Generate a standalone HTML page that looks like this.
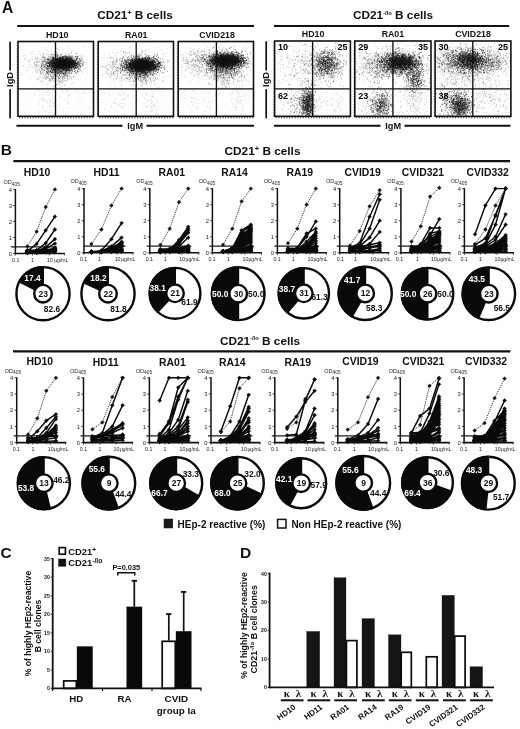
<!DOCTYPE html>
<html lang="en"><head><meta charset="utf-8"><title>Figure</title>
<style>
html,body{margin:0;padding:0;background:#fff}
svg{display:block;font-family:'Liberation Sans', sans-serif}
</style></head><body>
<svg width="520" height="729" viewBox="0 0 520 729">
<rect width="520" height="729" fill="#fff"/>
<text x="7.6" y="12.7" font-size="15.6" text-anchor="middle" font-weight="bold" fill="#111">A</text>
<text x="135" y="19.3" font-size="11.8" text-anchor="middle" font-weight="bold" fill="#111">CD21<tspan dy="-4" font-size="7">+</tspan><tspan dy="4"> B cells</tspan></text>
<line x1="17.2" y1="26" x2="254" y2="26" stroke="#111" stroke-width="1.9"/>
<text x="57.2" y="37.5" font-size="8.8" text-anchor="middle" font-weight="bold" fill="#111">HD10</text>
<text x="136.2" y="37.5" font-size="8.8" text-anchor="middle" font-weight="bold" fill="#111">RA01</text>
<text x="217" y="37.5" font-size="8.8" text-anchor="middle" font-weight="bold" fill="#111">CVID218</text>
<line x1="10.1" y1="41.8" x2="10.1" y2="70.6" stroke="#111" stroke-width="1.7"/>
<line x1="10.1" y1="89.2" x2="10.1" y2="118.3" stroke="#111" stroke-width="1.7"/>
<text x="12.9" y="79.4" font-size="9.3" text-anchor="middle" font-weight="bold" fill="#111" transform="rotate(-90 12.9 79.4)">IgD</text>
<line x1="16.4" y1="125.7" x2="122.5" y2="125.7" stroke="#111" stroke-width="1.9"/>
<line x1="146.5" y1="125.7" x2="254" y2="125.7" stroke="#111" stroke-width="1.9"/>
<text x="135.2" y="128.6" font-size="9.2" text-anchor="middle" font-weight="bold" fill="#111">IgM</text>
<text x="393" y="19.3" font-size="11.8" text-anchor="middle" font-weight="bold" fill="#111">CD21<tspan dy="-4.2" font-size="5.8">-/lo</tspan><tspan dy="4.2"> B cells</tspan></text>
<line x1="274" y1="26" x2="509.2" y2="26" stroke="#111" stroke-width="1.9"/>
<text x="313.1" y="37" font-size="8.8" text-anchor="middle" font-weight="bold" fill="#111">HD10</text>
<text x="392.9" y="37" font-size="8.8" text-anchor="middle" font-weight="bold" fill="#111">RA01</text>
<text x="473" y="37" font-size="8.8" text-anchor="middle" font-weight="bold" fill="#111">CVID218</text>
<line x1="266.2" y1="41.3" x2="266.2" y2="70.6" stroke="#111" stroke-width="1.7"/>
<line x1="266.2" y1="89.2" x2="266.2" y2="118.3" stroke="#111" stroke-width="1.7"/>
<text x="269" y="79.4" font-size="9.3" text-anchor="middle" font-weight="bold" fill="#111" transform="rotate(-90 269 79.4)">IgD</text>
<line x1="274" y1="125.7" x2="380.5" y2="125.7" stroke="#111" stroke-width="1.9"/>
<line x1="404.5" y1="125.7" x2="510.5" y2="125.7" stroke="#111" stroke-width="1.9"/>
<text x="393.2" y="128.6" font-size="9.2" text-anchor="middle" font-weight="bold" fill="#111">IgM</text>
<path transform="scale(.1)" d="m565 527h8m134 3h8m47 5h8m-340 4h8m174 4h8m-67 2h8m-3 0h8m9 1h8m-66 2h8m13 0h8m55 0h8m79 3h8m-127 1h8m-6 4h8m75 3h8m-14 2h8m161 0h8m-342 1h8m133 0h8m16 0h8m3 0h8m48 0h8m-7 0h8m-21 1h8m-141 1h8m99 0h8m3 0h8m-128 1h8m54 0h8m126 0h8m-117 1h8m12 0h8m66 0h8m-138 1h8m146 0h8m-264 1h8m74 0h8m30 1h8m45 0h8m69 0h8m-244 1h8m84 0h8m-2 0h8m132 0h8m-230 1h8m58 0h8m19 0h8m-7 0h8m10 0h8m1 0h8m28 0h8m-10 1h8m-203 1h8m11 0h8m124 0h8m-116 1h8m46 0h8m70 0h8m-66 1h8m37 0h8m-242 1h8m78 0h8m127 0h8m1 0h8m-40 1h8m-110 1h8m19 0h8m10 0h8m2 0h8m20 0h8m-6 0h8m46 0h8m-162 1h8m76 0h8m55 0h8m10 0h8m13 0h8m12 0h8m-194 1h8m26 0h8m2 0h8m3 0h8m-5 0h8m6 0h8m-3 0h8m91 0h8m-5 0h8m23 0h8m-146 1h8m45 0h8m26 0h8m69 0h8m-232 1h8m9 0h8m24 0h8m1 0h8m56 0h8m18 0h8m-177 1h8m2 0h8m-7 0h8m33 0h8m8 0h8m4 0h8m18 0h8m41 0h8m-3 0h8m-7 0h8m-6 0h8m-110 1h8m-1 0h8m24 0h8m-2 0h8m6 0h8m8 0h8m10 0h8m3 0h8m-4 0h8m-6 0h8m3 0h8m-2 0h8m85 0h8m-245 1h8m21 0h8m15 0h8m5 0h8m19 0h8m11 0h8m-5 0h8m18 0h8m-224 1h8m41 0h8m35 0h8m0 0h8m-2 0h8m13 0h8m-6 0h8m55 0h8m15 0h8m47 0h8m-306 1h8m70 0h8m14 0h8m80 0h8m-6 0h8m9 0h8m1 0h8m14 0h8m42 0h8m29 0h8m-318 1h8m40 0h8m24 0h8m0 0h8m24 0h8m11 0h8m-5 0h8m12 0h8m11 0h8m20 0h8m11 0h8m-4 0h8m44 0h8m-240 1h8m7 0h8m0 0h8m21 0h8m-1 0h8m-2 0h8m41 0h8m47 0h8m-136 1h8m16 0h8m3 0h8m10 0h8m47 0h8m10 0h8m-228 1h8m53 0h8m27 0h8m178 0h8m-294 1h8m31 0h8m0 0h8m54 0h8m31 0h8m32 0h8m-8 0h8m10 0h8m10 0h8m-236 1h8m22 0h8m-2 0h8m48 0h8m29 0h8m39 0h8m-2 0h8m-8 0h8m-7 0h8m-7 0h8m3 0h8m6 0h8m10 0h8m14 0h8m64 0h8m16 0h8m-286 1h8m7 0h8m16 0h8m29 0h8m37 0h8m8 0h8m4 0h8m3 0h8m58 0h8m-203 1h8m-6 0h8m-6 0h8m31 0h8m13 0h8m52 0h8m-1 0h8m-8 0h8m-236 1h8m43 0h8m-6 0h8m51 0h8m16 0h8m3 0h8m7 0h8m-7 0h8m-5 0h8m22 0h8m-2 0h8m0 0h8m-134 1h8m15 0h8m7 0h8m-6 0h8m5 0h8m-1 0h8m18 0h8m-206 1h8m73 0h8m-2 0h8m-4 0h8m16 0h8m3 0h8m-4 0h8m6 0h8m-6 0h8m1 0h8m14 0h8m18 0h8m1 0h8m1 0h8m35 0h8m8 0h8m25 0h8m-234 1h8m4 0h8m10 0h8m-6 0h8m31 0h8m25 0h8m-3 0h8m-7 0h8m-4 0h8m3 0h8m1 0h8m-4 0h8m-185 1h8m-3 0h8m6 0h8m8 0h8m21 0h8m-7 0h8m40 0h8m-8 0h8m8 0h8m-7 0h8m-8 0h8m-5 0h8m27 0h8m40 0h8m-5 0h8m-177 1h8m11 0h8m26 0h8m12 0h8m40 0h8m-7 0h8m35 0h8m3 0h8m0 0h8m2 0h8m-1 0h8m10 0h8m-244 1h8m1 0h8m6 0h8m38 0h8m26 0h8m-6 0h8m5 0h8m0 0h8m-4 0h8m18 0h8m0 0h8m43 0h8m-194 1h8m4 0h8m-4 0h8m6 0h8m7 0h8m26 0h8m-8 0h8m8 0h8m1 0h8m12 0h8m10 0h8m-4 0h8m95 0h8m-262 1h8m11 0h8m14 0h8m10 0h8m-6 0h8m-2 0h8m7 0h8m-2 0h8m11 0h8m12 0h8m-8 0h8m-6 0h8m-2 0h8m10 0h8m14 0h8m64 0h8m-312 1h8m17 0h8m-5 0h8m2 0h8m29 0h8m1 0h8m0 0h8m7 0h8m18 0h8m-7 0h8m-5 0h8m-6 0h8m12 0h8m6 0h8m-8 0h8m-4 0h8m-7 0h8m7 0h8m-2 0h8m-3 0h8m4 0h8m40 0h8m-282 1h8m27 0h8m33 0h8m-7 0h8m-7 0h8m-5 0h8m-6 0h8m1 0h8m27 0h8m-7 0h8m-2 0h8m0 0h8m1 0h8m4 0h8m-5 0h8m-4 0h8m-6 0h8m-3 0h8m-3 0h8m1 0h8m39 0h8m-2 0h8m-214 1h8m-7 0h8m14 0h8m8 0h8m8 0h8m3 0h8m10 0h8m-1 0h8m-3 0h8m2 0h8m49 0h8m1 0h8m-4 0h8m2 0h8m9 0h8m-1 0h8m4 0h8m-163 1h8m-7 0h8m3 0h8m-2 0h8m-5 0h8m2 0h8m4 0h8m-3 0h8m1 0h8m6 0h8m-5 0h8m-7 0h8m1 0h8m-1 0h8m-2 0h8m25 0h8m-7 0h8m-3 0h8m3 0h8m5 0h8m36 0h8m-288 1h8m0 0h8m-7 0h8m17 0h8m7 0h8m0 0h8m3 0h8m21 0h8m-7 0h8m-5 0h8m1 0h8m8 0h8m-6 0h8m-5 0h8m-6 0h8m36 0h8m-8 0h8m12 0h8m7 0h8m-7 0h8m-237 1h8m13 0h8m33 0h8m38 0h8m-5 0h8m-6 0h8m16 0h8m0 0h8m-6 0h8m-5 0h8m10 0h8m-4 0h8m13 0h8m3 0h8m-6 0h8m-291 1h8m50 0h8m96 0h8m2 0h8m-6 0h8m2 0h8m4 0h8m9 0h8m3 0h8m3 0h8m-7 0h8m-7 0h8m-8 0h8m18 0h8m38 0h8m8 0h8m-8 0h8m25 0h8m-222 1h8m2 0h8m3 0h8m-5 0h8m-8 0h8m2 0h8m-4 0h8m-7 0h8m-6 0h8m-2 0h8m-8 0h8m4 0h8m-5 0h8m-8 0h8m-7 0h8m-7 0h8m2 0h8m-6 0h8m6 0h8m2 0h8m-2 0h8m2 0h8m-3 0h8m-1 0h8m-6 0h8m-7 0h8m-191 1h8m-4 0h8m28 0h8m-4 0h8m15 0h8m4 0h8m7 0h8m-4 0h8m-6 0h8m1 0h8m-8 0h8m-6 0h8m-6 0h8m-2 0h8m-7 0h8m13 0h8m-5 0h8m-4 0h8m-3 0h8m-5 0h8m5 0h8m-2 0h8m6 0h8m-7 0h8m-4 0h8m-213 1h8m9 0h8m17 0h8m20 0h8m-7 0h8m-1 0h8m-5 0h8m2 0h8m-3 0h8m-8 0h8m7 0h8m-7 0h8m-1 0h8m-6 0h8m-5 0h8m-7 0h8m7 0h8m-6 0h8m-2 0h8m0 0h8m-6 0h8m40 0h8m-129 1h8m-5 0h8m-2 0h8m-8 0h8m-6 0h8m-7 0h8m-3 0h8m-7 0h8m-6 0h8m-3 0h8m-6 0h8m2 0h8m-5 0h8m1 0h8m-6 0h8m0 0h8m0 0h8m-6 0h8m-8 0h8m-3 0h8m-5 0h8m-8 0h8m0 0h8m5 0h8m-1 0h8m-5 0h8m9 0h8m-6 0h8m2 0h8m-304 1h8m101 0h8m-6 0h8m2 0h8m-7 0h8m7 0h8m7 0h8m10 0h8m20 0h8m-6 0h8m-6 0h8m-7 0h8m-7 0h8m-7 0h8m14 0h8m2 0h8m-5 0h8m35 0h8m3 0h8m54 0h8m10 0h8m14 0h8m-393 1h8m53 0h8m6 0h8m12 0h8m13 0h8m8 0h8m0 0h8m-7 0h8m0 0h8m-7 0h8m2 0h8m-6 0h8m-4 0h8m-5 0h8m-7 0h8m-7 0h8m-3 0h8m-5 0h8m-7 0h8m-4 0h8m-4 0h8m-5 0h8m-3 0h8m3 0h8m-5 0h8m-1 0h8m2 0h8m-7 0h8m-1 0h8m-6 0h8m12 0h8m-7 0h8m0 0h8m-7 0h8m-6 0h8m13 0h8m15 0h8m16 0h8m-253 1h8m-7 0h8m7 0h8m1 0h8m5 0h8m8 0h8m-7 0h8m22 0h8m-6 0h8m-7 0h8m10 0h8m-7 0h8m-7 0h8m-7 0h8m-4 0h8m-1 0h8m-4 0h8m-2 0h8m-3 0h8m-5 0h8m-7 0h8m13 0h8m-6 0h8m6 0h8m-3 0h8m3 0h8m-2 0h8m-1 0h8m-6 0h8m23 0h8m-304 1h8m48 0h8m31 0h8m0 0h8m5 0h8m-6 0h8m-6 0h8m1 0h8m-6 0h8m-2 0h8m-7 0h8m-7 0h8m2 0h8m-8 0h8m11 0h8m-1 0h8m-4 0h8m-7 0h8m-8 0h8m3 0h8m23 0h8m1 0h8m-8 0h8m5 0h8m26 0h8m-292 1h8m1 0h8m32 0h8m12 0h8m-1 0h8m0 0h8m-4 0h8m15 0h8m6 0h8m-7 0h8m16 0h8m-4 0h8m8 0h8m5 0h8m-8 0h8m-3 0h8m7 0h8m-2 0h8m47 0h8m12 0h8m33 0h8m-303 1h8m64 0h8m1 0h8m-7 0h8m-6 0h8m-4 0h8m-7 0h8m-2 0h8m-3 0h8m4 0h8m-6 0h8m-2 0h8m-7 0h8m-3 0h8m-3 0h8m0 0h8m-6 0h8m-8 0h8m3 0h8m-6 0h8m-6 0h8m-7 0h8m-8 0h8m0 0h8m0 0h8m-2 0h8m-6 0h8m-3 0h8m-5 0h8m-3 0h8m7 0h8m-7 0h8m-6 0h8m1 0h8m1 0h8m-4 0h8m12 0h8m-333 1h8m49 0h8m7 0h8m35 0h8m-5 0h8m16 0h8m-8 0h8m-8 0h8m-7 0h8m-1 0h8m3 0h8m-6 0h8m-2 0h8m0 0h8m9 0h8m-3 0h8m0 0h8m-5 0h8m-7 0h8m-6 0h8m3 0h8m-6 0h8m-7 0h8m-1 0h8m0 0h8m8 0h8m-2 0h8m8 0h8m20 0h8m-248 1h8m1 0h8m30 0h8m30 0h8m-8 0h8m-6 0h8m-2 0h8m-7 0h8m13 0h8m-5 0h8m0 0h8m-3 0h8m8 0h8m-3 0h8m-4 0h8m0 0h8m7 0h8m-3 0h8m0 0h8m-4 0h8m-3 0h8m16 0h8m-5 0h8m0 0h8m15 0h8m8 0h8m-287 1h8m26 0h8m-1 0h8m-5 0h8m5 0h8m6 0h8m4 0h8m-8 0h8m-3 0h8m-3 0h8m-8 0h8m-5 0h8m-7 0h8m-7 0h8m-7 0h8m-6 0h8m-6 0h8m-5 0h8m-6 0h8m-6 0h8m-4 0h8m5 0h8m-6 0h8m-1 0h8m-3 0h8m-7 0h8m-1 0h8m-1 0h8m-7 0h8m-1 0h8m-4 0h8m-6 0h8m-1 0h8m-2 0h8m7 0h8m-7 0h8m-6 0h8m-2 0h8m-1 0h8m-7 0h8m-5 0h8m3 0h8m-7 0h8m13 0h8m85 0h8m-346 1h8m-1 0h8m0 0h8m17 0h8m12 0h8m1 0h8m3 0h8m5 0h8m-5 0h8m-8 0h8m19 0h8m-7 0h8m-6 0h8m-6 0h8m-5 0h8m-3 0h8m-7 0h8m-6 0h8m-6 0h8m-1 0h8m0 0h8m8 0h8m-4 0h8m-6 0h8m-5 0h8m16 0h8m-4 0h8m0 0h8m0 0h8m51 0h8m-266 1h8m1 0h8m39 0h8m4 0h8m15 0h8m2 0h8m-6 0h8m-6 0h8m-5 0h8m-2 0h8m-7 0h8m-7 0h8m-5 0h8m-3 0h8m2 0h8m-8 0h8m0 0h8m-1 0h8m2 0h8m-4 0h8m0 0h8m-4 0h8m1 0h8m-6 0h8m7 0h8m-7 0h8m-7 0h8m-1 0h8m-5 0h8m8 0h8m-7 0h8m-232 1h8m7 0h8m1 0h8m14 0h8m-4 0h8m-8 0h8m13 0h8m-4 0h8m-5 0h8m0 0h8m-6 0h8m-8 0h8m-1 0h8m-7 0h8m13 0h8m-5 0h8m9 0h8m-8 0h8m40 0h8m-4 0h8m40 0h8m-218 1h8m-2 0h8m-5 0h8m4 0h8m7 0h8m9 0h8m-3 0h8m-7 0h8m6 0h8m-2 0h8m6 0h8m-3 0h8m-8 0h8m-6 0h8m-6 0h8m-4 0h8m-6 0h8m-3 0h8m-5 0h8m-2 0h8m12 0h8m13 0h8m0 0h8m12 0h8m35 0h8m-292 1h8m8 0h8m21 0h8m8 0h8m-4 0h8m12 0h8m-4 0h8m3 0h8m-3 0h8m-1 0h8m-5 0h8m4 0h8m-6 0h8m3 0h8m-6 0h8m-7 0h8m-7 0h8m7 0h8m-5 0h8m-7 0h8m-8 0h8m-6 0h8m-1 0h8m-7 0h8m-7 0h8m0 0h8m-6 0h8m9 0h8m1 0h8m25 0h8m-288 1h8m65 0h8m-1 0h8m3 0h8m-7 0h8m-6 0h8m-3 0h8m-6 0h8m-2 0h8m8 0h8m3 0h8m-8 0h8m1 0h8m-4 0h8m6 0h8m7 0h8m-8 0h8m-5 0h8m-5 0h8m-3 0h8m-3 0h8m-3 0h8m-6 0h8m4 0h8m-5 0h8m-6 0h8m0 0h8m2 0h8m-3 0h8m-7 0h8m37 0h8m-214 1h8m8 0h8m-6 0h8m-2 0h8m-8 0h8m-6 0h8m-1 0h8m-3 0h8m-2 0h8m1 0h8m5 0h8m1 0h8m-3 0h8m-6 0h8m-2 0h8m-3 0h8m-4 0h8m-3 0h8m10 0h8m42 0h8m10 0h8m-4 0h8m21 0h8m-289 1h8m2 0h8m1 0h8m-4 0h8m0 0h8m5 0h8m10 0h8m2 0h8m9 0h8m-7 0h8m-3 0h8m1 0h8m-8 0h8m-8 0h8m-7 0h8m-6 0h8m-6 0h8m2 0h8m1 0h8m-7 0h8m-1 0h8m-7 0h8m-8 0h8m-4 0h8m10 0h8m-7 0h8m-3 0h8m-6 0h8m-7 0h8m-6 0h8m-3 0h8m-5 0h8m-2 0h8m2 0h8m4 0h8m17 0h8m14 0h8m-3 0h8m-7 0h8m-4 0h8m19 0h8m-246 1h8m-4 0h8m6 0h8m-5 0h8m1 0h8m4 0h8m-2 0h8m-3 0h8m-4 0h8m-7 0h8m1 0h8m1 0h8m-5 0h8m-2 0h8m-7 0h8m-2 0h8m-4 0h8m-1 0h8m2 0h8m12 0h8m-2 0h8m-2 0h8m2 0h8m-6 0h8m-7 0h8m14 0h8m-4 0h8m8 0h8m-8 0h8m1 0h8m-291 1h8m4 0h8m15 0h8m28 0h8m15 0h8m-4 0h8m-8 0h8m1 0h8m-5 0h8m8 0h8m15 0h8m-6 0h8m-3 0h8m-7 0h8m-4 0h8m0 0h8m-7 0h8m-5 0h8m3 0h8m-3 0h8m-7 0h8m13 0h8m1 0h8m-4 0h8m-4 0h8m0 0h8m-1 0h8m-8 0h8m-5 0h8m-1 0h8m4 0h8m-3 0h8m-3 0h8m-1 0h8m-2 0h8m-1 0h8m4 0h8m-296 1h8m26 0h8m-6 0h8m-3 0h8m24 0h8m-2 0h8m28 0h8m-7 0h8m-1 0h8m2 0h8m13 0h8m-2 0h8m-7 0h8m-3 0h8m-5 0h8m-3 0h8m-3 0h8m-2 0h8m-7 0h8m13 0h8m-5 0h8m-5 0h8m-6 0h8m-7 0h8m47 0h8m-7 0h8m-3 0h8m0 0h8m29 0h8m-333 1h8m6 0h8m24 0h8m11 0h8m-1 0h8m16 0h8m1 0h8m-8 0h8m8 0h8m-4 0h8m-3 0h8m1 0h8m-1 0h8m-5 0h8m-7 0h8m1 0h8m-6 0h8m-7 0h8m-8 0h8m15 0h8m-4 0h8m-4 0h8m-6 0h8m-1 0h8m0 0h8m-4 0h8m1 0h8m2 0h8m-8 0h8m-3 0h8m-2 0h8m-7 0h8m38 0h8m41 0h8m-361 1h8m19 0h8m52 0h8m14 0h8m-5 0h8m-3 0h8m-8 0h8m2 0h8m-7 0h8m-6 0h8m-6 0h8m-4 0h8m-7 0h8m-6 0h8m6 0h8m-5 0h8m-8 0h8m-3 0h8m5 0h8m-6 0h8m-6 0h8m-5 0h8m-6 0h8m-6 0h8m-4 0h8m2 0h8m-6 0h8m-3 0h8m3 0h8m-7 0h8m10 0h8m7 0h8m16 0h8m-336 1h8m83 0h8m-4 0h8m-5 0h8m6 0h8m8 0h8m3 0h8m2 0h8m29 0h8m1 0h8m-1 0h8m2 0h8m-5 0h8m-7 0h8m-3 0h8m0 0h8m-7 0h8m1 0h8m-3 0h8m-7 0h8m-7 0h8m-7 0h8m-3 0h8m-6 0h8m-1 0h8m-7 0h8m1 0h8m-8 0h8m-6 0h8m1 0h8m-6 0h8m14 0h8m-2 0h8m9 0h8m36 0h8m-372 1h8m94 0h8m-6 0h8m10 0h8m-7 0h8m-3 0h8m-2 0h8m0 0h8m12 0h8m-6 0h8m-7 0h8m1 0h8m-7 0h8m-8 0h8m-7 0h8m3 0h8m-5 0h8m-6 0h8m-1 0h8m1 0h8m-5 0h8m-5 0h8m-3 0h8m-5 0h8m-7 0h8m-1 0h8m-1 0h8m3 0h8m-5 0h8m-8 0h8m-3 0h8m12 0h8m10 0h8m-6 0h8m56 0h8m-268 1h8m6 0h8m-5 0h8m7 0h8m-6 0h8m0 0h8m-5 0h8m5 0h8m-8 0h8m-4 0h8m5 0h8m-7 0h8m8 0h8m-2 0h8m-7 0h8m-6 0h8m3 0h8m-7 0h8m-7 0h8m-8 0h8m-7 0h8m2 0h8m0 0h8m-7 0h8m-7 0h8m3 0h8m8 0h8m-8 0h8m-7 0h8m14 0h8m-6 0h8m-6 0h8m-3 0h8m2 0h8m-228 1h8m7 0h8m-1 0h8m22 0h8m2 0h8m-6 0h8m-2 0h8m21 0h8m-7 0h8m16 0h8m-8 0h8m-7 0h8m-5 0h8m-7 0h8m-3 0h8m-3 0h8m-6 0h8m6 0h8m-6 0h8m-5 0h8m-6 0h8m-1 0h8m-3 0h8m-8 0h8m-7 0h8m13 0h8m-5 0h8m-4 0h8m12 0h8m2 0h8m12 0h8m-279 1h8m9 0h8m5 0h8m22 0h8m2 0h8m-5 0h8m-3 0h8m-3 0h8m-1 0h8m-7 0h8m8 0h8m-4 0h8m12 0h8m-4 0h8m-4 0h8m-8 0h8m3 0h8m-5 0h8m1 0h8m4 0h8m-5 0h8m-8 0h8m4 0h8m1 0h8m-6 0h8m-2 0h8m-1 0h8m-2 0h8m-4 0h8m4 0h8m54 0h8m-229 1h8m-1 0h8m13 0h8m1 0h8m-5 0h8m-3 0h8m-7 0h8m-5 0h8m-2 0h8m-6 0h8m3 0h8m-6 0h8m1 0h8m2 0h8m-4 0h8m-5 0h8m-6 0h8m-8 0h8m4 0h8m5 0h8m-4 0h8m-7 0h8m-8 0h8m-4 0h8m1 0h8m4 0h8m5 0h8m34 0h8m42 0h8m-393 1h8m8 0h8m40 0h8m58 0h8m16 0h8m-3 0h8m-3 0h8m5 0h8m7 0h8m-5 0h8m-4 0h8m0 0h8m-6 0h8m-5 0h8m-5 0h8m-1 0h8m-4 0h8m-8 0h8m-4 0h8m-8 0h8m-8 0h8m0 0h8m0 0h8m11 0h8m-7 0h8m-1 0h8m20 0h8m-7 0h8m-254 1h8m93 0h8m-2 0h8m1 0h8m-8 0h8m-3 0h8m-7 0h8m-8 0h8m-8 0h8m-7 0h8m-7 0h8m8 0h8m-3 0h8m-2 0h8m1 0h8m5 0h8m-6 0h8m-3 0h8m-5 0h8m15 0h8m1 0h8m-3 0h8m7 0h8m-1 0h8m-190 1h8m-7 0h8m2 0h8m-5 0h8m-6 0h8m-4 0h8m9 0h8m0 0h8m-5 0h8m-6 0h8m-4 0h8m-6 0h8m1 0h8m-4 0h8m-2 0h8m-3 0h8m2 0h8m-7 0h8m0 0h8m-6 0h8m-5 0h8m0 0h8m7 0h8m8 0h8m13 0h8m-3 0h8m-7 0h8m-7 0h8m7 0h8m0 0h8m-8 0h8m-7 0h8m16 0h8m5 0h8m-226 1h8m12 0h8m5 0h8m-5 0h8m-4 0h8m12 0h8m-5 0h8m-8 0h8m-3 0h8m-7 0h8m-7 0h8m-5 0h8m12 0h8m-8 0h8m-4 0h8m-6 0h8m-7 0h8m-8 0h8m-2 0h8m-7 0h8m-5 0h8m2 0h8m-2 0h8m9 0h8m6 0h8m4 0h8m-250 1h8m46 0h8m-2 0h8m2 0h8m-5 0h8m-1 0h8m0 0h8m-7 0h8m1 0h8m-7 0h8m-7 0h8m9 0h8m-4 0h8m-7 0h8m8 0h8m-5 0h8m0 0h8m-6 0h8m-4 0h8m-1 0h8m4 0h8m4 0h8m-8 0h8m-7 0h8m-6 0h8m-8 0h8m-6 0h8m-3 0h8m17 0h8m-7 0h8m-1 0h8m-298 1h8m48 0h8m43 0h8m-6 0h8m-2 0h8m-2 0h8m-8 0h8m-1 0h8m-1 0h8m-7 0h8m8 0h8m-3 0h8m3 0h8m-4 0h8m-7 0h8m-3 0h8m-6 0h8m-3 0h8m2 0h8m-3 0h8m-5 0h8m2 0h8m-5 0h8m-1 0h8m-3 0h8m-6 0h8m3 0h8m-2 0h8m-1 0h8m-3 0h8m33 0h8m-6 0h8m15 0h8m-3 0h8m-276 1h8m20 0h8m5 0h8m-1 0h8m2 0h8m1 0h8m-7 0h8m-8 0h8m6 0h8m-5 0h8m-4 0h8m-4 0h8m-2 0h8m-7 0h8m-8 0h8m-6 0h8m2 0h8m-2 0h8m-4 0h8m-3 0h8m-6 0h8m-4 0h8m-8 0h8m-4 0h8m-8 0h8m-1 0h8m1 0h8m-8 0h8m-2 0h8m0 0h8m-8 0h8m-6 0h8m-7 0h8m21 0h8m-2 0h8m9 0h8m-1 0h8m11 0h8m68 0h8m-471 1h8m134 0h8m8 0h8m-2 0h8m-8 0h8m36 0h8m-4 0h8m-3 0h8m-5 0h8m5 0h8m11 0h8m0 0h8m-7 0h8m-6 0h8m-5 0h8m-5 0h8m-5 0h8m6 0h8m-6 0h8m-4 0h8m-4 0h8m-2 0h8m-7 0h8m-5 0h8m-7 0h8m-1 0h8m-5 0h8m-4 0h8m8 0h8m-1 0h8m18 0h8m23 0h8m-307 1h8m53 0h8m8 0h8m7 0h8m-2 0h8m5 0h8m-1 0h8m-4 0h8m0 0h8m-5 0h8m-7 0h8m2 0h8m4 0h8m1 0h8m-6 0h8m-8 0h8m-5 0h8m-5 0h8m-3 0h8m-6 0h8m-8 0h8m-4 0h8m16 0h8m-8 0h8m-4 0h8m4 0h8m0 0h8m-8 0h8m9 0h8m-3 0h8m-7 0h8m-7 0h8m35 0h8m20 0h8m-5 0h8m-381 1h8m92 0h8m33 0h8m-5 0h8m5 0h8m-4 0h8m-2 0h8m-5 0h8m5 0h8m2 0h8m-6 0h8m-3 0h8m1 0h8m-5 0h8m-1 0h8m-7 0h8m-6 0h8m-3 0h8m-3 0h8m-8 0h8m-8 0h8m-3 0h8m-5 0h8m-3 0h8m12 0h8m-3 0h8m-3 0h8m1 0h8m11 0h8m25 0h8m66 0h8m-314 1h8m32 0h8m6 0h8m8 0h8m-5 0h8m-6 0h8m12 0h8m-5 0h8m9 0h8m4 0h8m-2 0h8m-7 0h8m-5 0h8m8 0h8m-3 0h8m-3 0h8m-4 0h8m-3 0h8m-3 0h8m-8 0h8m3 0h8m4 0h8m20 0h8m-7 0h8m-225 1h8m-7 0h8m-5 0h8m0 0h8m-3 0h8m14 0h8m5 0h8m-4 0h8m14 0h8m4 0h8m4 0h8m1 0h8m-5 0h8m9 0h8m2 0h8m-3 0h8m0 0h8m11 0h8m-5 0h8m14 0h8m-2 0h8m-280 1h8m51 0h8m38 0h8m-3 0h8m-8 0h8m6 0h8m-3 0h8m0 0h8m5 0h8m-6 0h8m-4 0h8m-4 0h8m-7 0h8m3 0h8m-6 0h8m6 0h8m-5 0h8m-7 0h8m6 0h8m4 0h8m14 0h8m36 0h8m-275 1h8m29 0h8m16 0h8m1 0h8m23 0h8m1 0h8m1 0h8m1 0h8m-2 0h8m1 0h8m1 0h8m-7 0h8m5 0h8m12 0h8m-3 0h8m-6 0h8m1 0h8m5 0h8m-1 0h8m20 0h8m15 0h8m42 0h8m-299 1h8m18 0h8m19 0h8m-7 0h8m-5 0h8m0 0h8m-8 0h8m-6 0h8m-8 0h8m-5 0h8m-1 0h8m3 0h8m-1 0h8m-8 0h8m15 0h8m1 0h8m7 0h8m5 0h8m0 0h8m-1 0h8m-1 0h8m33 0h8m-1 0h8m19 0h8m-285 1h8m15 0h8m36 0h8m26 0h8m0 0h8m-7 0h8m-2 0h8m-8 0h8m-2 0h8m-4 0h8m-4 0h8m-4 0h8m-5 0h8m-8 0h8m3 0h8m-6 0h8m-2 0h8m-5 0h8m-7 0h8m-2 0h8m-1 0h8m-1 0h8m-5 0h8m6 0h8m21 0h8m19 0h8m41 0h8m-284 1h8m25 0h8m28 0h8m1 0h8m-3 0h8m8 0h8m-6 0h8m-7 0h8m0 0h8m-4 0h8m-5 0h8m-4 0h8m-4 0h8m-6 0h8m-3 0h8m-3 0h8m0 0h8m-6 0h8m1 0h8m6 0h8m-7 0h8m-5 0h8m59 0h8m3 0h8m-284 1h8m6 0h8m1 0h8m15 0h8m0 0h8m-1 0h8m-6 0h8m7 0h8m-5 0h8m-2 0h8m16 0h8m3 0h8m-3 0h8m5 0h8m26 0h8m2 0h8m-4 0h8m2 0h8m10 0h8m-8 0h8m27 0h8m-339 1h8m56 0h8m15 0h8m44 0h8m2 0h8m23 0h8m29 0h8m2 0h8m-3 0h8m-8 0h8m7 0h8m13 0h8m10 0h8m-4 0h8m-4 0h8m17 0h8m-8 0h8m-209 1h8m-2 0h8m11 0h8m21 0h8m30 0h8m-4 0h8m-8 0h8m-6 0h8m3 0h8m-3 0h8m-3 0h8m9 0h8m-6 0h8m-7 0h8m44 0h8m-6 0h8m-1 0h8m38 0h8m18 0h8m-290 1h8m37 0h8m8 0h8m3 0h8m-5 0h8m-2 0h8m-3 0h8m34 0h8m-6 0h8m4 0h8m2 0h8m51 0h8m36 0h8m-178 1h8m1 0h8m28 0h8m0 0h8m-5 0h8m-5 0h8m-3 0h8m-4 0h8m-208 1h8m59 0h8m3 0h8m-2 0h8m12 0h8m-3 0h8m13 0h8m1 0h8m12 0h8m-7 0h8m13 0h8m-5 0h8m2 0h8m12 0h8m0 0h8m8 0h8m0 0h8m19 0h8m-387 1h8m113 0h8m-5 0h8m-1 0h8m4 0h8m52 0h8m14 0h8m-8 0h8m3 0h8m20 0h8m1 0h8m-6 0h8m-1 0h8m-7 0h8m5 0h8m1 0h8m-2 0h8m-4 0h8m-4 0h8m-3 0h8m-6 0h8m-5 0h8m-6 0h8m14 0h8m3 0h8m15 0h8m-294 1h8m57 0h8m7 0h8m12 0h8m-6 0h8m20 0h8m0 0h8m-1 0h8m13 0h8m-3 0h8m4 0h8m-2 0h8m-6 0h8m-4 0h8m-5 0h8m0 0h8m-151 1h8m17 0h8m-7 0h8m-3 0h8m22 0h8m25 0h8m-6 0h8m0 0h8m3 0h8m-1 0h8m-6 0h8m15 0h8m12 0h8m80 0h8m-279 1h8m-3 0h8m-1 0h8m9 0h8m9 0h8m4 0h8m-1 0h8m-4 0h8m3 0h8m1 0h8m6 0h8m2 0h8m-8 0h8m30 0h8m4 0h8m2 0h8m9 0h8m8 0h8m20 0h8m-258 1h8m13 0h8m38 0h8m-8 0h8m14 0h8m-7 0h8m16 0h8m7 0h8m7 0h8m9 0h8m0 0h8m-8 0h8m18 0h8m9 0h8m9 0h8m4 0h8m17 0h8m-174 1h8m7 0h8m2 0h8m34 0h8m0 0h8m8 0h8m9 0h8m29 0h8m21 0h8m-211 1h8m34 0h8m-3 0h8m7 0h8m42 0h8m0 0h8m-8 0h8m53 0h8m5 0h8m29 0h8m-266 1h8m13 0h8m-2 0h8m-5 0h8m-3 0h8m-6 0h8m-6 0h8m11 0h8m-2 0h8m14 0h8m1 0h8m-7 0h8m2 0h8m12 0h8m-6 0h8m5 0h8m-8 0h8m12 0h8m2 0h8m25 0h8m-235 1h8m-4 0h8m-1 0h8m1 0h8m8 0h8m38 0h8m6 0h8m15 0h8m-7 0h8m-4 0h8m1 0h8m11 0h8m17 0h8m4 0h8m-1 0h8m5 0h8m-179 1h8m41 0h8m8 0h8m-4 0h8m-1 0h8m-5 0h8m-6 0h8m3 0h8m-2 0h8m27 0h8m6 0h8m-141 1h8m-1 0h8m18 0h8m5 0h8m-3 0h8m13 0h8m-2 0h8m26 0h8m-4 0h8m0 0h8m6 0h8m-152 1h8m2 0h8m12 0h8m26 0h8m-3 0h8m0 0h8m-3 0h8m27 0h8m0 0h8m0 0h8m5 0h8m31 0h8m6 0h8m-248 1h8m-4 0h8m23 0h8m21 0h8m24 0h8m-8 0h8m19 0h8m3 0h8m66 0h8m-320 1h8m35 0h8m45 0h8m143 0h8m5 0h8m30 0h8m8 0h8m11 0h8m5 0h8m-291 1h8m42 0h8m95 0h8m-6 0h8m54 0h8m-226 1h8m60 0h8m4 0h8m13 0h8m-7 0h8m-2 0h8m16 0h8m-1 0h8m57 0h8m-205 1h8m79 0h8m-1 0h8m5 0h8m-1 0h8m2 0h8m-1 0h8m0 0h8m26 0h8m121 0h8m-252 1h8m25 0h8m-6 0h8m-7 0h8m1 0h8m-3 0h8m177 0h8m-381 1h8m136 0h8m-1 0h8m64 0h8m28 0h8m37 0h8m44 0h8m-304 1h8m104 0h8m32 0h8m15 0h8m22 0h8m-213 1h8m34 0h8m49 0h8m40 0h8m-5 0h8m4 0h8m21 0h8m-4 0h8m3 0h8m8 0h8m8 0h8m0 0h8m-142 1h8m43 0h8m11 0h8m12 0h8m60 0h8m-242 1h8m103 0h8m6 0h8m-1 0h8m25 0h8m15 0h8m-230 1h8m61 0h8m0 0h8m4 0h8m-1 0h8m43 0h8m-3 0h8m0 0h8m6 0h8m-2 1h8m3 0h8m41 0h8m24 0h8m-4 0h8m-151 1h8m19 0h8m-128 1h8m13 0h8m42 0h8m73 0h8m12 0h8m-227 1h8m67 0h8m126 0h8m14 0h8m82 0h8m-242 1h8m-6 0h8m32 0h8m25 0h8m42 0h8m-29 1h8m2 0h8m-122 1h8m11 0h8m-3 0h8m63 0h8m37 0h8m-143 1h8m13 0h8m53 0h8m12 0h8m-149 1h8m98 0h8m29 0h8m3 0h8m39 0h8m-288 1h8m186 0h8m2 0h8m32 0h8m-15 1h8m-128 1h8m93 0h8m33 0h8m0 0h8m2 0h8m80 0h8m-257 1h8m67 0h8m49 0h8m-152 1h8m-4 0h8m13 0h8m70 0h8m11 0h8m-3 0h8m-125 1h8m128 0h8m-174 1h8m139 0h8m94 0h8m-107 1h8m-84 1h8m4 0h8m138 0h8m-281 1h8m14 0h8m158 0h8m28 0h8m-170 1h8m94 0h8m66 0h8m-114 1h8m-122 1h8m174 0h8m-192 1h8m4 0h8m59 0h8m16 0h8m130 0h8m-250 1h8m-43 1h8m182 0h8m119 0h8m-177 1h8m6 0h8m31 3h8m-198 1h8m19 0h8m49 0h8m125 0h8m73 0h8m-181 1h8m-7 0h8m13 0h8m126 3h8m-115 1h8m-143 1h8m-50 2h8m173 0h8m16 1h8m-104 1h8m128 1h8m-74 1h8m52 0h8m-88 3h8m-3 2h8m54 3h8m-50 6h8m-22 16h8" stroke="#1a1a1a" stroke-width="8" stroke-opacity="0.85" fill="none"/>
<path transform="scale(.1)" d="m567 485h7m15 8h7m-128 9h7m240 5h7m-211 1h7m-127 12h7m-96 1h7m256 10h7m81 2h7m-201 2h7m-151 5h7m182 0h7m24 0h7m137 0h7m-7 1h7m-133 1h7m-213 3h7m137 0h7m57 1h7m-52 2h7m29 1h7m-31 1h7m18 0h7m59 0h7m-111 1h7m-111 1h7m17 0h7m30 0h7m108 1h7m-39 2h7m15 1h7m87 0h7m-423 1h7m307 0h7m198 0h7m11 0h7m-194 1h7m-372 2h7m310 0h7m35 0h7m45 0h7m-216 1h7m258 0h7m-292 1h7m299 0h7m-85 1h7m100 0h7m-331 1h7m96 0h7m117 0h7m-218 1h7m124 0h7m39 0h7m-128 1h7m51 0h7m41 0h7m19 0h7m-52 1h7m156 1h7m-324 1h7m59 0h7m97 0h7m42 0h7m73 0h7m62 1h7m-219 1h7m79 0h7m-364 1h7m309 0h7m-124 1h7m141 0h7m-219 1h7m19 0h7m6 0h7m36 0h7m-121 1h7m281 0h7m-364 1h7m186 1h7m61 0h7m35 0h7m-404 1h7m160 0h7m172 0h7m-199 1h7m15 0h7m289 0h7m2 0h7m-192 1h7m90 0h7m-212 1h7m-5 0h7m174 0h7m32 0h7m-42 1h7m14 0h7m-292 1h7m244 0h7m-87 1h7m13 0h7m30 0h7m75 0h7m-159 1h7m236 0h7m-216 1h7m57 0h7m-259 1h7m61 0h7m28 0h7m40 0h7m32 0h7m97 0h7m-278 1h7m193 0h7m30 0h7m-286 1h7m187 0h7m12 0h7m23 0h7m0 0h7m-246 1h7m44 0h7m251 0h7m-37 1h7m83 0h7m-496 1h7m205 0h7m57 0h7m5 0h7m102 0h7m-179 1h7m53 0h7m3 0h7m8 0h7m34 0h7m179 0h7m-161 1h7m33 0h7m-211 1h7m107 0h7m81 0h7m-194 1h7m79 0h7m-251 1h7m108 0h7m7 0h7m114 0h7m9 0h7m-7 0h7m163 0h7m-465 1h7m140 0h7m115 0h7m1 0h7m4 0h7m28 0h7m2 0h7m170 0h7m-258 1h7m41 0h7m-243 1h7m111 0h7m108 0h7m-204 1h7m8 0h7m5 0h7m171 0h7m123 0h7m-230 1h7m67 0h7m63 0h7m-3 0h7m-179 1h7m133 0h7m-164 1h7m123 0h7m-156 1h7m101 0h7m77 0h7m-134 1h7m140 0h7m-96 1h7m42 0h7m224 0h7m-406 1h7m42 0h7m35 0h7m1 0h7m1 0h7m51 0h7m25 0h7m-90 1h7m-140 1h7m64 0h7m78 0h7m91 0h7m-406 1h7m142 0h7m56 0h7m52 0h7m145 0h7m-284 1h7m5 0h7m101 0h7m61 0h7m72 0h7m32 0h7m-415 1h7m12 0h7m10 0h7m10 0h7m116 0h7m124 0h7m11 0h7m142 0h7m-542 1h7m326 0h7m-205 1h7m92 0h7m87 0h7m76 0h7m-303 1h7m33 0h7m108 0h7m44 0h7m-151 1h7m-7 0h7m125 0h7m23 0h7m16 0h7m-149 1h7m35 0h7m16 0h7m-6 0h7m9 0h7m-52 1h7m18 0h7m11 0h7m45 0h7m-268 1h7m-1 0h7m144 0h7m-2 0h7m-7 0h7m106 0h7m33 0h7m30 0h7m76 0h7m-448 1h7m90 0h7m1 0h7m62 0h7m-4 0h7m-206 1h7m176 0h7m83 0h7m9 0h7m0 0h7m22 0h7m-122 1h7m47 0h7m8 0h7m17 0h7m64 0h7m-292 1h7m69 0h7m19 0h7m69 0h7m61 0h7m1 0h7m62 0h7m-390 1h7m27 0h7m70 0h7m-4 0h7m25 0h7m1 0h7m36 0h7m79 0h7m-209 1h7m-7 0h7m97 0h7m-2 0h7m5 0h7m23 0h7m6 0h7m10 0h7m-4 0h7m11 0h7m39 0h7m4 0h7m58 0h7m62 0h7m-348 1h7m162 0h7m47 0h7m-192 1h7m44 0h7m1 0h7m0 0h7m19 0h7m9 0h7m-294 1h7m58 0h7m20 0h7m24 0h7m27 0h7m20 0h7m150 0h7m149 0h7m-272 1h7m5 0h7m14 0h7m17 0h7m32 0h7m52 0h7m-224 1h7m28 0h7m64 0h7m6 0h7m-4 0h7m138 0h7m-466 1h7m105 0h7m6 0h7m47 0h7m-5 0h7m-4 0h7m0 0h7m18 0h7m-20 1h7m3 0h7m26 0h7m4 0h7m92 0h7m-223 1h7m1 0h7m5 0h7m19 0h7m16 0h7m26 0h7m-4 0h7m67 0h7m-179 1h7m31 0h7m3 0h7m32 0h7m2 0h7m36 0h7m14 0h7m31 0h7m13 0h7m-155 1h7m-4 0h7m125 0h7m-5 0h7m-238 1h7m1 0h7m-6 0h7m37 0h7m6 0h7m37 0h7m187 0h7m-283 1h7m-7 0h7m65 0h7m29 0h7m80 0h7m-408 1h7m184 0h7m50 0h7m-4 0h7m0 0h7m6 0h7m5 0h7m44 0h7m4 0h7m149 0h7m-456 1h7m69 0h7m117 0h7m110 0h7m-6 0h7m1 0h7m18 0h7m94 0h7m-261 1h7m-1 0h7m90 0h7m164 0h7m-416 1h7m29 0h7m12 0h7m75 0h7m106 0h7m121 0h7m-293 1h7m94 0h7m65 0h7m63 0h7m-229 1h7m4 0h7m10 0h7m6 0h7m-2 0h7m9 0h7m24 0h7m20 0h7m20 0h7m28 0h7m21 0h7m-230 1h7m0 0h7m13 0h7m47 0h7m8 0h7m-2 0h7m68 0h7m7 0h7m-1 0h7m14 0h7m-424 1h7m297 0h7m52 0h7m0 0h7m-315 1h7m182 0h7m41 0h7m42 0h7m13 0h7m14 0h7m0 0h7m62 0h7m12 0h7m-423 1h7m125 0h7m30 0h7m13 0h7m17 0h7m130 0h7m-368 1h7m150 0h7m62 0h7m15 0h7m1 0h7m14 0h7m-3 0h7m154 0h7m-317 1h7m87 0h7m19 0h7m1 0h7m41 0h7m-331 1h7m44 0h7m73 0h7m114 0h7m124 0h7m-209 1h7m20 0h7m2 0h7m27 0h7m2 0h7m29 0h7m55 0h7m7 0h7m-489 1h7m234 0h7m25 0h7m49 0h7m-3 0h7m2 0h7m8 0h7m30 0h7m61 0h7m-248 1h7m69 0h7m48 0h7m-5 0h7m2 0h7m7 0h7m74 0h7m8 0h7m-2 0h7m52 0h7m-393 1h7m106 0h7m9 0h7m69 0h7m62 0h7m46 0h7m-5 0h7m10 0h7m98 0h7m-361 1h7m5 0h7m19 0h7m58 0h7m-4 0h7m14 0h7m-6 0h7m56 0h7m-5 0h7m28 0h7m-290 1h7m38 0h7m-6 0h7m65 0h7m11 0h7m15 0h7m8 0h7m8 0h7m-5 0h7m41 0h7m-7 0h7m25 0h7m22 0h7m-288 1h7m19 0h7m31 0h7m19 0h7m27 0h7m41 0h7m21 0h7m20 0h7m-4 0h7m-342 1h7m68 0h7m33 0h7m62 0h7m6 0h7m27 0h7m41 0h7m14 0h7m24 0h7m3 0h7m49 0h7m38 0h7m-372 1h7m-3 0h7m6 0h7m33 0h7m42 0h7m-4 0h7m10 0h7m74 0h7m11 0h7m88 0h7m-266 1h7m1 0h7m8 0h7m-4 0h7m71 0h7m90 0h7m14 0h7m-266 1h7m71 0h7m0 0h7m-7 0h7m18 0h7m67 0h7m-5 0h7m-221 1h7m58 0h7m-5 0h7m2 0h7m58 0h7m58 0h7m-3 0h7m39 0h7m-235 1h7m124 0h7m14 0h7m6 0h7m44 0h7m-364 1h7m52 0h7m79 0h7m26 0h7m49 0h7m10 0h7m21 0h7m22 0h7m15 0h7m4 0h7m83 0h7m-2 0h7m-296 1h7m26 0h7m17 0h7m69 0h7m4 0h7m203 0h7m3 0h7m-418 1h7m-1 0h7m80 0h7m22 0h7m1 0h7m37 0h7m26 0h7m2 0h7m-2 0h7m20 0h7m4 0h7m68 0h7m-298 1h7m106 0h7m8 0h7m10 0h7m39 0h7m26 0h7m6 0h7m0 0h7m-1 0h7m1 0h7m67 0h7m-307 1h7m73 0h7m24 0h7m25 0h7m-1 0h7m-1 0h7m23 0h7m116 0h7m-357 1h7m13 0h7m-6 0h7m22 0h7m73 0h7m-4 0h7m18 0h7m0 0h7m-2 0h7m-4 0h7m37 0h7m99 0h7m-255 1h7m74 0h7m-4 0h7m3 0h7m56 0h7m-162 1h7m29 0h7m-1 0h7m1 0h7m-6 0h7m3 0h7m38 0h7m54 0h7m88 0h7m-347 1h7m102 0h7m101 0h7m16 0h7m-142 1h7m-5 0h7m17 0h7m25 0h7m5 0h7m7 0h7m5 0h7m-235 1h7m34 0h7m-2 0h7m-1 0h7m11 0h7m93 0h7m53 0h7m21 0h7m33 0h7m-364 1h7m177 0h7m3 0h7m7 0h7m8 0h7m2 0h7m9 0h7m2 0h7m22 0h7m49 0h7m-169 1h7m37 0h7m8 0h7m-5 0h7m41 0h7m14 0h7m49 0h7m19 0h7m60 0h7m-543 1h7m47 0h7m91 0h7m74 0h7m22 0h7m62 0h7m63 0h7m-5 0h7m1 0h7m46 0h7m-234 1h7m32 0h7m8 0h7m18 0h7m104 0h7m-4 0h7m33 0h7m-252 1h7m50 0h7m7 0h7m22 0h7m10 0h7m19 0h7m59 0h7m-334 1h7m7 0h7m74 0h7m54 0h7m13 0h7m25 0h7m65 0h7m7 0h7m-261 1h7m225 0h7m-2 0h7m25 0h7m-221 1h7m54 0h7m0 0h7m48 0h7m3 0h7m13 0h7m9 0h7m6 0h7m78 0h7m29 0h7m-311 1h7m29 0h7m12 0h7m44 0h7m14 0h7m5 0h7m36 0h7m-3 0h7m66 0h7m111 0h7m-268 1h7m14 0h7m26 0h7m-156 1h7m53 0h7m2 0h7m54 0h7m29 0h7m-6 0h7m1 0h7m16 0h7m-245 1h7m-5 0h7m77 0h7m73 0h7m32 0h7m-7 0h7m-222 1h7m67 0h7m9 0h7m-2 0h7m46 0h7m37 0h7m-2 0h7m10 0h7m-7 0h7m-113 1h7m4 0h7m13 0h7m19 0h7m5 0h7m23 0h7m-6 0h7m-147 1h7m26 0h7m1 0h7m57 0h7m-5 0h7m125 0h7m-326 1h7m69 0h7m64 0h7m-1 0h7m108 0h7m24 0h7m4 0h7m-233 1h7m5 0h7m7 0h7m13 0h7m61 0h7m-6 0h7m153 0h7m-367 1h7m82 0h7m83 0h7m19 0h7m-247 1h7m129 0h7m0 0h7m13 0h7m1 0h7m80 0h7m10 0h7m-1 0h7m11 0h7m-278 1h7m51 0h7m30 0h7m-6 0h7m-1 0h7m10 0h7m37 0h7m41 0h7m52 0h7m-170 1h7m-5 0h7m21 0h7m-4 0h7m17 0h7m0 0h7m25 0h7m32 0h7m-3 0h7m10 0h7m-222 1h7m13 0h7m41 0h7m-5 0h7m8 0h7m28 0h7m1 0h7m62 0h7m-148 1h7m24 0h7m-6 0h7m-4 0h7m6 0h7m-135 1h7m30 0h7m-7 0h7m115 0h7m-3 0h7m-6 0h7m21 0h7m-7 0h7m-5 0h7m4 0h7m30 0h7m30 0h7m-321 1h7m12 0h7m5 0h7m158 0h7m-1 0h7m16 0h7m-287 1h7m-2 0h7m12 0h7m13 0h7m89 0h7m44 0h7m-2 0h7m20 0h7m7 0h7m110 0h7m8 0h7m-143 1h7m20 0h7m74 0h7m94 0h7m-319 1h7m35 0h7m-6 0h7m-1 0h7m3 0h7m-1 0h7m2 0h7m144 0h7m-301 1h7m111 0h7m0 0h7m46 0h7m-4 0h7m-3 0h7m22 0h7m0 0h7m65 0h7m-243 1h7m51 0h7m76 0h7m29 0h7m-385 1h7m143 0h7m105 0h7m17 0h7m-4 0h7m17 0h7m52 0h7m40 0h7m-257 1h7m65 0h7m31 0h7m6 0h7m15 0h7m-195 1h7m67 0h7m51 0h7m57 0h7m35 0h7m-5 0h7m11 0h7m-6 0h7m3 0h7m34 0h7m-359 1h7m13 0h7m120 0h7m66 0h7m-5 0h7m3 0h7m30 0h7m-88 1h7m47 0h7m-2 0h7m6 0h7m28 0h7m5 0h7m52 0h7m-95 1h7m106 0h7m-315 1h7m22 0h7m13 0h7m116 0h7m33 0h7m32 0h7m-170 1h7m-5 0h7m44 0h7m-5 0h7m-7 0h7m106 0h7m-183 1h7m67 0h7m12 0h7m110 0h7m54 0h7m-394 1h7m155 0h7m11 0h7m75 0h7m-184 1h7m27 0h7m-4 0h7m27 0h7m19 0h7m25 0h7m-2 0h7m67 0h7m39 0h7m64 0h7m-410 1h7m61 0h7m73 0h7m-1 0h7m28 0h7m11 0h7m34 0h7m-115 1h7m7 0h7m61 0h7m61 0h7m-291 1h7m110 0h7m15 0h7m9 0h7m6 0h7m70 0h7m102 0h7m-447 1h7m173 0h7m27 0h7m23 0h7m-212 1h7m109 0h7m21 0h7m25 0h7m101 0h7m-2 0h7m-201 1h7m59 0h7m14 0h7m3 0h7m7 0h7m21 0h7m63 0h7m87 0h7m-254 1h7m63 0h7m22 0h7m3 0h7m-208 1h7m58 0h7m5 0h7m12 0h7m-6 0h7m0 0h7m1 0h7m18 0h7m-169 1h7m-4 0h7m51 0h7m25 0h7m21 0h7m-1 0h7m-2 0h7m75 0h7m-2 0h7m6 0h7m57 0h7m-230 1h7m30 0h7m14 0h7m2 0h7m11 0h7m9 0h7m-6 0h7m13 0h7m-3 0h7m-220 1h7m88 0h7m86 0h7m-6 0h7m2 0h7m-1 0h7m-125 1h7m111 0h7m65 0h7m-233 1h7m73 0h7m-2 0h7m6 0h7m31 0h7m54 0h7m1 0h7m16 0h7m18 0h7m-1 0h7m-140 1h7m19 0h7m85 0h7m-1 0h7m-148 1h7m32 0h7m-6 0h7m15 0h7m-4 0h7m-5 0h7m-4 0h7m0 0h7m4 0h7m-281 1h7m109 0h7m122 0h7m256 0h7m-471 1h7m9 0h7m46 0h7m59 0h7m25 0h7m-5 0h7m29 0h7m38 0h7m156 0h7m-368 1h7m-6 0h7m89 0h7m7 0h7m-5 0h7m-3 0h7m27 0h7m-204 1h7m49 0h7m74 0h7m9 0h7m36 0h7m25 0h7m-7 0h7m20 0h7m56 0h7m25 0h7m-281 1h7m61 0h7m25 0h7m-3 0h7m37 0h7m117 0h7m-180 1h7m37 0h7m2 0h7m32 0h7m-183 1h7m7 0h7m9 0h7m8 0h7m-1 0h7m33 0h7m-117 1h7m110 0h7m46 0h7m-230 1h7m52 0h7m133 0h7m7 0h7m-4 0h7m-437 1h7m406 0h7m18 0h7m-138 1h7m99 0h7m-226 1h7m61 0h7m0 0h7m-3 0h7m61 0h7m103 0h7m-108 1h7m81 0h7m-183 1h7m109 0h7m-2 0h7m9 0h7m29 0h7m-4 0h7m-106 1h7m59 0h7m9 0h7m-113 1h7m5 0h7m18 0h7m16 0h7m-53 1h7m39 0h7m42 0h7m42 0h7m-239 1h7m63 0h7m41 0h7m84 0h7m-217 1h7m46 0h7m156 0h7m-270 1h7m19 0h7m103 0h7m26 0h7m65 0h7m-159 1h7m2 0h7m100 0h7m52 0h7m-232 1h7m90 0h7m16 0h7m18 0h7m44 0h7m-110 1h7m24 0h7m92 0h7m-140 1h7m51 0h7m42 0h7m-94 1h7m-9 1h7m117 0h7m-204 1h7m21 0h7m50 0h7m55 0h7m21 0h7m-3 0h7m-138 2h7m83 0h7m47 0h7m10 0h7m-237 1h7m41 1h7m68 0h7m114 0h7m-146 1h7m17 0h7m-2 0h7m61 0h7m5 0h7m48 0h7m-163 1h7m15 0h7m-218 1h7m91 0h7m94 0h7m11 0h7m23 0h7m18 0h7m69 0h7m-236 1h7m9 0h7m119 0h7m46 0h7m-263 1h7m67 0h7m113 0h7m-180 1h7m5 0h7m23 0h7m21 0h7m64 0h7m-136 1h7m86 0h7m31 0h7m4 0h7m49 0h7m-60 1h7m42 0h7m56 0h7m-437 1h7m160 0h7m74 0h7m-30 1h7m-70 1h7m64 0h7m74 1h7m5 0h7m55 0h7m-298 1h7m29 0h7m73 0h7m59 0h7m-67 1h7m49 0h7m37 0h7m12 0h7m-96 1h7m-8 1h7m68 0h7m39 0h7m59 0h7m-282 1h7m45 0h7m30 1h7m156 0h7m-292 1h7m20 0h7m12 0h7m107 0h7m31 0h7m40 0h7m-157 1h7m1 0h7m23 0h7m-58 1h7m29 0h7m39 0h7m-4 0h7m31 0h7m2 0h7m57 0h7m-329 1h7m106 0h7m16 0h7m-75 1h7m21 0h7m53 0h7m43 0h7m50 0h7m-128 1h7m-5 0h7m57 0h7m-217 1h7m45 0h7m62 0h7m65 1h7m-132 1h7m125 0h7m26 0h7m32 0h7m17 0h7m-83 1h7m101 0h7m-349 1h7m176 0h7m-70 1h7m-6 0h7m79 0h7m-122 1h7m33 0h7m-144 1h7m147 1h7m102 0h7m59 1h7m-177 1h7m145 0h7m-183 1h7m51 0h7m59 1h7m-86 1h7m54 0h7m7 2h7m-116 3h7m52 0h7m-86 1h7m1 0h7m110 0h7m33 1h7m-160 1h7m74 0h7m70 0h7m-3 1h7m-43 1h7m-105 1h7m-6 0h7m105 0h7m-74 1h7m-181 1h7m193 0h7m-13 1h7m-1 0h7m-188 3h7m-3 0h7m153 2h7m-1 0h7m-111 2h7m93 1h7m35 0h7m-25 2h7m-112 2h7m219 1h7m-141 1h7m8 0h7m4 1h7m-56 4h7m-108 6h7m81 5h7m-5 0h7m-5 0h7m77 3h7m-66 1h7m24 3h7m14 3h7m-129 8h7m9 1h7m52 11h7m-43 3h7" stroke="#1a1a1a" stroke-width="7" stroke-opacity="0.45" fill="none"/>
<path transform="scale(.1)" d="m725 445h7m-72 16h7m159 5h7m11 1h7m-400 4h7m217 0h7m-114 22h7m-251 21h7m210 7h7m367 40h7m-547 21h7m-92 28h7m616 12h7m-150 10h7m-550 28h7m81 8h7m364 2h7m-99 8h7m155 9h7m-72 1h7m-247 17h7m51 23h7m-42 5h7m302 5h7m-134 6h7m-208 25h7m122 18h7m-301 7h7m187 11h7m-102 3h7m243 1h7m179 5h7m-282 9h7m164 2h7m-20 22h7m-188 26h7m126 20h7m231 5h7m-137 1h7m-561 2h7m260 1h7m132 2h7m-234 1h7m-24 4h7m-80 1h7m361 0h7m-57 1h7m44 3h7m84 0h7m-115 1h7m-227 2h7m399 6h7m-378 1h7m5 0h7m-22 2h7m28 1h7m-59 1h7m384 0h7m-26 8h7m-133 1h7m-214 2h7m-158 1h7m74 3h7m258 1h7m104 2h7m-235 1h7m-100 3h7m-86 1h7m78 1h7m195 1h7m-252 2h7m-92 2h7m162 1h7m-195 2h7m211 0h7m33 0h7m84 0h7m-167 3h7m75 5h7m-185 4h7m247 3h7m18 0h7m-214 5h7m-69 1h7m-144 2h7m218 1h7m-117 1h7m119 3h7m277 2h7m-410 1h7m18 2h7m184 0h7m-164 1h7m-61 3h7m69 0h7m-73 4h7m216 1h7m4 4h7m-259 2h7m81 1h7m279 1h7m-341 1h7m88 2h7m-61 1h7m-114 1h7m56 0h7m79 2h7m254 1h7m-341 3h7m41 0h7m151 3h7m-208 6h7m10 1h7m34 1h7m147 0h7m219 1h7m-529 6h7m128 1h7m141 0h7m-312 1h7m170 1h7m26 2h7m-364 3h7m199 10h7m59 0h7m-8 1h7m-2 0h7m28 2h7m-163 4h7m135 3h7m-92 1h7m166 0h7m-76 1h7m336 5h7m-602 2h7m472 1h7m-301 3h7m207 2h7m7 0h7m-287 1h7m67 1h7m337 1h7m-605 2h7m644 3h7m-378 10h7m108 5h7m-192 3h7m87 3h7m-159 1h7m-171 2h7m225 1h7m-36 4h7m342 5h7m-546 2h7m242 0h7m-102 2h7m109 0h7m12 3h7m25 0h7m241 1h7m-132 5h7m-26 4h7m-42 4h7m-101 1h7" stroke="#1a1a1a" stroke-width="7" stroke-opacity="0.28" fill="none"/>
<path transform="scale(.1)" d="m1419 511h8m-195 8h8m12 9h8m29 3h8m69 5h8m20 7h8m47 1h8m-129 7h8m236 1h8m-213 1h8m-67 1h8m160 2h8m-121 2h8m174 0h8m-172 1h8m103 0h8m-127 4h8m5 0h8m166 0h8m-216 1h8m-27 1h8m30 0h8m105 0h8m37 2h8m-80 3h8m72 0h8m-267 1h8m108 0h8m130 2h8m-306 1h8m338 0h8m-122 1h8m-2 0h8m-40 1h8m-100 1h8m21 0h8m31 0h8m59 0h8m-1 0h8m20 1h8m-213 1h8m214 0h8m-214 1h8m8 0h8m-34 1h8m60 0h8m77 0h8m6 0h8m-1 0h8m49 0h8m-181 1h8m-2 1h8m33 0h8m46 0h8m-107 1h8m8 0h8m38 0h8m-8 0h8m6 0h8m-73 1h8m-5 0h8m49 0h8m-237 1h8m136 0h8m12 0h8m0 0h8m10 0h8m11 0h8m54 0h8m29 0h8m-153 1h8m31 0h8m61 0h8m3 0h8m-7 0h8m32 0h8m-229 1h8m86 0h8m-1 0h8m36 0h8m-119 1h8m2 0h8m58 0h8m4 0h8m7 0h8m15 0h8m21 0h8m24 0h8m-390 1h8m189 0h8m22 0h8m71 0h8m17 0h8m66 0h8m-285 1h8m28 0h8m25 0h8m52 0h8m13 0h8m-175 1h8m107 0h8m32 0h8m15 0h8m-4 0h8m-2 0h8m34 0h8m112 0h8m-266 1h8m2 0h8m10 0h8m43 0h8m107 0h8m0 0h8m-295 1h8m25 0h8m15 0h8m11 0h8m5 0h8m2 0h8m13 0h8m-6 0h8m59 0h8m8 0h8m-251 1h8m53 0h8m8 0h8m93 0h8m-105 1h8m32 0h8m8 0h8m-4 0h8m-6 0h8m31 0h8m33 0h8m13 0h8m-1 0h8m-158 1h8m5 0h8m22 0h8m6 0h8m3 0h8m1 0h8m4 0h8m19 0h8m93 0h8m0 0h8m-256 1h8m37 0h8m12 0h8m22 0h8m-6 0h8m30 0h8m-1 0h8m10 0h8m34 0h8m-250 1h8m38 0h8m23 0h8m4 0h8m39 0h8m-7 0h8m41 0h8m62 0h8m4 0h8m-221 1h8m1 0h8m5 0h8m-4 0h8m23 0h8m16 0h8m1 0h8m33 0h8m53 0h8m-152 1h8m8 0h8m-8 0h8m-6 0h8m2 0h8m-5 0h8m46 0h8m30 0h8m-271 1h8m24 0h8m64 0h8m10 0h8m1 0h8m-3 0h8m17 0h8m18 0h8m7 0h8m2 0h8m-119 1h8m-2 0h8m19 0h8m-4 0h8m1 0h8m50 0h8m-8 0h8m7 0h8m9 0h8m-5 0h8m17 0h8m9 0h8m-264 1h8m13 0h8m-8 0h8m15 0h8m27 0h8m35 0h8m-4 0h8m10 0h8m4 0h8m5 0h8m-1 0h8m11 0h8m8 0h8m40 0h8m-316 1h8m29 0h8m41 0h8m-3 0h8m24 0h8m10 0h8m12 0h8m11 0h8m-7 0h8m-1 0h8m-5 0h8m4 0h8m4 0h8m-8 0h8m-1 0h8m13 0h8m-6 0h8m66 0h8m-226 1h8m60 0h8m-2 0h8m35 0h8m-8 0h8m-3 0h8m26 0h8m-123 1h8m25 0h8m-1 0h8m1 0h8m-7 0h8m-1 0h8m-4 0h8m9 0h8m6 0h8m-1 0h8m44 0h8m-203 1h8m45 0h8m15 0h8m5 0h8m-3 0h8m1 0h8m30 0h8m15 0h8m-3 0h8m31 0h8m42 0h8m-6 0h8m-288 1h8m45 0h8m52 0h8m-1 0h8m36 0h8m0 0h8m31 0h8m3 0h8m12 0h8m-389 1h8m101 0h8m41 0h8m-8 0h8m7 0h8m-7 0h8m-5 0h8m-1 0h8m12 0h8m3 0h8m1 0h8m-7 0h8m-5 0h8m-3 0h8m2 0h8m3 0h8m-2 0h8m2 0h8m20 0h8m58 0h8m-2 0h8m-256 1h8m12 0h8m78 0h8m-8 0h8m-8 0h8m10 0h8m0 0h8m10 0h8m-7 0h8m0 0h8m-5 0h8m26 0h8m26 0h8m-209 1h8m5 0h8m75 0h8m2 0h8m-3 0h8m-3 0h8m-1 0h8m10 0h8m9 0h8m-3 0h8m-6 0h8m-2 0h8m-5 0h8m-3 0h8m1 0h8m23 0h8m0 0h8m142 0h8m-433 1h8m45 0h8m28 0h8m3 0h8m2 0h8m14 0h8m-3 0h8m-6 0h8m-6 0h8m1 0h8m-7 0h8m3 0h8m-6 0h8m-7 0h8m-7 0h8m7 0h8m-1 0h8m11 0h8m9 0h8m5 0h8m-2 0h8m-163 1h8m-4 0h8m-3 0h8m-6 0h8m0 0h8m13 0h8m-6 0h8m-6 0h8m18 0h8m-8 0h8m-6 0h8m2 0h8m-6 0h8m-7 0h8m-1 0h8m-4 0h8m16 0h8m-1 0h8m30 0h8m45 0h8m-240 1h8m20 0h8m-6 0h8m6 0h8m7 0h8m-7 0h8m3 0h8m-8 0h8m2 0h8m-1 0h8m4 0h8m6 0h8m3 0h8m-4 0h8m-1 0h8m24 0h8m9 0h8m-6 0h8m-4 0h8m7 0h8m55 0h8m-360 1h8m101 0h8m-2 0h8m-4 0h8m7 0h8m-5 0h8m2 0h8m-3 0h8m-7 0h8m9 0h8m-7 0h8m2 0h8m-5 0h8m24 0h8m1 0h8m-7 0h8m-268 1h8m49 0h8m29 0h8m69 0h8m-8 0h8m3 0h8m0 0h8m1 0h8m4 0h8m9 0h8m3 0h8m-5 0h8m21 0h8m-5 0h8m1 0h8m0 0h8m8 0h8m52 0h8m-383 1h8m111 0h8m4 0h8m5 0h8m32 0h8m-5 0h8m-3 0h8m-6 0h8m-3 0h8m-4 0h8m-2 0h8m-2 0h8m1 0h8m-6 0h8m-2 0h8m-6 0h8m-5 0h8m5 0h8m-1 0h8m48 0h8m14 0h8m-390 1h8m151 0h8m-2 0h8m-2 0h8m21 0h8m-3 0h8m-4 0h8m-2 0h8m-7 0h8m-6 0h8m4 0h8m-1 0h8m-6 0h8m9 0h8m-1 0h8m-1 0h8m3 0h8m34 0h8m-7 0h8m2 0h8m-4 0h8m27 0h8m86 0h8m-315 1h8m26 0h8m10 0h8m-5 0h8m-5 0h8m2 0h8m-7 0h8m-6 0h8m-8 0h8m2 0h8m10 0h8m-8 0h8m-1 0h8m-3 0h8m-4 0h8m22 0h8m-3 0h8m5 0h8m8 0h8m2 0h8m6 0h8m11 0h8m-2 0h8m-435 1h8m170 0h8m13 0h8m32 0h8m-5 0h8m2 0h8m2 0h8m-5 0h8m-4 0h8m-4 0h8m3 0h8m-2 0h8m-3 0h8m-1 0h8m-5 0h8m1 0h8m-8 0h8m-2 0h8m-5 0h8m-5 0h8m-8 0h8m-4 0h8m-3 0h8m-8 0h8m-1 0h8m13 0h8m9 0h8m-5 0h8m-7 0h8m30 0h8m-294 1h8m28 0h8m17 0h8m8 0h8m-6 0h8m1 0h8m0 0h8m-2 0h8m-7 0h8m-7 0h8m10 0h8m-7 0h8m-3 0h8m-4 0h8m2 0h8m3 0h8m-5 0h8m5 0h8m-4 0h8m-3 0h8m1 0h8m-2 0h8m20 0h8m-7 0h8m-4 0h8m4 0h8m-7 0h8m-5 0h8m18 0h8m22 0h8m-303 1h8m12 0h8m13 0h8m33 0h8m-2 0h8m20 0h8m-1 0h8m3 0h8m-8 0h8m-3 0h8m-3 0h8m-2 0h8m8 0h8m8 0h8m-7 0h8m17 0h8m-4 0h8m-2 0h8m-7 0h8m-4 0h8m-2 0h8m3 0h8m-5 0h8m73 0h8m-327 1h8m100 0h8m0 0h8m-2 0h8m-7 0h8m8 0h8m-7 0h8m-2 0h8m-3 0h8m8 0h8m-5 0h8m-6 0h8m14 0h8m56 0h8m8 0h8m-288 1h8m35 0h8m-7 0h8m16 0h8m-3 0h8m15 0h8m16 0h8m6 0h8m1 0h8m3 0h8m7 0h8m1 0h8m8 0h8m-2 0h8m-5 0h8m7 0h8m1 0h8m7 0h8m4 0h8m11 0h8m-296 1h8m1 0h8m-1 0h8m22 0h8m40 0h8m13 0h8m7 0h8m7 0h8m-2 0h8m-1 0h8m-7 0h8m-7 0h8m9 0h8m2 0h8m17 0h8m-5 0h8m-6 0h8m-7 0h8m15 0h8m18 0h8m58 0h8m10 0h8m-255 1h8m-6 0h8m-3 0h8m7 0h8m-7 0h8m2 0h8m-5 0h8m24 0h8m-7 0h8m0 0h8m16 0h8m-8 0h8m9 0h8m21 0h8m-7 0h8m19 0h8m-7 0h8m-1 0h8m50 0h8m-366 1h8m87 0h8m-8 0h8m4 0h8m-4 0h8m-5 0h8m-3 0h8m0 0h8m-2 0h8m-5 0h8m2 0h8m-7 0h8m-5 0h8m-1 0h8m-6 0h8m-5 0h8m6 0h8m1 0h8m0 0h8m-3 0h8m-1 0h8m-8 0h8m2 0h8m6 0h8m6 0h8m1 0h8m-5 0h8m1 0h8m-6 0h8m20 0h8m42 0h8m-7 0h8m2 0h8m-5 0h8m15 0h8m-335 1h8m11 0h8m2 0h8m-2 0h8m-5 0h8m-1 0h8m-2 0h8m-1 0h8m16 0h8m6 0h8m-6 0h8m-7 0h8m-5 0h8m-1 0h8m-8 0h8m-7 0h8m1 0h8m-6 0h8m-6 0h8m-8 0h8m-6 0h8m9 0h8m7 0h8m0 0h8m1 0h8m-6 0h8m-5 0h8m24 0h8m0 0h8m-6 0h8m-4 0h8m32 0h8m27 0h8m-317 1h8m18 0h8m0 0h8m1 0h8m0 0h8m2 0h8m4 0h8m5 0h8m-5 0h8m-3 0h8m-5 0h8m0 0h8m2 0h8m9 0h8m0 0h8m-4 0h8m-7 0h8m-6 0h8m1 0h8m-5 0h8m28 0h8m-7 0h8m21 0h8m-4 0h8m3 0h8m4 0h8m32 0h8m5 0h8m-4 0h8m6 0h8m-300 1h8m7 0h8m-2 0h8m-4 0h8m-7 0h8m9 0h8m2 0h8m-1 0h8m-5 0h8m-3 0h8m-3 0h8m-2 0h8m0 0h8m-5 0h8m-7 0h8m9 0h8m-2 0h8m-3 0h8m-6 0h8m8 0h8m-6 0h8m-4 0h8m1 0h8m-7 0h8m0 0h8m-7 0h8m-4 0h8m8 0h8m-6 0h8m-5 0h8m-4 0h8m2 0h8m-4 0h8m-3 0h8m0 0h8m-6 0h8m33 0h8m-296 1h8m3 0h8m37 0h8m3 0h8m21 0h8m-6 0h8m0 0h8m-7 0h8m-1 0h8m-7 0h8m-5 0h8m7 0h8m-1 0h8m1 0h8m9 0h8m-8 0h8m1 0h8m-2 0h8m-6 0h8m-5 0h8m-6 0h8m2 0h8m22 0h8m-214 1h8m4 0h8m-8 0h8m14 0h8m5 0h8m-4 0h8m-2 0h8m-6 0h8m3 0h8m1 0h8m8 0h8m-6 0h8m-6 0h8m-7 0h8m-8 0h8m-5 0h8m-8 0h8m-5 0h8m-7 0h8m-4 0h8m-1 0h8m-5 0h8m6 0h8m13 0h8m-6 0h8m-8 0h8m-5 0h8m-7 0h8m-4 0h8m-7 0h8m0 0h8m-3 0h8m2 0h8m-4 0h8m-5 0h8m-5 0h8m13 0h8m0 0h8m50 0h8m3 0h8m-310 1h8m32 0h8m-4 0h8m1 0h8m-4 0h8m-5 0h8m-8 0h8m17 0h8m5 0h8m-6 0h8m-6 0h8m-7 0h8m-8 0h8m-5 0h8m-7 0h8m-7 0h8m-3 0h8m-1 0h8m4 0h8m10 0h8m4 0h8m-8 0h8m-5 0h8m-6 0h8m-8 0h8m-7 0h8m6 0h8m18 0h8m-237 1h8m50 0h8m-2 0h8m-6 0h8m-2 0h8m-2 0h8m-8 0h8m29 0h8m-2 0h8m-8 0h8m-7 0h8m15 0h8m-8 0h8m-5 0h8m-3 0h8m-7 0h8m-2 0h8m-8 0h8m-7 0h8m-6 0h8m-5 0h8m-6 0h8m12 0h8m-2 0h8m-6 0h8m10 0h8m-272 1h8m48 0h8m-1 0h8m2 0h8m23 0h8m34 0h8m-6 0h8m15 0h8m-4 0h8m-8 0h8m-5 0h8m-2 0h8m-5 0h8m-8 0h8m1 0h8m-2 0h8m10 0h8m-3 0h8m1 0h8m-7 0h8m-4 0h8m1 0h8m41 0h8m13 0h8m10 0h8m9 0h8m-301 1h8m1 0h8m23 0h8m-7 0h8m-3 0h8m-4 0h8m21 0h8m-8 0h8m9 0h8m-2 0h8m-3 0h8m1 0h8m-7 0h8m8 0h8m0 0h8m6 0h8m11 0h8m-1 0h8m11 0h8m-5 0h8m7 0h8m4 0h8m0 0h8m55 0h8m-343 1h8m32 0h8m29 0h8m-8 0h8m17 0h8m-3 0h8m-2 0h8m-7 0h8m-5 0h8m-6 0h8m1 0h8m-4 0h8m-3 0h8m-5 0h8m-7 0h8m-5 0h8m-3 0h8m-5 0h8m-5 0h8m1 0h8m11 0h8m-8 0h8m1 0h8m2 0h8m-4 0h8m-7 0h8m9 0h8m-1 0h8m-6 0h8m-7 0h8m-6 0h8m10 0h8m57 0h8m-258 1h8m0 0h8m1 0h8m0 0h8m-4 0h8m5 0h8m-5 0h8m-5 0h8m-7 0h8m-7 0h8m10 0h8m-4 0h8m-5 0h8m1 0h8m-4 0h8m0 0h8m-7 0h8m-4 0h8m-5 0h8m-5 0h8m-6 0h8m-4 0h8m-5 0h8m0 0h8m-7 0h8m-7 0h8m13 0h8m-7 0h8m-3 0h8m-3 0h8m9 0h8m-7 0h8m-5 0h8m-6 0h8m45 0h8m-275 1h8m-5 0h8m-3 0h8m82 0h8m-3 0h8m-2 0h8m-7 0h8m-1 0h8m5 0h8m17 0h8m-5 0h8m-2 0h8m2 0h8m-8 0h8m-5 0h8m-7 0h8m0 0h8m-7 0h8m-5 0h8m16 0h8m-7 0h8m-5 0h8m0 0h8m-5 0h8m40 0h8m6 0h8m-343 1h8m76 0h8m-8 0h8m-6 0h8m-5 0h8m-5 0h8m2 0h8m-5 0h8m-7 0h8m-2 0h8m-5 0h8m-6 0h8m-8 0h8m2 0h8m-7 0h8m-7 0h8m-8 0h8m-2 0h8m-3 0h8m-8 0h8m1 0h8m-5 0h8m-7 0h8m-7 0h8m-2 0h8m1 0h8m-4 0h8m-8 0h8m-2 0h8m-7 0h8m1 0h8m-7 0h8m-6 0h8m-7 0h8m-7 0h8m0 0h8m-4 0h8m-6 0h8m32 0h8m-7 0h8m1 0h8m3 0h8m6 0h8m-7 0h8m3 0h8m-8 0h8m-294 1h8m-6 0h8m15 0h8m-6 0h8m4 0h8m-1 0h8m10 0h8m14 0h8m-8 0h8m-4 0h8m-2 0h8m-6 0h8m-6 0h8m-8 0h8m-8 0h8m-5 0h8m-4 0h8m-5 0h8m-1 0h8m-7 0h8m0 0h8m-3 0h8m-6 0h8m-1 0h8m-7 0h8m0 0h8m-3 0h8m19 0h8m-7 0h8m-5 0h8m-6 0h8m-6 0h8m-3 0h8m-6 0h8m-5 0h8m-8 0h8m-8 0h8m7 0h8m-5 0h8m-8 0h8m41 0h8m-4 0h8m-4 0h8m-242 1h8m-1 0h8m0 0h8m-6 0h8m-5 0h8m3 0h8m-5 0h8m11 0h8m0 0h8m2 0h8m-7 0h8m9 0h8m1 0h8m-6 0h8m-8 0h8m-3 0h8m-4 0h8m18 0h8m-4 0h8m-8 0h8m-5 0h8m-5 0h8m-6 0h8m-7 0h8m6 0h8m-7 0h8m-6 0h8m-7 0h8m8 0h8m17 0h8m-6 0h8m11 0h8m-271 1h8m23 0h8m1 0h8m16 0h8m0 0h8m12 0h8m-4 0h8m2 0h8m-1 0h8m-7 0h8m-3 0h8m-8 0h8m-3 0h8m-5 0h8m-5 0h8m-4 0h8m5 0h8m-5 0h8m-1 0h8m1 0h8m-8 0h8m-5 0h8m-5 0h8m-7 0h8m-6 0h8m-6 0h8m3 0h8m-3 0h8m3 0h8m-4 0h8m2 0h8m-4 0h8m-8 0h8m10 0h8m-4 0h8m20 0h8m25 0h8m0 0h8m-1 0h8m-292 1h8m-2 0h8m10 0h8m-1 0h8m2 0h8m-4 0h8m15 0h8m-8 0h8m-6 0h8m1 0h8m17 0h8m2 0h8m-3 0h8m-6 0h8m-7 0h8m-7 0h8m-6 0h8m-7 0h8m0 0h8m-4 0h8m-7 0h8m-3 0h8m5 0h8m2 0h8m1 0h8m-4 0h8m-4 0h8m4 0h8m1 0h8m-7 0h8m-7 0h8m-5 0h8m-7 0h8m8 0h8m8 0h8m-335 1h8m21 0h8m22 0h8m60 0h8m9 0h8m-2 0h8m-3 0h8m0 0h8m-7 0h8m16 0h8m-1 0h8m-5 0h8m-6 0h8m-2 0h8m7 0h8m-4 0h8m2 0h8m8 0h8m-7 0h8m-7 0h8m-5 0h8m-7 0h8m7 0h8m2 0h8m21 0h8m36 0h8m20 0h8m-339 1h8m-4 0h8m6 0h8m7 0h8m9 0h8m-8 0h8m14 0h8m2 0h8m-4 0h8m-3 0h8m-7 0h8m4 0h8m-6 0h8m-8 0h8m0 0h8m-5 0h8m3 0h8m-3 0h8m-3 0h8m4 0h8m-6 0h8m15 0h8m3 0h8m-5 0h8m-4 0h8m-5 0h8m-6 0h8m6 0h8m-6 0h8m5 0h8m-7 0h8m51 0h8m-324 1h8m14 0h8m0 0h8m31 0h8m-7 0h8m15 0h8m-3 0h8m2 0h8m15 0h8m-1 0h8m-4 0h8m-5 0h8m-6 0h8m-7 0h8m-1 0h8m-7 0h8m7 0h8m-5 0h8m-7 0h8m2 0h8m-7 0h8m-1 0h8m-7 0h8m-6 0h8m2 0h8m1 0h8m-6 0h8m-6 0h8m-6 0h8m15 0h8m-4 0h8m-6 0h8m-7 0h8m14 0h8m-4 0h8m-2 0h8m-7 0h8m40 0h8m-287 1h8m-7 0h8m8 0h8m-5 0h8m0 0h8m26 0h8m4 0h8m-5 0h8m-2 0h8m-4 0h8m8 0h8m-4 0h8m-5 0h8m-5 0h8m-2 0h8m1 0h8m24 0h8m-4 0h8m9 0h8m-1 0h8m-8 0h8m-4 0h8m-6 0h8m-3 0h8m7 0h8m16 0h8m-7 0h8m-6 0h8m7 0h8m1 0h8m-359 1h8m49 0h8m32 0h8m10 0h8m11 0h8m-6 0h8m-5 0h8m14 0h8m-6 0h8m-1 0h8m-4 0h8m-3 0h8m0 0h8m1 0h8m-6 0h8m-2 0h8m-8 0h8m-3 0h8m-7 0h8m-7 0h8m2 0h8m-4 0h8m-2 0h8m-8 0h8m-2 0h8m2 0h8m-8 0h8m-2 0h8m-8 0h8m-7 0h8m-3 0h8m6 0h8m-4 0h8m-7 0h8m-7 0h8m-5 0h8m-7 0h8m-4 0h8m22 0h8m45 0h8m-274 1h8m7 0h8m6 0h8m-5 0h8m8 0h8m-1 0h8m11 0h8m-7 0h8m-1 0h8m-1 0h8m4 0h8m-7 0h8m-2 0h8m-5 0h8m-5 0h8m-2 0h8m2 0h8m-6 0h8m-6 0h8m-6 0h8m20 0h8m-7 0h8m-5 0h8m3 0h8m-1 0h8m20 0h8m10 0h8m-6 0h8m-266 1h8m2 0h8m5 0h8m5 0h8m8 0h8m-4 0h8m-3 0h8m0 0h8m-6 0h8m-5 0h8m7 0h8m-5 0h8m-7 0h8m4 0h8m-4 0h8m10 0h8m-3 0h8m-6 0h8m-7 0h8m-5 0h8m-1 0h8m-7 0h8m-4 0h8m-7 0h8m2 0h8m-5 0h8m0 0h8m-8 0h8m-7 0h8m-6 0h8m-7 0h8m-7 0h8m-5 0h8m0 0h8m17 0h8m-2 0h8m-6 0h8m-7 0h8m44 0h8m46 0h8m-376 1h8m61 0h8m-1 0h8m3 0h8m-3 0h8m-5 0h8m-1 0h8m-7 0h8m12 0h8m-1 0h8m-5 0h8m-3 0h8m-5 0h8m-4 0h8m2 0h8m-3 0h8m-8 0h8m-7 0h8m2 0h8m-4 0h8m-6 0h8m-7 0h8m-4 0h8m-6 0h8m-5 0h8m-5 0h8m0 0h8m-8 0h8m1 0h8m1 0h8m-6 0h8m-4 0h8m-4 0h8m-6 0h8m-2 0h8m10 0h8m11 0h8m17 0h8m2 0h8m46 0h8m9 0h8m-384 1h8m8 0h8m22 0h8m5 0h8m9 0h8m-8 0h8m6 0h8m6 0h8m-2 0h8m7 0h8m-7 0h8m5 0h8m-8 0h8m-7 0h8m-6 0h8m1 0h8m-8 0h8m2 0h8m-3 0h8m-8 0h8m0 0h8m-5 0h8m-8 0h8m7 0h8m-5 0h8m-7 0h8m-4 0h8m-6 0h8m-8 0h8m-7 0h8m-6 0h8m-7 0h8m-6 0h8m-5 0h8m2 0h8m-5 0h8m-7 0h8m10 0h8m4 0h8m-2 0h8m13 0h8m43 0h8m13 0h8m-302 1h8m-7 0h8m1 0h8m10 0h8m-2 0h8m-6 0h8m-6 0h8m-8 0h8m8 0h8m-3 0h8m-8 0h8m-7 0h8m-3 0h8m-2 0h8m1 0h8m0 0h8m-7 0h8m-1 0h8m-1 0h8m-3 0h8m-7 0h8m0 0h8m-8 0h8m-7 0h8m8 0h8m43 0h8m-7 0h8m-7 0h8m-4 0h8m-1 0h8m-3 0h8m-3 0h8m15 0h8m-253 1h8m-5 0h8m11 0h8m33 0h8m-5 0h8m-2 0h8m-2 0h8m-3 0h8m-6 0h8m-3 0h8m-7 0h8m9 0h8m-7 0h8m-6 0h8m-7 0h8m-5 0h8m26 0h8m8 0h8m-7 0h8m1 0h8m7 0h8m-4 0h8m16 0h8m2 0h8m-2 0h8m11 0h8m22 0h8m12 0h8m-278 1h8m3 0h8m9 0h8m6 0h8m-5 0h8m6 0h8m-7 0h8m-3 0h8m-7 0h8m-4 0h8m-7 0h8m7 0h8m-6 0h8m0 0h8m-6 0h8m-7 0h8m-6 0h8m-1 0h8m-8 0h8m-7 0h8m-7 0h8m18 0h8m-6 0h8m-5 0h8m2 0h8m-7 0h8m21 0h8m0 0h8m12 0h8m21 0h8m-297 1h8m66 0h8m-1 0h8m5 0h8m-7 0h8m6 0h8m-4 0h8m4 0h8m-7 0h8m-7 0h8m-1 0h8m-6 0h8m-1 0h8m-5 0h8m-4 0h8m-6 0h8m-6 0h8m4 0h8m2 0h8m4 0h8m-7 0h8m-8 0h8m-6 0h8m-3 0h8m-6 0h8m2 0h8m5 0h8m-7 0h8m0 0h8m-4 0h8m13 0h8m3 0h8m2 0h8m-333 1h8m125 0h8m-8 0h8m-7 0h8m4 0h8m-3 0h8m1 0h8m-5 0h8m-4 0h8m5 0h8m-7 0h8m0 0h8m-4 0h8m-4 0h8m-4 0h8m-7 0h8m-1 0h8m17 0h8m-1 0h8m-6 0h8m-1 0h8m-5 0h8m18 0h8m37 0h8m-3 0h8m-351 1h8m72 0h8m4 0h8m-6 0h8m21 0h8m-5 0h8m-1 0h8m1 0h8m10 0h8m-7 0h8m4 0h8m-6 0h8m11 0h8m-7 0h8m0 0h8m2 0h8m-3 0h8m-1 0h8m-8 0h8m6 0h8m20 0h8m-6 0h8m-1 0h8m-5 0h8m-3 0h8m-3 0h8m34 0h8m91 0h8m-364 1h8m8 0h8m-5 0h8m2 0h8m18 0h8m12 0h8m-1 0h8m5 0h8m-7 0h8m-5 0h8m-1 0h8m-8 0h8m3 0h8m-1 0h8m-7 0h8m11 0h8m-7 0h8m-6 0h8m-1 0h8m1 0h8m-6 0h8m24 0h8m-1 0h8m-6 0h8m-3 0h8m-6 0h8m-1 0h8m-6 0h8m-1 0h8m-6 0h8m0 0h8m6 0h8m-8 0h8m-6 0h8m25 0h8m-359 1h8m89 0h8m9 0h8m-3 0h8m5 0h8m-6 0h8m-2 0h8m-7 0h8m-4 0h8m3 0h8m-3 0h8m-1 0h8m-4 0h8m4 0h8m-8 0h8m0 0h8m4 0h8m-2 0h8m15 0h8m-1 0h8m-4 0h8m-4 0h8m-6 0h8m-6 0h8m-3 0h8m-1 0h8m23 0h8m24 0h8m7 0h8m-336 1h8m56 0h8m22 0h8m12 0h8m-6 0h8m0 0h8m1 0h8m-4 0h8m0 0h8m-3 0h8m1 0h8m-1 0h8m-6 0h8m-3 0h8m-5 0h8m2 0h8m-7 0h8m-3 0h8m-4 0h8m-1 0h8m17 0h8m-7 0h8m-4 0h8m-8 0h8m-7 0h8m15 0h8m-5 0h8m-8 0h8m-4 0h8m10 0h8m3 0h8m-4 0h8m32 0h8m-303 1h8m25 0h8m10 0h8m-6 0h8m5 0h8m-6 0h8m-7 0h8m0 0h8m-7 0h8m3 0h8m13 0h8m-6 0h8m-5 0h8m-7 0h8m1 0h8m-2 0h8m-5 0h8m-8 0h8m-1 0h8m-6 0h8m-5 0h8m15 0h8m-7 0h8m-7 0h8m-7 0h8m50 0h8m4 0h8m29 0h8m24 0h8m-331 1h8m34 0h8m28 0h8m5 0h8m-4 0h8m26 0h8m-3 0h8m-6 0h8m5 0h8m-3 0h8m-7 0h8m1 0h8m8 0h8m21 0h8m16 0h8m0 0h8m5 0h8m-6 0h8m5 0h8m11 0h8m-317 1h8m32 0h8m0 0h8m-7 0h8m22 0h8m6 0h8m34 0h8m-7 0h8m-2 0h8m-3 0h8m16 0h8m-5 0h8m-7 0h8m-2 0h8m-7 0h8m-4 0h8m-8 0h8m-7 0h8m2 0h8m-4 0h8m-4 0h8m-8 0h8m-8 0h8m0 0h8m-7 0h8m8 0h8m-5 0h8m22 0h8m-6 0h8m24 0h8m-1 0h8m14 0h8m-5 0h8m-312 1h8m24 0h8m26 0h8m1 0h8m1 0h8m2 0h8m1 0h8m1 0h8m-8 0h8m-5 0h8m-8 0h8m-5 0h8m-7 0h8m-5 0h8m-4 0h8m14 0h8m0 0h8m-7 0h8m-2 0h8m-3 0h8m-8 0h8m-3 0h8m-4 0h8m5 0h8m-2 0h8m-3 0h8m-6 0h8m0 0h8m-2 0h8m-5 0h8m20 0h8m9 0h8m43 0h8m-3 0h8m-340 1h8m11 0h8m51 0h8m-7 0h8m17 0h8m-7 0h8m-5 0h8m-7 0h8m17 0h8m2 0h8m-3 0h8m-3 0h8m-4 0h8m3 0h8m-4 0h8m-6 0h8m-3 0h8m12 0h8m-1 0h8m-8 0h8m-7 0h8m-4 0h8m-7 0h8m-7 0h8m-7 0h8m11 0h8m-4 0h8m-4 0h8m10 0h8m-2 0h8m16 0h8m1 0h8m10 0h8m-6 0h8m-290 1h8m-1 0h8m16 0h8m-3 0h8m13 0h8m-7 0h8m13 0h8m10 0h8m2 0h8m3 0h8m-7 0h8m-8 0h8m-1 0h8m-1 0h8m8 0h8m9 0h8m-5 0h8m0 0h8m0 0h8m0 0h8m101 0h8m-292 1h8m-2 0h8m1 0h8m-8 0h8m7 0h8m3 0h8m-2 0h8m-3 0h8m-5 0h8m-7 0h8m-1 0h8m-6 0h8m-5 0h8m-1 0h8m9 0h8m-5 0h8m-5 0h8m-3 0h8m-6 0h8m3 0h8m-6 0h8m-5 0h8m-4 0h8m-4 0h8m-6 0h8m5 0h8m1 0h8m-8 0h8m-8 0h8m-7 0h8m16 0h8m45 0h8m-2 0h8m-298 1h8m16 0h8m-6 0h8m-5 0h8m-1 0h8m-6 0h8m-7 0h8m11 0h8m-1 0h8m-5 0h8m-2 0h8m13 0h8m-4 0h8m2 0h8m-3 0h8m-2 0h8m8 0h8m-3 0h8m-8 0h8m17 0h8m-5 0h8m-4 0h8m-7 0h8m-7 0h8m-6 0h8m-7 0h8m27 0h8m0 0h8m-253 1h8m59 0h8m21 0h8m-6 0h8m1 0h8m1 0h8m-7 0h8m-7 0h8m-1 0h8m-5 0h8m-6 0h8m-3 0h8m23 0h8m-8 0h8m3 0h8m-8 0h8m2 0h8m-3 0h8m-6 0h8m-8 0h8m-4 0h8m5 0h8m-4 0h8m16 0h8m-5 0h8m1 0h8m10 0h8m-7 0h8m11 0h8m49 0h8m-292 1h8m4 0h8m22 0h8m47 0h8m-5 0h8m-5 0h8m-3 0h8m1 0h8m-7 0h8m23 0h8m-6 0h8m-4 0h8m-7 0h8m0 0h8m8 0h8m-5 0h8m1 0h8m-8 0h8m-2 0h8m-6 0h8m33 0h8m1 0h8m-5 0h8m-339 1h8m129 0h8m-5 0h8m-7 0h8m-7 0h8m-5 0h8m-5 0h8m-2 0h8m19 0h8m-8 0h8m4 0h8m2 0h8m-5 0h8m-7 0h8m-6 0h8m16 0h8m-5 0h8m0 0h8m-4 0h8m-8 0h8m-5 0h8m4 0h8m10 0h8m19 0h8m-3 0h8m66 0h8m20 0h8m-469 1h8m45 0h8m12 0h8m-6 0h8m8 0h8m-5 0h8m36 0h8m34 0h8m30 0h8m-7 0h8m-1 0h8m-6 0h8m-3 0h8m-6 0h8m1 0h8m2 0h8m13 0h8m3 0h8m19 0h8m-2 0h8m15 0h8m20 0h8m-7 0h8m-327 1h8m37 0h8m27 0h8m4 0h8m4 0h8m15 0h8m-1 0h8m0 0h8m-8 0h8m1 0h8m-6 0h8m-2 0h8m2 0h8m26 0h8m-6 0h8m-8 0h8m0 0h8m-6 0h8m-3 0h8m-6 0h8m11 0h8m0 0h8m-5 0h8m20 0h8m20 0h8m17 0h8m-5 0h8m23 0h8m-313 1h8m11 0h8m3 0h8m-2 0h8m-6 0h8m1 0h8m-4 0h8m-4 0h8m-6 0h8m4 0h8m-3 0h8m-7 0h8m9 0h8m-6 0h8m-7 0h8m7 0h8m15 0h8m-7 0h8m-6 0h8m14 0h8m28 0h8m-2 0h8m-7 0h8m-3 0h8m-7 0h8m-7 0h8m-2 0h8m-6 0h8m35 0h8m7 0h8m-292 1h8m34 0h8m-1 0h8m3 0h8m-8 0h8m14 0h8m-5 0h8m-7 0h8m-1 0h8m-7 0h8m9 0h8m0 0h8m-1 0h8m-6 0h8m3 0h8m-2 0h8m-6 0h8m12 0h8m-2 0h8m-4 0h8m-7 0h8m10 0h8m-2 0h8m-3 0h8m5 0h8m13 0h8m4 0h8m23 0h8m26 0h8m-300 1h8m12 0h8m12 0h8m19 0h8m-6 0h8m6 0h8m-1 0h8m-6 0h8m-6 0h8m-4 0h8m-5 0h8m-2 0h8m-4 0h8m-5 0h8m9 0h8m2 0h8m-5 0h8m-7 0h8m-1 0h8m-6 0h8m-5 0h8m-5 0h8m13 0h8m-5 0h8m3 0h8m-6 0h8m-2 0h8m36 0h8m0 0h8m-292 1h8m-5 0h8m32 0h8m26 0h8m-1 0h8m26 0h8m-4 0h8m-4 0h8m-5 0h8m-3 0h8m-7 0h8m7 0h8m1 0h8m6 0h8m-4 0h8m-7 0h8m-5 0h8m-4 0h8m12 0h8m-5 0h8m3 0h8m56 0h8m-258 1h8m15 0h8m8 0h8m-2 0h8m3 0h8m-1 0h8m-1 0h8m0 0h8m-4 0h8m0 0h8m-1 0h8m-8 0h8m18 0h8m-7 0h8m-7 0h8m1 0h8m1 0h8m-5 0h8m-6 0h8m37 0h8m1 0h8m12 0h8m10 0h8m-259 1h8m1 0h8m17 0h8m2 0h8m-1 0h8m5 0h8m-3 0h8m-2 0h8m-7 0h8m-6 0h8m-2 0h8m13 0h8m14 0h8m-6 0h8m3 0h8m2 0h8m-5 0h8m-6 0h8m1 0h8m4 0h8m0 0h8m-2 0h8m-8 0h8m22 0h8m13 0h8m-233 1h8m3 0h8m-8 0h8m18 0h8m-7 0h8m4 0h8m-6 0h8m11 0h8m-6 0h8m-1 0h8m-8 0h8m-6 0h8m1 0h8m-8 0h8m12 0h8m2 0h8m1 0h8m-7 0h8m-5 0h8m15 0h8m-1 0h8m-6 0h8m17 0h8m-6 0h8m13 0h8m5 0h8m-3 0h8m15 0h8m-314 1h8m-2 0h8m11 0h8m20 0h8m-7 0h8m7 0h8m7 0h8m-7 0h8m3 0h8m-1 0h8m-5 0h8m-7 0h8m-1 0h8m2 0h8m12 0h8m-5 0h8m-1 0h8m-7 0h8m-7 0h8m-2 0h8m-7 0h8m-2 0h8m-6 0h8m6 0h8m-6 0h8m-5 0h8m-6 0h8m1 0h8m16 0h8m-8 0h8m1 0h8m-6 0h8m3 0h8m3 0h8m51 0h8m23 0h8m19 0h8m-441 1h8m146 0h8m18 0h8m-4 0h8m-2 0h8m-3 0h8m-6 0h8m-7 0h8m2 0h8m-5 0h8m22 0h8m-2 0h8m-1 0h8m15 0h8m27 0h8m-3 0h8m-6 0h8m11 0h8m2 0h8m-258 1h8m-4 0h8m-1 0h8m3 0h8m4 0h8m0 0h8m-5 0h8m1 0h8m-8 0h8m1 0h8m-6 0h8m-5 0h8m-7 0h8m-8 0h8m5 0h8m-2 0h8m6 0h8m-6 0h8m-5 0h8m-2 0h8m-4 0h8m7 0h8m-6 0h8m3 0h8m-8 0h8m1 0h8m-1 0h8m12 0h8m-4 0h8m28 0h8m-7 0h8m-1 0h8m-295 1h8m80 0h8m8 0h8m8 0h8m-4 0h8m-7 0h8m9 0h8m3 0h8m-5 0h8m3 0h8m-5 0h8m19 0h8m-7 0h8m-3 0h8m-3 0h8m-8 0h8m8 0h8m-6 0h8m-8 0h8m36 0h8m18 0h8m-288 1h8m43 0h8m77 0h8m-8 0h8m0 0h8m-3 0h8m-7 0h8m5 0h8m-5 0h8m-2 0h8m22 0h8m44 0h8m-1 0h8m-248 1h8m5 0h8m18 0h8m46 0h8m-4 0h8m15 0h8m-5 0h8m11 0h8m3 0h8m12 0h8m5 0h8m-7 0h8m27 0h8m-260 1h8m21 0h8m-6 0h8m50 0h8m-4 0h8m5 0h8m-5 0h8m9 0h8m-5 0h8m1 0h8m2 0h8m21 0h8m-6 0h8m-5 0h8m-3 0h8m1 0h8m-6 0h8m-7 0h8m24 0h8m5 0h8m20 0h8m-3 0h8m51 0h8m-287 1h8m54 0h8m-5 0h8m-2 0h8m-7 0h8m7 0h8m1 0h8m-7 0h8m-4 0h8m-8 0h8m3 0h8m10 0h8m-7 0h8m-4 0h8m7 0h8m2 0h8m-8 0h8m-3 0h8m55 0h8m-2 0h8m-4 0h8m-255 1h8m16 0h8m15 0h8m-7 0h8m8 0h8m18 0h8m13 0h8m-3 0h8m8 0h8m-6 0h8m4 0h8m4 0h8m3 0h8m1 0h8m2 0h8m-2 0h8m-3 0h8m13 0h8m0 0h8m5 0h8m9 0h8m-254 1h8m2 0h8m41 0h8m27 0h8m-2 0h8m-6 0h8m30 0h8m21 0h8m4 0h8m-4 0h8m5 0h8m-170 1h8m14 0h8m-4 0h8m8 0h8m-1 0h8m17 0h8m-8 0h8m-1 0h8m21 0h8m8 0h8m24 0h8m-257 1h8m51 0h8m21 0h8m-1 0h8m1 0h8m11 0h8m1 0h8m24 0h8m52 0h8m69 0h8m7 0h8m0 0h8m52 0h8m-426 1h8m79 0h8m56 0h8m-2 0h8m-1 0h8m-8 0h8m8 0h8m14 0h8m8 0h8m4 0h8m-6 0h8m4 0h8m29 0h8m-157 1h8m24 0h8m16 0h8m-8 0h8m14 0h8m18 0h8m2 0h8m0 0h8m-5 0h8m22 0h8m3 0h8m0 0h8m-179 1h8m-4 0h8m11 0h8m19 0h8m1 0h8m7 0h8m5 0h8m44 0h8m-4 0h8m10 0h8m38 0h8m-223 1h8m6 0h8m10 0h8m13 0h8m0 0h8m7 0h8m-8 0h8m-4 0h8m-1 0h8m25 0h8m-4 0h8m10 0h8m-2 0h8m-5 0h8m-306 1h8m17 0h8m53 0h8m-3 0h8m25 0h8m51 0h8m54 0h8m4 0h8m1 0h8m8 0h8m40 0h8m13 0h8m-337 1h8m98 0h8m12 0h8m20 0h8m6 0h8m15 0h8m2 0h8m7 0h8m-5 0h8m-2 0h8m-7 0h8m2 0h8m43 0h8m-4 0h8m13 0h8m35 0h8m-7 0h8m-300 1h8m9 0h8m7 0h8m44 0h8m2 0h8m-2 0h8m43 0h8m-190 1h8m14 0h8m58 0h8m45 0h8m2 0h8m-4 0h8m5 0h8m3 0h8m48 0h8m-334 1h8m135 0h8m55 0h8m11 0h8m0 0h8m8 0h8m-7 0h8m16 0h8m63 0h8m17 0h8m-236 1h8m6 0h8m8 0h8m47 0h8m63 0h8m-4 0h8m23 0h8m-264 1h8m113 0h8m21 0h8m-2 0h8m9 0h8m-2 0h8m17 0h8m59 0h8m-146 1h8m-2 0h8m91 0h8m24 0h8m6 0h8m8 0h8m-252 1h8m20 0h8m76 0h8m5 0h8m-6 0h8m-5 0h8m-8 0h8m1 0h8m32 0h8m25 0h8m46 0h8m-290 1h8m14 0h8m26 0h8m31 0h8m14 0h8m19 0h8m33 0h8m10 0h8m-175 1h8m45 0h8m7 0h8m4 0h8m18 0h8m17 0h8m29 0h8m-5 0h8m-5 0h8m46 0h8m-214 1h8m6 0h8m32 0h8m1 0h8m26 0h8m114 0h8m-203 1h8m4 0h8m43 0h8m5 0h8m-139 1h8m7 0h8m0 0h8m16 0h8m12 0h8m11 0h8m0 0h8m-5 0h8m-51 1h8m10 0h8m20 0h8m-5 0h8m-5 0h8m57 0h8m182 0h8m-370 1h8m71 0h8m13 0h8m19 0h8m-79 1h8m12 0h8m-3 0h8m49 0h8m-134 1h8m47 0h8m80 0h8m81 0h8m-69 1h8m1 0h8m-214 1h8m29 0h8m16 0h8m-6 0h8m24 0h8m8 0h8m-1 0h8m-2 0h8m99 0h8m-262 1h8m34 0h8m56 1h8m66 0h8m-6 0h8m42 0h8m21 0h8m-87 1h8m-1 0h8m-182 1h8m-92 1h8m237 0h8m11 0h8m-115 1h8m41 0h8m-7 0h8m2 0h8m57 0h8m79 0h8m-310 1h8m103 0h8m41 0h8m-1 0h8m6 0h8m111 0h8m50 0h8m-137 1h8m-37 1h8m-44 1h8m0 0h8m-25 1h8m32 0h8m-145 1h8m-4 1h8m52 0h8m71 0h8m-170 1h8m83 0h8m98 0h8m-184 1h8m87 0h8m-119 2h8m3 0h8m8 0h8m7 0h8m34 1h8m41 0h8m1 2h8m79 0h8m-92 1h8m-116 2h8m51 0h8m-125 1h8m56 0h8m79 0h8m-92 2h8m-9 1h8m130 0h8m-216 1h8m73 0h8m146 0h8m-143 1h8m127 0h8m-71 1h8m-21 1h8m-59 2h8m36 0h8m-200 1h8m166 0h8m0 2h8m29 11h8m-89 1h8m-1 2h8m-86 1h8m31 5h8m-94 11h8m221 2h8m-55 13h8m-50 13h8m38 5h8" stroke="#1a1a1a" stroke-width="8" stroke-opacity="0.85" fill="none"/>
<path transform="scale(.1)" d="m1296 472h7m312 29h7m-172 4h7m-42 1h7m-219 10h7m-91 5h7m51 5h7m231 1h7m4 1h7m195 1h7m-224 2h7m-186 2h7m-84 1h7m406 2h7m-304 1h7m357 2h7m-260 1h7m-294 1h7m525 2h7m-98 1h7m2 0h7m15 0h7m-266 5h7m91 0h7m43 1h7m-73 2h7m-244 2h7m247 0h7m-165 2h7m147 0h7m58 2h7m-134 2h7m-212 2h7m141 1h7m133 0h7m51 1h7m-260 1h7m98 0h7m-35 1h7m83 0h7m51 0h7m-7 1h7m-241 1h7m153 1h7m78 0h7m53 0h7m45 0h7m-174 1h7m38 1h7m-6 0h7m-193 1h7m23 0h7m-206 1h7m0 0h7m183 0h7m189 0h7m75 0h7m-466 1h7m187 0h7m103 1h7m25 0h7m52 0h7m-502 2h7m79 0h7m52 0h7m266 0h7m-171 1h7m-51 1h7m154 1h7m85 0h7m-288 1h7m62 0h7m115 0h7m24 1h7m1 0h7m-94 1h7m0 0h7m86 0h7m-365 1h7m173 0h7m20 0h7m127 0h7m23 0h7m130 0h7m-465 1h7m290 0h7m32 0h7m-260 1h7m-14 2h7m120 1h7m21 0h7m227 0h7m-417 1h7m-3 0h7m291 0h7m-28 1h7m-160 1h7m161 0h7m25 0h7m7 0h7m-223 1h7m24 1h7m-98 1h7m78 0h7m-102 1h7m35 0h7m82 0h7m20 0h7m-4 0h7m-243 1h7m280 0h7m25 0h7m-59 1h7m9 0h7m188 0h7m-447 1h7m204 0h7m127 0h7m-170 1h7m80 0h7m-314 1h7m84 0h7m230 0h7m-150 1h7m80 0h7m-29 1h7m-288 1h7m64 0h7m40 0h7m161 0h7m18 0h7m113 0h7m94 0h7m-429 1h7m74 0h7m72 1h7m62 0h7m-293 1h7m46 0h7m69 0h7m42 0h7m41 0h7m-7 0h7m28 0h7m103 0h7m-232 1h7m4 0h7m199 0h7m7 0h7m4 0h7m-431 1h7m30 0h7m128 0h7m35 0h7m5 0h7m26 0h7m1 0h7m-259 1h7m74 0h7m47 0h7m36 1h7m12 0h7m29 0h7m35 0h7m72 0h7m60 0h7m-458 1h7m53 0h7m30 0h7m178 0h7m-211 1h7m39 0h7m125 0h7m-281 1h7m120 0h7m46 0h7m10 0h7m64 0h7m53 0h7m-208 1h7m53 0h7m44 0h7m99 0h7m-107 1h7m63 0h7m129 0h7m-234 1h7m51 0h7m135 0h7m-320 1h7m2 0h7m138 0h7m117 0h7m-414 1h7m143 0h7m294 0h7m-212 1h7m-2 0h7m37 0h7m3 0h7m259 0h7m-347 1h7m120 0h7m-51 1h7m8 0h7m3 0h7m-322 1h7m244 0h7m63 0h7m20 0h7m-353 1h7m206 0h7m46 0h7m4 0h7m-2 0h7m52 0h7m76 0h7m62 0h7m-297 1h7m68 0h7m-7 0h7m91 1h7m15 0h7m-264 1h7m77 0h7m0 0h7m78 0h7m214 0h7m-357 1h7m26 0h7m50 0h7m4 0h7m42 0h7m-3 0h7m-409 1h7m220 0h7m111 0h7m53 0h7m-250 1h7m7 0h7m21 0h7m24 0h7m147 0h7m17 0h7m-5 0h7m-280 1h7m11 0h7m203 0h7m3 0h7m-308 1h7m99 0h7m29 0h7m75 0h7m18 0h7m-1 0h7m2 0h7m12 0h7m-5 0h7m26 0h7m-5 0h7m30 0h7m-393 1h7m85 0h7m177 0h7m21 0h7m64 0h7m-289 1h7m2 0h7m14 0h7m15 0h7m-6 0h7m161 0h7m-4 0h7m65 0h7m-325 1h7m7 0h7m218 0h7m-206 1h7m58 0h7m-3 0h7m6 0h7m17 0h7m62 0h7m25 0h7m-92 1h7m12 0h7m-3 0h7m81 0h7m166 0h7m-281 1h7m14 0h7m25 0h7m8 0h7m-310 1h7m173 0h7m40 0h7m2 0h7m6 0h7m59 0h7m46 0h7m65 0h7m4 0h7m-470 1h7m23 0h7m99 0h7m-2 0h7m20 0h7m111 0h7m-271 1h7m175 0h7m6 0h7m162 0h7m-427 1h7m224 0h7m-228 1h7m328 0h7m45 0h7m-329 1h7m40 0h7m-4 0h7m121 0h7m13 0h7m-7 0h7m25 0h7m105 0h7m-1 0h7m-377 1h7m31 0h7m184 0h7m-4 0h7m16 0h7m5 0h7m4 0h7m98 0h7m76 0h7m-482 1h7m204 0h7m-7 0h7m91 1h7m27 0h7m42 0h7m-235 1h7m37 0h7m3 0h7m31 0h7m10 0h7m96 0h7m-301 1h7m108 0h7m172 0h7m18 0h7m2 0h7m18 0h7m34 0h7m-521 1h7m98 0h7m50 0h7m45 0h7m83 0h7m-7 0h7m55 0h7m2 0h7m-137 1h7m86 0h7m41 0h7m55 0h7m-476 1h7m294 0h7m1 0h7m55 0h7m32 0h7m69 0h7m7 0h7m-347 1h7m115 0h7m27 0h7m5 0h7m34 0h7m5 0h7m-244 1h7m50 0h7m11 0h7m15 0h7m110 0h7m39 0h7m41 0h7m-5 0h7m18 0h7m-429 1h7m311 0h7m12 0h7m40 0h7m67 0h7m-524 1h7m43 0h7m145 0h7m100 0h7m-7 0h7m5 0h7m20 0h7m1 0h7m39 0h7m-203 1h7m130 0h7m8 0h7m15 0h7m21 0h7m111 0h7m-400 1h7m148 0h7m-7 0h7m32 0h7m66 0h7m-7 0h7m-267 1h7m53 0h7m107 0h7m49 0h7m-7 0h7m-236 1h7m11 0h7m31 0h7m16 0h7m69 0h7m17 0h7m6 0h7m27 0h7m115 0h7m-310 1h7m51 0h7m48 0h7m8 0h7m98 0h7m13 0h7m4 0h7m-255 1h7m27 0h7m86 0h7m29 0h7m109 0h7m-533 1h7m242 0h7m10 0h7m112 0h7m91 0h7m2 0h7m-4 0h7m-418 1h7m126 0h7m15 0h7m41 0h7m31 0h7m43 0h7m15 0h7m54 0h7m-480 1h7m9 0h7m116 0h7m87 0h7m22 0h7m63 0h7m-4 0h7m1 0h7m53 0h7m4 0h7m-4 0h7m112 0h7m37 0h7m44 0h7m-507 1h7m-4 0h7m-3 0h7m136 0h7m44 0h7m2 0h7m85 0h7m33 0h7m18 0h7m56 0h7m-472 1h7m55 0h7m31 0h7m125 0h7m66 0h7m36 0h7m-218 1h7m109 0h7m89 0h7m1 0h7m17 0h7m-220 1h7m125 0h7m31 0h7m-247 1h7m122 0h7m-1 0h7m133 0h7m49 0h7m-385 1h7m57 0h7m73 0h7m34 0h7m77 0h7m8 0h7m31 0h7m-428 1h7m228 0h7m67 0h7m-2 0h7m81 0h7m-201 1h7m183 0h7m-4 0h7m42 0h7m111 0h7m-570 1h7m39 0h7m21 0h7m136 0h7m14 0h7m67 0h7m17 0h7m-3 0h7m7 0h7m2 0h7m51 0h7m-127 1h7m-194 1h7m40 0h7m118 0h7m-2 0h7m-3 0h7m-2 0h7m45 0h7m3 0h7m11 0h7m-406 1h7m200 0h7m73 0h7m56 0h7m168 0h7m-351 1h7m170 0h7m9 0h7m8 0h7m-6 0h7m0 0h7m11 0h7m9 0h7m55 0h7m-420 1h7m51 0h7m85 0h7m62 0h7m193 0h7m154 0h7m-507 1h7m29 0h7m96 0h7m6 0h7m18 0h7m54 0h7m4 0h7m17 0h7m66 0h7m-430 1h7m29 0h7m81 0h7m3 0h7m13 0h7m-6 0h7m27 0h7m10 0h7m-4 0h7m18 0h7m18 0h7m7 0h7m42 0h7m67 0h7m-216 1h7m49 0h7m17 0h7m-4 0h7m-7 0h7m88 0h7m-433 1h7m46 0h7m63 0h7m76 0h7m17 0h7m27 0h7m17 0h7m57 0h7m110 0h7m-373 1h7m134 0h7m0 0h7m37 0h7m35 0h7m24 0h7m6 0h7m-184 1h7m47 0h7m65 0h7m129 0h7m-312 1h7m102 0h7m43 0h7m-1 0h7m-1 0h7m1 0h7m73 0h7m35 0h7m6 0h7m-346 1h7m16 0h7m14 0h7m118 0h7m39 0h7m59 0h7m50 0h7m-361 1h7m132 0h7m12 0h7m21 0h7m71 0h7m22 0h7m-299 1h7m58 0h7m107 0h7m29 0h7m6 0h7m16 0h7m18 0h7m0 0h7m-321 1h7m47 0h7m10 1h7m22 0h7m24 0h7m12 0h7m29 0h7m23 0h7m-5 0h7m8 0h7m-2 0h7m-1 0h7m19 0h7m-2 0h7m28 0h7m98 0h7m-495 1h7m84 0h7m98 0h7m110 0h7m2 0h7m49 0h7m10 0h7m4 0h7m-2 0h7m150 0h7m-576 1h7m212 0h7m57 0h7m8 0h7m49 0h7m74 0h7m-248 1h7m18 0h7m14 0h7m-6 0h7m2 0h7m28 0h7m63 0h7m-4 0h7m29 0h7m13 0h7m17 0h7m48 0h7m-509 1h7m5 0h7m40 0h7m138 0h7m12 0h7m24 0h7m101 0h7m38 0h7m41 0h7m-231 1h7m92 0h7m86 0h7m-281 1h7m73 0h7m44 0h7m197 0h7m-482 1h7m182 0h7m70 0h7m-4 0h7m27 0h7m7 0h7m74 0h7m-195 1h7m38 0h7m1 0h7m-3 0h7m84 0h7m19 0h7m40 0h7m72 0h7m-230 1h7m13 0h7m18 0h7m-1 0h7m0 0h7m47 0h7m1 0h7m-130 1h7m-5 0h7m1 0h7m7 0h7m-7 0h7m31 0h7m35 0h7m4 0h7m-2 0h7m-6 0h7m-4 0h7m35 0h7m-245 1h7m82 0h7m5 0h7m8 0h7m14 0h7m41 0h7m14 0h7m4 0h7m-279 1h7m22 0h7m15 0h7m34 0h7m17 0h7m7 0h7m145 0h7m-364 1h7m-5 0h7m40 0h7m25 0h7m9 0h7m-7 0h7m61 0h7m16 0h7m22 0h7m-162 1h7m60 0h7m18 0h7m4 0h7m2 0h7m28 0h7m52 0h7m26 0h7m12 0h7m37 0h7m32 0h7m-231 1h7m11 0h7m-2 0h7m-7 0h7m47 0h7m-5 0h7m26 0h7m49 0h7m-101 1h7m46 0h7m17 0h7m-370 1h7m139 0h7m54 0h7m9 0h7m68 0h7m7 0h7m-277 1h7m50 0h7m65 0h7m14 0h7m87 0h7m-2 0h7m16 0h7m136 0h7m14 0h7m-413 1h7m88 0h7m30 0h7m84 0h7m5 0h7m-391 1h7m243 0h7m45 0h7m0 0h7m111 0h7m0 0h7m-349 1h7m9 0h7m188 0h7m25 0h7m-3 0h7m39 0h7m46 0h7m20 0h7m-344 1h7m60 0h7m48 0h7m13 0h7m70 0h7m75 0h7m50 0h7m60 0h7m-317 1h7m47 0h7m-1 0h7m-7 0h7m14 0h7m15 0h7m20 0h7m0 0h7m11 0h7m6 0h7m49 0h7m15 0h7m-394 1h7m19 0h7m58 0h7m62 0h7m14 0h7m84 0h7m20 0h7m-244 1h7m-7 0h7m85 0h7m10 0h7m-6 0h7m45 0h7m98 0h7m-5 0h7m2 0h7m6 0h7m-402 1h7m142 0h7m64 0h7m31 0h7m33 0h7m-5 0h7m64 0h7m-354 1h7m89 0h7m60 0h7m-5 0h7m27 0h7m74 0h7m4 0h7m35 0h7m-358 1h7m247 0h7m43 0h7m10 0h7m22 0h7m-6 0h7m16 0h7m36 0h7m-477 1h7m302 0h7m7 0h7m4 0h7m37 0h7m1 0h7m-5 0h7m10 0h7m-138 1h7m-1 0h7m36 0h7m6 0h7m22 0h7m49 0h7m6 0h7m68 0h7m-323 1h7m174 0h7m-5 0h7m50 0h7m-5 0h7m-307 1h7m69 0h7m21 0h7m89 0h7m0 0h7m3 0h7m-293 1h7m185 0h7m86 0h7m-2 0h7m191 0h7m-395 1h7m210 0h7m-298 1h7m137 0h7m-3 0h7m8 0h7m-5 0h7m31 0h7m7 0h7m20 0h7m84 0h7m-1 0h7m-242 1h7m16 0h7m47 0h7m25 0h7m27 0h7m8 0h7m17 0h7m75 0h7m-193 1h7m33 0h7m39 0h7m50 0h7m-321 1h7m121 0h7m9 0h7m45 0h7m19 0h7m29 0h7m-6 0h7m-1 0h7m49 0h7m114 0h7m-486 1h7m63 0h7m94 0h7m76 0h7m47 0h7m3 0h7m18 0h7m105 0h7m-532 1h7m269 0h7m26 0h7m44 0h7m18 0h7m1 0h7m-5 0h7m11 0h7m30 0h7m15 0h7m7 0h7m-423 1h7m-6 0h7m177 0h7m54 0h7m29 0h7m-6 0h7m32 0h7m9 0h7m79 0h7m-210 1h7m3 0h7m12 0h7m-7 0h7m34 0h7m4 0h7m-364 1h7m33 0h7m-6 0h7m83 0h7m156 0h7m-5 0h7m22 0h7m-2 0h7m-5 0h7m11 0h7m3 0h7m10 0h7m-3 0h7m-322 1h7m217 0h7m41 0h7m-5 0h7m-4 0h7m32 0h7m-357 1h7m-30 1h7m80 0h7m118 0h7m29 0h7m38 0h7m106 0h7m-190 1h7m27 0h7m18 0h7m-6 0h7m18 0h7m38 0h7m4 0h7m75 0h7m-1 0h7m-293 1h7m13 0h7m10 0h7m104 0h7m25 0h7m70 0h7m5 0h7m-508 1h7m237 0h7m20 0h7m29 0h7m18 0h7m101 0h7m-1 0h7m2 0h7m20 0h7m58 0h7m-489 1h7m45 0h7m271 0h7m33 0h7m-204 1h7m183 0h7m2 0h7m-1 0h7m-6 0h7m23 0h7m14 0h7m40 0h7m-347 1h7m180 0h7m13 0h7m-261 1h7m157 0h7m22 0h7m13 0h7m-5 0h7m65 0h7m-4 0h7m34 0h7m-282 1h7m149 0h7m11 0h7m-4 0h7m-176 1h7m48 0h7m46 0h7m20 0h7m29 0h7m59 0h7m23 0h7m12 0h7m-394 1h7m288 0h7m0 0h7m-6 0h7m85 0h7m-230 1h7m7 0h7m39 0h7m18 0h7m68 0h7m57 0h7m-221 1h7m71 0h7m44 0h7m-354 1h7m282 0h7m62 0h7m14 0h7m-359 1h7m220 0h7m-6 0h7m27 0h7m-3 0h7m-2 0h7m-3 0h7m-301 1h7m190 0h7m45 0h7m-3 0h7m-4 0h7m32 0h7m28 0h7m28 0h7m4 0h7m27 0h7m68 0h7m-485 1h7m212 0h7m7 0h7m101 0h7m21 0h7m-266 1h7m50 0h7m84 0h7m-149 1h7m88 0h7m1 0h7m78 0h7m47 0h7m-156 1h7m78 0h7m64 0h7m-2 0h7m-203 1h7m-6 0h7m129 0h7m17 0h7m-1 0h7m38 0h7m-488 1h7m147 0h7m84 0h7m-1 0h7m11 0h7m9 0h7m23 0h7m47 0h7m21 0h7m-275 1h7m243 0h7m26 0h7m-5 0h7m83 0h7m-325 1h7m165 0h7m13 0h7m3 0h7m42 0h7m-80 1h7m3 0h7m9 0h7m-124 1h7m13 0h7m58 0h7m71 0h7m232 0h7m-355 1h7m30 0h7m10 0h7m64 0h7m-4 0h7m28 0h7m15 1h7m-231 1h7m54 0h7m23 0h7m35 0h7m-351 1h7m69 0h7m170 0h7m37 0h7m20 0h7m12 0h7m-96 1h7m-181 2h7m292 0h7m-3 0h7m52 0h7m-206 1h7m37 0h7m41 0h7m19 0h7m9 0h7m-385 1h7m106 0h7m118 0h7m97 0h7m31 0h7m-245 1h7m137 0h7m51 0h7m-85 1h7m31 0h7m162 0h7m-203 1h7m28 0h7m4 0h7m21 0h7m-3 0h7m-156 1h7m35 0h7m113 0h7m26 0h7m-246 1h7m23 0h7m110 0h7m14 0h7m13 0h7m182 0h7m-291 1h7m56 0h7m-3 1h7m8 0h7m115 0h7m-394 1h7m37 1h7m54 0h7m58 0h7m83 0h7m-5 0h7m-137 1h7m97 0h7m40 0h7m-357 1h7m154 0h7m116 0h7m6 0h7m34 0h7m-3 0h7m97 0h7m-304 1h7m109 0h7m72 0h7m-4 0h7m51 0h7m39 0h7m-261 1h7m135 0h7m48 0h7m30 0h7m-352 1h7m124 0h7m18 0h7m25 0h7m-229 1h7m362 0h7m23 0h7m-209 1h7m8 0h7m7 0h7m-4 0h7m-257 1h7m217 0h7m13 0h7m48 0h7m-275 1h7m114 1h7m112 1h7m44 0h7m112 0h7m-252 1h7m32 0h7m62 0h7m-27 1h7m113 0h7m25 0h7m-209 1h7m-78 1h7m52 0h7m-124 1h7m237 0h7m-108 1h7m-5 0h7m38 0h7m4 0h7m15 0h7m36 0h7m-217 1h7m28 0h7m22 1h7m55 0h7m-262 1h7m51 0h7m169 0h7m-155 1h7m145 0h7m0 0h7m-52 1h7m10 0h7m66 0h7m41 0h7m42 0h7m-134 1h7m36 0h7m61 0h7m-215 1h7m20 0h7m114 0h7m-31 2h7m-5 0h7m-114 1h7m44 0h7m107 0h7m-301 2h7m310 0h7m-246 1h7m4 0h7m16 0h7m53 0h7m19 0h7m201 0h7m-496 2h7m198 1h7m-138 1h7m105 0h7m26 0h7m264 0h7m-354 1h7m13 0h7m156 1h7m-130 1h7m190 0h7m-74 1h7m20 1h7m-311 1h7m236 1h7m27 1h7m-74 1h7m12 0h7m86 0h7m-97 1h7m17 9h7m10 0h7m-23 5h7m-21 1h7m-112 2h7m126 0h7m-136 1h7m74 7h7m-210 1h7m250 0h7m-160 3h7m180 2h7m-166 1h7m72 0h7m-17 2h7m-68 4h7m72 27h7m74 8h7m110 2h7m-173 44h7" stroke="#1a1a1a" stroke-width="7" stroke-opacity="0.45" fill="none"/>
<path transform="scale(.1)" d="m1391 445h7m-80 4h7m260 23h7m107 1h7m-35 13h7m-373 4h7m354 38h7m-632 19h7m367 7h7m92 21h7m-481 2h7m20 10h7m528 1h7m-120 1h7m1 1h7m-67 7h7m-221 7h7m146 0h7m-282 16h7m130 8h7m229 16h7m-147 16h7m-34 17h7m-123 5h7m192 2h7m-207 5h7m405 17h7m-275 9h7m117 35h7m-12 3h7m-238 24h7m32 5h7m-59 4h7m61 6h7m260 8h7m76 5h7m-120 21h7m53 9h7m-190 2h7m140 2h7m8 2h7m-450 4h7m192 3h7m225 1h7m9 2h7m17 14h7m-449 5h7m445 3h7m-63 6h7m30 0h7m-371 2h7m256 4h7m4 4h7m35 17h7m71 1h7m-51 1h7m-27 5h7m-335 1h7m362 4h7m-84 5h7m24 4h7m-356 1h7m52 0h7m-200 3h7m163 0h7m-93 10h7m386 0h7m-72 1h7m-237 3h7m-231 2h7m78 3h7m88 0h7m1 0h7m-20 2h7m-101 3h7m183 0h7m42 1h7m-131 2h7m307 0h7m-250 3h7m-4 0h7m223 0h7m3 3h7m-2 2h7m1 1h7m-179 5h7m-45 5h7m-70 4h7m183 5h7m98 0h7m-113 1h7m-301 1h7m54 1h7m19 0h7m3 1h7m-26 1h7m272 1h7m112 1h7m-408 2h7m136 1h7m-309 2h7m154 0h7m242 5h7m11 0h7m59 3h7m-101 1h7m104 3h7m-445 7h7m116 0h7m250 0h7m-405 1h7m-113 4h7m484 3h7m-377 2h7m432 1h7m-33 1h7m-356 2h7m-106 1h7m40 2h7m67 0h7m278 0h7m-372 1h7m76 0h7m-40 2h7m219 0h7m-130 1h7m137 0h7m79 2h7m-363 1h7m74 0h7m-79 4h7m446 0h7m-320 1h7m198 5h7m-44 2h7m46 0h7m-6 0h7m-355 2h7m227 2h7m-321 1h7m65 0h7m494 0h7m-217 3h7m-369 1h7m421 0h7m-391 1h7m358 0h7m-302 1h7m-12 2h7m230 1h7m30 1h7m5 0h7m-55 1h7m-10 1h7m114 0h7m-478 2h7m97 2h7m-3 0h7m101 5h7m201 4h7m11 0h7m-151 2h7m98 4h7m-381 9h7m-98 4h7m-1 0h7m462 2h7m31 0h7m-69 2h7m-324 5h7m317 0h7m6 0h7m-444 3h7m361 3h7m-28 1h7m66 3h7m-103 1h7m-83 8h7m-130 6h7m350 2h7m-328 3h7m302 1h7m-314 6h7" stroke="#1a1a1a" stroke-width="7" stroke-opacity="0.28" fill="none"/>
<path transform="scale(.1)" d="m2306 473h8m-184 5h8m154 7h8m-41 13h8m80 1h8m-138 1h8m-58 3h8m-80 1h8m71 7h8m34 0h8m17 1h8m168 0h8m-451 1h8m286 0h8m-237 1h8m280 1h8m85 0h8m-410 1h8m140 0h8m0 1h8m131 1h8m4 0h8m26 1h8m-162 2h8m69 0h8m73 0h8m-178 1h8m-45 1h8m-9 1h8m150 1h8m88 0h8m-242 1h8m166 0h8m-165 1h8m74 0h8m80 0h8m-283 1h8m151 0h8m-5 0h8m32 1h8m9 0h8m29 0h8m31 0h8m-160 1h8m78 1h8m-154 1h8m-6 0h8m18 0h8m117 0h8m170 0h8m-273 1h8m-47 1h8m59 0h8m-103 1h8m26 0h8m98 0h8m64 0h8m2 0h8m-128 1h8m26 1h8m0 0h8m-188 1h8m87 0h8m26 0h8m8 0h8m-73 1h8m9 0h8m8 0h8m-125 1h8m-1 0h8m12 0h8m8 0h8m18 0h8m161 0h8m-151 1h8m96 0h8m-117 1h8m2 0h8m11 0h8m29 0h8m2 0h8m21 0h8m46 0h8m85 0h8m-297 1h8m24 0h8m46 0h8m-5 0h8m39 0h8m-200 1h8m48 0h8m84 0h8m-6 0h8m14 0h8m-4 0h8m21 0h8m-283 1h8m106 0h8m24 0h8m-3 0h8m44 0h8m15 0h8m31 0h8m16 0h8m9 0h8m3 0h8m22 0h8m-385 1h8m112 0h8m-7 0h8m49 0h8m90 0h8m-267 1h8m288 0h8m-184 1h8m-3 0h8m-1 0h8m13 0h8m42 0h8m71 0h8m-6 0h8m-8 0h8m-5 0h8m38 0h8m-176 1h8m56 0h8m3 0h8m28 0h8m-1 0h8m-156 1h8m66 0h8m-7 0h8m70 0h8m-102 1h8m12 0h8m15 0h8m-6 0h8m33 0h8m8 0h8m42 0h8m28 0h8m-317 1h8m49 0h8m0 0h8m31 0h8m-7 0h8m-22 1h8m23 0h8m-4 0h8m-7 0h8m28 0h8m-7 0h8m-4 0h8m12 0h8m-3 0h8m-6 0h8m-88 1h8m17 0h8m0 0h8m74 0h8m23 0h8m24 0h8m6 0h8m-337 1h8m46 0h8m6 0h8m24 0h8m-4 0h8m-4 0h8m-3 0h8m7 0h8m-4 0h8m19 0h8m1 0h8m-6 0h8m6 0h8m2 0h8m-8 0h8m6 0h8m-2 0h8m17 0h8m32 0h8m47 0h8m-304 1h8m17 0h8m-5 0h8m19 0h8m17 0h8m0 0h8m23 0h8m3 0h8m7 0h8m0 0h8m-7 0h8m-6 0h8m81 0h8m24 0h8m-401 1h8m203 0h8m18 0h8m-4 0h8m2 0h8m10 0h8m-5 0h8m-3 0h8m3 0h8m17 0h8m93 0h8m-305 1h8m17 0h8m14 0h8m2 0h8m2 0h8m-6 0h8m13 0h8m-7 0h8m58 0h8m17 0h8m34 0h8m-275 1h8m79 0h8m21 0h8m-6 0h8m11 0h8m12 0h8m-3 0h8m18 0h8m-5 0h8m6 0h8m13 0h8m-7 0h8m11 0h8m12 0h8m1 0h8m9 0h8m-258 1h8m63 0h8m-2 0h8m2 0h8m4 0h8m12 0h8m9 0h8m11 0h8m28 0h8m51 0h8m8 0h8m8 0h8m-275 1h8m8 0h8m39 0h8m-3 0h8m8 0h8m8 0h8m26 0h8m-3 0h8m3 0h8m0 0h8m7 0h8m-5 0h8m1 0h8m12 0h8m11 0h8m25 0h8m-268 1h8m4 0h8m54 0h8m33 0h8m-3 0h8m36 0h8m1 0h8m-5 0h8m7 0h8m5 0h8m-7 0h8m6 0h8m9 0h8m-304 1h8m55 0h8m3 0h8m28 0h8m-3 0h8m-5 0h8m-5 0h8m7 0h8m2 0h8m9 0h8m-7 0h8m10 0h8m-7 0h8m-4 0h8m6 0h8m-8 0h8m-2 0h8m2 0h8m-7 0h8m-218 1h8m12 0h8m76 0h8m9 0h8m-7 0h8m-6 0h8m2 0h8m6 0h8m-4 0h8m2 0h8m-2 0h8m16 0h8m-150 1h8m9 0h8m69 0h8m-1 0h8m-8 0h8m-4 0h8m4 0h8m8 0h8m57 0h8m16 0h8m12 0h8m-245 1h8m0 0h8m4 0h8m61 0h8m-7 0h8m8 0h8m-7 0h8m20 0h8m20 0h8m22 0h8m10 0h8m26 0h8m3 0h8m-322 1h8m49 0h8m4 0h8m-7 0h8m2 0h8m52 0h8m3 0h8m0 0h8m11 0h8m-2 0h8m-7 0h8m21 0h8m8 0h8m-2 0h8m-7 0h8m5 0h8m-3 0h8m-6 0h8m-2 0h8m45 0h8m-383 1h8m66 0h8m10 0h8m7 0h8m16 0h8m47 0h8m-1 0h8m2 0h8m-3 0h8m3 0h8m2 0h8m-5 0h8m10 0h8m-2 0h8m6 0h8m0 0h8m1 0h8m22 0h8m-227 1h8m29 0h8m9 0h8m-8 0h8m4 0h8m-6 0h8m28 0h8m-6 0h8m2 0h8m21 0h8m-6 0h8m1 0h8m-7 0h8m16 0h8m4 0h8m-8 0h8m4 0h8m-6 0h8m-191 1h8m-2 0h8m37 0h8m-7 0h8m1 0h8m3 0h8m0 0h8m4 0h8m-2 0h8m0 0h8m5 0h8m-4 0h8m-5 0h8m7 0h8m-7 0h8m-8 0h8m2 0h8m8 0h8m-5 0h8m4 0h8m-8 0h8m30 0h8m-247 1h8m15 0h8m21 0h8m14 0h8m2 0h8m-3 0h8m0 0h8m1 0h8m-8 0h8m0 0h8m28 0h8m-6 0h8m-8 0h8m40 0h8m11 0h8m-8 0h8m5 0h8m51 0h8m-293 1h8m12 0h8m-5 0h8m-5 0h8m5 0h8m-3 0h8m21 0h8m-8 0h8m8 0h8m-8 0h8m14 0h8m-6 0h8m17 0h8m1 0h8m0 0h8m-6 0h8m0 0h8m-212 1h8m2 0h8m2 0h8m10 0h8m-7 0h8m7 0h8m16 0h8m-2 0h8m-8 0h8m19 0h8m-8 0h8m2 0h8m4 0h8m-1 0h8m8 0h8m10 0h8m31 0h8m2 0h8m13 0h8m9 0h8m12 0h8m24 0h8m-362 1h8m78 0h8m50 0h8m17 0h8m4 0h8m-6 0h8m-5 0h8m1 0h8m-7 0h8m-7 0h8m1 0h8m29 0h8m48 0h8m-305 1h8m7 0h8m90 0h8m-8 0h8m-7 0h8m-3 0h8m-8 0h8m-7 0h8m9 0h8m-6 0h8m0 0h8m4 0h8m4 0h8m-5 0h8m4 0h8m10 0h8m-4 0h8m-7 0h8m10 0h8m17 0h8m-5 0h8m-4 0h8m-1 0h8m0 0h8m8 0h8m-6 0h8m-4 0h8m-5 0h8m-3 0h8m1 0h8m79 0h8m-316 1h8m-8 0h8m-5 0h8m17 0h8m-4 0h8m5 0h8m23 0h8m8 0h8m2 0h8m-2 0h8m-7 0h8m-2 0h8m-5 0h8m-3 0h8m4 0h8m-6 0h8m-3 0h8m19 0h8m-6 0h8m12 0h8m24 0h8m38 0h8m-343 1h8m25 0h8m-5 0h8m14 0h8m17 0h8m2 0h8m3 0h8m1 0h8m13 0h8m14 0h8m0 0h8m-6 0h8m4 0h8m12 0h8m5 0h8m32 0h8m16 0h8m17 0h8m35 0h8m-3 0h8m-299 1h8m-5 0h8m14 0h8m6 0h8m40 0h8m0 0h8m-8 0h8m-4 0h8m-5 0h8m-3 0h8m-7 0h8m7 0h8m-7 0h8m-5 0h8m-5 0h8m-5 0h8m20 0h8m4 0h8m-4 0h8m21 0h8m-3 0h8m-2 0h8m-4 0h8m0 0h8m28 0h8m-4 0h8m20 0h8m-434 1h8m143 0h8m32 0h8m-6 0h8m-8 0h8m14 0h8m0 0h8m1 0h8m-8 0h8m0 0h8m-4 0h8m-6 0h8m-4 0h8m-5 0h8m-6 0h8m-2 0h8m4 0h8m11 0h8m3 0h8m1 0h8m101 0h8m-248 1h8m4 0h8m-6 0h8m-3 0h8m-1 0h8m-2 0h8m-7 0h8m10 0h8m1 0h8m-7 0h8m16 0h8m-2 0h8m-8 0h8m-6 0h8m-7 0h8m-8 0h8m-7 0h8m0 0h8m-4 0h8m3 0h8m-4 0h8m4 0h8m-6 0h8m-7 0h8m4 0h8m-6 0h8m2 0h8m-2 0h8m-7 0h8m-6 0h8m-3 0h8m-243 1h8m21 0h8m13 0h8m-4 0h8m1 0h8m13 0h8m3 0h8m-6 0h8m-6 0h8m-5 0h8m-7 0h8m-4 0h8m4 0h8m7 0h8m-1 0h8m-5 0h8m1 0h8m-3 0h8m-6 0h8m-5 0h8m-4 0h8m7 0h8m2 0h8m25 0h8m-7 0h8m4 0h8m-238 1h8m5 0h8m19 0h8m-2 0h8m-5 0h8m13 0h8m-5 0h8m-5 0h8m-3 0h8m15 0h8m-7 0h8m2 0h8m8 0h8m-5 0h8m-4 0h8m-2 0h8m-2 0h8m-7 0h8m1 0h8m2 0h8m6 0h8m4 0h8m-3 0h8m2 0h8m43 0h8m32 0h8m-304 1h8m17 0h8m-6 0h8m-5 0h8m23 0h8m9 0h8m-2 0h8m10 0h8m5 0h8m0 0h8m0 0h8m1 0h8m-3 0h8m-7 0h8m0 0h8m2 0h8m-4 0h8m-7 0h8m-2 0h8m-6 0h8m-4 0h8m-7 0h8m20 0h8m1 0h8m0 0h8m15 0h8m-386 1h8m115 0h8m0 0h8m5 0h8m4 0h8m-6 0h8m-3 0h8m2 0h8m2 0h8m-3 0h8m6 0h8m17 0h8m12 0h8m-7 0h8m-5 0h8m1 0h8m16 0h8m33 0h8m12 0h8m-1 0h8m13 0h8m-3 0h8m-8 0h8m2 0h8m-315 1h8m41 0h8m10 0h8m-8 0h8m-7 0h8m-4 0h8m-5 0h8m-8 0h8m9 0h8m-5 0h8m-2 0h8m-7 0h8m-5 0h8m16 0h8m22 0h8m-7 0h8m4 0h8m0 0h8m-3 0h8m21 0h8m-3 0h8m11 0h8m19 0h8m19 0h8m10 0h8m-6 0h8m25 0h8m-332 1h8m45 0h8m0 0h8m2 0h8m8 0h8m-6 0h8m-7 0h8m-7 0h8m13 0h8m-7 0h8m3 0h8m12 0h8m-5 0h8m1 0h8m-4 0h8m-2 0h8m2 0h8m12 0h8m-3 0h8m-7 0h8m-7 0h8m2 0h8m-5 0h8m-6 0h8m-6 0h8m-7 0h8m-2 0h8m121 0h8m-453 1h8m71 0h8m46 0h8m2 0h8m12 0h8m-1 0h8m2 0h8m3 0h8m4 0h8m3 0h8m-6 0h8m-5 0h8m-3 0h8m-2 0h8m-7 0h8m-7 0h8m-7 0h8m-6 0h8m12 0h8m-3 0h8m0 0h8m-1 0h8m-5 0h8m-5 0h8m-6 0h8m-7 0h8m-5 0h8m11 0h8m-5 0h8m-7 0h8m9 0h8m51 0h8m-313 1h8m5 0h8m-1 0h8m21 0h8m0 0h8m-1 0h8m15 0h8m-5 0h8m6 0h8m-8 0h8m-7 0h8m12 0h8m5 0h8m2 0h8m0 0h8m-1 0h8m0 0h8m-4 0h8m-1 0h8m-4 0h8m-2 0h8m2 0h8m9 0h8m0 0h8m0 0h8m-5 0h8m2 0h8m38 0h8m-380 1h8m41 0h8m26 0h8m10 0h8m-5 0h8m19 0h8m6 0h8m0 0h8m10 0h8m-8 0h8m-7 0h8m-4 0h8m-8 0h8m15 0h8m-7 0h8m3 0h8m-2 0h8m5 0h8m-7 0h8m2 0h8m-2 0h8m4 0h8m6 0h8m11 0h8m-3 0h8m-3 0h8m-6 0h8m3 0h8m1 0h8m16 0h8m-8 0h8m24 0h8m-326 1h8m36 0h8m17 0h8m-7 0h8m-5 0h8m1 0h8m-7 0h8m-5 0h8m8 0h8m-7 0h8m10 0h8m2 0h8m8 0h8m-7 0h8m1 0h8m-5 0h8m-2 0h8m-7 0h8m-6 0h8m-6 0h8m1 0h8m-4 0h8m-2 0h8m-7 0h8m-4 0h8m-7 0h8m-6 0h8m7 0h8m0 0h8m-8 0h8m-6 0h8m5 0h8m8 0h8m3 0h8m-3 0h8m-4 0h8m-4 0h8m-6 0h8m37 0h8m-316 1h8m11 0h8m-4 0h8m14 0h8m-1 0h8m12 0h8m19 0h8m-4 0h8m-2 0h8m-5 0h8m-5 0h8m-7 0h8m-8 0h8m-8 0h8m10 0h8m-7 0h8m-4 0h8m-8 0h8m0 0h8m-6 0h8m-4 0h8m-6 0h8m1 0h8m-3 0h8m-4 0h8m-8 0h8m-7 0h8m-8 0h8m-7 0h8m-6 0h8m-7 0h8m-6 0h8m14 0h8m-4 0h8m-5 0h8m7 0h8m29 0h8m-7 0h8m36 0h8m-381 1h8m73 0h8m4 0h8m12 0h8m-3 0h8m20 0h8m-7 0h8m-6 0h8m-6 0h8m-5 0h8m-6 0h8m-6 0h8m-8 0h8m-1 0h8m2 0h8m-6 0h8m-7 0h8m-1 0h8m-6 0h8m-7 0h8m-5 0h8m-8 0h8m-5 0h8m-1 0h8m-2 0h8m0 0h8m-6 0h8m-5 0h8m-7 0h8m-8 0h8m-6 0h8m-2 0h8m-7 0h8m-5 0h8m-3 0h8m-8 0h8m-2 0h8m-8 0h8m-6 0h8m0 0h8m-8 0h8m21 0h8m-8 0h8m-4 0h8m-6 0h8m18 0h8m-7 0h8m12 0h8m-355 1h8m116 0h8m34 0h8m1 0h8m-7 0h8m-8 0h8m14 0h8m-3 0h8m-8 0h8m-2 0h8m-3 0h8m-5 0h8m-3 0h8m-3 0h8m-3 0h8m4 0h8m-7 0h8m1 0h8m-8 0h8m-3 0h8m0 0h8m0 0h8m2 0h8m0 0h8m23 0h8m34 0h8m-364 1h8m79 0h8m-2 0h8m20 0h8m-7 0h8m4 0h8m7 0h8m-1 0h8m-5 0h8m-6 0h8m-6 0h8m9 0h8m-8 0h8m-2 0h8m-4 0h8m-7 0h8m-6 0h8m-6 0h8m-4 0h8m-1 0h8m-3 0h8m-7 0h8m0 0h8m19 0h8m-5 0h8m5 0h8m-2 0h8m7 0h8m18 0h8m-230 1h8m12 0h8m11 0h8m14 0h8m1 0h8m-4 0h8m10 0h8m2 0h8m0 0h8m-5 0h8m-6 0h8m-7 0h8m-2 0h8m-6 0h8m5 0h8m10 0h8m7 0h8m4 0h8m-7 0h8m-7 0h8m-3 0h8m-6 0h8m4 0h8m-7 0h8m11 0h8m4 0h8m-7 0h8m-261 1h8m25 0h8m-2 0h8m-7 0h8m25 0h8m-6 0h8m-6 0h8m-8 0h8m2 0h8m2 0h8m11 0h8m-7 0h8m1 0h8m-3 0h8m-7 0h8m-4 0h8m-7 0h8m-7 0h8m-8 0h8m-7 0h8m-5 0h8m-7 0h8m-2 0h8m12 0h8m-5 0h8m1 0h8m-7 0h8m-6 0h8m-3 0h8m0 0h8m-1 0h8m1 0h8m-4 0h8m-1 0h8m-8 0h8m25 0h8m1 0h8m5 0h8m21 0h8m-1 0h8m-348 1h8m17 0h8m-8 0h8m29 0h8m18 0h8m-6 0h8m1 0h8m6 0h8m-7 0h8m-7 0h8m-5 0h8m13 0h8m-2 0h8m-1 0h8m-6 0h8m-7 0h8m-6 0h8m-3 0h8m9 0h8m-8 0h8m0 0h8m-6 0h8m-6 0h8m-7 0h8m8 0h8m-5 0h8m-6 0h8m14 0h8m5 0h8m11 0h8m-5 0h8m11 0h8m30 0h8m-333 1h8m-8 0h8m-7 0h8m22 0h8m22 0h8m5 0h8m-7 0h8m8 0h8m-5 0h8m-3 0h8m-4 0h8m-6 0h8m-5 0h8m4 0h8m-7 0h8m-7 0h8m-7 0h8m-6 0h8m-1 0h8m-8 0h8m-6 0h8m-2 0h8m0 0h8m-7 0h8m-5 0h8m-7 0h8m-1 0h8m-8 0h8m-8 0h8m-7 0h8m1 0h8m-6 0h8m0 0h8m-3 0h8m-8 0h8m-5 0h8m-1 0h8m-2 0h8m-5 0h8m-6 0h8m-3 0h8m3 0h8m-4 0h8m-7 0h8m-1 0h8m-2 0h8m15 0h8m2 0h8m-207 1h8m0 0h8m22 0h8m-6 0h8m9 0h8m-8 0h8m-3 0h8m-7 0h8m-2 0h8m7 0h8m2 0h8m1 0h8m-5 0h8m-2 0h8m0 0h8m-5 0h8m-8 0h8m2 0h8m-1 0h8m-5 0h8m-8 0h8m-1 0h8m6 0h8m-4 0h8m12 0h8m-3 0h8m35 0h8m-342 1h8m19 0h8m2 0h8m1 0h8m6 0h8m8 0h8m10 0h8m-8 0h8m16 0h8m-7 0h8m-1 0h8m-3 0h8m0 0h8m-4 0h8m-6 0h8m-8 0h8m0 0h8m-8 0h8m-1 0h8m-4 0h8m-7 0h8m1 0h8m-3 0h8m-3 0h8m1 0h8m-4 0h8m12 0h8m0 0h8m0 0h8m-7 0h8m-7 0h8m-6 0h8m-6 0h8m-7 0h8m-3 0h8m-4 0h8m-2 0h8m-3 0h8m-6 0h8m-6 0h8m-7 0h8m-1 0h8m-2 0h8m13 0h8m0 0h8m18 0h8m-417 1h8m134 0h8m-4 0h8m32 0h8m-8 0h8m-6 0h8m-1 0h8m-6 0h8m2 0h8m-8 0h8m-7 0h8m-7 0h8m-6 0h8m3 0h8m-3 0h8m-3 0h8m-7 0h8m-2 0h8m-5 0h8m-6 0h8m-2 0h8m-2 0h8m-8 0h8m-7 0h8m-7 0h8m-3 0h8m-6 0h8m-7 0h8m-5 0h8m-5 0h8m-2 0h8m-4 0h8m1 0h8m2 0h8m-7 0h8m-7 0h8m-7 0h8m-7 0h8m-8 0h8m-6 0h8m-6 0h8m-4 0h8m-6 0h8m-1 0h8m-7 0h8m-2 0h8m5 0h8m1 0h8m3 0h8m11 0h8m-4 0h8m31 0h8m35 0h8m-404 1h8m28 0h8m17 0h8m-6 0h8m-5 0h8m-5 0h8m1 0h8m5 0h8m-2 0h8m-4 0h8m-5 0h8m-3 0h8m-7 0h8m4 0h8m17 0h8m5 0h8m2 0h8m3 0h8m3 0h8m-5 0h8m-1 0h8m3 0h8m-7 0h8m-5 0h8m-8 0h8m-8 0h8m-3 0h8m-8 0h8m-8 0h8m-6 0h8m1 0h8m-5 0h8m-2 0h8m3 0h8m18 0h8m29 0h8m16 0h8m46 0h8m-360 1h8m8 0h8m0 0h8m15 0h8m-4 0h8m20 0h8m-2 0h8m-4 0h8m-2 0h8m-3 0h8m-6 0h8m0 0h8m-8 0h8m-1 0h8m-8 0h8m-8 0h8m-5 0h8m-6 0h8m-4 0h8m16 0h8m-7 0h8m4 0h8m3 0h8m-7 0h8m9 0h8m-5 0h8m0 0h8m-8 0h8m-5 0h8m-7 0h8m-7 0h8m-3 0h8m-2 0h8m0 0h8m-8 0h8m7 0h8m-8 0h8m-4 0h8m-1 0h8m17 0h8m23 0h8m-280 1h8m8 0h8m-5 0h8m-7 0h8m0 0h8m5 0h8m18 0h8m-2 0h8m-4 0h8m-2 0h8m-6 0h8m16 0h8m-3 0h8m-8 0h8m-4 0h8m3 0h8m-8 0h8m-5 0h8m-3 0h8m10 0h8m2 0h8m36 0h8m15 0h8m46 0h8m15 0h8m-5 0h8m-343 1h8m-7 0h8m24 0h8m14 0h8m5 0h8m0 0h8m0 0h8m12 0h8m-2 0h8m13 0h8m-5 0h8m2 0h8m-3 0h8m-7 0h8m-1 0h8m-7 0h8m-8 0h8m-4 0h8m5 0h8m-1 0h8m-7 0h8m7 0h8m5 0h8m-5 0h8m-6 0h8m-5 0h8m-5 0h8m-3 0h8m8 0h8m71 0h8m24 0h8m-398 1h8m53 0h8m-6 0h8m5 0h8m34 0h8m-7 0h8m-3 0h8m-5 0h8m-8 0h8m-2 0h8m-7 0h8m-7 0h8m0 0h8m-7 0h8m-2 0h8m-8 0h8m-7 0h8m-8 0h8m-7 0h8m-8 0h8m-2 0h8m9 0h8m0 0h8m-6 0h8m-7 0h8m-7 0h8m-3 0h8m2 0h8m0 0h8m-5 0h8m-1 0h8m-7 0h8m-3 0h8m9 0h8m-8 0h8m2 0h8m-2 0h8m-7 0h8m-3 0h8m2 0h8m4 0h8m-3 0h8m-5 0h8m-283 1h8m-2 0h8m7 0h8m19 0h8m-7 0h8m-5 0h8m5 0h8m-6 0h8m6 0h8m-2 0h8m-2 0h8m-2 0h8m0 0h8m-6 0h8m-4 0h8m-6 0h8m-6 0h8m0 0h8m-7 0h8m-7 0h8m3 0h8m-3 0h8m-6 0h8m-6 0h8m-7 0h8m-2 0h8m-6 0h8m-6 0h8m1 0h8m-7 0h8m2 0h8m3 0h8m-3 0h8m1 0h8m-8 0h8m15 0h8m-2 0h8m-6 0h8m2 0h8m-7 0h8m2 0h8m-7 0h8m-5 0h8m2 0h8m4 0h8m1 0h8m18 0h8m1 0h8m-303 1h8m-2 0h8m-4 0h8m21 0h8m-8 0h8m-2 0h8m17 0h8m6 0h8m-5 0h8m-2 0h8m-1 0h8m-7 0h8m-8 0h8m-5 0h8m-3 0h8m-7 0h8m0 0h8m1 0h8m5 0h8m-5 0h8m-7 0h8m-7 0h8m-2 0h8m-3 0h8m-6 0h8m11 0h8m-6 0h8m-2 0h8m0 0h8m-8 0h8m-7 0h8m-4 0h8m7 0h8m-1 0h8m6 0h8m7 0h8m0 0h8m-8 0h8m-6 0h8m28 0h8m-7 0h8m-299 1h8m4 0h8m-5 0h8m7 0h8m1 0h8m10 0h8m-6 0h8m-4 0h8m-1 0h8m1 0h8m-7 0h8m-5 0h8m-4 0h8m-6 0h8m-7 0h8m-1 0h8m0 0h8m-6 0h8m-7 0h8m-7 0h8m14 0h8m-2 0h8m-4 0h8m-7 0h8m-5 0h8m1 0h8m-4 0h8m8 0h8m4 0h8m-6 0h8m-3 0h8m-2 0h8m0 0h8m2 0h8m10 0h8m1 0h8m-8 0h8m-418 1h8m49 0h8m45 0h8m-2 0h8m10 0h8m-7 0h8m26 0h8m14 0h8m-5 0h8m-8 0h8m-7 0h8m0 0h8m-3 0h8m-5 0h8m-3 0h8m-5 0h8m-8 0h8m9 0h8m-7 0h8m-2 0h8m2 0h8m1 0h8m10 0h8m-1 0h8m3 0h8m-8 0h8m21 0h8m0 0h8m19 0h8m0 0h8m12 0h8m1 0h8m-4 0h8m9 0h8m-355 1h8m84 0h8m26 0h8m13 0h8m1 0h8m-5 0h8m3 0h8m-6 0h8m2 0h8m-4 0h8m-4 0h8m8 0h8m-3 0h8m-7 0h8m-7 0h8m-2 0h8m-7 0h8m-5 0h8m7 0h8m-1 0h8m12 0h8m3 0h8m-5 0h8m-6 0h8m-7 0h8m10 0h8m-4 0h8m-4 0h8m6 0h8m-6 0h8m-6 0h8m-6 0h8m4 0h8m2 0h8m-7 0h8m9 0h8m33 0h8m-366 1h8m1 0h8m4 0h8m28 0h8m1 0h8m-4 0h8m21 0h8m-6 0h8m-2 0h8m-7 0h8m7 0h8m-8 0h8m-3 0h8m-7 0h8m3 0h8m-8 0h8m-6 0h8m-7 0h8m-6 0h8m-1 0h8m0 0h8m5 0h8m-4 0h8m6 0h8m-3 0h8m14 0h8m-5 0h8m-3 0h8m-3 0h8m0 0h8m11 0h8m10 0h8m18 0h8m18 0h8m-378 1h8m41 0h8m13 0h8m48 0h8m-1 0h8m4 0h8m-8 0h8m2 0h8m-7 0h8m-6 0h8m-4 0h8m3 0h8m-7 0h8m-7 0h8m-8 0h8m3 0h8m-2 0h8m-5 0h8m-2 0h8m-6 0h8m-7 0h8m-5 0h8m-4 0h8m1 0h8m-2 0h8m2 0h8m5 0h8m-6 0h8m1 0h8m2 0h8m-2 0h8m13 0h8m3 0h8m2 0h8m-2 0h8m-5 0h8m-240 1h8m8 0h8m-6 0h8m3 0h8m-3 0h8m5 0h8m1 0h8m-6 0h8m13 0h8m1 0h8m-6 0h8m-7 0h8m3 0h8m0 0h8m5 0h8m-2 0h8m-2 0h8m-5 0h8m-4 0h8m-2 0h8m-5 0h8m-5 0h8m2 0h8m-4 0h8m-7 0h8m-3 0h8m-7 0h8m13 0h8m17 0h8m-6 0h8m-3 0h8m0 0h8m13 0h8m-390 1h8m82 0h8m33 0h8m-4 0h8m-1 0h8m5 0h8m-1 0h8m4 0h8m-2 0h8m2 0h8m-4 0h8m-6 0h8m-8 0h8m-5 0h8m5 0h8m-6 0h8m-6 0h8m-2 0h8m-7 0h8m-6 0h8m-6 0h8m-7 0h8m4 0h8m-7 0h8m7 0h8m-2 0h8m-5 0h8m-3 0h8m-3 0h8m2 0h8m14 0h8m13 0h8m20 0h8m2 0h8m14 0h8m6 0h8m-289 1h8m-5 0h8m37 0h8m-2 0h8m21 0h8m-5 0h8m-3 0h8m-7 0h8m-6 0h8m-6 0h8m0 0h8m-2 0h8m-3 0h8m-6 0h8m-6 0h8m-2 0h8m-7 0h8m-7 0h8m-5 0h8m-4 0h8m-2 0h8m6 0h8m-6 0h8m-7 0h8m0 0h8m-7 0h8m-8 0h8m-4 0h8m-8 0h8m-5 0h8m-6 0h8m-5 0h8m1 0h8m12 0h8m-5 0h8m-302 1h8m0 0h8m42 0h8m18 0h8m-4 0h8m20 0h8m-6 0h8m18 0h8m-7 0h8m-3 0h8m14 0h8m-5 0h8m-5 0h8m3 0h8m-6 0h8m2 0h8m0 0h8m0 0h8m7 0h8m15 0h8m-2 0h8m-6 0h8m1 0h8m-3 0h8m-1 0h8m-7 0h8m5 0h8m5 0h8m3 0h8m7 0h8m36 0h8m42 0h8m-398 1h8m-1 0h8m27 0h8m-3 0h8m-6 0h8m17 0h8m18 0h8m-6 0h8m-7 0h8m-6 0h8m-3 0h8m-4 0h8m-2 0h8m-5 0h8m-6 0h8m0 0h8m-3 0h8m-4 0h8m8 0h8m-5 0h8m15 0h8m-5 0h8m-8 0h8m-3 0h8m-6 0h8m3 0h8m-5 0h8m-6 0h8m3 0h8m-3 0h8m-6 0h8m-5 0h8m-2 0h8m4 0h8m-2 0h8m-4 0h8m-6 0h8m2 0h8m0 0h8m16 0h8m21 0h8m-318 1h8m6 0h8m7 0h8m-1 0h8m-4 0h8m24 0h8m11 0h8m4 0h8m0 0h8m-5 0h8m-5 0h8m-8 0h8m-6 0h8m-5 0h8m-1 0h8m-4 0h8m-1 0h8m5 0h8m13 0h8m-5 0h8m5 0h8m-6 0h8m-7 0h8m7 0h8m-1 0h8m-6 0h8m-6 0h8m-3 0h8m2 0h8m-6 0h8m-3 0h8m-229 1h8m15 0h8m-5 0h8m13 0h8m3 0h8m2 0h8m-6 0h8m4 0h8m-1 0h8m1 0h8m-7 0h8m-4 0h8m-4 0h8m-5 0h8m-1 0h8m-4 0h8m-7 0h8m-6 0h8m-3 0h8m-7 0h8m-5 0h8m-6 0h8m-2 0h8m-7 0h8m7 0h8m-7 0h8m-4 0h8m16 0h8m-2 0h8m-6 0h8m-7 0h8m-6 0h8m-1 0h8m-5 0h8m6 0h8m-2 0h8m-6 0h8m4 0h8m-5 0h8m-7 0h8m7 0h8m23 0h8m-390 1h8m49 0h8m27 0h8m13 0h8m7 0h8m-1 0h8m-6 0h8m-5 0h8m16 0h8m11 0h8m-5 0h8m0 0h8m-7 0h8m-3 0h8m16 0h8m-6 0h8m-7 0h8m0 0h8m5 0h8m10 0h8m-1 0h8m-1 0h8m2 0h8m12 0h8m-8 0h8m9 0h8m43 0h8m-334 1h8m-7 0h8m5 0h8m12 0h8m12 0h8m-4 0h8m7 0h8m10 0h8m-7 0h8m-7 0h8m-2 0h8m-8 0h8m-7 0h8m13 0h8m-5 0h8m-5 0h8m-3 0h8m9 0h8m-3 0h8m4 0h8m-3 0h8m-8 0h8m37 0h8m5 0h8m1 0h8m1 0h8m-4 0h8m62 0h8m-3 0h8m-3 0h8m-306 1h8m-1 0h8m12 0h8m-4 0h8m8 0h8m-8 0h8m23 0h8m-5 0h8m-2 0h8m27 0h8m-8 0h8m-5 0h8m-6 0h8m1 0h8m5 0h8m0 0h8m-7 0h8m-6 0h8m-6 0h8m-3 0h8m0 0h8m22 0h8m-5 0h8m34 0h8m9 0h8m-7 0h8m-280 1h8m30 0h8m-4 0h8m-2 0h8m4 0h8m-7 0h8m-7 0h8m11 0h8m1 0h8m-5 0h8m-3 0h8m-8 0h8m-2 0h8m3 0h8m1 0h8m14 0h8m7 0h8m-4 0h8m17 0h8m-1 0h8m-8 0h8m0 0h8m-5 0h8m-1 0h8m-7 0h8m-5 0h8m-1 0h8m-5 0h8m80 0h8m-293 1h8m0 0h8m12 0h8m-4 0h8m-8 0h8m-7 0h8m-5 0h8m26 0h8m-5 0h8m0 0h8m5 0h8m-7 0h8m-1 0h8m1 0h8m1 0h8m-2 0h8m-8 0h8m-3 0h8m14 0h8m-6 0h8m-7 0h8m47 0h8m-233 1h8m15 0h8m3 0h8m-7 0h8m5 0h8m17 0h8m-4 0h8m-6 0h8m-6 0h8m21 0h8m-3 0h8m-7 0h8m9 0h8m19 0h8m7 0h8m45 0h8m-4 0h8m-2 0h8m53 0h8m-289 1h8m-3 0h8m-3 0h8m13 0h8m-6 0h8m-4 0h8m-7 0h8m-1 0h8m12 0h8m-5 0h8m0 0h8m-4 0h8m-8 0h8m-1 0h8m-1 0h8m-2 0h8m-7 0h8m-7 0h8m-8 0h8m-2 0h8m-6 0h8m17 0h8m-6 0h8m-4 0h8m12 0h8m-6 0h8m-6 0h8m34 0h8m16 0h8m-352 1h8m19 0h8m-5 0h8m36 0h8m16 0h8m20 0h8m16 0h8m-7 0h8m0 0h8m-5 0h8m0 0h8m-6 0h8m4 0h8m-7 0h8m8 0h8m-5 0h8m9 0h8m-6 0h8m3 0h8m18 0h8m9 0h8m12 0h8m-4 0h8m36 0h8m12 0h8m-329 1h8m21 0h8m-6 0h8m12 0h8m4 0h8m-1 0h8m7 0h8m22 0h8m3 0h8m-8 0h8m-3 0h8m-6 0h8m-7 0h8m13 0h8m0 0h8m-5 0h8m0 0h8m-5 0h8m-3 0h8m11 0h8m-2 0h8m-3 0h8m-5 0h8m-8 0h8m-7 0h8m-6 0h8m-6 0h8m-2 0h8m-6 0h8m-1 0h8m-1 0h8m7 0h8m-3 0h8m-7 0h8m-257 1h8m8 0h8m-5 0h8m8 0h8m-3 0h8m-2 0h8m-5 0h8m23 0h8m2 0h8m6 0h8m4 0h8m-4 0h8m-5 0h8m-8 0h8m-6 0h8m-7 0h8m3 0h8m9 0h8m-8 0h8m-7 0h8m-2 0h8m48 0h8m-4 0h8m-3 0h8m14 0h8m-242 1h8m-6 0h8m49 0h8m23 0h8m-7 0h8m4 0h8m-7 0h8m0 0h8m11 0h8m6 0h8m-6 0h8m4 0h8m1 0h8m8 0h8m-4 0h8m5 0h8m-4 0h8m5 0h8m46 0h8m-1 0h8m28 0h8m-390 1h8m85 0h8m5 0h8m4 0h8m19 0h8m-4 0h8m16 0h8m-5 0h8m-4 0h8m-8 0h8m15 0h8m-5 0h8m17 0h8m3 0h8m-8 0h8m-4 0h8m-5 0h8m-6 0h8m-8 0h8m-1 0h8m12 0h8m4 0h8m2 0h8m16 0h8m48 0h8m-381 1h8m10 0h8m10 0h8m35 0h8m-1 0h8m31 0h8m-7 0h8m14 0h8m4 0h8m8 0h8m5 0h8m-6 0h8m-4 0h8m-2 0h8m4 0h8m4 0h8m-5 0h8m-1 0h8m-2 0h8m4 0h8m42 0h8m-257 1h8m24 0h8m13 0h8m-4 0h8m-5 0h8m17 0h8m-7 0h8m-5 0h8m22 0h8m1 0h8m16 0h8m-8 0h8m-5 0h8m0 0h8m-5 0h8m-8 0h8m5 0h8m34 0h8m121 0h8m-445 1h8m21 0h8m13 0h8m27 0h8m7 0h8m-4 0h8m-7 0h8m-3 0h8m59 0h8m0 0h8m2 0h8m-2 0h8m7 0h8m7 0h8m-6 0h8m-8 0h8m5 0h8m6 0h8m1 0h8m-2 0h8m1 0h8m-250 1h8m9 0h8m25 0h8m11 0h8m-7 0h8m-7 0h8m26 0h8m1 0h8m-2 0h8m5 0h8m2 0h8m-4 0h8m-2 0h8m10 0h8m7 0h8m-2 0h8m7 0h8m10 0h8m13 0h8m-4 0h8m-5 0h8m6 0h8m0 0h8m0 0h8m27 0h8m-4 0h8m18 0h8m-309 1h8m-3 0h8m50 0h8m2 0h8m1 0h8m11 0h8m1 0h8m-8 0h8m-1 0h8m-8 0h8m-8 0h8m-5 0h8m-7 0h8m-5 0h8m14 0h8m-2 0h8m-6 0h8m-4 0h8m-5 0h8m1 0h8m0 0h8m5 0h8m-3 0h8m3 0h8m22 0h8m-4 0h8m56 0h8m-7 0h8m24 0h8m-349 1h8m26 0h8m-6 0h8m20 0h8m-5 0h8m13 0h8m-3 0h8m-2 0h8m-6 0h8m-2 0h8m-8 0h8m5 0h8m0 0h8m-3 0h8m-5 0h8m2 0h8m-8 0h8m-6 0h8m1 0h8m-4 0h8m-8 0h8m23 0h8m-4 0h8m-4 0h8m-5 0h8m1 0h8m7 0h8m44 0h8m22 0h8m34 0h8m-384 1h8m-6 0h8m15 0h8m20 0h8m21 0h8m-6 0h8m-6 0h8m3 0h8m16 0h8m-5 0h8m-4 0h8m-2 0h8m21 0h8m-5 0h8m1 0h8m0 0h8m-4 0h8m-3 0h8m2 0h8m-3 0h8m-5 0h8m-7 0h8m41 0h8m-284 1h8m61 0h8m25 0h8m-7 0h8m6 0h8m9 0h8m-1 0h8m11 0h8m-7 0h8m-2 0h8m-7 0h8m18 0h8m15 0h8m41 0h8m-294 1h8m89 0h8m39 0h8m-5 0h8m2 0h8m-6 0h8m-3 0h8m-2 0h8m-2 0h8m8 0h8m15 0h8m-1 0h8m-1 0h8m-7 0h8m-129 1h8m19 0h8m-7 0h8m-4 0h8m-8 0h8m-7 0h8m1 0h8m-8 0h8m13 0h8m11 0h8m13 0h8m-3 0h8m-6 0h8m22 0h8m19 0h8m-217 1h8m74 0h8m37 0h8m-8 0h8m10 0h8m-5 0h8m-3 0h8m10 0h8m5 0h8m11 0h8m-167 1h8m12 0h8m0 0h8m-3 0h8m-1 0h8m16 0h8m3 0h8m-7 0h8m12 0h8m30 0h8m-1 0h8m7 0h8m10 0h8m-6 0h8m22 0h8m-7 0h8m-6 0h8m-309 1h8m70 0h8m9 0h8m25 0h8m-6 0h8m-6 0h8m-6 0h8m-7 0h8m1 0h8m-7 0h8m-4 0h8m4 0h8m-3 0h8m-4 0h8m24 0h8m46 0h8m-5 0h8m1 0h8m36 0h8m-295 1h8m22 0h8m28 0h8m10 0h8m-5 0h8m6 0h8m17 0h8m26 0h8m12 0h8m36 0h8m-4 0h8m2 0h8m47 0h8m-270 1h8m28 0h8m-6 0h8m37 0h8m-4 0h8m-4 0h8m-3 0h8m-5 0h8m-5 0h8m12 0h8m5 0h8m5 0h8m-4 0h8m2 0h8m8 0h8m84 0h8m-293 1h8m-5 0h8m-1 0h8m41 0h8m9 0h8m-2 0h8m-1 0h8m-7 0h8m-7 0h8m14 0h8m0 0h8m1 0h8m-8 0h8m-5 0h8m2 0h8m0 0h8m-4 0h8m-5 0h8m-5 0h8m-5 0h8m-3 0h8m25 0h8m-240 1h8m-4 0h8m78 0h8m20 0h8m-7 0h8m10 0h8m24 0h8m7 0h8m-3 0h8m26 0h8m5 0h8m-5 0h8m18 0h8m16 0h8m-5 0h8m59 0h8m-317 1h8m42 0h8m-8 0h8m9 0h8m10 0h8m-7 0h8m-1 0h8m20 0h8m-6 0h8m-6 0h8m-2 0h8m5 0h8m32 0h8m9 0h8m5 0h8m57 0h8m-299 1h8m34 0h8m-2 0h8m37 0h8m8 0h8m-6 0h8m-1 0h8m-7 0h8m11 0h8m2 0h8m2 0h8m11 0h8m51 0h8m5 0h8m13 0h8m-349 1h8m35 0h8m43 0h8m21 0h8m4 0h8m52 0h8m0 0h8m13 0h8m27 0h8m-2 0h8m22 0h8m14 0h8m22 0h8m-244 1h8m14 0h8m23 0h8m-7 0h8m-8 0h8m28 0h8m4 0h8m-5 0h8m-1 0h8m17 0h8m2 0h8m6 0h8m33 0h8m-223 1h8m28 0h8m18 0h8m17 0h8m44 0h8m7 0h8m13 0h8m-5 0h8m90 0h8m-374 1h8m77 0h8m9 0h8m12 0h8m14 0h8m-4 0h8m11 0h8m11 0h8m-2 0h8m8 0h8m31 0h8m29 0h8m-1 0h8m-207 1h8m0 0h8m36 0h8m68 0h8m-1 0h8m-2 0h8m-197 1h8m44 0h8m30 0h8m20 0h8m3 0h8m-2 0h8m3 0h8m21 0h8m19 0h8m16 0h8m24 0h8m-295 1h8m92 0h8m-2 0h8m6 0h8m10 0h8m11 0h8m2 0h8m-3 0h8m35 0h8m16 0h8m46 0h8m11 0h8m32 0h8m-327 1h8m46 0h8m36 0h8m23 0h8m-6 0h8m55 0h8m2 0h8m76 0h8m-6 0h8m-312 1h8m2 0h8m81 0h8m-5 0h8m-2 0h8m48 0h8m-6 0h8m10 0h8m-149 1h8m21 0h8m26 0h8m-5 0h8m202 0h8m-258 1h8m14 0h8m6 0h8m12 0h8m-2 0h8m20 0h8m29 0h8m-110 1h8m31 0h8m94 0h8m1 0h8m-253 1h8m44 0h8m-6 0h8m-5 0h8m8 0h8m40 0h8m1 0h8m3 0h8m30 0h8m32 0h8m-4 0h8m-6 0h8m-139 1h8m51 0h8m3 0h8m-3 0h8m12 0h8m-8 0h8m118 0h8m-333 1h8m1 0h8m77 0h8m74 0h8m29 0h8m-2 0h8m1 0h8m62 0h8m-295 1h8m87 0h8m23 0h8m6 0h8m63 0h8m88 0h8m-1 0h8m-349 1h8m62 0h8m27 0h8m7 0h8m-1 0h8m19 0h8m41 0h8m61 0h8m-157 1h8m-7 0h8m29 0h8m19 0h8m42 0h8m-5 0h8m-160 1h8m109 0h8m-7 0h8m81 0h8m1 0h8m88 0h8m-369 1h8m45 0h8m42 0h8m17 0h8m-3 0h8m14 0h8m2 0h8m-53 1h8m6 0h8m8 0h8m-1 0h8m16 0h8m-109 1h8m11 0h8m-4 0h8m10 0h8m10 0h8m61 0h8m51 0h8m-189 1h8m64 0h8m15 0h8m-81 1h8m-4 0h8m-8 0h8m225 0h8m-343 1h8m51 0h8m18 0h8m58 0h8m25 0h8m3 0h8m33 0h8m21 0h8m-278 1h8m139 0h8m43 0h8m-213 1h8m64 0h8m65 0h8m45 0h8m-143 1h8m43 0h8m-7 0h8m154 0h8m-173 1h8m72 0h8m-4 0h8m3 0h8m9 0h8m-98 1h8m1 0h8m-68 1h8m89 0h8m0 0h8m-198 1h8m146 0h8m-5 0h8m76 0h8m-82 1h8m-35 2h8m7 0h8m-184 1h8m19 0h8m93 0h8m77 0h8m15 0h8m0 0h8m5 0h8m-132 1h8m78 1h8m21 0h8m61 0h8m-260 1h8m10 0h8m134 0h8m-337 1h8m81 0h8m69 0h8m66 1h8m24 0h8m117 0h8m-192 1h8m103 0h8m-30 1h8m-3 0h8m34 0h8m-162 2h8m-127 1h8m98 1h8m42 1h8m46 0h8m4 0h8m-191 1h8m229 1h8m-91 1h8m-179 1h8m80 0h8m-2 0h8m13 0h8m133 0h8m-90 1h8m-260 1h8m312 0h8m-222 2h8m8 0h8m80 0h8m27 0h8m-141 3h8m145 0h8m26 1h8m-69 3h8m-239 2h8m344 0h8m-159 2h8m171 0h8m-155 1h8m-4 1h8m14 0h8m-222 1h8m135 1h8m2 0h8m124 1h8m-25 7h8m-74 2h8m32 0h8m-60 1h8m50 9h8m-86 2h8m175 7h8m-108 2h8m-9 3h8m124 15h8" stroke="#1a1a1a" stroke-width="8" stroke-opacity="0.85" fill="none"/>
<path transform="scale(.1)" d="m2339 462h7m-272 6h7m55 1h7m161 6h7m-126 1h7m2 5h7m-79 1h7m99 0h7m20 3h7m2 5h7m60 4h7m-251 2h7m-156 1h7m-25 1h7m428 1h7m-88 11h7m174 0h7m-450 2h7m121 0h7m306 0h7m-483 1h7m186 1h7m-264 1h7m47 1h7m-77 2h7m26 1h7m125 0h7m187 0h7m-361 1h7m126 1h7m314 1h7m-229 1h7m73 1h7m151 0h7m-1 0h7m-182 1h7m35 0h7m-321 1h7m306 1h7m-314 1h7m-83 1h7m114 0h7m292 0h7m-333 2h7m134 0h7m-11 2h7m-151 1h7m46 0h7m29 1h7m151 0h7m37 0h7m71 0h7m13 0h7m-108 1h7m66 0h7m10 0h7m-70 1h7m104 0h7m-433 1h7m12 0h7m243 0h7m-30 2h7m30 0h7m-354 1h7m254 0h7m-142 1h7m53 0h7m23 0h7m303 0h7m-524 1h7m265 0h7m53 0h7m78 0h7m94 0h7m-309 1h7m234 0h7m71 0h7m-496 1h7m176 0h7m10 0h7m19 0h7m83 0h7m-430 1h7m84 0h7m11 0h7m139 0h7m82 0h7m115 0h7m-193 1h7m21 0h7m-244 1h7m316 0h7m108 0h7m-380 1h7m237 0h7m52 0h7m-380 1h7m6 0h7m191 1h7m12 0h7m-126 1h7m296 0h7m-48 1h7m-368 1h7m48 0h7m50 0h7m-20 1h7m48 0h7m149 0h7m-145 1h7m180 0h7m32 1h7m-515 1h7m227 0h7m-2 0h7m-1 0h7m7 0h7m108 0h7m234 0h7m-235 1h7m91 0h7m-327 1h7m-4 0h7m7 0h7m0 0h7m0 0h7m54 0h7m16 0h7m21 0h7m-6 0h7m50 0h7m45 0h7m-275 2h7m167 0h7m245 0h7m9 0h7m-321 1h7m6 0h7m15 0h7m93 0h7m-262 1h7m118 0h7m212 0h7m-356 2h7m35 0h7m155 0h7m31 0h7m-71 1h7m34 0h7m-3 0h7m-157 1h7m298 1h7m130 0h7m-3 0h7m-450 1h7m67 0h7m99 0h7m-3 0h7m55 0h7m36 0h7m-162 1h7m-200 1h7m93 0h7m75 0h7m150 0h7m117 0h7m-418 1h7m-192 1h7m18 0h7m145 0h7m321 0h7m-356 1h7m1 0h7m90 0h7m60 0h7m-345 1h7m126 0h7m67 0h7m314 0h7m-364 1h7m127 0h7m247 0h7m-394 1h7m110 0h7m15 0h7m130 0h7m98 0h7m-369 1h7m152 0h7m295 0h7m-294 1h7m62 0h7m17 0h7m145 0h7m-425 1h7m444 0h7m-382 1h7m21 0h7m110 0h7m14 0h7m-163 1h7m84 0h7m49 0h7m-5 0h7m-287 1h7m35 0h7m138 0h7m55 0h7m82 0h7m-391 1h7m31 0h7m305 0h7m6 0h7m4 0h7m66 0h7m2 0h7m-557 1h7m143 0h7m314 0h7m12 0h7m-142 1h7m3 0h7m142 0h7m70 0h7m-389 1h7m124 0h7m184 0h7m60 0h7m-214 1h7m-2 0h7m-7 0h7m-6 0h7m71 0h7m41 0h7m-431 1h7m228 0h7m51 0h7m41 0h7m61 0h7m26 0h7m-550 1h7m37 0h7m35 0h7m30 0h7m46 0h7m63 0h7m31 0h7m10 0h7m91 0h7m-1 0h7m21 0h7m-287 1h7m21 0h7m50 0h7m44 0h7m31 0h7m69 0h7m55 0h7m-301 1h7m196 0h7m117 0h7m41 0h7m-531 1h7m7 0h7m93 0h7m84 0h7m135 0h7m116 0h7m-6 0h7m-292 1h7m27 0h7m30 0h7m144 0h7m198 0h7m-504 1h7m36 0h7m14 0h7m194 0h7m2 0h7m-310 1h7m70 0h7m132 0h7m219 0h7m-287 1h7m56 0h7m120 0h7m-191 1h7m112 0h7m17 0h7m-332 1h7m62 0h7m38 0h7m31 0h7m-5 0h7m56 0h7m-111 1h7m-3 0h7m105 0h7m-5 0h7m17 0h7m23 0h7m2 0h7m1 0h7m-1 0h7m-6 0h7m74 0h7m-498 1h7m32 0h7m45 0h7m114 0h7m5 0h7m50 0h7m45 0h7m52 1h7m220 0h7m-522 1h7m16 0h7m155 0h7m52 0h7m10 0h7m122 0h7m12 0h7m120 0h7m-356 1h7m60 0h7m25 0h7m21 0h7m70 0h7m-6 0h7m-446 1h7m59 0h7m21 0h7m-5 0h7m233 0h7m46 0h7m66 0h7m-537 1h7m143 0h7m48 0h7m70 0h7m25 0h7m120 0h7m12 0h7m-352 1h7m20 0h7m44 0h7m117 0h7m54 0h7m-1 0h7m21 0h7m27 0h7m-417 1h7m58 0h7m187 0h7m60 0h7m42 0h7m61 0h7m-300 1h7m106 0h7m35 0h7m197 0h7m3 0h7m25 0h7m-306 1h7m-7 0h7m35 0h7m48 0h7m90 0h7m45 0h7m0 0h7m-527 1h7m78 0h7m64 0h7m70 0h7m10 0h7m128 0h7m65 0h7m-279 1h7m93 0h7m33 0h7m48 0h7m29 0h7m111 0h7m-431 1h7m34 0h7m117 0h7m-1 0h7m27 0h7m40 0h7m71 0h7m61 0h7m66 0h7m-564 1h7m42 0h7m39 0h7m54 0h7m-7 0h7m57 0h7m38 0h7m43 0h7m12 0h7m1 0h7m113 0h7m14 0h7m-465 1h7m12 0h7m218 0h7m24 0h7m89 0h7m5 0h7m-3 0h7m4 0h7m14 0h7m10 0h7m157 0h7m-624 1h7m173 0h7m105 0h7m9 0h7m67 0h7m4 0h7m8 0h7m13 0h7m94 0h7m-498 1h7m38 0h7m86 0h7m10 0h7m52 0h7m85 0h7m10 0h7m8 0h7m-6 0h7m27 0h7m-198 1h7m6 0h7m88 0h7m43 0h7m-2 0h7m10 0h7m4 0h7m84 0h7m22 0h7m-6 0h7m-374 1h7m83 0h7m53 0h7m-3 0h7m15 0h7m-343 1h7m-4 0h7m250 0h7m21 0h7m164 0h7m-274 1h7m43 0h7m46 0h7m38 0h7m28 0h7m18 0h7m-265 1h7m176 0h7m107 0h7m21 0h7m-445 1h7m92 0h7m61 0h7m2 0h7m29 0h7m46 0h7m69 0h7m34 0h7m-315 1h7m87 0h7m6 0h7m48 0h7m40 0h7m76 0h7m-2 0h7m19 0h7m-433 1h7m213 0h7m121 0h7m127 0h7m-254 1h7m12 0h7m74 0h7m55 0h7m41 0h7m-205 1h7m30 0h7m30 0h7m72 0h7m-292 1h7m84 0h7m100 0h7m7 0h7m44 0h7m-1 0h7m0 0h7m-5 0h7m19 0h7m2 0h7m-4 0h7m98 0h7m-330 1h7m133 0h7m-7 0h7m30 0h7m58 0h7m-2 0h7m35 0h7m80 0h7m1 0h7m-485 1h7m-5 0h7m65 0h7m164 0h7m-6 0h7m-359 1h7m45 0h7m102 0h7m120 0h7m8 0h7m6 0h7m22 0h7m33 0h7m46 0h7m69 0h7m-294 1h7m5 0h7m98 0h7m15 0h7m2 0h7m54 0h7m85 0h7m-554 1h7m257 0h7m-5 0h7m-4 0h7m2 0h7m67 0h7m12 0h7m17 0h7m-5 0h7m33 0h7m108 0h7m-587 1h7m6 0h7m-1 0h7m9 0h7m221 0h7m46 0h7m63 0h7m90 0h7m62 0h7m50 0h7m47 0h7m-334 1h7m9 0h7m139 0h7m0 0h7m27 0h7m-1 0h7m-379 1h7m252 0h7m51 0h7m-379 1h7m115 0h7m37 0h7m94 0h7m0 0h7m32 0h7m78 0h7m-270 1h7m78 0h7m80 0h7m0 0h7m8 0h7m81 0h7m-255 1h7m6 0h7m0 0h7m61 0h7m8 0h7m120 0h7m81 0h7m-520 1h7m284 0h7m18 0h7m9 0h7m-4 0h7m-100 1h7m27 0h7m34 0h7m5 0h7m17 0h7m9 0h7m68 0h7m-504 1h7m66 0h7m26 0h7m94 0h7m34 0h7m106 0h7m2 0h7m23 0h7m45 0h7m43 0h7m83 0h7m-542 1h7m21 0h7m153 0h7m65 0h7m60 0h7m114 0h7m-155 1h7m0 0h7m10 0h7m-7 0h7m23 0h7m44 0h7m72 0h7m-364 1h7m14 0h7m63 0h7m24 0h7m58 0h7m40 0h7m17 0h7m44 0h7m-470 1h7m93 0h7m5 0h7m-4 0h7m235 0h7m70 0h7m33 0h7m-461 1h7m89 0h7m30 0h7m54 0h7m51 0h7m171 0h7m-420 1h7m118 0h7m6 0h7m39 0h7m63 0h7m38 0h7m28 0h7m19 0h7m66 0h7m9 0h7m68 0h7m-589 1h7m145 0h7m95 0h7m61 0h7m109 0h7m76 0h7m-271 1h7m17 0h7m-7 0h7m40 0h7m6 0h7m1 0h7m0 0h7m12 0h7m58 0h7m-390 1h7m207 0h7m1 0h7m44 0h7m13 0h7m10 0h7m97 0h7m-445 1h7m197 0h7m-5 0h7m93 0h7m10 0h7m94 0h7m-435 1h7m60 0h7m238 0h7m24 0h7m50 0h7m11 0h7m-4 0h7m6 0h7m-396 1h7m179 0h7m39 0h7m6 0h7m1 0h7m24 0h7m37 0h7m14 0h7m46 0h7m-433 1h7m23 0h7m141 0h7m10 0h7m73 0h7m-7 0h7m11 0h7m11 0h7m39 0h7m3 0h7m-5 0h7m126 0h7m-532 1h7m225 0h7m69 0h7m29 0h7m30 0h7m-219 1h7m150 0h7m-2 0h7m39 0h7m66 0h7m-359 1h7m55 0h7m1 0h7m14 0h7m100 0h7m85 0h7m14 0h7m-170 1h7m64 0h7m50 0h7m9 0h7m8 0h7m-300 1h7m96 0h7m-2 0h7m1 0h7m40 0h7m44 0h7m95 0h7m-3 0h7m16 0h7m-562 1h7m104 0h7m39 0h7m116 0h7m103 0h7m40 0h7m1 0h7m138 0h7m-310 1h7m4 0h7m56 0h7m-3 0h7m18 0h7m17 0h7m1 0h7m5 0h7m-304 1h7m14 0h7m84 0h7m155 0h7m-1 0h7m17 0h7m-4 0h7m76 0h7m29 0h7m-525 1h7m114 0h7m2 0h7m261 0h7m10 0h7m6 0h7m97 0h7m-197 1h7m127 0h7m135 0h7m-538 1h7m100 0h7m69 0h7m12 0h7m44 0h7m65 0h7m-6 0h7m32 0h7m46 0h7m-268 1h7m55 0h7m0 0h7m43 0h7m34 0h7m40 0h7m46 0h7m-4 0h7m6 0h7m-271 1h7m31 0h7m-5 0h7m49 0h7m50 0h7m14 0h7m80 0h7m53 0h7m15 0h7m-238 1h7m22 0h7m11 0h7m64 0h7m76 0h7m-183 1h7m36 0h7m6 0h7m-214 1h7m3 0h7m39 0h7m8 0h7m11 0h7m38 0h7m35 0h7m-378 1h7m122 0h7m118 0h7m53 0h7m86 0h7m7 0h7m11 0h7m-537 1h7m148 0h7m174 0h7m-3 0h7m104 0h7m-335 1h7m2 0h7m67 0h7m131 0h7m22 0h7m-3 0h7m30 0h7m-355 1h7m48 0h7m45 0h7m6 0h7m5 0h7m86 0h7m20 0h7m-6 0h7m26 0h7m74 0h7m-3 0h7m45 0h7m56 0h7m-6 0h7m-486 1h7m94 0h7m114 0h7m47 0h7m49 0h7m59 0h7m-215 1h7m171 0h7m31 0h7m9 0h7m-161 1h7m46 0h7m-4 0h7m42 0h7m86 0h7m20 0h7m-213 1h7m31 0h7m11 0h7m-5 0h7m75 0h7m-3 0h7m-258 1h7m83 0h7m110 0h7m4 0h7m35 0h7m58 0h7m-277 1h7m47 0h7m23 0h7m-6 0h7m33 0h7m98 0h7m-265 1h7m41 0h7m12 0h7m104 0h7m25 0h7m-224 1h7m4 0h7m14 0h7m57 0h7m-1 0h7m47 0h7m26 0h7m57 0h7m47 0h7m-155 1h7m43 0h7m12 0h7m-114 1h7m39 0h7m42 0h7m38 0h7m-473 1h7m34 0h7m124 0h7m103 0h7m9 0h7m2 0h7m10 0h7m48 0h7m20 0h7m10 0h7m15 0h7m-306 1h7m26 0h7m11 0h7m107 0h7m39 0h7m-5 0h7m11 0h7m-3 0h7m12 0h7m-231 1h7m23 0h7m9 0h7m10 0h7m15 0h7m-6 0h7m44 0h7m1 0h7m4 0h7m6 0h7m64 0h7m0 0h7m-207 1h7m34 0h7m8 0h7m127 0h7m-198 1h7m63 0h7m-4 0h7m-5 0h7m1 0h7m-1 0h7m-1 0h7m13 0h7m43 0h7m80 0h7m12 0h7m-283 1h7m8 0h7m13 0h7m-3 0h7m8 0h7m0 0h7m43 0h7m36 0h7m34 0h7m-7 0h7m8 0h7m5 0h7m12 0h7m19 0h7m28 0h7m-239 1h7m22 0h7m25 0h7m20 0h7m-224 1h7m68 0h7m37 0h7m46 0h7m28 0h7m14 0h7m8 0h7m-2 0h7m26 0h7m-395 1h7m219 0h7m0 0h7m50 0h7m5 0h7m-4 0h7m76 0h7m16 0h7m-297 1h7m142 0h7m17 0h7m5 0h7m13 0h7m11 0h7m17 0h7m-167 1h7m51 0h7m154 0h7m-460 1h7m47 0h7m134 0h7m-4 0h7m3 0h7m27 0h7m17 0h7m20 0h7m8 0h7m117 0h7m-499 1h7m98 1h7m149 0h7m185 0h7m-2 0h7m47 0h7m0 0h7m-311 1h7m8 0h7m35 0h7m15 0h7m32 0h7m-1 0h7m-2 0h7m60 0h7m8 0h7m19 0h7m-459 1h7m69 0h7m231 0h7m52 0h7m5 0h7m144 0h7m32 0h7m-612 1h7m162 0h7m93 0h7m45 0h7m41 0h7m5 0h7m28 0h7m16 0h7m22 0h7m9 0h7m74 0h7m-235 1h7m56 0h7m97 0h7m-282 1h7m69 0h7m7 0h7m2 0h7m5 0h7m4 0h7m47 0h7m-3 0h7m-5 0h7m14 0h7m76 0h7m162 0h7m-300 1h7m45 0h7m9 0h7m55 0h7m-7 0h7m-207 1h7m-5 0h7m78 0h7m-134 1h7m83 0h7m11 0h7m39 0h7m130 0h7m-456 1h7m207 0h7m38 0h7m34 0h7m17 0h7m-285 1h7m262 0h7m22 0h7m22 0h7m-156 1h7m6 0h7m39 0h7m36 0h7m9 0h7m25 0h7m18 0h7m-5 0h7m-375 1h7m61 0h7m13 0h7m85 0h7m55 0h7m10 0h7m20 0h7m113 0h7m-420 1h7m163 0h7m101 0h7m4 0h7m26 0h7m10 0h7m3 0h7m16 0h7m20 0h7m-7 0h7m-265 1h7m13 0h7m83 0h7m135 0h7m11 0h7m-289 1h7m66 0h7m20 0h7m-2 0h7m100 0h7m31 0h7m12 0h7m-231 1h7m42 0h7m18 0h7m6 0h7m37 0h7m150 0h7m-462 1h7m206 0h7m15 0h7m55 0h7m15 0h7m-383 1h7m32 0h7m230 0h7m16 0h7m74 0h7m-185 1h7m17 0h7m38 0h7m106 0h7m85 0h7m-2 0h7m-408 1h7m96 0h7m18 0h7m8 0h7m16 0h7m13 0h7m3 0h7m63 0h7m52 0h7m-6 0h7m-206 1h7m93 0h7m-6 0h7m-167 1h7m95 0h7m63 0h7m53 0h7m40 0h7m82 0h7m-163 1h7m4 0h7m-226 1h7m20 0h7m36 0h7m15 0h7m9 0h7m27 0h7m12 0h7m28 0h7m73 0h7m-247 1h7m71 0h7m34 0h7m-94 1h7m45 0h7m56 0h7m20 0h7m77 0h7m37 0h7m-380 1h7m11 0h7m16 0h7m92 0h7m0 0h7m91 0h7m63 0h7m2 0h7m-164 1h7m151 0h7m-554 1h7m96 0h7m60 0h7m133 0h7m66 0h7m-1 0h7m75 0h7m23 0h7m17 0h7m25 0h7m5 0h7m-1 0h7m-328 1h7m20 0h7m88 0h7m46 0h7m12 0h7m6 0h7m14 0h7m45 0h7m-192 1h7m7 0h7m27 0h7m9 0h7m13 0h7m44 0h7m-399 1h7m280 0h7m73 0h7m73 0h7m-142 1h7m63 0h7m-78 1h7m83 0h7m-64 1h7m1 0h7m14 0h7m51 0h7m65 0h7m-450 1h7m299 0h7m8 0h7m-143 1h7m33 0h7m67 0h7m30 0h7m7 0h7m-329 1h7m72 0h7m135 0h7m116 0h7m-281 1h7m88 0h7m164 0h7m-1 0h7m31 0h7m-235 1h7m219 0h7m-5 0h7m-242 1h7m11 0h7m11 0h7m61 0h7m95 0h7m-210 1h7m78 0h7m70 0h7m-173 1h7m126 0h7m27 0h7m24 0h7m-128 1h7m46 0h7m19 0h7m11 0h7m36 0h7m-5 0h7m-3 0h7m6 0h7m-398 1h7m65 0h7m101 0h7m81 0h7m0 0h7m26 1h7m165 0h7m-525 1h7m257 0h7m97 0h7m95 0h7m-217 1h7m1 0h7m12 0h7m6 0h7m98 0h7m-93 1h7m206 0h7m-209 1h7m50 0h7m-295 1h7m59 0h7m38 0h7m19 0h7m184 0h7m-195 1h7m-2 0h7m40 0h7m-180 1h7m62 0h7m38 0h7m17 0h7m11 0h7m12 0h7m-19 1h7m116 0h7m-217 1h7m22 0h7m19 0h7m3 0h7m-6 0h7m79 0h7m34 0h7m14 0h7m66 0h7m-463 1h7m256 0h7m42 0h7m2 0h7m-357 1h7m182 0h7m41 0h7m3 0h7m3 0h7m207 0h7m-379 1h7m-6 0h7m109 0h7m87 0h7m97 0h7m-256 1h7m212 0h7m-142 1h7m-1 0h7m63 0h7m36 0h7m15 0h7m2 0h7m-202 1h7m-6 0h7m100 0h7m40 0h7m136 0h7m-311 1h7m12 0h7m1 0h7m249 0h7m16 0h7m-467 1h7m80 0h7m62 0h7m26 0h7m54 0h7m-38 1h7m17 0h7m-57 1h7m11 1h7m-48 1h7m-2 0h7m122 0h7m13 0h7m-4 0h7m99 0h7m-578 1h7m254 0h7m57 0h7m100 0h7m104 0h7m2 1h7m-65 1h7m59 0h7m-237 1h7m46 0h7m149 0h7m-304 1h7m71 0h7m30 0h7m54 0h7m21 0h7m15 0h7m-210 1h7m93 0h7m-2 0h7m62 0h7m-45 1h7m-139 1h7m26 0h7m54 0h7m-52 1h7m56 0h7m5 0h7m77 0h7m-6 0h7m-6 0h7m-24 1h7m-136 1h7m-6 0h7m48 0h7m79 0h7m-164 1h7m63 0h7m12 0h7m21 0h7m-175 1h7m58 0h7m55 0h7m-1 0h7m21 0h7m13 0h7m29 0h7m-108 1h7m39 0h7m15 0h7m-219 1h7m40 0h7m42 0h7m17 0h7m21 0h7m93 0h7m-199 1h7m125 0h7m94 0h7m-289 1h7m109 0h7m7 0h7m96 1h7m-190 2h7m143 0h7m-136 1h7m153 1h7m116 1h7m-321 1h7m0 0h7m106 0h7m-105 2h7m17 0h7m56 0h7m97 1h7m-183 1h7m90 0h7m69 0h7m-260 2h7m115 1h7m8 0h7m5 0h7m-3 2h7m126 0h7m30 0h7m-153 2h7m-4 0h7m-3 2h7m13 0h7m-131 1h7m59 0h7m20 0h7m16 0h7m118 1h7m42 0h7m-261 1h7m-32 1h7m199 0h7m-134 1h7m104 0h7m-255 1h7m101 2h7m95 0h7m-119 2h7m69 0h7m-29 1h7m149 0h7m50 0h7m-278 1h7m109 0h7m51 0h7m-30 3h7m-148 1h7m-156 1h7m79 0h7m72 1h7m-12 3h7m-339 1h7m301 3h7m44 0h7m-43 1h7m47 0h7m-79 1h7m64 0h7m-4 0h7m10 0h7m-69 3h7m23 0h7m54 0h7m-242 2h7m159 1h7m-181 1h7m-8 1h7m235 0h7m-109 4h7m3 0h7m44 1h7m-88 1h7m-101 2h7m127 1h7m-31 4h7m23 6h7m22 2h7m-31 2h7m-22 10h7m6 1h7m31 0h7m-114 1h7m24 0h7m40 0h7m79 14h7m-38 41h7m54 6h7m-198 3h7" stroke="#1a1a1a" stroke-width="7" stroke-opacity="0.45" fill="none"/>
<path transform="scale(.1)" d="m2463 432h7m-578 2h7m135 9h7m165 10h7m129 8h7m97 0h7m-507 3h7m489 6h7m22 11h7m-495 5h7m370 29h7m-4 3h7m-154 2h7m46 13h7m-297 63h7m-5 6h7m182 11h7m164 15h7m-83 54h7m-410 6h7m340 28h7m-213 7h7m353 4h7m16 6h7m-257 5h7m-341 13h7m587 28h7m-262 7h7m268 1h7m-505 4h7m212 6h7m-251 7h7m93 4h7m406 2h7m-242 10h7m-98 16h7m265 5h7m66 8h7m62 0h7m-113 1h7m-56 2h7m163 1h7m-92 2h7m-16 16h7m-59 1h7m23 1h7m-442 9h7m-38 6h7m282 0h7m111 2h7m44 0h7m13 0h7m-59 3h7m-38 9h7m38 0h7m-36 1h7m-495 3h7m67 1h7m154 0h7m386 0h7m-556 1h7m430 1h7m4 9h7m-7 1h7m28 1h7m-488 1h7m72 5h7m347 2h7m66 1h7m-404 2h7m106 0h7m160 2h7m-366 1h7m116 1h7m-50 2h7m-245 2h7m-2 6h7m496 3h7m127 1h7m-75 1h7m9 0h7m69 0h7m-637 3h7m594 1h7m-30 3h7m-277 1h7m337 0h7m-567 3h7m197 2h7m236 2h7m15 0h7m-358 1h7m-48 2h7m409 0h7m65 0h7m-130 3h7m-467 5h7m6 0h7m-18 1h7m514 1h7m-623 1h7m501 4h7m-486 3h7m92 0h7m2 1h7m73 0h7m-205 1h7m-46 1h7m128 0h7m366 1h7m176 1h7m-185 4h7m92 1h7m-28 4h7m4 0h7m47 0h7m-99 2h7m-6 0h7m-393 3h7m427 4h7m-396 2h7m302 1h7m-400 2h7m-36 1h7m-2 0h7m185 0h7m-74 2h7m353 0h7m-300 1h7m268 0h7m-30 1h7m-285 4h7m294 1h7m-77 1h7m-259 3h7m-85 4h7m381 1h7m12 4h7m9 0h7m-475 1h7m185 0h7m186 0h7m13 3h7m16 4h7m44 4h7m-97 2h7m-460 1h7m43 0h7m176 6h7m322 4h7m-375 1h7m180 4h7m87 0h7m-287 1h7m270 0h7m-391 1h7m354 2h7m-512 1h7m133 1h7m137 1h7m307 0h7m-318 2h7m250 0h7m-21 2h7m-451 3h7m268 0h7m240 1h7m-456 5h7m331 1h7m-234 4h7m-258 1h7m514 3h7m61 0h7m-386 2h7m294 1h7m59 1h7m-511 2h7m529 0h7m-161 8h7m-251 3h7m314 10h7m-461 2h7m-96 1h7m-28 3h7m277 2h7m315 8h7m-391 2h7m284 2h7m83 0h7m-70 2h7m-242 3h7m-86 4h7" stroke="#1a1a1a" stroke-width="7" stroke-opacity="0.28" fill="none"/>
<path transform="scale(.1)" d="m3352 430h8m-314 10h8m79 5h8m-105 5h8m15 6h8m287 9h8m-258 2h8m39 4h8m104 3h8m-144 8h8m111 0h8m95 1h8m-3 5h8m-41 7h8m-137 1h8m45 1h8m-124 1h8m115 2h8m12 1h8m15 0h8m-88 3h8m69 0h8m-156 1h8m154 0h8m8 3h8m-89 2h8m-1 1h8m-269 1h8m325 0h8m27 1h8m-312 1h8m155 0h8m12 0h8m99 0h8m-82 2h8m-49 1h8m-9 1h8m8 0h8m12 0h8m38 3h8m-225 1h8m132 0h8m42 0h8m-80 1h8m99 0h8m-162 1h8m68 0h8m84 0h8m51 0h8m-149 1h8m37 0h8m-19 1h8m1 0h8m-25 1h8m75 1h8m-50 1h8m-4 0h8m-179 1h8m75 0h8m-64 1h8m21 0h8m0 0h8m24 0h8m19 0h8m-54 1h8m50 0h8m38 0h8m-222 1h8m197 0h8m-94 1h8m2 0h8m-20 1h8m53 1h8m-118 1h8m32 0h8m44 0h8m41 0h8m-71 1h8m-106 1h8m143 0h8m50 0h8m-168 1h8m-200 1h8m260 1h8m17 0h8m22 0h8m-5 0h8m-154 1h8m108 1h8m-115 1h8m96 0h8m5 0h8m9 0h8m52 0h8m-224 1h8m-83 2h8m87 0h8m67 1h8m34 0h8m-237 1h8m36 0h8m24 1h8m120 0h8m-6 0h8m21 0h8m-231 1h8m81 0h8m76 0h8m102 0h8m-228 1h8m62 0h8m24 0h8m24 0h8m-116 1h8m68 0h8m141 0h8m-76 2h8m-123 2h8m-6 0h8m3 0h8m19 0h8m-95 1h8m83 0h8m-71 1h8m-88 1h8m18 0h8m-20 1h8m106 0h8m-6 1h8m0 0h8m0 0h8m-331 1h8m48 0h8m191 0h8m33 0h8m121 1h8m-198 1h8m-27 2h8m65 0h8m1 0h8m-5 0h8m37 0h8m5 0h8m2 0h8m12 0h8m-380 1h8m188 0h8m17 0h8m44 0h8m0 0h8m-247 1h8m112 0h8m-77 1h8m185 0h8m42 0h8m-184 1h8m59 0h8m17 0h8m-7 0h8m-8 0h8m-3 1h8m26 0h8m12 0h8m19 0h8m-87 1h8m2 0h8m27 0h8m34 0h8m9 0h8m-477 1h8m280 0h8m54 0h8m35 0h8m8 0h8m50 0h8m-170 1h8m5 0h8m5 0h8m4 0h8m12 0h8m22 0h8m1 0h8m1 0h8m23 0h8m-276 1h8m125 0h8m85 0h8m68 0h8m-191 1h8m62 0h8m-3 0h8m12 0h8m43 0h8m-5 0h8m34 0h8m-257 1h8m149 0h8m28 0h8m-144 1h8m42 0h8m-7 0h8m32 0h8m26 0h8m-70 1h8m45 0h8m-75 1h8m112 1h8m-6 0h8m-130 1h8m-1 0h8m29 0h8m-151 1h8m154 0h8m10 0h8m50 0h8m-155 1h8m94 0h8m4 0h8m20 0h8m-71 1h8m-4 0h8m74 0h8m-194 1h8m12 0h8m17 0h8m-124 1h8m81 0h8m88 0h8m9 0h8m-211 1h8m58 0h8m34 0h8m63 0h8m38 0h8m1 0h8m-243 1h8m69 0h8m-7 0h8m32 0h8m31 0h8m23 0h8m-363 1h8m293 0h8m26 0h8m10 0h8m3 0h8m-125 1h8m23 0h8m65 0h8m11 0h8m-160 1h8m55 0h8m39 0h8m10 0h8m29 0h8m-94 1h8m19 0h8m-1 0h8m-2 0h8m16 0h8m-168 1h8m53 0h8m-4 0h8m24 0h8m32 0h8m86 0h8m-198 1h8m80 0h8m26 0h8m-158 1h8m0 0h8m50 0h8m-3 0h8m36 0h8m34 0h8m42 0h8m-7 0h8m-215 1h8m46 0h8m46 0h8m20 0h8m-213 1h8m174 0h8m6 0h8m55 0h8m-337 1h8m128 0h8m1 0h8m53 0h8m44 0h8m29 0h8m49 0h8m-7 0h8m-247 1h8m22 0h8m59 0h8m-2 0h8m49 0h8m36 0h8m-115 1h8m-2 0h8m8 0h8m32 0h8m9 0h8m-309 1h8m169 0h8m19 0h8m35 0h8m37 0h8m9 0h8m108 0h8m-253 1h8m1 0h8m48 0h8m-7 0h8m1 0h8m8 0h8m25 0h8m-4 0h8m65 0h8m-224 1h8m49 0h8m73 0h8m-3 0h8m-237 1h8m136 0h8m43 0h8m146 0h8m-468 1h8m112 0h8m47 0h8m29 0h8m36 0h8m-4 0h8m68 0h8m-207 1h8m52 0h8m103 0h8m-235 1h8m172 0h8m-1 0h8m18 0h8m33 0h8m-147 1h8m16 0h8m26 0h8m-2 0h8m4 0h8m0 0h8m-1 0h8m-69 1h8m13 0h8m21 0h8m10 0h8m33 0h8m-5 0h8m0 0h8m-131 1h8m24 0h8m-1 0h8m156 0h8m-373 1h8m146 0h8m6 0h8m18 0h8m6 0h8m0 0h8m196 0h8m-287 1h8m-6 0h8m54 0h8m-158 1h8m67 0h8m32 0h8m7 0h8m8 0h8m-223 1h8m34 0h8m177 0h8m30 0h8m-128 1h8m35 0h8m109 0h8m-2 0h8m-199 1h8m71 0h8m78 0h8m42 0h8m30 0h8m-211 1h8m43 0h8m27 0h8m2 0h8m-110 1h8m-6 0h8m-5 0h8m63 0h8m41 0h8m8 0h8m-157 1h8m41 0h8m13 0h8m16 0h8m-160 1h8m134 0h8m49 0h8m45 0h8m-162 1h8m-2 0h8m53 0h8m25 0h8m11 0h8m46 0h8m-169 1h8m22 0h8m17 0h8m18 0h8m-136 1h8m10 0h8m12 0h8m19 0h8m-57 1h8m16 0h8m22 0h8m6 0h8m-7 0h8m25 0h8m32 0h8m28 0h8m-176 1h8m2 0h8m4 0h8m34 0h8m4 0h8m0 0h8m-105 1h8m7 0h8m-2 0h8m3 0h8m30 0h8m28 0h8m-131 1h8m-2 0h8m4 0h8m0 0h8m35 0h8m-7 0h8m18 0h8m88 0h8m75 0h8m-430 1h8m106 0h8m89 0h8m-2 0h8m10 0h8m19 0h8m-7 0h8m25 0h8m-152 1h8m89 0h8m10 0h8m22 0h8m24 0h8m-284 1h8m273 0h8m-317 1h8m93 0h8m35 0h8m-3 0h8m-6 0h8m21 0h8m12 0h8m45 0h8m8 0h8m-6 0h8m19 0h8m10 0h8m-445 1h8m172 0h8m81 0h8m2 0h8m24 0h8m13 0h8m77 0h8m-183 1h8m50 0h8m2 0h8m11 0h8m55 0h8m25 0h8m-2 0h8m-154 1h8m8 0h8m37 0h8m14 0h8m-267 1h8m54 0h8m69 0h8m9 0h8m12 0h8m7 0h8m-7 0h8m3 0h8m-6 0h8m14 0h8m-7 0h8m113 0h8m-236 1h8m69 0h8m27 0h8m5 0h8m51 0h8m71 0h8m-221 1h8m33 0h8m41 0h8m26 0h8m-174 1h8m17 0h8m48 0h8m31 0h8m19 0h8m-161 1h8m48 0h8m-7 0h8m201 0h8m-277 1h8m6 0h8m36 0h8m-6 0h8m-6 0h8m22 0h8m-221 1h8m24 0h8m97 0h8m81 0h8m16 0h8m1 0h8m-203 1h8m34 0h8m138 0h8m1 0h8m-6 0h8m-6 0h8m-6 0h8m6 0h8m20 0h8m-4 0h8m-174 1h8m19 0h8m7 0h8m44 0h8m95 0h8m-361 1h8m114 0h8m83 0h8m-8 0h8m33 0h8m20 0h8m15 0h8m20 0h8m2 0h8m-208 1h8m5 0h8m-1 0h8m16 0h8m5 0h8m-70 1h8m29 0h8m1 0h8m23 0h8m44 0h8m54 0h8m-270 1h8m3 0h8m177 0h8m1 0h8m4 0h8m6 0h8m22 0h8m88 0h8m-301 1h8m116 0h8m62 0h8m-140 1h8m98 0h8m-303 1h8m219 0h8m41 0h8m-153 1h8m12 0h8m6 0h8m96 0h8m3 0h8m8 0h8m-213 1h8m2 0h8m102 0h8m4 0h8m9 0h8m35 0h8m2 0h8m-107 1h8m14 0h8m11 0h8m51 0h8m14 0h8m-218 1h8m60 0h8m27 0h8m-158 1h8m118 0h8m-6 0h8m-4 0h8m16 0h8m6 0h8m65 0h8m-8 0h8m-281 1h8m107 0h8m44 0h8m-7 0h8m18 0h8m-6 0h8m-93 1h8m104 0h8m3 0h8m-4 0h8m23 0h8m-270 1h8m82 0h8m-2 0h8m15 0h8m73 0h8m-5 0h8m-4 0h8m19 0h8m-6 0h8m28 0h8m-204 1h8m25 0h8m22 0h8m27 0h8m10 0h8m85 0h8m-435 1h8m221 0h8m44 0h8m26 0h8m32 0h8m2 0h8m68 0h8m-98 1h8m-3 0h8m35 0h8m85 0h8m-278 1h8m119 0h8m4 0h8m-117 1h8m29 0h8m0 0h8m5 0h8m14 0h8m-43 1h8m18 0h8m37 0h8m49 0h8m-194 1h8m24 0h8m103 0h8m31 0h8m-272 1h8m30 0h8m115 0h8m8 0h8m56 0h8m-7 0h8m82 0h8m-222 1h8m62 0h8m56 0h8m60 0h8m-221 1h8m42 0h8m51 0h8m23 0h8m-148 1h8m69 0h8m-286 1h8m151 0h8m41 0h8m36 0h8m38 0h8m-106 1h8m33 0h8m22 0h8m2 0h8m59 0h8m51 0h8m-280 1h8m2 0h8m86 0h8m16 0h8m27 0h8m-130 1h8m49 0h8m31 0h8m50 0h8m-42 1h8m2 0h8m-172 1h8m25 0h8m13 0h8m-1 0h8m64 0h8m63 0h8m-150 1h8m49 0h8m134 0h8m-163 1h8m-4 0h8m12 0h8m9 0h8m-3 0h8m5 0h8m63 0h8m9 0h8m-129 1h8m39 0h8m34 0h8m-237 1h8m102 0h8m2 0h8m6 0h8m8 0h8m33 0h8m9 0h8m-158 1h8m8 0h8m115 0h8m-136 1h8m-5 0h8m10 0h8m67 0h8m-102 1h8m45 0h8m-1 0h8m8 0h8m-69 1h8m-3 0h8m13 0h8m2 0h8m30 0h8m61 0h8m4 0h8m10 0h8m-255 1h8m50 0h8m146 0h8m-164 1h8m112 0h8m-74 1h8m20 0h8m56 0h8m-182 1h8m9 0h8m27 0h8m-19 1h8m11 0h8m36 0h8m53 0h8m-151 1h8m52 0h8m82 0h8m28 0h8m19 0h8m-304 1h8m70 0h8m-2 0h8m168 0h8m-346 1h8m19 0h8m148 1h8m-7 0h8m15 0h8m42 0h8m-118 1h8m-5 0h8m42 0h8m13 0h8m13 0h8m31 0h8m-296 1h8m213 0h8m17 0h8m-2 0h8m29 0h8m-182 1h8m72 0h8m2 0h8m-92 1h8m-3 0h8m52 0h8m15 0h8m-5 0h8m38 0h8m-7 0h8m-3 0h8m12 0h8m-310 1h8m404 0h8m-179 1h8m-7 0h8m24 0h8m33 0h8m8 0h8m-28 1h8m-137 1h8m17 0h8m77 0h8m-118 1h8m-6 1h8m10 0h8m1 0h8m113 0h8m-137 1h8m44 0h8m35 0h8m-4 0h8m-138 1h8m53 0h8m-204 1h8m240 0h8m4 0h8m-144 1h8m22 0h8m3 0h8m24 0h8m20 0h8m32 0h8m60 0h8m-300 1h8m91 0h8m17 0h8m103 0h8m-4 0h8m-216 1h8m145 0h8m-6 0h8m-234 1h8m159 0h8m41 0h8m-200 1h8m115 0h8m49 0h8m4 0h8m97 0h8m23 0h8m-281 1h8m129 0h8m5 0h8m-30 1h8m-33 3h8m9 0h8m26 0h8m-8 0h8m-99 1h8m8 0h8m-51 2h8m23 0h8m13 0h8m21 0h8m21 0h8m31 0h8m-4 1h8m18 0h8m-179 1h8m38 0h8m51 0h8m126 0h8m-157 1h8m92 0h8m-233 1h8m20 0h8m50 0h8m123 0h8m29 0h8m-351 1h8m99 1h8m56 0h8m40 1h8m-3 0h8m9 0h8m32 0h8m-1 0h8m-272 1h8m279 0h8m-261 1h8m130 0h8m-166 1h8m79 0h8m55 0h8m69 0h8m-130 1h8m3 0h8m54 0h8m43 0h8m-242 1h8m9 0h8m-77 1h8m236 0h8m103 0h8m-430 1h8m177 0h8m55 0h8m19 0h8m0 0h8m13 0h8m17 0h8m-5 1h8m0 0h8m-169 1h8m99 0h8m18 0h8m39 0h8m-126 1h8m-2 0h8m61 0h8m133 0h8m-267 1h8m-2 0h8m4 0h8m87 0h8m27 0h8m68 0h8m-125 1h8m10 0h8m47 0h8m-200 1h8m135 2h8m126 0h8m-219 1h8m4 1h8m-71 1h8m142 0h8m-425 1h8m245 0h8m25 0h8m46 1h8m21 0h8m-364 1h8m414 1h8m-154 1h8m43 0h8m-5 1h8m-303 3h8m286 0h8m56 0h8m-107 1h8m3 0h8m2 1h8m114 1h8m50 0h8m-253 1h8m120 0h8m22 1h8m-5 0h8m-165 1h8m21 1h8m17 0h8m19 0h8m125 0h8m-210 2h8m-16 2h8m-233 1h8m377 1h8m-7 0h8m-29 2h8m15 3h8m-49 1h8m10 1h8m-108 1h8m22 0h8m71 3h8m-326 4h8m141 1h8m78 1h8m-161 2h8m-31 2h8m346 0h8m-372 1h8m145 1h8m-20 2h8m94 9h8m-187 1h8m46 0h8m-147 4h8m25 0h8m11 0h8m-2 0h8m159 0h8m75 0h8m-261 5h8m-18 4h8m203 0h8m46 0h8m-87 2h8m-257 2h8m322 0h8m-204 1h8m60 2h8m-176 1h8m34 5h8m-65 2h8m76 0h8m184 4h8m-202 7h8m-51 2h8m-183 2h8m216 0h8m33 2h8m111 1h8m-280 1h8m135 0h8m-135 1h8m97 0h8m-17 1h8m20 2h8m-69 10h8m202 3h8m-209 2h8m-37 3h8m25 1h8m-51 3h8m44 3h8m-53 2h8m8 0h8m16 4h8m-86 1h8m65 0h8m-209 1h8m231 0h8m-105 1h8m31 2h8m20 0h8m-3 0h8m-203 4h8m147 1h8m-2 0h8m31 0h8m-265 1h8m51 1h8m207 1h8m-149 1h8m35 1h8m8 2h8m67 0h8m-106 1h8m28 1h8m-58 2h8m10 0h8m19 2h8m17 2h8m-6 0h8m15 0h8m-32 1h8m-4 0h8m-134 1h8m119 0h8m-49 1h8m14 0h8m-25 1h8m50 0h8m-245 1h8m214 1h8m-69 1h8m4 0h8m58 0h8m34 0h8m-8 1h8m-64 3h8m12 1h8m-45 1h8m-40 1h8m-10 2h8m26 0h8m12 1h8m42 0h8m-81 1h8m-63 1h8m33 0h8m29 0h8m14 1h8m-76 2h8m40 0h8m-85 1h8m69 0h8m-35 1h8m-19 1h8m-28 1h8m-1 0h8m52 0h8m-131 1h8m22 0h8m37 0h8m5 0h8m15 0h8m-156 1h8m160 0h8m-38 1h8m-32 1h8m8 0h8m30 0h8m-95 1h8m78 0h8m8 0h8m-92 1h8m39 0h8m-30 2h8m-21 1h8m33 0h8m-89 2h8m57 0h8m-2 0h8m-21 1h8m5 0h8m15 0h8m-42 1h8m-13 1h8m47 0h8m-53 1h8m22 2h8m-81 1h8m62 0h8m-189 1h8m77 0h8m3 0h8m84 0h8m-162 1h8m55 0h8m-2 0h8m38 0h8m3 0h8m-1 0h8m-2 0h8m-6 0h8m-43 1h8m62 0h8m-349 1h8m207 0h8m32 0h8m17 0h8m-6 0h8m5 0h8m-23 1h8m20 0h8m-41 1h8m8 0h8m0 0h8m-57 1h8m71 0h8m-77 1h8m39 0h8m-30 1h8m15 0h8m-58 1h8m42 0h8m-84 1h8m26 0h8m14 1h8m-3 0h8m16 0h8m-76 1h8m56 0h8m-49 1h8m-4 0h8m2 0h8m-58 1h8m2 1h8m-6 0h8m1 0h8m-8 0h8m9 0h8m4 0h8m11 0h8m-84 1h8m-7 0h8m2 0h8m11 0h8m-3 0h8m15 0h8m-6 0h8m0 0h8m11 0h8m2 0h8m-116 1h8m45 0h8m-2 0h8m-6 0h8m-2 0h8m-89 1h8m-5 0h8m10 0h8m10 0h8m43 0h8m-3 0h8m-118 1h8m46 0h8m14 0h8m5 0h8m32 0h8m-179 1h8m53 0h8m27 1h8m12 0h8m-1 0h8m-8 0h8m-51 1h8m29 0h8m10 0h8m-164 1h8m143 0h8m42 0h8m-5 0h8m-186 1h8m108 0h8m19 0h8m-70 1h8m67 0h8m-2 0h8m-138 1h8m-29 1h8m92 0h8m24 0h8m-5 0h8m-196 1h8m80 0h8m71 0h8m14 0h8m25 0h8m-168 1h8m47 0h8m-3 0h8m15 0h8m30 0h8m15 0h8m-133 1h8m95 0h8m-5 0h8m14 0h8m5 0h8m-164 1h8m10 0h8m58 0h8m35 0h8m0 0h8m-217 1h8m120 0h8m62 0h8m-39 1h8m18 0h8m-73 1h8m0 0h8m0 0h8m22 0h8m3 0h8m-186 1h8m160 0h8m23 0h8m-3 0h8m-40 1h8m-5 0h8m45 0h8m-135 1h8m-7 0h8m32 0h8m3 0h8m2 0h8m-20 1h8m60 0h8m-227 1h8m67 0h8m61 0h8m-5 0h8m32 0h8m8 0h8m-96 1h8m28 0h8m-8 0h8m-1 0h8m-7 0h8m-20 1h8m-4 0h8m-4 0h8m0 0h8m-2 0h8m5 0h8m2 0h8m-116 1h8m15 0h8m5 0h8m-6 0h8m34 0h8m3 0h8m-7 0h8m7 0h8m16 0h8m-122 1h8m60 0h8m10 0h8m-79 1h8m31 0h8m-4 1h8m20 0h8m-177 1h8m100 0h8m42 0h8m69 0h8m-227 1h8m87 0h8m-3 0h8m47 0h8m7 0h8m-31 1h8m38 0h8m-119 1h8m2 0h8m16 0h8m28 0h8m-3 0h8m-89 1h8m-4 0h8m0 0h8m-3 0h8m6 0h8m0 0h8m-104 1h8m88 0h8m45 0h8m18 0h8m-110 1h8m0 0h8m-7 0h8m-5 0h8m-114 1h8m64 0h8m-2 0h8m28 0h8m15 0h8m7 0h8m-6 0h8m7 0h8m-8 0h8m-121 1h8m35 0h8m24 0h8m15 0h8m-70 1h8m28 0h8m-4 0h8m2 0h8m36 0h8m-232 1h8m144 0h8m6 0h8m5 0h8m-7 0h8m-7 0h8m22 0h8m-98 1h8m32 0h8m2 0h8m2 0h8m-101 1h8m1 0h8m36 0h8m-7 0h8m2 0h8m-1 0h8m11 0h8m-1 0h8m20 0h8m-66 1h8m2 0h8m44 0h8m-92 1h8m14 0h8m30 0h8m-67 1h8m35 0h8m-7 0h8m67 0h8m-93 2h8m5 0h8m2 0h8m-4 0h8m-71 1h8m42 0h8m8 0h8m-131 1h8m49 0h8m-2 0h8m29 0h8m-4 0h8m-74 1h8m50 0h8m7 0h8m19 0h8m6 0h8m-98 1h8m10 0h8m52 0h8m-210 1h8m111 0h8m24 0h8m-5 0h8m-8 0h8m14 1h8m4 0h8m-125 1h8m28 0h8m1 0h8m18 0h8m-73 1h8m18 0h8m-6 0h8m38 0h8m0 0h8m41 0h8m-96 1h8m16 0h8m1 0h8m26 0h8m-115 1h8m50 0h8m11 0h8m-8 0h8m36 0h8m-251 1h8m-1 0h8m175 0h8m16 0h8m-64 1h8m-3 0h8m1 0h8m13 0h8m16 0h8m-51 1h8m14 0h8m-3 0h8m-1 0h8m18 0h8m5 0h8m-85 1h8m-5 0h8m-2 0h8m12 0h8m3 0h8m3 0h8m-92 1h8m2 0h8m13 0h8m15 0h8m-1 0h8m-6 1h8m-73 1h8m21 0h8m0 0h8m-1 0h8m16 0h8m16 0h8m-8 0h8m10 0h8m-133 1h8m14 0h8m23 0h8m-107 1h8m108 1h8m14 0h8m38 0h8m-104 1h8m14 0h8m39 0h8m10 0h8m-169 1h8m74 0h8m-1 0h8m36 0h8m12 0h8m-5 0h8m0 0h8m-144 1h8m-1 0h8m46 0h8m13 0h8m3 0h8m-7 0h8m-4 0h8m23 0h8m-5 0h8m-140 1h8m35 0h8m12 0h8m10 0h8m8 0h8m-17 1h8m-5 0h8m-22 1h8m-7 0h8m-27 1h8m8 0h8m-6 0h8m6 0h8m1 0h8m-4 0h8m7 0h8m-55 1h8m-2 0h8m40 0h8m-128 1h8m49 0h8m6 0h8m-14 1h8m33 0h8m17 0h8m6 0h8m-50 1h8m27 0h8m1 0h8m-241 1h8m52 0h8m48 0h8m-3 0h8m40 0h8m26 0h8m14 0h8m-114 1h8m28 0h8m0 0h8m-3 0h8m0 0h8m-167 1h8m95 0h8m42 0h8m-7 0h8m22 0h8m-5 0h8m-115 1h8m37 0h8m9 0h8m-139 1h8m28 0h8m36 0h8m-3 0h8m-4 0h8m27 0h8m3 0h8m0 0h8m-51 1h8m19 0h8m4 0h8m2 0h8m-7 0h8m-5 0h8m5 0h8m-29 1h8m-5 0h8m21 0h8m-196 2h8m67 0h8m9 0h8m49 0h8m9 0h8m-92 1h8m54 0h8m1 0h8m-7 0h8m-4 0h8m-89 1h8m33 0h8m3 0h8m-2 0h8m3 0h8m-1 0h8m4 0h8m2 0h8m13 0h8m-1 0h8m-87 1h8m8 0h8m20 0h8m-1 0h8m-82 1h8m25 0h8m-33 1h8m21 0h8m1 0h8m125 0h8m-166 1h8m-1 0h8m18 0h8m1 0h8m12 0h8m-7 0h8m-218 1h8m125 0h8m10 0h8m3 0h8m10 0h8m-5 0h8m4 0h8m-4 0h8m-89 1h8m4 0h8m54 0h8m-91 1h8m32 0h8m12 0h8m-2 0h8m-43 1h8m2 0h8m40 0h8m44 0h8m-129 1h8m33 0h8m26 1h8m-4 0h8m15 0h8m-198 1h8m97 0h8m28 0h8m-62 1h8m-3 0h8m36 0h8m-6 0h8m4 0h8m-89 1h8m-1 0h8m43 0h8m-3 0h8m-1 0h8m14 0h8m2 0h8m-72 1h8m17 0h8m26 0h8m-93 1h8m-1 0h8m-2 0h8m8 0h8m25 0h8m1 0h8m36 0h8m-100 1h8m-4 0h8m25 0h8m39 0h8m-98 1h8m2 0h8m41 0h8m-4 0h8m-86 1h8m26 0h8m-6 0h8m-5 0h8m0 0h8m-5 0h8m9 0h8m-127 1h8m79 0h8m-105 1h8m59 0h8m-1 0h8m17 0h8m8 0h8m-58 1h8m23 0h8m21 0h8m3 0h8m-101 1h8m20 0h8m28 0h8m70 0h8m-99 1h8m-3 0h8m36 0h8m-1 0h8m-7 0h8m3 0h8m-114 1h8m11 0h8m32 0h8m-10 1h8m-59 1h8m12 0h8m-91 1h8m77 0h8m19 0h8m18 0h8m18 0h8m-55 1h8m8 0h8m-157 1h8m96 0h8m11 0h8m2 0h8m17 0h8m7 0h8m-115 1h8m22 0h8m7 0h8m4 0h8m47 0h8m-6 0h8m-314 1h8m201 0h8m84 0h8m-92 1h8m0 0h8m6 0h8m-1 0h8m-6 0h8m-191 1h8m144 0h8m14 0h8m-1 0h8m36 0h8m-200 1h8m92 0h8m-5 0h8m31 0h8m-7 0h8m4 0h8m18 0h8m-2 0h8m9 0h8m-141 1h8m33 0h8m41 0h8m12 0h8m-110 1h8m55 0h8m9 0h8m-53 1h8m12 0h8m-1 0h8m2 0h8m9 0h8m-51 1h8m-2 0h8m-7 0h8m21 0h8m14 0h8m6 0h8m-79 1h8m6 0h8m4 0h8m-7 0h8m6 0h8m-144 1h8m87 0h8m86 0h8m-100 1h8m22 0h8m-6 0h8m27 0h8m-8 0h8m-46 1h8m17 0h8m-2 0h8m-74 1h8m54 0h8m-5 0h8m2 0h8m-54 1h8m34 0h8m-93 1h8m39 0h8m-3 0h8m-47 1h8m7 1h8m0 0h8m0 0h8m17 0h8m-4 0h8m-80 1h8m36 0h8m11 0h8m25 0h8m-128 1h8m86 0h8m-7 0h8m-75 1h8m26 0h8m9 0h8m8 0h8m-203 1h8m161 0h8m11 0h8m-7 0h8m-13 1h8m0 0h8m-144 1h8m182 0h8m-76 1h8m24 0h8m-41 1h8m0 0h8m21 0h8m9 0h8m-200 1h8m108 0h8m-3 0h8m-4 0h8m10 1h8m30 0h8m-98 1h8m4 0h8m6 0h8m17 0h8m9 0h8m-196 1h8m100 0h8m43 0h8m-19 1h8m48 0h8m-91 1h8m24 0h8m2 0h8m12 0h8m19 0h8m-134 1h8m68 0h8m23 0h8m-6 0h8m-62 2h8m39 1h8m-3 0h8m-179 1h8m-3 0h8m45 0h8m53 0h8m0 0h8m-56 1h8m-32 1h8m34 0h8m0 0h8m-83 1h8m127 0h8m-2 0h8m18 1h8m-91 1h8m-37 1h8m8 0h8m32 0h8m8 0h8m-199 1h8m107 0h8m1 0h8m35 1h8m37 0h8m-54 1h8m-39 1h8m3 0h8m-27 1h8m44 0h8m1 0h8m-6 0h8m-5 0h8m11 0h8m-37 1h8m-108 1h8m38 0h8m42 0h8m2 0h8m-23 1h8m-26 1h8m17 0h8m4 1h8m-3 0h8m27 0h8m-67 3h8m-72 1h8m40 0h8m70 0h8m-76 1h8m-18 1h8m1 0h8m1 1h8m42 0h8m-66 1h8m8 0h8m-98 1h8m20 0h8m38 0h8m22 0h8m-16 1h8m-10 1h8m-4 0h8" stroke="#1a1a1a" stroke-width="8" stroke-opacity="0.64" fill="none"/>
<path transform="scale(.1)" d="m2884 421h7m110 6h7m67 10h7m283 0h7m-200 4h7m-412 7h7m642 5h7m-534 3h7m120 0h7m-125 4h7m-8 1h7m583 0h7m-320 1h7m-334 11h7m415 2h7m98 1h7m-445 4h7m444 17h7m-546 4h7m76 6h7m98 0h7m-103 2h7m-129 4h7m-30 2h7m680 7h7m-512 1h7m396 2h7m-425 10h7m-204 4h7m325 0h7m-235 2h7m163 5h7m-66 1h7m64 0h7m-181 6h7m102 4h7m36 1h7m-176 3h7m184 1h7m-87 1h7m-43 1h7m518 0h7m-656 2h7m147 0h7m-168 2h7m216 5h7m-34 3h7m141 1h7m-280 2h7m469 2h7m-279 4h7m-263 3h7m-31 6h7m90 0h7m5 0h7m96 2h7m-145 2h7m20 1h7m49 0h7m83 1h7m3 0h7m-74 1h7m246 1h7m-325 2h7m-5 0h7m17 0h7m-148 2h7m315 3h7m-253 3h7m110 1h7m122 3h7m-168 3h7m480 3h7m-700 1h7m115 0h7m108 2h7m-123 3h7m-106 1h7m161 0h7m461 0h7m-416 1h7m268 0h7m-271 5h7m-87 1h7m-48 1h7m-134 3h7m99 2h7m-84 3h7m151 2h7m-143 1h7m-4 5h7m93 4h7m4 0h7m-21 2h7m10 0h7m80 2h7m394 0h7m-571 1h7m212 8h7m-237 2h7m81 1h7m51 0h7m-113 2h7m29 4h7m287 0h7m-351 1h7m-87 1h7m239 1h7m-148 2h7m-145 1h7m276 0h7m-230 2h7m117 0h7m398 2h7m111 5h7m-417 2h7m-155 2h7m426 0h7m-405 3h7m198 4h7m-136 7h7m264 3h7m-389 1h7m-124 2h7m50 0h7m87 3h7m28 0h7m-88 2h7m83 0h7m-30 2h7m-9 6h7m155 0h7m-292 4h7m93 5h7m-106 13h7m-12 2h7m105 2h7m48 0h7m-83 2h7m-91 1h7m73 0h7m528 4h7m-498 6h7m51 1h7m293 8h7m-148 2h7m-289 6h7m-93 2h7m137 1h7m-7 1h7m365 4h7m-506 4h7m141 3h7m-211 1h7m81 2h7m260 0h7m-175 4h7m381 1h7m-321 8h7m346 2h7m-630 9h7m11 1h7m589 16h7m-511 1h7m288 10h7m241 5h7m-25 1h7m-295 1h7m170 4h7m-285 10h7m172 0h7m1 1h7m131 3h7m-238 3h7m-189 7h7m-50 2h7m80 7h7m161 10h7m-175 7h7m100 6h7m151 1h7m15 0h7m94 5h7m-171 4h7m152 2h7m-514 4h7m475 2h7m-578 4h7m357 2h7m246 6h7m-503 1h7m231 5h7m79 1h7m192 1h7m-478 2h7m247 7h7m7 0h7m45 0h7m-175 12h7m222 4h7m94 1h7m-235 1h7m201 1h7m-67 1h7m-150 2h7m37 1h7m128 0h7m-78 1h7m-134 4h7m252 0h7m-587 4h7m19 0h7m354 5h7m156 1h7m-140 3h7m78 0h7m-93 1h7m-51 2h7m-176 3h7m114 1h7m61 6h7m133 0h7m-189 1h7m-301 1h7m284 0h7m167 4h7m0 9h7m-561 4h7m437 3h7m27 2h7m52 0h7m-57 3h7m-499 1h7m430 0h7m40 0h7m-187 1h7m316 1h7m-297 7h7m203 1h7m11 0h7m-25 6h7m-43 15h7m62 0h7m-389 4h7m191 5h7m100 7h7m-169 3h7m176 0h7m39 0h7m-343 1h7m196 1h7m84 1h7m-20 3h7m-501 4h7m138 1h7m97 14h7m-276 4h7m330 13h7" stroke="#1a1a1a" stroke-width="7" stroke-opacity="0.35" fill="none"/>
<path transform="scale(.1)" d="m3969 442h8m-118 19h8m37 5h8m68 10h8m0 4h8m-39 2h8m16 0h8m-16 5h8m34 1h8m1 2h8m-135 2h8m52 1h8m-95 2h8m70 0h8m33 3h8m-78 6h8m60 6h8m42 0h8m-110 2h8m35 0h8m89 1h8m-66 3h8m-62 2h8m176 0h8m-213 1h8m15 1h8m-23 1h8m-6 0h8m172 0h8m-240 1h8m46 0h8m242 0h8m-283 2h8m-93 1h8m101 0h8m248 0h8m-99 1h8m-364 1h8m84 0h8m133 0h8m1 0h8m-137 1h8m-221 1h8m138 1h8m126 0h8m-4 0h8m238 0h8m-301 2h8m122 0h8m13 0h8m-309 1h8m225 0h8m144 0h8m-271 1h8m117 0h8m-141 1h8m61 0h8m14 0h8m17 0h8m-292 1h8m217 0h8m27 0h8m3 0h8m42 0h8m56 0h8m-188 1h8m6 1h8m42 0h8m23 0h8m34 0h8m-176 1h8m42 0h8m47 0h8m42 0h8m56 0h8m-322 1h8m139 0h8m10 0h8m-70 1h8m162 0h8m32 0h8m-190 1h8m60 0h8m43 0h8m30 0h8m57 0h8m49 0h8m-351 1h8m32 0h8m20 0h8m49 0h8m11 0h8m29 0h8m11 1h8m94 0h8m-371 1h8m109 0h8m36 0h8m78 0h8m2 0h8m-91 1h8m-102 1h8m136 0h8m70 0h8m-5 0h8m83 0h8m-362 1h8m144 0h8m26 0h8m17 0h8m0 0h8m48 0h8m38 0h8m-375 1h8m83 0h8m-6 0h8m47 0h8m-7 0h8m88 0h8m65 0h8m21 0h8m-214 1h8m88 0h8m6 0h8m13 0h8m-289 1h8m64 0h8m122 0h8m5 0h8m87 0h8m-189 1h8m111 0h8m19 0h8m-161 1h8m36 0h8m33 0h8m30 0h8m19 0h8m2 0h8m168 0h8m-451 1h8m232 0h8m53 0h8m62 0h8m-293 1h8m12 0h8m84 0h8m0 0h8m32 0h8m253 0h8m-543 1h8m198 0h8m9 0h8m66 0h8m46 0h8m29 0h8m136 0h8m-413 1h8m-1 0h8m16 0h8m-4 0h8m24 0h8m13 0h8m26 0h8m3 0h8m9 0h8m-301 1h8m148 0h8m68 0h8m-7 0h8m11 0h8m137 0h8m-217 1h8m19 0h8m-2 0h8m59 0h8m14 0h8m-3 0h8m78 0h8m-7 0h8m-292 1h8m92 0h8m16 0h8m32 0h8m2 0h8m29 0h8m8 0h8m9 0h8m-1 0h8m58 0h8m-269 1h8m25 0h8m14 0h8m37 0h8m-2 0h8m76 0h8m-326 1h8m101 0h8m60 0h8m24 0h8m52 0h8m2 0h8m34 0h8m-2 0h8m-1 0h8m99 0h8m-448 1h8m33 0h8m46 0h8m42 0h8m51 0h8m6 0h8m5 0h8m-2 0h8m-6 0h8m157 0h8m-8 0h8m-319 1h8m144 0h8m52 0h8m-341 1h8m206 0h8m34 0h8m-2 0h8m14 0h8m-242 1h8m33 0h8m87 0h8m-6 0h8m12 0h8m50 0h8m-7 0h8m-8 0h8m29 0h8m112 0h8m-329 1h8m6 0h8m61 0h8m39 0h8m13 0h8m13 0h8m74 0h8m-372 1h8m175 0h8m20 0h8m41 0h8m-4 0h8m32 0h8m1 0h8m-2 0h8m20 0h8m-7 0h8m21 0h8m-4 0h8m-276 1h8m-6 0h8m9 0h8m60 0h8m27 0h8m36 0h8m45 0h8m4 0h8m52 0h8m-352 1h8m81 0h8m45 0h8m63 0h8m104 0h8m57 0h8m-388 1h8m28 0h8m5 0h8m38 0h8m33 0h8m50 0h8m64 0h8m1 0h8m12 0h8m-311 1h8m31 0h8m74 0h8m17 0h8m-5 0h8m20 0h8m-7 0h8m0 0h8m6 0h8m32 0h8m50 0h8m2 0h8m10 0h8m-290 1h8m143 0h8m28 0h8m28 0h8m2 0h8m93 0h8m-5 0h8m-254 1h8m18 0h8m35 0h8m11 0h8m-1 0h8m-3 0h8m6 0h8m24 0h8m20 0h8m-3 0h8m100 0h8m-349 1h8m6 0h8m14 0h8m49 0h8m-6 0h8m40 0h8m15 0h8m5 0h8m7 0h8m-1 0h8m-4 0h8m-7 0h8m89 0h8m-428 1h8m120 0h8m-2 0h8m21 0h8m-5 0h8m-7 0h8m-4 0h8m20 0h8m-3 0h8m4 0h8m6 0h8m2 0h8m11 0h8m0 0h8m133 0h8m-3 0h8m-359 1h8m50 0h8m20 0h8m35 0h8m-4 0h8m11 0h8m7 0h8m1 0h8m4 0h8m2 0h8m-4 0h8m-6 0h8m43 0h8m9 0h8m5 0h8m-8 0h8m5 0h8m46 0h8m-554 1h8m253 0h8m102 0h8m11 0h8m-2 0h8m1 0h8m40 0h8m-170 1h8m3 0h8m4 0h8m2 0h8m-4 0h8m29 0h8m7 0h8m-5 0h8m-7 0h8m23 0h8m36 0h8m-5 0h8m-8 0h8m-325 1h8m100 0h8m51 0h8m-2 0h8m-8 0h8m-4 0h8m-4 0h8m26 0h8m14 0h8m-7 0h8m-1 0h8m-4 0h8m-1 0h8m3 0h8m16 0h8m8 0h8m-287 1h8m70 0h8m42 0h8m-6 0h8m4 0h8m19 0h8m4 0h8m4 0h8m-6 0h8m4 0h8m-6 0h8m15 0h8m-5 0h8m-2 0h8m-2 0h8m12 0h8m38 0h8m138 0h8m-467 1h8m75 0h8m47 0h8m-2 0h8m35 0h8m11 0h8m-7 0h8m53 0h8m-6 0h8m0 0h8m84 0h8m15 0h8m-413 1h8m8 0h8m48 0h8m29 0h8m22 0h8m-7 0h8m28 0h8m14 0h8m9 0h8m-2 0h8m31 0h8m60 0h8m10 0h8m-330 1h8m78 0h8m22 0h8m18 0h8m-5 0h8m5 0h8m19 0h8m2 0h8m2 0h8m56 0h8m0 0h8m46 0h8m-317 1h8m29 0h8m62 0h8m41 0h8m-7 0h8m8 0h8m6 0h8m-2 0h8m-2 0h8m-3 0h8m12 0h8m-196 1h8m12 0h8m15 0h8m28 0h8m-7 0h8m7 0h8m-5 0h8m-2 0h8m-5 0h8m4 0h8m-3 0h8m-4 0h8m10 0h8m-5 0h8m2 0h8m25 0h8m2 0h8m-3 0h8m-3 0h8m27 0h8m-308 1h8m25 0h8m41 0h8m5 0h8m48 0h8m23 0h8m13 0h8m53 0h8m-4 0h8m86 0h8m-380 1h8m11 0h8m18 0h8m10 0h8m13 0h8m23 0h8m-8 0h8m3 0h8m-1 0h8m16 0h8m-8 0h8m10 0h8m-1 0h8m25 0h8m40 0h8m14 0h8m4 0h8m-350 1h8m73 0h8m29 0h8m-3 0h8m6 0h8m18 0h8m-1 0h8m-7 0h8m2 0h8m-4 0h8m7 0h8m19 0h8m60 0h8m17 0h8m29 0h8m-496 1h8m234 0h8m0 0h8m14 0h8m2 0h8m33 0h8m-1 0h8m17 0h8m1 0h8m4 0h8m-4 0h8m-2 0h8m13 0h8m-4 0h8m-2 0h8m4 0h8m3 0h8m21 0h8m33 0h8m-5 0h8m18 0h8m-427 1h8m56 0h8m64 0h8m0 0h8m15 0h8m11 0h8m57 0h8m2 0h8m6 0h8m28 0h8m3 0h8m8 0h8m-2 0h8m76 0h8m69 0h8m-430 1h8m66 0h8m48 0h8m-1 0h8m77 0h8m3 0h8m-5 0h8m-3 0h8m-281 1h8m52 0h8m6 0h8m-4 0h8m22 0h8m28 0h8m31 0h8m5 0h8m16 0h8m18 0h8m-226 1h8m37 0h8m-5 0h8m6 0h8m16 0h8m5 0h8m16 0h8m3 0h8m2 0h8m-4 0h8m-5 0h8m46 0h8m-3 0h8m1 0h8m15 0h8m2 0h8m-190 1h8m27 0h8m-1 0h8m-6 0h8m-4 0h8m19 0h8m15 0h8m26 0h8m1 0h8m5 0h8m1 0h8m-176 1h8m-2 0h8m22 0h8m-7 0h8m15 0h8m41 0h8m-4 0h8m3 0h8m10 0h8m-6 0h8m-4 0h8m39 0h8m-4 0h8m-3 0h8m-282 1h8m34 0h8m-5 0h8m47 0h8m24 0h8m15 0h8m-1 0h8m4 0h8m22 0h8m2 0h8m6 0h8m-267 1h8m135 0h8m0 0h8m8 0h8m-4 0h8m-4 0h8m0 0h8m2 0h8m-3 0h8m5 0h8m1 0h8m60 0h8m49 0h8m-4 0h8m-274 1h8m47 0h8m13 0h8m39 0h8m7 0h8m-3 0h8m6 0h8m2 0h8m10 0h8m9 0h8m7 0h8m6 0h8m-389 1h8m23 0h8m28 0h8m16 0h8m69 0h8m18 0h8m5 0h8m11 0h8m7 0h8m16 0h8m34 0h8m3 0h8m18 0h8m7 0h8m15 0h8m7 0h8m1 0h8m49 0h8m-310 1h8m13 0h8m-5 0h8m3 0h8m23 0h8m22 0h8m-7 0h8m5 0h8m-7 0h8m-2 0h8m-2 0h8m5 0h8m-7 0h8m-2 0h8m15 0h8m5 0h8m-8 0h8m12 0h8m-340 1h8m25 0h8m62 0h8m5 0h8m0 0h8m2 0h8m7 0h8m23 0h8m34 0h8m13 0h8m-2 0h8m4 0h8m1 0h8m1 0h8m-7 0h8m-8 0h8m3 0h8m18 0h8m75 0h8m-384 1h8m57 0h8m15 0h8m2 0h8m6 0h8m7 0h8m-3 0h8m11 0h8m17 0h8m2 0h8m-6 0h8m4 0h8m-4 0h8m-5 0h8m1 0h8m-3 0h8m6 0h8m3 0h8m8 0h8m26 0h8m9 0h8m46 0h8m-335 1h8m17 0h8m16 0h8m9 0h8m19 0h8m-4 0h8m-8 0h8m3 0h8m-4 0h8m-7 0h8m6 0h8m-7 0h8m-3 0h8m-5 0h8m-5 0h8m-5 0h8m18 0h8m-7 0h8m-5 0h8m-7 0h8m2 0h8m5 0h8m-5 0h8m-5 0h8m16 0h8m19 0h8m1 0h8m-7 0h8m-434 1h8m60 0h8m65 0h8m43 0h8m-4 0h8m11 0h8m9 0h8m8 0h8m-4 0h8m19 0h8m-4 0h8m8 0h8m-6 0h8m-5 0h8m0 0h8m-3 0h8m17 0h8m0 0h8m5 0h8m-3 0h8m-7 0h8m-5 0h8m4 0h8m-3 0h8m-4 0h8m6 0h8m5 0h8m17 0h8m21 0h8m8 0h8m9 0h8m13 0h8m79 0h8m-510 1h8m69 0h8m-2 0h8m10 0h8m28 0h8m-3 0h8m-7 0h8m1 0h8m-7 0h8m1 0h8m-4 0h8m9 0h8m21 0h8m-8 0h8m2 0h8m13 0h8m-5 0h8m7 0h8m-5 0h8m-8 0h8m-2 0h8m11 0h8m15 0h8m9 0h8m4 0h8m-359 1h8m42 0h8m-4 0h8m-1 0h8m2 0h8m-6 0h8m34 0h8m19 0h8m-4 0h8m-1 0h8m3 0h8m46 0h8m-7 0h8m8 0h8m-4 0h8m-3 0h8m2 0h8m9 0h8m5 0h8m9 0h8m59 0h8m2 0h8m-350 1h8m68 0h8m12 0h8m1 0h8m27 0h8m-4 0h8m-7 0h8m-4 0h8m-4 0h8m-5 0h8m-6 0h8m-2 0h8m7 0h8m1 0h8m22 0h8m-6 0h8m11 0h8m24 0h8m-7 0h8m-6 0h8m-6 0h8m1 0h8m49 0h8m-505 1h8m208 0h8m22 0h8m13 0h8m-4 0h8m6 0h8m-6 0h8m-7 0h8m-6 0h8m-5 0h8m-4 0h8m-8 0h8m-6 0h8m4 0h8m12 0h8m27 0h8m-4 0h8m-8 0h8m11 0h8m3 0h8m-2 0h8m-4 0h8m24 0h8m57 0h8m-300 1h8m19 0h8m3 0h8m7 0h8m-1 0h8m8 0h8m-7 0h8m-3 0h8m-6 0h8m23 0h8m-7 0h8m8 0h8m2 0h8m-1 0h8m-3 0h8m10 0h8m16 0h8m-2 0h8m17 0h8m-2 0h8m-3 0h8m95 0h8m-410 1h8m-6 0h8m24 0h8m9 0h8m0 0h8m-7 0h8m58 0h8m2 0h8m-6 0h8m-4 0h8m23 0h8m5 0h8m5 0h8m-3 0h8m31 0h8m-7 0h8m3 0h8m-2 0h8m-1 0h8m2 0h8m-5 0h8m-2 0h8m-5 0h8m9 0h8m15 0h8m-408 1h8m36 0h8m-6 0h8m79 0h8m49 0h8m2 0h8m3 0h8m61 0h8m-1 0h8m-6 0h8m24 0h8m47 0h8m-5 0h8m-6 0h8m20 0h8m5 0h8m-316 1h8m4 0h8m34 0h8m-1 0h8m2 0h8m9 0h8m7 0h8m31 0h8m-3 0h8m9 0h8m3 0h8m-5 0h8m9 0h8m33 0h8m74 0h8m-320 1h8m51 0h8m-1 0h8m22 0h8m2 0h8m0 0h8m37 0h8m-7 0h8m21 0h8m-6 0h8m17 0h8m6 0h8m5 0h8m45 0h8m1 0h8m12 0h8m13 0h8m-450 1h8m18 0h8m21 0h8m6 0h8m60 0h8m-4 0h8m22 0h8m0 0h8m3 0h8m-4 0h8m7 0h8m3 0h8m20 0h8m2 0h8m1 0h8m0 0h8m17 0h8m-2 0h8m1 0h8m-242 1h8m33 0h8m11 0h8m-3 0h8m30 0h8m12 0h8m-1 0h8m22 0h8m4 0h8m11 0h8m5 0h8m-5 0h8m22 0h8m0 0h8m11 0h8m25 0h8m30 0h8m-501 1h8m101 0h8m69 0h8m49 0h8m-1 0h8m28 0h8m-3 0h8m-2 0h8m3 0h8m-5 0h8m4 0h8m1 0h8m35 0h8m49 0h8m5 0h8m-8 0h8m8 0h8m-380 1h8m15 0h8m8 0h8m-4 0h8m64 0h8m2 0h8m-3 0h8m-3 0h8m0 0h8m-3 0h8m1 0h8m9 0h8m-2 0h8m26 0h8m14 0h8m5 0h8m0 0h8m-6 0h8m49 0h8m-2 0h8m18 0h8m-319 1h8m21 0h8m-3 0h8m94 0h8m-7 0h8m33 0h8m3 0h8m-3 0h8m-6 0h8m16 0h8m3 0h8m-6 0h8m-3 0h8m-1 0h8m-3 0h8m11 0h8m2 0h8m-3 0h8m10 0h8m-3 0h8m12 0h8m0 0h8m10 0h8m-3 0h8m-271 1h8m18 0h8m43 0h8m-7 0h8m-4 0h8m-5 0h8m9 0h8m10 0h8m12 0h8m11 0h8m-5 0h8m-3 0h8m-7 0h8m6 0h8m-3 0h8m8 0h8m74 0h8m-396 1h8m80 0h8m8 0h8m27 0h8m-5 0h8m-4 0h8m14 0h8m6 0h8m10 0h8m14 0h8m-4 0h8m-6 0h8m9 0h8m9 0h8m1 0h8m18 0h8m10 0h8m-257 1h8m32 0h8m2 0h8m22 0h8m16 0h8m37 0h8m-8 0h8m16 0h8m133 0h8m-404 1h8m4 0h8m12 0h8m9 0h8m62 0h8m-5 0h8m-2 0h8m23 0h8m1 0h8m2 0h8m-7 0h8m-8 0h8m-4 0h8m30 0h8m10 0h8m-6 0h8m8 0h8m-339 1h8m44 0h8m40 0h8m61 0h8m28 0h8m-5 0h8m-5 0h8m-8 0h8m7 0h8m8 0h8m1 0h8m11 0h8m1 0h8m9 0h8m-4 0h8m-4 0h8m8 0h8m-2 0h8m23 0h8m-5 0h8m-3 0h8m-3 0h8m14 0h8m11 0h8m-4 0h8m-316 1h8m24 0h8m-3 0h8m21 0h8m14 0h8m12 0h8m20 0h8m13 0h8m5 0h8m-2 0h8m-5 0h8m-8 0h8m8 0h8m0 0h8m-2 0h8m22 0h8m1 0h8m26 0h8m-8 0h8m-324 1h8m21 0h8m39 0h8m6 0h8m2 0h8m1 0h8m1 0h8m1 0h8m30 0h8m5 0h8m1 0h8m-3 0h8m39 0h8m-4 0h8m-2 0h8m-3 0h8m0 0h8m-2 0h8m19 0h8m9 0h8m-4 0h8m1 0h8m59 0h8m-267 1h8m-7 0h8m9 0h8m-5 0h8m-1 0h8m12 0h8m-5 0h8m2 0h8m-2 0h8m-3 0h8m2 0h8m-5 0h8m-3 0h8m-1 0h8m-1 0h8m-2 0h8m2 0h8m11 0h8m25 0h8m52 0h8m-310 1h8m9 0h8m42 0h8m-7 0h8m-7 0h8m-1 0h8m0 0h8m-2 0h8m11 0h8m-3 0h8m-5 0h8m-5 0h8m45 0h8m12 0h8m22 0h8m-3 0h8m-7 0h8m-6 0h8m8 0h8m1 0h8m-5 0h8m40 0h8m-301 1h8m46 0h8m0 0h8m2 0h8m-7 0h8m-4 0h8m11 0h8m34 0h8m20 0h8m1 0h8m-2 0h8m-3 0h8m-3 0h8m-6 0h8m48 0h8m37 0h8m-264 1h8m6 0h8m26 0h8m1 0h8m-1 0h8m15 0h8m8 0h8m6 0h8m2 0h8m-5 0h8m47 0h8m31 0h8m6 0h8m31 0h8m-367 1h8m30 0h8m10 0h8m4 0h8m36 0h8m-6 0h8m-6 0h8m10 0h8m3 0h8m0 0h8m-7 0h8m3 0h8m51 0h8m10 0h8m23 0h8m-2 0h8m74 0h8m16 0h8m-478 1h8m98 0h8m11 0h8m40 0h8m3 0h8m9 0h8m-5 0h8m26 0h8m-7 0h8m9 0h8m-5 0h8m3 0h8m13 0h8m14 0h8m-1 0h8m1 0h8m-3 0h8m-1 0h8m5 0h8m20 0h8m73 0h8m4 0h8m-542 1h8m27 0h8m206 0h8m1 0h8m12 0h8m28 0h8m0 0h8m5 0h8m0 0h8m0 0h8m13 0h8m1 0h8m-3 0h8m1 0h8m2 0h8m3 0h8m4 0h8m-3 0h8m9 0h8m29 0h8m-390 1h8m88 0h8m4 0h8m46 0h8m-3 0h8m3 0h8m11 0h8m4 0h8m-2 0h8m-5 0h8m-7 0h8m1 0h8m-2 0h8m4 0h8m2 0h8m-2 0h8m10 0h8m-6 0h8m5 0h8m3 0h8m-5 0h8m-2 0h8m-1 0h8m32 0h8m-318 1h8m20 0h8m6 0h8m2 0h8m58 0h8m24 0h8m14 0h8m-2 0h8m0 0h8m-4 0h8m-5 0h8m-2 0h8m10 0h8m7 0h8m34 0h8m65 0h8m14 0h8m-3 0h8m-470 1h8m79 0h8m34 0h8m6 0h8m20 0h8m4 0h8m-3 0h8m-4 0h8m15 0h8m-2 0h8m-6 0h8m20 0h8m5 0h8m4 0h8m6 0h8m2 0h8m-3 0h8m8 0h8m52 0h8m20 0h8m3 0h8m-462 1h8m214 0h8m-1 0h8m15 0h8m43 0h8m-7 0h8m-7 0h8m2 0h8m9 0h8m8 0h8m39 0h8m-1 0h8m47 0h8m8 0h8m-317 1h8m-4 0h8m23 0h8m-3 0h8m14 0h8m-5 0h8m10 0h8m32 0h8m10 0h8m4 0h8m-4 0h8m5 0h8m10 0h8m-4 0h8m-1 0h8m7 0h8m20 0h8m4 0h8m-471 1h8m219 0h8m-4 0h8m-6 0h8m3 0h8m30 0h8m-1 0h8m-3 0h8m-8 0h8m17 0h8m4 0h8m-4 0h8m-5 0h8m-2 0h8m5 0h8m-7 0h8m16 0h8m16 0h8m36 0h8m23 0h8m-5 0h8m-439 1h8m110 0h8m57 0h8m-2 0h8m28 0h8m8 0h8m4 0h8m-3 0h8m-2 0h8m-3 0h8m-7 0h8m-2 0h8m-5 0h8m4 0h8m11 0h8m-3 0h8m4 0h8m15 0h8m2 0h8m-8 0h8m4 0h8m43 0h8m5 0h8m56 0h8m-312 1h8m3 0h8m35 0h8m-6 0h8m-5 0h8m-6 0h8m43 0h8m19 0h8m6 0h8m30 0h8m24 0h8m55 0h8m-340 1h8m2 0h8m31 0h8m3 0h8m38 0h8m12 0h8m-8 0h8m-7 0h8m-4 0h8m-6 0h8m11 0h8m-6 0h8m-7 0h8m17 0h8m24 0h8m5 0h8m-8 0h8m-6 0h8m6 0h8m2 0h8m-7 0h8m-6 0h8m43 0h8m36 0h8m-373 1h8m9 0h8m8 0h8m18 0h8m-3 0h8m20 0h8m-7 0h8m-5 0h8m2 0h8m-1 0h8m4 0h8m24 0h8m5 0h8m9 0h8m-4 0h8m-7 0h8m-6 0h8m-5 0h8m-4 0h8m3 0h8m23 0h8m3 0h8m20 0h8m49 0h8m36 0h8m-410 1h8m39 0h8m18 0h8m3 0h8m32 0h8m-8 0h8m10 0h8m-4 0h8m3 0h8m1 0h8m-6 0h8m5 0h8m14 0h8m6 0h8m-2 0h8m17 0h8m15 0h8m27 0h8m-6 0h8m29 0h8m-429 1h8m45 0h8m14 0h8m4 0h8m2 0h8m19 0h8m-2 0h8m14 0h8m26 0h8m-7 0h8m28 0h8m1 0h8m-5 0h8m22 0h8m-1 0h8m-4 0h8m-7 0h8m4 0h8m-1 0h8m-7 0h8m-6 0h8m-5 0h8m7 0h8m14 0h8m6 0h8m-3 0h8m3 0h8m18 0h8m27 0h8m-429 1h8m78 0h8m-5 0h8m16 0h8m-1 0h8m44 0h8m15 0h8m-3 0h8m-5 0h8m0 0h8m3 0h8m-8 0h8m-3 0h8m0 0h8m30 0h8m-7 0h8m-1 0h8m5 0h8m9 0h8m0 0h8m0 0h8m1 0h8m2 0h8m29 0h8m53 0h8m-423 1h8m37 0h8m34 0h8m17 0h8m10 0h8m-8 0h8m6 0h8m-4 0h8m-3 0h8m-5 0h8m17 0h8m23 0h8m-5 0h8m-7 0h8m-8 0h8m0 0h8m-8 0h8m3 0h8m-1 0h8m10 0h8m-4 0h8m22 0h8m42 0h8m5 0h8m25 0h8m-362 1h8m-1 0h8m29 0h8m14 0h8m-4 0h8m18 0h8m13 0h8m8 0h8m0 0h8m-1 0h8m13 0h8m41 0h8m22 0h8m-5 0h8m0 0h8m-4 0h8m6 0h8m4 0h8m20 0h8m14 0h8m-7 0h8m-2 0h8m-306 1h8m3 0h8m4 0h8m-5 0h8m2 0h8m7 0h8m-6 0h8m10 0h8m10 0h8m11 0h8m27 0h8m-1 0h8m0 0h8m5 0h8m22 0h8m2 0h8m11 0h8m17 0h8m-7 0h8m58 0h8m-416 1h8m15 0h8m2 0h8m32 0h8m36 0h8m10 0h8m8 0h8m12 0h8m-8 0h8m-5 0h8m8 0h8m4 0h8m29 0h8m3 0h8m3 0h8m4 0h8m43 0h8m-2 0h8m82 0h8m-2 0h8m-418 1h8m20 0h8m32 0h8m15 0h8m10 0h8m19 0h8m-7 0h8m27 0h8m1 0h8m-5 0h8m-5 0h8m0 0h8m0 0h8m9 0h8m5 0h8m7 0h8m19 0h8m55 0h8m-382 1h8m106 0h8m23 0h8m13 0h8m-5 0h8m8 0h8m10 0h8m-7 0h8m1 0h8m-7 0h8m1 0h8m-7 0h8m-1 0h8m-6 0h8m16 0h8m-5 0h8m10 0h8m8 0h8m-6 0h8m8 0h8m42 0h8m39 0h8m67 0h8m-480 1h8m90 0h8m14 0h8m11 0h8m27 0h8m-4 0h8m3 0h8m28 0h8m-4 0h8m8 0h8m-1 0h8m54 0h8m14 0h8m26 0h8m53 0h8m-454 1h8m109 0h8m28 0h8m16 0h8m-2 0h8m1 0h8m-2 0h8m13 0h8m5 0h8m-7 0h8m18 0h8m10 0h8m6 0h8m16 0h8m-7 0h8m-5 0h8m21 0h8m-8 0h8m23 0h8m28 0h8m-539 1h8m219 0h8m32 0h8m-8 0h8m-1 0h8m6 0h8m6 0h8m-1 0h8m32 0h8m-5 0h8m20 0h8m-5 0h8m-8 0h8m74 0h8m-5 0h8m35 0h8m-323 1h8m53 0h8m-5 0h8m21 0h8m5 0h8m-2 0h8m59 0h8m105 0h8m-297 1h8m62 0h8m10 0h8m24 0h8m-3 0h8m3 0h8m4 0h8m17 0h8m2 0h8m30 0h8m11 0h8m20 0h8m6 0h8m24 0h8m-285 1h8m27 0h8m31 0h8m-5 0h8m8 0h8m1 0h8m-8 0h8m5 0h8m-5 0h8m-4 0h8m53 0h8m-6 0h8m7 0h8m39 0h8m-5 0h8m-301 1h8m9 0h8m2 0h8m12 0h8m0 0h8m4 0h8m11 0h8m12 0h8m23 0h8m-4 0h8m9 0h8m-5 0h8m28 0h8m1 0h8m-1 0h8m16 0h8m6 0h8m13 0h8m-319 1h8m85 0h8m6 0h8m28 0h8m15 0h8m26 0h8m25 0h8m1 0h8m26 0h8m31 0h8m-477 1h8m171 0h8m63 0h8m29 0h8m-7 0h8m-7 0h8m-4 0h8m19 0h8m3 0h8m-4 0h8m-5 0h8m-4 0h8m1 0h8m27 0h8m25 0h8m-2 0h8m24 0h8m-384 1h8m67 0h8m50 0h8m35 0h8m-2 0h8m5 0h8m68 0h8m2 0h8m2 0h8m12 0h8m12 0h8m17 0h8m30 0h8m32 0h8m33 0h8m-474 1h8m104 0h8m0 0h8m23 0h8m11 0h8m-6 0h8m27 0h8m10 0h8m12 0h8m46 0h8m26 0h8m-5 0h8m-7 0h8m0 0h8m-4 0h8m40 0h8m-254 1h8m9 0h8m14 0h8m-7 0h8m27 0h8m34 0h8m-3 0h8m18 0h8m-7 0h8m11 0h8m86 0h8m13 0h8m-393 1h8m92 0h8m19 0h8m-6 0h8m58 0h8m9 0h8m70 0h8m3 0h8m5 0h8m16 0h8m5 0h8m-299 1h8m53 0h8m77 0h8m-7 0h8m17 0h8m-5 0h8m14 0h8m63 0h8m100 0h8m-448 1h8m14 0h8m19 0h8m46 0h8m7 0h8m29 0h8m-4 0h8m20 0h8m-7 0h8m-3 0h8m-8 0h8m5 0h8m-1 0h8m-3 0h8m29 0h8m21 0h8m-7 0h8m16 0h8m28 0h8m-253 1h8m-1 0h8m16 0h8m6 0h8m48 0h8m-6 0h8m1 0h8m3 0h8m-193 1h8m35 0h8m45 0h8m15 0h8m-7 0h8m-1 0h8m16 0h8m3 0h8m-1 0h8m12 0h8m0 0h8m0 0h8m7 0h8m-3 0h8m7 0h8m2 0h8m-3 0h8m32 0h8m-296 1h8m34 0h8m4 0h8m10 0h8m32 0h8m46 0h8m-3 0h8m35 0h8m20 0h8m15 0h8m17 0h8m6 0h8m42 0h8m67 0h8m-513 1h8m127 0h8m8 0h8m1 0h8m-1 0h8m-8 0h8m-2 0h8m29 0h8m23 0h8m-3 0h8m-7 0h8m-6 0h8m68 0h8m55 0h8m6 0h8m-333 1h8m5 0h8m40 0h8m17 0h8m19 0h8m5 0h8m6 0h8m-7 0h8m-2 0h8m6 0h8m12 0h8m27 0h8m17 0h8m50 0h8m3 0h8m1 0h8m-301 1h8m100 0h8m30 0h8m56 0h8m34 0h8m-308 1h8m50 0h8m4 0h8m13 0h8m17 0h8m-1 0h8m5 0h8m-5 0h8m-6 0h8m-5 0h8m14 0h8m27 0h8m15 0h8m-5 0h8m-5 0h8m11 0h8m31 0h8m61 0h8m-491 1h8m129 0h8m40 0h8m20 0h8m21 0h8m-4 0h8m15 0h8m-1 0h8m2 0h8m-2 0h8m-5 0h8m4 0h8m5 0h8m2 0h8m14 0h8m4 0h8m-2 0h8m-5 0h8m10 0h8m-1 0h8m-266 1h8m-1 0h8m-4 0h8m20 0h8m7 0h8m12 0h8m-3 0h8m25 0h8m3 0h8m13 0h8m20 0h8m17 0h8m2 0h8m11 0h8m10 0h8m-4 0h8m22 0h8m53 0h8m-413 1h8m-1 0h8m82 0h8m19 0h8m90 0h8m1 0h8m-1 0h8m23 0h8m14 0h8m39 0h8m17 0h8m12 0h8m-3 0h8m-5 0h8m37 0h8m12 0h8m-435 1h8m112 0h8m36 0h8m-4 0h8m1 0h8m-3 0h8m-6 0h8m-6 0h8m47 0h8m12 0h8m-1 0h8m-8 0h8m39 0h8m59 0h8m-413 1h8m64 0h8m93 0h8m16 0h8m11 0h8m1 0h8m60 0h8m68 0h8m-245 1h8m26 0h8m16 0h8m40 0h8m6 0h8m30 0h8m25 0h8m24 0h8m-313 1h8m51 0h8m64 0h8m2 0h8m10 0h8m0 0h8m39 0h8m7 0h8m47 0h8m51 0h8m44 0h8m-566 1h8m73 0h8m140 0h8m76 0h8m36 0h8m7 0h8m13 0h8m14 0h8m9 0h8m-5 0h8m56 0h8m-6 0h8m12 0h8m-481 1h8m7 0h8m153 0h8m17 0h8m28 0h8m50 0h8m0 0h8m3 0h8m-6 0h8m29 0h8m14 0h8m22 0h8m92 0h8m-298 1h8m13 0h8m106 0h8m0 0h8m-197 1h8m18 0h8m45 0h8m-4 0h8m4 0h8m16 0h8m-1 0h8m5 0h8m6 0h8m-3 0h8m14 0h8m-2 0h8m-234 1h8m82 0h8m30 0h8m59 0h8m50 0h8m4 0h8m-339 1h8m198 0h8m20 0h8m22 0h8m-3 0h8m57 0h8m-235 1h8m4 0h8m-8 0h8m10 0h8m20 0h8m34 0h8m34 0h8m0 0h8m11 0h8m13 0h8m14 0h8m14 0h8m2 0h8m5 0h8m-337 1h8m248 0h8m-3 0h8m27 0h8m81 0h8m91 0h8m-448 1h8m15 0h8m11 0h8m35 0h8m28 0h8m70 0h8m64 0h8m-4 0h8m13 0h8m8 0h8m-294 1h8m-7 0h8m1 0h8m23 0h8m1 0h8m18 0h8m2 0h8m29 0h8m24 0h8m-8 0h8m22 0h8m18 0h8m129 0h8m-334 1h8m-6 0h8m21 0h8m60 0h8m68 0h8m25 0h8m-1 0h8m48 0h8m-250 1h8m1 0h8m-2 0h8m53 0h8m61 0h8m36 0h8m-276 1h8m64 0h8m11 0h8m18 0h8m27 0h8m6 0h8m0 0h8m1 0h8m-6 0h8m-6 0h8m81 0h8m87 0h8m-338 1h8m12 0h8m66 0h8m61 0h8m-5 0h8m2 0h8m163 0h8m-372 1h8m4 0h8m93 0h8m2 0h8m20 0h8m-6 0h8m80 0h8m1 0h8m-3 0h8m93 0h8m-369 1h8m22 0h8m7 0h8m20 0h8m65 0h8m16 0h8m165 0h8m-198 1h8m38 0h8m-5 0h8m6 0h8m13 0h8m-1 0h8m2 0h8m-305 1h8m51 0h8m32 0h8m115 0h8m15 0h8m23 0h8m5 0h8m-4 0h8m-5 0h8m50 0h8m-364 1h8m106 0h8m104 0h8m50 0h8m56 0h8m-6 0h8m-2 0h8m-236 1h8m206 0h8m-325 1h8m96 0h8m57 0h8m1 0h8m-3 0h8m1 0h8m33 0h8m42 0h8m-351 1h8m28 0h8m66 0h8m81 0h8m52 0h8m-6 0h8m224 0h8m-466 1h8m43 0h8m220 0h8m155 0h8m-412 1h8m41 0h8m86 0h8m143 0h8m-333 1h8m-2 0h8m18 0h8m50 0h8m24 0h8m-6 0h8m2 0h8m10 0h8m103 0h8m-194 1h8m21 0h8m-2 0h8m0 0h8m55 0h8m99 0h8m-154 1h8m155 0h8m-5 0h8m13 0h8m10 0h8m31 0h8m-366 1h8m18 0h8m40 0h8m99 0h8m138 0h8m-562 1h8m198 0h8m-5 0h8m101 0h8m42 0h8m19 0h8m53 0h8m1 0h8m83 0h8m13 0h8m-299 1h8m105 0h8m-284 1h8m65 0h8m220 0h8m62 0h8m53 0h8m-333 1h8m87 0h8m9 0h8m22 0h8m0 0h8m21 0h8m201 0h8m-317 1h8m54 0h8m96 0h8m20 0h8m0 0h8m38 0h8m0 0h8m29 0h8m-484 1h8m106 0h8m34 0h8m-352 1h8m350 0h8m73 0h8m44 0h8m85 0h8m-361 1h8m57 0h8m-6 0h8m61 0h8m69 0h8m119 0h8m36 0h8m13 0h8m-307 1h8m30 0h8m213 0h8m44 0h8m-294 1h8m11 0h8m35 0h8m53 0h8m43 0h8m15 0h8m65 0h8m-380 1h8m70 0h8m77 0h8m27 0h8m77 0h8m-390 1h8m132 0h8m203 0h8m9 0h8m-200 1h8m23 0h8m17 0h8m121 0h8m14 0h8m10 0h8m21 0h8m-474 1h8m154 0h8m0 0h8m46 0h8m194 0h8m55 0h8m-399 1h8m87 0h8m109 0h8m98 0h8m105 0h8m-381 1h8m98 0h8m12 0h8m137 0h8m-198 1h8m12 0h8m47 0h8m3 0h8m49 0h8m14 0h8m-484 1h8m329 0h8m38 0h8m-7 0h8m0 0h8m74 0h8m40 0h8m25 0h8m20 0h8m-291 1h8m4 0h8m86 0h8m50 0h8m-8 0h8m40 0h8m-98 1h8m31 0h8m37 0h8m27 0h8m7 0h8m18 0h8m-470 1h8m184 0h8m71 0h8m54 0h8m113 0h8m-286 1h8m18 0h8m93 0h8m28 0h8m-239 1h8m57 0h8m96 0h8m3 0h8m23 0h8m37 0h8m27 0h8m31 0h8m-191 1h8m96 0h8m38 0h8m8 0h8m-6 0h8m18 0h8m-112 1h8m181 0h8m-363 1h8m254 0h8m47 0h8m-624 1h8m141 0h8m158 0h8m17 0h8m142 0h8m10 0h8m29 0h8m27 1h8m-315 1h8m56 0h8m37 0h8m129 0h8m-371 1h8m92 0h8m131 0h8m1 0h8m104 0h8m18 0h8m27 0h8m-250 1h8m12 0h8m70 0h8m39 0h8m-516 1h8m457 0h8m5 0h8m112 0h8m-233 1h8m43 0h8m45 0h8m-318 1h8m224 0h8m62 0h8m-245 1h8m30 0h8m122 0h8m82 0h8m21 0h8m-231 1h8m92 0h8m70 0h8m44 0h8m24 0h8m13 0h8m-103 1h8m12 0h8m95 0h8m-70 1h8m20 0h8m16 0h8m-47 1h8m22 0h8m-376 1h8m333 0h8m66 0h8m-50 1h8m-6 0h8m1 0h8m-183 1h8m92 0h8m-421 1h8m351 0h8m22 0h8m117 0h8m-393 1h8m246 0h8m-173 1h8m124 0h8m-1 0h8m58 0h8m-6 0h8m-351 1h8m326 0h8m12 0h8m-47 1h8m52 0h8m-338 1h8m51 0h8m84 0h8m10 0h8m53 0h8m6 0h8m47 0h8m3 0h8m81 0h8m-107 1h8m4 0h8m52 0h8m-59 1h8m-178 1h8m136 0h8m2 0h8m33 0h8m-323 1h8m196 0h8m80 0h8m11 0h8m-5 0h8m-437 1h8m9 0h8m189 0h8m194 0h8m9 0h8m-1 0h8m-121 1h8m52 0h8m1 0h8m23 0h8m-394 1h8m45 0h8m47 0h8m167 0h8m-193 1h8m239 0h8m8 0h8m7 0h8m20 0h8m-460 1h8m116 0h8m114 0h8m129 0h8m-3 0h8m-103 1h8m77 0h8m45 0h8m-302 1h8m237 1h8m2 0h8m-168 1h8m161 0h8m-57 1h8m5 0h8m23 0h8m-64 1h8m100 0h8m-384 1h8m318 0h8m-80 2h8m89 0h8m6 0h8m-109 2h8m33 0h8m-93 1h8m20 0h8m-318 1h8m369 0h8m33 0h8m38 0h8m1 0h8m-69 1h8m-289 1h8m-13 1h8m191 0h8m37 0h8m30 0h8m-62 1h8m4 0h8m66 0h8m-100 2h8m38 0h8m21 0h8m110 0h8m-194 1h8m52 0h8m16 0h8m-71 1h8m10 0h8m-6 1h8m-103 1h8m72 0h8m45 0h8m-122 1h8m46 0h8m25 0h8m-57 1h8m23 1h8m-3 0h8m7 0h8m-87 1h8m124 0h8m-403 1h8m305 0h8m24 0h8m-28 1h8m-6 0h8m-220 1h8m155 0h8m-25 1h8m23 0h8m3 0h8m2 0h8m-34 1h8m22 0h8m9 0h8m20 0h8m-58 1h8m17 0h8m21 0h8m31 1h8m-30 1h8m-131 1h8m8 0h8m-20 1h8m16 0h8m41 0h8m13 0h8m59 0h8m-138 1h8m0 0h8m37 0h8m-130 1h8m85 0h8m51 0h8m-143 1h8m104 0h8m-3 0h8m-5 0h8m-1 1h8m-84 1h8m87 0h8m-116 1h8m9 1h8m-1 0h8m0 1h8m20 0h8m61 0h8m-446 1h8m449 0h8m-128 1h8m43 0h8m12 0h8m-503 1h8m456 0h8m-2 0h8m-5 0h8m-66 1h8m-5 2h8m34 0h8m9 0h8m-114 1h8m81 0h8m38 0h8m-176 1h8m47 0h8m20 0h8m-49 2h8m32 0h8m62 1h8m7 0h8m22 0h8m-507 1h8m312 0h8m35 0h8m27 1h8m-406 1h8m421 0h8m115 0h8m-167 1h8m0 0h8m25 0h8m-30 1h8m-4 0h8m11 0h8m28 0h8m-108 2h8m-1 0h8m27 0h8m-46 1h8m29 0h8m-373 1h8m407 0h8m-75 2h8m67 0h8m-2 0h8m-117 1h8m8 0h8m-361 1h8m354 0h8m31 0h8m-7 0h8m-97 1h8m79 1h8m22 0h8m-10 2h8m-78 1h8m52 0h8m-69 1h8m58 0h8m-65 2h8m25 0h8m-44 3h8m7 0h8m79 0h8m-179 1h8m120 0h8m-72 1h8m38 0h8m12 0h8m-25 1h8m-6 0h8m-6 0h8m-75 1h8m35 0h8m50 0h8m-67 2h8m18 1h8m40 0h8m-75 2h8m-65 1h8m-1 1h8m45 0h8m36 0h8m-139 1h8m118 0h8m-87 1h8m11 0h8m-39 1h8m17 0h8m5 0h8m-64 1h8m23 0h8m-63 1h8m158 0h8m-110 1h8m39 0h8m63 1h8m-80 2h8m-101 4h8m66 0h8m14 0h8m-412 1h8m245 0h8m122 0h8m-38 2h8m59 0h8m-153 2h8m37 2h8m18 4h8m17 0h8m14 0h8m-79 2h8m98 0h8m-357 2h8m198 0h8m147 0h8m-91 3h8m15 0h8m-83 3h8m8 1h8m111 0h8m-163 1h8m59 2h8m18 3h8m-59 1h8m49 0h8m-332 1h8m271 0h8m-325 3h8m304 2h8m-387 5h8m102 0h8m143 0h8m-114 1h8m222 3h8m2 5h8m-284 1h8m280 3h8m34 1h8m-102 1h8m115 0h8m-359 1h8m-110 2h8m-52 4h8m149 0h8m-61 3h8m357 0h8m-327 3h8m-45 2h8m-49 1h8m26 1h8m375 2h8m-439 1h8m-26 1h8m46 0h8m45 2h8m-1 0h8m-107 1h8m126 0h8m-81 1h8m-27 1h8m-31 4h8m72 0h8m-70 1h8m23 0h8m-82 1h8m41 0h8m17 1h8m-25 1h8m-60 2h8m43 0h8m279 0h8m-320 2h8m30 0h8m25 0h8m-52 1h8m58 0h8m-91 1h8m26 1h8m-97 3h8m59 0h8m-92 1h8m24 8h8m12 1h8m53 0h8m-42 1h8m-84 1h8m-2 0h8m67 0h8m20 0h8m-62 1h8m55 0h8m-53 1h8m85 1h8m-98 2h8m44 0h8m-6 0h8m-25 2h8m-163 1h8m123 0h8m0 1h8m-52 1h8m28 0h8m4 0h8m7 0h8m-3 0h8m-57 1h8m-41 2h8m-62 2h8m36 0h8m22 0h8m16 0h8m11 1h8m-65 1h8m7 0h8m-95 1h8m6 0h8m58 1h8m32 0h8m-110 2h8m90 0h8m-88 1h8m25 0h8m23 0h8m-119 1h8m-6 0h8m168 0h8m-142 2h8m115 0h8m-154 2h8m52 0h8m-23 2h8m11 0h8m8 0h8m32 0h8m3 1h8m5 0h8m-41 1h8m-5 0h8m50 0h8m-231 1h8m130 0h8m-97 1h8m74 0h8m18 0h8m28 0h8m-54 2h8m-7 0h8m-74 1h8m-2 1h8m52 0h8m1 0h8m-113 1h8m59 0h8m-75 1h8m85 0h8m-4 0h8m-31 1h8m-7 0h8m12 0h8m-30 1h8m-2 0h8m27 0h8m36 0h8m-88 1h8m-49 1h8m38 0h8m33 0h8m-94 1h8m2 0h8m20 1h8m46 0h8m-46 1h8m23 0h8m6 0h8m-76 1h8m15 0h8m-5 0h8m12 0h8m-72 1h8m29 0h8m12 0h8m48 0h8m-66 2h8m-53 1h8m-121 1h8m61 0h8m3 0h8m81 0h8m38 0h8m-157 1h8m97 0h8m-58 1h8m11 0h8m10 0h8m-25 1h8m41 1h8m-104 1h8m-20 1h8m74 1h8m-6 0h8m34 0h8m-137 1h8m46 0h8m-6 0h8m10 0h8m-68 1h8m31 0h8m-7 0h8m-8 0h8m12 0h8m19 0h8m-102 1h8m77 0h8m30 0h8m10 0h8m-47 1h8m45 0h8m-185 1h8m161 0h8m-192 1h8m75 1h8m27 0h8m-130 1h8m10 0h8m30 1h8m18 0h8m58 0h8m34 0h8m-59 1h8m60 0h8m-123 1h8m-35 3h8m62 0h8m43 0h8m-88 1h8m-57 1h8m55 0h8m15 0h8m10 0h8m-185 2h8m2 0h8m141 0h8m12 0h8m24 0h8m-120 1h8m-5 0h8m7 0h8m2 0h8m4 0h8m2 0h8m-96 1h8m4 0h8m6 0h8m15 0h8m0 0h8m40 0h8m-116 1h8m13 0h8m1 0h8m4 0h8m10 0h8m13 0h8m-3 0h8m-114 2h8m28 0h8m46 0h8m73 0h8m-130 2h8m-2 0h8m17 0h8m59 1h8m-143 1h8m127 1h8m-99 1h8m-3 0h8m7 0h8m17 0h8m70 0h8m-136 1h8m-3 0h8m-1 0h8m0 0h8m-107 1h8m75 1h8m-7 0h8m10 1h8m-13 1h8m27 0h8m-6 0h8m7 1h8m-113 2h8m30 0h8m33 0h8m11 0h8m8 0h8m-164 1h8m84 1h8m-11 1h8m76 0h8m-84 1h8m-112 1h8m8 0h8m27 0h8m36 0h8m-1 0h8m3 0h8m-44 1h8m2 2h8m55 0h8m-126 1h8m14 0h8m8 1h8m96 0h8m-117 1h8m-64 1h8m39 0h8m28 0h8m11 1h8m0 0h8m12 0h8m-62 1h8m91 0h8m-124 2h8m0 0h8m38 0h8m-4 0h8m-137 3h8m64 1h8m22 0h8m42 0h8m25 0h8m-60 1h8m32 0h8m-133 1h8m12 0h8m3 0h8m-27 1h8m22 0h8m74 0h8m-33 3h8m-133 1h8m1 0h8m27 0h8m-8 0h8m6 0h8m3 0h8m3 0h8m51 0h8m-152 1h8m102 0h8m-3 0h8m6 0h8m-23 1h8m29 0h8m-103 1h8m75 0h8m-59 1h8m-7 0h8m-6 2h8m13 0h8m-33 2h8m4 0h8m88 0h8m-133 1h8m-30 1h8m-45 1h8m67 1h8m2 0h8m47 0h8m-160 1h8m45 0h8m-44 1h8m177 0h8m-149 1h8m-7 1h8m8 0h8m21 2h8m-39 1h8m3 1h8m14 0h8m46 0h8m-171 1h8m60 0h8m50 0h8m-46 1h8m-74 1h8m114 0h8m11 0h8m-46 1h8m-28 3h8m-2 1h8m-75 1h8m101 0h8m-15 1h8m-99 2h8m88 0h8m-89 1h8m49 0h8m-4 0h8m6 2h8m-34 1h8m-55 1h8m-27 1h8m85 0h8m-117 2h8m18 1h8m5 2h8m0 0h8m60 0h8m-148 1h8m83 1h8m-83 2h8" stroke="#1a1a1a" stroke-width="8" stroke-opacity="0.72" fill="none"/>
<path transform="scale(.1)" d="m4008 425h7m200 3h7m-484 2h7m179 10h7m291 6h7m-609 1h7m406 1h7m114 4h7m-506 1h7m484 1h7m-75 2h7m-331 3h7m132 2h7m260 9h7m-332 5h7m88 0h7m-166 1h7m-140 2h7m217 0h7m370 3h7m-586 2h7m109 3h7m37 0h7m-19 1h7m277 0h7m-453 4h7m519 2h7m-472 4h7m427 0h7m-478 3h7m-50 5h7m19 5h7m219 0h7m333 2h7m-156 3h7m-314 2h7m323 0h7m-485 1h7m40 0h7m319 5h7m-398 5h7m287 0h7m-303 1h7m155 0h7m418 1h7m-522 4h7m-17 1h7m221 0h7m-230 1h7m71 1h7m35 1h7m7 2h7m130 0h7m-178 2h7m-92 3h7m215 0h7m-193 5h7m140 0h7m-24 2h7m-166 1h7m287 4h7m-389 1h7m-5 0h7m160 1h7m23 0h7m145 0h7m6 0h7m-373 1h7m209 2h7m116 1h7m5 0h7m77 0h7m-369 1h7m51 4h7m-74 2h7m11 0h7m35 0h7m-80 1h7m-18 1h7m351 0h7m-384 1h7m284 0h7m-173 1h7m90 0h7m69 0h7m-300 1h7m92 0h7m48 1h7m-145 1h7m197 1h7m32 0h7m19 1h7m-219 3h7m-35 1h7m122 0h7m3 0h7m47 0h7m-160 1h7m71 1h7m41 0h7m4 1h7m-208 1h7m99 0h7m23 0h7m-148 2h7m1 0h7m203 0h7m-127 1h7m-4 0h7m-43 1h7m-6 0h7m156 1h7m-250 1h7m79 0h7m-32 1h7m55 0h7m17 0h7m74 0h7m-175 1h7m3 0h7m71 0h7m141 0h7m134 0h7m-445 1h7m42 0h7m3 0h7m231 0h7m-168 1h7m48 0h7m-114 1h7m11 1h7m8 0h7m97 0h7m-139 1h7m29 0h7m9 1h7m18 1h7m-206 1h7m98 0h7m16 1h7m6 0h7m-59 1h7m131 1h7m343 0h7m-557 3h7m173 0h7m7 1h7m-117 1h7m25 1h7m16 3h7m54 0h7m-65 1h7m76 0h7m20 0h7m-315 1h7m515 0h7m-287 1h7m-123 1h7m64 0h7m1 0h7m51 0h7m-109 1h7m67 1h7m76 0h7m-79 1h7m-68 1h7m116 0h7m49 0h7m-230 1h7m14 0h7m1 0h7m87 0h7m9 0h7m-174 2h7m-7 0h7m45 0h7m139 0h7m-110 1h7m-80 1h7m17 0h7m42 0h7m-170 1h7m196 0h7m-7 0h7m-155 1h7m224 0h7m-179 1h7m133 0h7m-299 1h7m111 0h7m-27 1h7m17 0h7m163 0h7m400 0h7m-687 1h7m55 1h7m124 0h7m-170 1h7m17 0h7m156 1h7m-106 1h7m80 0h7m4 0h7m-172 1h7m38 0h7m-3 0h7m84 0h7m485 0h7m-599 1h7m15 0h7m3 0h7m-84 1h7m102 0h7m63 0h7m-91 1h7m31 0h7m169 0h7m-251 1h7m-48 1h7m134 1h7m148 0h7m-187 1h7m33 0h7m139 0h7m-347 1h7m177 0h7m21 0h7m46 0h7m130 0h7m-329 1h7m73 0h7m-95 1h7m65 0h7m27 0h7m56 0h7m-146 1h7m24 0h7m118 1h7m-194 1h7m149 1h7m-97 1h7m13 0h7m320 0h7m-482 1h7m55 0h7m75 0h7m498 0h7m-625 1h7m51 0h7m10 0h7m75 0h7m77 0h7m-250 1h7m139 0h7m-228 2h7m304 1h7m-223 1h7m231 0h7m-233 1h7m-64 1h7m158 0h7m41 0h7m-79 1h7m-10 2h7m128 0h7m-203 1h7m45 1h7m81 0h7m59 0h7m-314 1h7m-4 0h7m139 1h7m90 0h7m-213 1h7m-1 0h7m33 1h7m1 0h7m93 0h7m1 0h7m-142 1h7m124 0h7m-96 1h7m85 0h7m57 1h7m-287 1h7m159 0h7m-2 1h7m9 0h7m-56 1h7m-117 1h7m88 0h7m10 0h7m13 0h7m-128 1h7m-6 0h7m202 0h7m-211 2h7m3 0h7m33 0h7m2 0h7m-49 1h7m62 0h7m107 0h7m-99 1h7m47 0h7m-113 2h7m78 0h7m28 0h7m-22 1h7m14 0h7m157 0h7m-142 1h7m-186 2h7m52 0h7m33 0h7m38 0h7m25 0h7m35 0h7m-120 1h7m22 0h7m-201 1h7m556 0h7m-594 1h7m22 0h7m52 1h7m145 0h7m17 0h7m6 0h7m45 0h7m-207 2h7m47 0h7m-206 1h7m146 1h7m-18 3h7m-62 2h7m112 0h7m84 0h7m-155 2h7m72 0h7m-1 0h7m-11 1h7m-119 1h7m11 0h7m61 0h7m48 0h7m-143 1h7m15 1h7m0 0h7m114 0h7m-102 1h7m35 0h7m295 0h7m-379 1h7m10 1h7m302 0h7m-253 1h7m-135 1h7m252 1h7m-179 1h7m1 1h7m-70 1h7m47 0h7m61 0h7m-35 3h7m-2 0h7m24 0h7m-279 1h7m68 0h7m-4 0h7m109 1h7m6 0h7m-80 1h7m275 0h7m-417 1h7m194 0h7m-3 0h7m4 1h7m-43 1h7m113 0h7m-204 1h7m6 0h7m0 0h7m88 1h7m-132 1h7m172 1h7m66 0h7m-139 1h7m-2 0h7m59 1h7m-106 1h7m17 2h7m-104 1h7m83 1h7m53 0h7m-144 1h7m113 1h7m48 0h7m-161 3h7m117 0h7m-254 1h7m199 0h7m-40 1h7m160 0h7m277 0h7m-605 2h7m87 0h7m65 0h7m-26 1h7m-172 1h7m124 0h7m44 0h7m-151 2h7m176 0h7m-61 1h7m53 1h7m-197 5h7m36 2h7m73 0h7m59 0h7m-177 3h7m107 1h7m461 3h7m-680 2h7m237 0h7m-3 1h7m-8 3h7m-82 1h7m-4 1h7m34 0h7m17 0h7m12 0h7m-71 2h7m6 2h7m-151 1h7m90 1h7m7 0h7m288 0h7m-448 1h7m74 0h7m91 2h7m-108 2h7m140 3h7m-89 6h7m-151 1h7m70 1h7m351 0h7m45 2h7m57 1h7m-466 1h7m49 3h7m29 1h7m153 1h7m142 3h7m-318 9h7m-148 2h7m100 2h7m381 2h7m-178 2h7m167 1h7m-184 1h7m162 3h7m-276 9h7m236 1h7m25 4h7m-55 2h7m-344 2h7m387 3h7m-51 6h7m-383 1h7m398 0h7m-307 1h7m228 2h7m100 0h7m-281 1h7m164 0h7m-365 2h7m87 1h7m331 3h7m27 1h7m-385 4h7m396 0h7m-388 1h7m343 10h7m-102 3h7m-353 1h7m527 0h7m-81 1h7m-375 1h7m-185 2h7m487 0h7m-483 3h7m533 1h7m-132 1h7m-178 1h7m164 1h7m-400 1h7m88 1h7m269 1h7m-6 0h7m-429 1h7m518 0h7m119 1h7m-167 1h7m-44 2h7m183 0h7m-426 3h7m-116 3h7m114 0h7m264 0h7m-76 1h7m83 2h7m12 0h7m-75 1h7m9 0h7m18 0h7m-336 1h7m380 1h7m-578 1h7m386 0h7m106 0h7m-267 3h7m111 0h7m84 0h7m41 0h7m11 0h7m-388 1h7m346 2h7m-406 1h7m21 0h7m384 1h7m91 1h7m-43 1h7m-164 1h7m98 3h7m-492 4h7m452 2h7m-334 1h7m301 2h7m134 2h7m-305 1h7m162 0h7m-18 2h7m-343 1h7m252 1h7m52 0h7m31 0h7m3 2h7m5 0h7m-83 1h7m111 0h7m-352 1h7m186 0h7m219 2h7m-365 1h7m167 1h7m19 1h7m37 0h7m-345 1h7m296 1h7m137 1h7m-572 1h7m98 0h7m50 0h7m204 0h7m68 1h7m-23 1h7m-18 1h7m11 0h7m25 0h7m-498 3h7m408 0h7m80 0h7m-521 2h7m180 1h7m329 0h7m-382 2h7m385 2h7m-82 4h7m-456 1h7m481 1h7m-481 1h7m78 0h7m334 0h7m-89 1h7m79 0h7m-3 0h7m102 0h7m-80 2h7m26 0h7m55 1h7m-55 1h7m-334 1h7m-50 1h7m3 1h7m287 0h7m-377 1h7m313 1h7m-231 2h7m193 0h7m36 0h7m-459 1h7m195 1h7m189 0h7m-395 2h7m69 0h7m-78 1h7m168 0h7m-102 1h7m59 0h7m3 0h7m295 0h7m40 0h7m-563 1h7m525 3h7m-464 1h7m147 0h7m31 0h7m-215 1h7m339 0h7m112 0h7m-440 1h7m246 0h7m121 0h7m-364 1h7m311 0h7m54 0h7m-215 3h7m282 2h7m-392 1h7m31 0h7m65 0h7m-270 1h7m473 0h7m-390 1h7m-34 1h7m259 0h7m155 0h7m-574 1h7m469 0h7m111 0h7m-415 1h7m0 0h7m-2 1h7m-4 0h7m-172 2h7m115 0h7m497 2h7m-544 2h7m359 2h7m-459 1h7m182 0h7m264 0h7m-525 1h7m187 0h7m299 0h7m-296 2h7m113 2h7m-154 1h7m357 0h7m-3 0h7m-316 1h7m-32 1h7m56 0h7m248 0h7m60 0h7m-464 1h7m67 0h7m-2 1h7m335 0h7m-351 2h7m434 0h7m-663 3h7m134 0h7m-56 1h7m152 0h7m289 1h7m-367 1h7m286 0h7m-378 3h7m432 0h7m-329 1h7m109 0h7m316 1h7m-524 2h7m90 1h7m260 0h7m57 0h7m-422 1h7m-2 0h7m39 0h7m298 0h7m-375 1h7m265 0h7m-355 1h7m446 0h7m11 0h7m41 0h7m-301 1h7m32 0h7m6 1h7m-173 1h7m-2 0h7m-151 1h7m48 0h7m103 0h7m201 1h7m-235 1h7m51 3h7m295 0h7m8 1h7m-506 1h7m109 0h7m-4 2h7m345 0h7m-395 3h7m50 1h7m78 1h7m286 0h7m-2 0h7m94 0h7m-504 4h7m215 0h7m93 0h7m41 1h7m-319 1h7m-118 3h7m459 0h7m-615 1h7m572 4h7m-232 1h7m153 0h7m35 1h7m-498 1h7m82 0h7m489 0h7m-628 1h7m161 0h7m91 0h7m-194 1h7m16 2h7m446 0h7m-10 4h7m-396 1h7m-136 1h7m408 0h7m42 3h7m-253 1h7m1 0h7m-270 1h7m114 0h7m434 1h7m-418 2h7m303 0h7m-237 1h7m280 1h7m130 0h7m-649 2h7m80 0h7m288 0h7m-396 1h7m54 0h7m26 0h7m7 4h7m464 0h7m-271 1h7m206 0h7m-121 1h7m-305 2h7m238 4h7m161 0h7m43 1h7m-536 1h7m-7 0h7m345 0h7m-340 3h7m111 0h7m44 0h7m221 0h7m-341 3h7m403 0h7m-341 5h7" stroke="#1a1a1a" stroke-width="7" stroke-opacity="0.4" fill="none"/>
<path transform="scale(.1)" d="m4602 436h8m152 5h8m-113 1h8m56 20h8m-12 3h8m153 0h8m-282 2h8m287 2h8m-249 5h8m-79 2h8m238 0h8m-350 1h8m82 0h8m75 0h8m31 1h8m10 0h8m-165 3h8m108 2h8m103 0h8m-191 1h8m80 2h8m-30 1h8m-46 1h8m-43 2h8m137 0h8m49 1h8m-334 1h8m223 0h8m-103 1h8m113 0h8m-24 1h8m45 0h8m-191 1h8m154 1h8m-106 1h8m84 0h8m-143 1h8m204 0h8m-154 1h8m105 0h8m91 0h8m-417 1h8m62 0h8m159 0h8m84 0h8m-189 1h8m179 0h8m-143 1h8m79 0h8m82 0h8m46 0h8m-216 1h8m125 0h8m-157 1h8m16 0h8m111 1h8m-6 0h8m-288 1h8m-35 1h8m34 0h8m78 0h8m68 0h8m76 0h8m53 0h8m-484 2h8m128 0h8m134 0h8m-5 0h8m18 1h8m118 0h8m142 1h8m-459 1h8m33 0h8m89 0h8m-30 1h8m71 0h8m81 0h8m75 0h8m-279 1h8m104 0h8m-48 1h8m-19 1h8m-167 1h8m133 0h8m50 0h8m-5 0h8m-5 0h8m-4 0h8m5 0h8m18 0h8m-220 1h8m42 0h8m-5 0h8m106 0h8m-131 1h8m4 0h8m4 0h8m87 0h8m-33 1h8m27 1h8m-7 0h8m93 0h8m-208 1h8m101 0h8m-91 1h8m56 0h8m-139 1h8m13 0h8m-2 0h8m14 0h8m-5 0h8m96 0h8m-100 1h8m78 0h8m-7 0h8m67 0h8m10 0h8m-78 1h8m-293 1h8m397 0h8m-268 1h8m74 0h8m2 0h8m-209 1h8m69 0h8m2 0h8m30 0h8m6 0h8m-1 0h8m29 0h8m75 0h8m26 0h8m-309 1h8m177 0h8m8 1h8m38 0h8m48 0h8m-314 1h8m123 0h8m-5 0h8m-60 1h8m17 0h8m-5 0h8m48 0h8m0 0h8m5 0h8m65 0h8m-322 1h8m126 0h8m62 0h8m88 0h8m1 0h8m-8 0h8m16 0h8m-355 1h8m129 0h8m51 0h8m69 0h8m-2 0h8m-52 1h8m60 0h8m74 0h8m-283 1h8m30 0h8m33 0h8m46 0h8m89 0h8m-379 1h8m169 0h8m-7 0h8m144 0h8m16 0h8m282 0h8m-448 1h8m42 0h8m-6 0h8m17 0h8m-4 0h8m24 0h8m32 0h8m87 0h8m-191 1h8m-5 0h8m10 0h8m0 0h8m8 0h8m6 0h8m25 0h8m-130 1h8m15 0h8m22 0h8m4 0h8m6 0h8m9 0h8m-2 0h8m2 0h8m-133 1h8m27 0h8m164 0h8m-268 1h8m30 0h8m213 0h8m91 0h8m36 0h8m-376 1h8m22 0h8m4 0h8m63 0h8m-3 0h8m-4 0h8m12 0h8m-332 1h8m208 0h8m-192 1h8m66 0h8m61 0h8m61 0h8m-6 0h8m72 0h8m93 0h8m4 0h8m-358 1h8m56 0h8m136 0h8m27 0h8m-353 1h8m142 0h8m3 0h8m-4 0h8m12 0h8m6 0h8m11 0h8m37 0h8m5 0h8m224 0h8m-216 1h8m35 0h8m-1 0h8m-5 0h8m-189 1h8m12 0h8m11 0h8m9 0h8m0 0h8m-4 0h8m17 0h8m62 0h8m40 0h8m94 0h8m-313 1h8m14 0h8m6 0h8m-7 0h8m-2 0h8m17 0h8m13 0h8m-2 0h8m-218 1h8m110 0h8m12 0h8m40 0h8m2 0h8m15 0h8m-192 1h8m117 0h8m22 0h8m19 0h8m31 0h8m6 0h8m1 0h8m110 0h8m44 0h8m-506 1h8m141 0h8m-3 0h8m39 0h8m30 0h8m42 0h8m12 0h8m-7 0h8m87 0h8m26 0h8m-332 1h8m45 0h8m8 0h8m39 0h8m19 0h8m26 0h8m129 0h8m85 0h8m-428 1h8m72 0h8m3 0h8m22 0h8m7 0h8m1 0h8m0 0h8m-6 0h8m10 0h8m181 0h8m-455 1h8m104 0h8m19 0h8m8 0h8m21 0h8m24 0h8m-7 0h8m-5 0h8m7 0h8m-2 0h8m24 0h8m-4 0h8m31 0h8m8 0h8m-8 0h8m-319 1h8m34 0h8m38 0h8m25 0h8m12 0h8m30 0h8m10 0h8m16 0h8m52 0h8m-5 0h8m7 0h8m28 0h8m73 0h8m-447 1h8m72 0h8m33 0h8m10 0h8m-5 0h8m40 0h8m57 0h8m85 0h8m-387 1h8m249 0h8m-5 0h8m32 0h8m27 0h8m-210 1h8m1 0h8m43 0h8m11 0h8m22 0h8m18 0h8m23 0h8m10 0h8m-3 0h8m-4 0h8m-191 1h8m32 0h8m26 0h8m2 0h8m9 0h8m10 0h8m3 0h8m6 0h8m1 0h8m-6 0h8m33 0h8m-155 1h8m-6 0h8m-7 0h8m17 0h8m4 0h8m14 0h8m18 0h8m49 0h8m-221 1h8m26 0h8m23 0h8m1 0h8m32 0h8m34 0h8m46 0h8m41 0h8m31 0h8m-318 1h8m44 0h8m-5 0h8m60 0h8m-1 0h8m36 0h8m4 0h8m-3 0h8m9 0h8m29 0h8m44 0h8m119 0h8m-473 1h8m111 0h8m23 0h8m37 0h8m-3 0h8m27 0h8m49 0h8m12 0h8m-215 1h8m38 0h8m66 0h8m14 0h8m81 0h8m126 0h8m-344 1h8m13 0h8m18 0h8m2 0h8m13 0h8m34 0h8m40 0h8m6 0h8m119 0h8m-427 1h8m39 0h8m29 0h8m0 0h8m7 0h8m-5 0h8m6 0h8m-4 0h8m17 0h8m-6 0h8m48 0h8m70 0h8m-2 0h8m40 0h8m-406 1h8m139 0h8m6 0h8m26 0h8m-1 0h8m0 0h8m39 0h8m18 0h8m-8 0h8m36 0h8m-169 1h8m3 0h8m37 0h8m0 0h8m-7 0h8m7 0h8m15 0h8m-2 0h8m18 0h8m102 0h8m-310 1h8m48 0h8m-3 0h8m3 0h8m-3 0h8m27 0h8m4 0h8m-2 0h8m15 0h8m-1 0h8m-235 1h8m10 0h8m51 0h8m28 0h8m33 0h8m5 0h8m0 0h8m6 0h8m-6 0h8m10 0h8m6 0h8m5 0h8m13 0h8m76 0h8m-275 1h8m-1 0h8m-7 0h8m-7 0h8m18 0h8m5 0h8m21 0h8m12 0h8m25 0h8m8 0h8m-8 0h8m9 0h8m8 0h8m-291 1h8m156 0h8m22 0h8m3 0h8m95 0h8m9 0h8m-221 1h8m29 0h8m46 0h8m-1 0h8m14 0h8m-1 0h8m3 0h8m2 0h8m-6 0h8m12 0h8m31 0h8m-290 1h8m55 0h8m24 0h8m-3 0h8m15 0h8m13 0h8m8 0h8m-2 0h8m35 0h8m12 0h8m42 0h8m-8 0h8m-6 0h8m-411 1h8m223 0h8m27 0h8m-4 0h8m-8 0h8m9 0h8m1 0h8m0 0h8m13 0h8m-125 1h8m53 0h8m7 0h8m0 0h8m10 0h8m21 0h8m39 0h8m-7 0h8m32 0h8m10 0h8m-376 1h8m37 0h8m72 0h8m7 0h8m60 0h8m3 0h8m2 0h8m-1 0h8m-2 0h8m24 0h8m-7 0h8m-7 0h8m-1 0h8m31 0h8m266 0h8m-488 1h8m2 0h8m26 0h8m9 0h8m8 0h8m0 0h8m27 0h8m-7 0h8m10 0h8m-8 0h8m-5 0h8m-3 0h8m38 0h8m-241 1h8m35 0h8m1 0h8m5 0h8m64 0h8m21 0h8m0 0h8m20 0h8m16 0h8m14 0h8m4 0h8m127 0h8m-575 1h8m164 0h8m14 0h8m6 0h8m-1 0h8m25 0h8m18 0h8m4 0h8m21 0h8m10 0h8m1 0h8m16 0h8m7 0h8m13 0h8m-1 0h8m73 0h8m-320 1h8m78 0h8m26 0h8m1 0h8m9 0h8m4 0h8m104 0h8m198 0h8m-468 1h8m10 0h8m25 0h8m43 0h8m31 0h8m2 0h8m-3 0h8m9 0h8m-1 0h8m15 0h8m17 0h8m13 0h8m-3 0h8m-362 1h8m64 0h8m35 0h8m10 0h8m27 0h8m-2 0h8m-7 0h8m13 0h8m-7 0h8m-1 0h8m23 0h8m49 0h8m7 0h8m31 0h8m-288 1h8m64 0h8m21 0h8m0 0h8m16 0h8m14 0h8m2 0h8m-2 0h8m71 0h8m6 0h8m38 0h8m22 0h8m-411 1h8m126 0h8m5 0h8m-6 0h8m28 0h8m-3 0h8m5 0h8m-2 0h8m37 0h8m-7 0h8m-7 0h8m-4 0h8m18 0h8m-7 0h8m3 0h8m82 0h8m123 0h8m-425 1h8m10 0h8m-3 0h8m-6 0h8m39 0h8m-7 0h8m-4 0h8m2 0h8m4 0h8m47 0h8m-5 0h8m4 0h8m11 0h8m20 0h8m6 0h8m47 0h8m-229 1h8m3 0h8m6 0h8m2 0h8m0 0h8m-3 0h8m13 0h8m-1 0h8m-3 0h8m6 0h8m5 0h8m28 0h8m24 0h8m10 0h8m16 0h8m-5 0h8m46 0h8m-558 1h8m185 0h8m-1 0h8m-4 0h8m21 0h8m9 0h8m55 0h8m-8 0h8m0 0h8m52 0h8m27 0h8m8 0h8m19 0h8m-253 1h8m24 0h8m53 0h8m9 0h8m26 0h8m-7 0h8m6 0h8m-1 0h8m-2 0h8m5 0h8m1 0h8m1 0h8m86 0h8m-5 0h8m-299 1h8m-6 0h8m56 0h8m0 0h8m32 0h8m13 0h8m-6 0h8m32 0h8m108 0h8m69 0h8m-457 1h8m18 0h8m37 0h8m3 0h8m21 0h8m42 0h8m-7 0h8m17 0h8m16 0h8m-7 0h8m7 0h8m18 0h8m-6 0h8m-243 1h8m42 0h8m5 0h8m35 0h8m71 0h8m27 0h8m-8 0h8m-4 0h8m16 0h8m-5 0h8m-1 0h8m107 0h8m-318 1h8m12 0h8m19 0h8m-7 0h8m16 0h8m0 0h8m-1 0h8m19 0h8m10 0h8m-3 0h8m66 0h8m-278 1h8m32 0h8m13 0h8m14 0h8m0 0h8m-5 0h8m-6 0h8m9 0h8m22 0h8m-7 0h8m-8 0h8m-4 0h8m15 0h8m5 0h8m47 0h8m41 0h8m67 0h8m-237 1h8m11 0h8m19 0h8m6 0h8m0 0h8m-3 0h8m-3 0h8m-7 0h8m3 0h8m-3 0h8m30 0h8m0 0h8m16 0h8m-3 0h8m40 0h8m-3 0h8m-376 1h8m69 0h8m15 0h8m45 0h8m1 0h8m-1 0h8m-2 0h8m7 0h8m10 0h8m61 0h8m-159 1h8m-6 0h8m39 0h8m-2 0h8m9 0h8m11 0h8m43 0h8m-8 0h8m36 0h8m-260 1h8m29 0h8m11 0h8m-5 0h8m8 0h8m18 0h8m1 0h8m29 0h8m0 0h8m19 0h8m36 0h8m-6 0h8m24 0h8m4 0h8m31 0h8m-427 1h8m141 0h8m40 0h8m-7 0h8m17 0h8m22 0h8m20 0h8m-3 0h8m88 0h8m79 0h8m-560 1h8m235 0h8m8 0h8m5 0h8m-8 0h8m20 0h8m-3 0h8m6 0h8m20 0h8m-4 0h8m1 0h8m-1 0h8m12 0h8m-1 0h8m-189 1h8m-4 0h8m-1 0h8m59 0h8m-5 0h8m-7 0h8m13 0h8m165 0h8m105 0h8m-607 1h8m169 0h8m11 0h8m-7 0h8m-6 0h8m16 0h8m5 0h8m34 0h8m-3 0h8m15 0h8m-7 0h8m26 0h8m-6 0h8m45 0h8m15 0h8m8 0h8m6 0h8m-349 1h8m-6 0h8m63 0h8m32 0h8m37 0h8m33 0h8m-2 0h8m-4 0h8m-7 0h8m3 0h8m11 0h8m32 0h8m2 0h8m27 0h8m132 0h8m71 0h8m-533 1h8m11 0h8m-4 0h8m76 0h8m2 0h8m9 0h8m57 0h8m17 0h8m-1 0h8m17 0h8m9 0h8m5 0h8m-6 0h8m80 0h8m-509 1h8m174 0h8m58 0h8m23 0h8m-5 0h8m-3 0h8m-5 0h8m2 0h8m5 0h8m-3 0h8m-5 0h8m-6 0h8m13 0h8m15 0h8m111 0h8m-413 1h8m100 0h8m13 0h8m9 0h8m-2 0h8m-7 0h8m-7 0h8m57 0h8m6 0h8m-7 0h8m2 0h8m11 0h8m-2 0h8m4 0h8m-5 0h8m-1 0h8m14 0h8m6 0h8m51 0h8m-429 1h8m99 0h8m42 0h8m63 0h8m17 0h8m3 0h8m4 0h8m6 0h8m10 0h8m14 0h8m-1 0h8m41 0h8m40 0h8m-400 1h8m55 0h8m35 0h8m1 0h8m8 0h8m2 0h8m26 0h8m26 0h8m-3 0h8m-5 0h8m-2 0h8m9 0h8m16 0h8m34 0h8m-3 0h8m-2 0h8m49 0h8m51 0h8m91 0h8m-530 1h8m61 0h8m44 0h8m14 0h8m-6 0h8m16 0h8m35 0h8m3 0h8m91 0h8m152 0h8m102 0h8m-562 1h8m22 0h8m39 0h8m10 0h8m5 0h8m19 0h8m2 0h8m-2 0h8m59 0h8m0 0h8m17 0h8m-150 1h8m-1 0h8m13 0h8m13 0h8m4 0h8m3 0h8m15 0h8m-5 0h8m37 0h8m28 0h8m76 0h8m-290 1h8m31 0h8m-8 0h8m19 0h8m-7 0h8m11 0h8m10 0h8m0 0h8m30 0h8m22 0h8m-3 0h8m-2 0h8m158 0h8m-333 1h8m27 0h8m8 0h8m-4 0h8m63 0h8m48 0h8m2 0h8m-432 1h8m166 0h8m-5 0h8m-2 0h8m4 0h8m5 0h8m26 0h8m47 0h8m13 0h8m97 0h8m200 0h8m-525 1h8m78 0h8m41 0h8m15 0h8m-4 0h8m3 0h8m5 0h8m-8 0h8m17 0h8m21 0h8m33 0h8m-317 1h8m31 0h8m17 0h8m52 0h8m74 0h8m-3 0h8m-1 0h8m10 0h8m5 0h8m-6 0h8m47 0h8m99 0h8m65 0h8m-419 1h8m10 0h8m11 0h8m2 0h8m29 0h8m26 0h8m-4 0h8m47 0h8m-4 0h8m2 0h8m47 0h8m-240 1h8m4 0h8m6 0h8m26 0h8m-2 0h8m28 0h8m-8 0h8m32 0h8m-2 0h8m11 0h8m0 0h8m-7 0h8m-4 0h8m-211 1h8m28 0h8m-2 0h8m-7 0h8m69 0h8m-5 0h8m10 0h8m-8 0h8m0 0h8m12 0h8m8 0h8m4 0h8m12 0h8m2 0h8m4 0h8m26 0h8m10 0h8m64 0h8m-336 1h8m5 0h8m29 0h8m-1 0h8m-6 0h8m-7 0h8m18 0h8m-4 0h8m17 0h8m3 0h8m3 0h8m10 0h8m6 0h8m38 0h8m61 0h8m22 0h8m25 0h8m25 0h8m-478 1h8m17 0h8m7 0h8m15 0h8m13 0h8m26 0h8m7 0h8m7 0h8m34 0h8m10 0h8m-3 0h8m-5 0h8m9 0h8m-2 0h8m87 0h8m-8 0h8m-338 1h8m39 0h8m31 0h8m7 0h8m3 0h8m7 0h8m12 0h8m-2 0h8m-5 0h8m-3 0h8m10 0h8m-7 0h8m148 0h8m118 0h8m5 0h8m-386 1h8m5 0h8m23 0h8m30 0h8m11 0h8m-5 0h8m93 0h8m76 0h8m5 0h8m9 0h8m12 0h8m-390 1h8m44 0h8m21 0h8m29 0h8m21 0h8m-4 0h8m27 0h8m5 0h8m148 0h8m23 0h8m-471 1h8m65 0h8m-1 0h8m110 0h8m-8 0h8m1 0h8m3 0h8m5 0h8m29 0h8m101 0h8m23 0h8m-373 1h8m15 0h8m-3 0h8m0 0h8m82 0h8m-1 0h8m49 0h8m2 0h8m51 0h8m11 0h8m-257 1h8m46 0h8m2 0h8m29 0h8m57 0h8m-6 0h8m-6 0h8m-6 0h8m-4 0h8m83 0h8m-409 1h8m165 0h8m10 0h8m20 0h8m12 0h8m4 0h8m-287 1h8m177 0h8m57 0h8m19 0h8m94 0h8m-8 0h8m168 0h8m-411 1h8m25 0h8m15 0h8m23 0h8m17 0h8m34 0h8m68 0h8m3 0h8m8 0h8m25 0h8m24 0h8m-409 1h8m51 0h8m36 0h8m19 0h8m-3 0h8m30 0h8m60 0h8m-4 0h8m21 0h8m125 0h8m81 0h8m-355 1h8m5 0h8m11 0h8m28 0h8m52 0h8m-378 1h8m127 0h8m90 0h8m38 0h8m10 0h8m3 0h8m0 0h8m12 0h8m-183 1h8m21 0h8m67 0h8m27 0h8m7 0h8m67 0h8m10 0h8m109 0h8m-351 1h8m56 0h8m30 0h8m14 0h8m11 0h8m15 0h8m0 0h8m61 0h8m91 0h8m-7 0h8m-500 1h8m145 0h8m7 0h8m58 0h8m18 0h8m4 0h8m22 0h8m21 0h8m24 0h8m265 0h8m-602 1h8m-1 0h8m62 0h8m8 0h8m17 0h8m38 0h8m26 0h8m17 0h8m18 0h8m32 0h8m54 0h8m101 0h8m-391 1h8m16 0h8m52 0h8m-5 0h8m23 0h8m9 0h8m5 0h8m-2 0h8m25 0h8m5 0h8m0 0h8m47 0h8m28 0h8m-237 1h8m16 0h8m23 0h8m-2 0h8m16 0h8m12 0h8m15 0h8m-1 0h8m32 0h8m12 0h8m-4 0h8m-7 0h8m82 0h8m-499 1h8m40 0h8m139 0h8m18 0h8m-1 0h8m-3 0h8m-4 0h8m14 0h8m74 0h8m-3 0h8m-284 1h8m34 0h8m15 0h8m38 0h8m26 0h8m33 0h8m39 0h8m18 0h8m27 0h8m0 0h8m34 0h8m144 0h8m-419 1h8m33 0h8m42 0h8m15 0h8m-1 0h8m15 0h8m33 0h8m22 0h8m39 0h8m56 0h8m-307 1h8m5 0h8m36 0h8m15 0h8m10 0h8m58 0h8m2 0h8m55 0h8m-284 1h8m24 0h8m47 0h8m-5 0h8m9 0h8m99 0h8m-5 0h8m31 0h8m-259 1h8m24 0h8m-2 0h8m42 0h8m8 0h8m25 0h8m41 0h8m0 0h8m10 0h8m-292 1h8m101 0h8m93 0h8m55 0h8m16 0h8m-245 1h8m119 0h8m-3 0h8m32 0h8m22 0h8m90 0h8m-357 1h8m33 0h8m1 0h8m87 0h8m23 0h8m-8 0h8m14 0h8m-5 0h8m4 0h8m29 0h8m13 0h8m197 0h8m-451 1h8m26 0h8m96 0h8m38 0h8m21 0h8m33 0h8m51 0h8m66 0h8m29 0h8m-1 0h8m-413 1h8m61 0h8m-3 0h8m71 0h8m20 0h8m-5 0h8m-4 0h8m-186 1h8m23 0h8m14 0h8m5 0h8m26 0h8m7 0h8m9 0h8m-2 0h8m-2 0h8m0 0h8m45 0h8m83 0h8m55 0h8m51 0h8m-459 1h8m116 0h8m0 0h8m22 0h8m48 0h8m103 0h8m-286 1h8m58 0h8m-2 0h8m9 0h8m0 0h8m-3 0h8m6 0h8m14 0h8m20 0h8m0 0h8m91 0h8m12 0h8m9 0h8m43 0h8m4 0h8m-458 1h8m1 0h8m70 0h8m14 0h8m18 0h8m67 0h8m11 0h8m58 0h8m57 0h8m-355 1h8m13 0h8m69 0h8m28 0h8m29 0h8m6 0h8m-2 0h8m50 0h8m18 0h8m28 0h8m71 0h8m-369 1h8m59 0h8m12 0h8m34 0h8m44 0h8m-7 0h8m22 0h8m7 0h8m31 0h8m-385 1h8m168 0h8m42 0h8m64 0h8m45 0h8m44 0h8m66 0h8m-509 1h8m167 0h8m102 0h8m-4 0h8m-1 0h8m-332 1h8m210 0h8m26 0h8m-5 0h8m-1 0h8m13 0h8m3 0h8m13 0h8m-3 0h8m74 0h8m7 0h8m-212 1h8m66 0h8m-5 0h8m75 0h8m61 0h8m-235 1h8m-7 0h8m9 0h8m26 0h8m16 0h8m58 0h8m176 0h8m-433 1h8m114 0h8m18 0h8m61 0h8m35 0h8m-4 0h8m98 0h8m-291 1h8m14 0h8m21 0h8m86 0h8m71 0h8m-311 1h8m58 0h8m24 0h8m2 0h8m10 0h8m87 0h8m167 0h8m-276 1h8m20 0h8m30 0h8m16 0h8m-3 0h8m-4 0h8m74 0h8m19 0h8m10 0h8m-237 1h8m54 0h8m16 0h8m4 0h8m5 0h8m50 0h8m-149 1h8m33 0h8m-7 0h8m16 0h8m9 0h8m58 0h8m68 0h8m-529 1h8m75 0h8m106 0h8m110 0h8m2 0h8m-1 0h8m69 0h8m117 0h8m-336 1h8m142 0h8m15 0h8m11 0h8m305 0h8m-697 1h8m163 0h8m40 0h8m9 0h8m52 0h8m40 0h8m14 0h8m3 0h8m20 0h8m-141 1h8m35 0h8m53 0h8m-108 1h8m22 0h8m131 0h8m-207 1h8m23 0h8m34 0h8m22 0h8m5 0h8m41 0h8m169 0h8m-607 1h8m231 0h8m16 0h8m24 0h8m3 0h8m1 0h8m-6 0h8m-1 0h8m254 0h8m-362 1h8m80 0h8m-217 1h8m199 0h8m40 0h8m16 0h8m16 0h8m-228 1h8m-5 0h8m41 0h8m37 0h8m70 0h8m87 0h8m-443 1h8m35 0h8m119 0h8m-1 0h8m44 0h8m65 0h8m-7 0h8m150 0h8m-174 1h8m23 0h8m137 0h8m-280 1h8m40 0h8m3 0h8m92 0h8m37 0h8m186 0h8m-318 1h8m10 0h8m77 0h8m-283 1h8m72 0h8m17 0h8m17 0h8m-5 0h8m41 0h8m262 0h8m-432 1h8m95 0h8m82 1h8m86 0h8m56 0h8m-292 1h8m88 1h8m-152 1h8m176 0h8m8 0h8m-166 1h8m66 0h8m48 0h8m13 0h8m13 0h8m-223 1h8m73 0h8m93 0h8m-1 0h8m37 0h8m-122 1h8m55 0h8m-74 1h8m-5 0h8m49 0h8m-311 1h8m186 0h8m33 0h8m4 0h8m47 0h8m52 0h8m-390 1h8m287 0h8m117 0h8m-323 1h8m181 0h8m109 0h8m204 0h8m-575 1h8m110 0h8m27 0h8m73 0h8m43 0h8m222 0h8m-278 1h8m134 0h8m-186 1h8m30 0h8m-114 1h8m82 0h8m-24 1h8m24 0h8m30 0h8m52 0h8m-4 0h8m-205 2h8m4 0h8m-82 1h8m48 0h8m134 0h8m128 1h8m-139 1h8m49 0h8m-2 0h8m42 0h8m-269 3h8m84 0h8m-281 1h8m300 0h8m-159 1h8m69 0h8m-7 0h8m81 0h8m8 0h8m-7 0h8m-354 1h8m31 0h8m27 0h8m8 0h8m-45 1h8m208 0h8m209 0h8m-333 1h8m-48 1h8m27 1h8m85 1h8m105 0h8m-32 1h8m-48 1h8m-2 0h8m-98 1h8m126 0h8m-210 1h8m242 0h8m22 0h8m-235 1h8m-66 1h8m110 0h8m18 0h8m109 1h8m-331 1h8m116 0h8m-143 1h8m94 0h8m39 0h8m53 0h8m104 0h8m0 0h8m-247 1h8m156 0h8m64 0h8m-39 1h8m-130 1h8m57 0h8m-127 1h8m171 0h8m-177 1h8m139 0h8m-153 1h8m-22 1h8m12 0h8m47 1h8m-81 5h8m134 6h8m-277 2h8m312 3h8m-177 1h8m88 4h8m19 0h8m-208 2h8m133 0h8m-102 3h8m58 3h8m-154 3h8m134 0h8m2 0h8m188 10h8m-278 2h8m39 0h8m-148 3h8m203 13h8m-190 24h8m266 4h8m-312 20h8m19 0h8m-142 13h8m11 8h8m-4 6h8m135 9h8m135 8h8m-153 1h8m-19 14h8m60 0h8m-58 1h8m-61 2h8m134 5h8m-286 2h8m110 1h8m13 2h8m-53 1h8m6 2h8m-27 1h8m74 0h8m57 2h8m0 0h8m-175 1h8m175 0h8m-108 1h8m16 1h8m-62 2h8m-131 2h8m193 0h8m16 0h8m-169 1h8m91 1h8m-170 1h8m161 0h8m17 0h8m-6 2h8m-252 1h8m99 1h8m69 0h8m2 1h8m21 2h8m5 1h8m-44 2h8m25 0h8m5 0h8m47 0h8m-185 2h8m156 0h8m1 0h8m-107 1h8m-148 1h8m26 0h8m166 0h8m23 0h8m-6 0h8m-41 2h8m-64 1h8m17 1h8m112 0h8m-171 2h8m-26 1h8m-5 0h8m-103 1h8m80 0h8m17 0h8m-11 1h8m-50 1h8m28 0h8m-72 1h8m43 0h8m23 0h8m11 0h8m-8 0h8m54 0h8m-92 1h8m10 0h8m52 0h8m4 1h8m-97 1h8m-62 1h8m156 0h8m-281 1h8m38 0h8m47 0h8m33 0h8m-27 1h8m18 0h8m-44 1h8m94 0h8m-164 1h8m91 0h8m1 0h8m8 0h8m9 1h8m-24 1h8m118 0h8m-79 1h8m33 0h8m23 0h8m-6 0h8m-167 1h8m25 0h8m3 0h8m-84 1h8m82 1h8m16 1h8m-248 1h8m84 0h8m-46 1h8m15 0h8m18 1h8m64 0h8m-32 2h8m2 0h8m8 0h8m8 0h8m-88 1h8m60 0h8m67 0h8m-184 1h8m9 0h8m74 0h8m-12 1h8m-24 1h8m25 0h8m15 0h8m-194 1h8m131 0h8m48 0h8m36 0h8m-220 1h8m48 0h8m14 0h8m2 0h8m82 0h8m-208 1h8m4 0h8m108 0h8m50 0h8m-173 1h8m135 0h8m-3 0h8m-93 1h8m81 0h8m1 0h8m18 0h8m112 0h8m-207 1h8m12 0h8m7 0h8m8 0h8m6 0h8m-171 1h8m40 0h8m94 0h8m72 0h8m-80 1h8m26 0h8m-197 1h8m59 0h8m-6 0h8m45 0h8m-28 1h8m67 0h8m-3 0h8m-218 1h8m8 0h8m44 0h8m-6 0h8m50 0h8m-58 1h8m22 0h8m20 0h8m71 0h8m19 0h8m-148 1h8m34 0h8m27 0h8m-187 1h8m90 0h8m34 0h8m27 0h8m-2 0h8m44 0h8m-4 0h8m-207 1h8m43 0h8m-6 0h8m87 0h8m33 0h8m-176 1h8m52 0h8m106 0h8m-7 0h8m-151 1h8m6 0h8m51 0h8m-3 0h8m-183 1h8m122 0h8m69 0h8m-3 0h8m0 0h8m-222 1h8m83 0h8m97 0h8m-177 1h8m92 0h8m6 0h8m3 0h8m2 0h8m-172 1h8m152 0h8m43 0h8m6 0h8m-50 1h8m-153 1h8m119 0h8m66 0h8m59 0h8m-295 1h8m65 0h8m83 0h8m4 0h8m8 0h8m-144 1h8m12 0h8m74 0h8m75 0h8m-171 1h8m29 0h8m46 0h8m60 0h8m-229 1h8m130 0h8m3 0h8m50 0h8m-265 1h8m59 0h8m27 0h8m0 0h8m-7 0h8m-3 0h8m39 0h8m6 0h8m4 0h8m27 0h8m-129 1h8m47 0h8m83 0h8m-238 1h8m172 0h8m23 0h8m-170 1h8m86 0h8m10 0h8m9 0h8m-6 0h8m75 0h8m-118 1h8m-5 0h8m110 0h8m-266 1h8m55 0h8m4 0h8m-2 0h8m6 0h8m-5 1h8m-2 0h8m37 0h8m-8 0h8m-55 1h8m10 0h8m-3 0h8m227 0h8m-310 1h8m-5 0h8m38 0h8m29 0h8m-144 1h8m22 0h8m-3 0h8m7 0h8m48 0h8m4 0h8m-49 1h8m-5 0h8m21 0h8m63 0h8m-160 1h8m22 0h8m1 0h8m93 0h8m0 0h8m4 0h8m19 0h8m-130 1h8m50 0h8m40 0h8m-86 1h8m-6 0h8m13 0h8m20 0h8m43 0h8m1 0h8m-130 1h8m-7 0h8m19 0h8m15 0h8m83 0h8m-208 1h8m1 0h8m123 0h8m-109 1h8m3 0h8m10 0h8m-3 0h8m8 0h8m18 0h8m6 0h8m-162 1h8m-4 0h8m-5 0h8m15 0h8m37 0h8m12 0h8m-2 0h8m-7 0h8m-86 1h8m-3 0h8m19 0h8m9 0h8m5 0h8m14 0h8m-7 0h8m26 0h8m-4 0h8m3 0h8m-5 0h8m17 0h8m-245 1h8m89 0h8m18 0h8m37 0h8m-160 1h8m23 0h8m38 0h8m64 0h8m12 0h8m36 0h8m20 0h8m8 0h8m-114 1h8m-4 0h8m18 0h8m-98 1h8m44 0h8m37 0h8m-3 0h8m-6 0h8m22 0h8m-3 0h8m2 0h8m-151 1h8m0 0h8m0 0h8m-7 0h8m61 0h8m-118 1h8m17 0h8m16 0h8m-4 0h8m-1 0h8m-131 1h8m56 0h8m79 0h8m64 0h8m-223 1h8m99 0h8m3 0h8m3 0h8m16 0h8m22 0h8m10 0h8m12 0h8m-262 1h8m71 0h8m47 0h8m1 0h8m35 0h8m29 0h8m21 0h8m-263 1h8m78 0h8m-3 0h8m-2 0h8m5 0h8m-1 0h8m2 0h8m2 0h8m17 0h8m12 0h8m-57 1h8m27 0h8m-107 1h8m26 0h8m15 0h8m25 0h8m33 0h8m8 0h8m-107 1h8m50 0h8m2 0h8m-7 0h8m-3 0h8m-107 1h8m-5 0h8m24 0h8m-7 0h8m7 0h8m67 0h8m53 0h8m-312 1h8m106 0h8m29 0h8m-48 1h8m20 0h8m-6 0h8m19 0h8m46 0h8m0 0h8m-228 1h8m113 0h8m15 0h8m18 0h8m18 0h8m-165 1h8m37 0h8m125 0h8m21 0h8m5 0h8m39 0h8m-240 1h8m34 0h8m11 0h8m0 0h8m48 0h8m15 0h8m-3 0h8m-108 1h8m6 0h8m3 0h8m4 0h8m1 0h8m61 0h8m-210 1h8m46 0h8m-5 0h8m-1 0h8m-2 0h8m26 0h8m-4 0h8m25 0h8m6 0h8m32 0h8m-7 0h8m-195 1h8m133 0h8m2 0h8m-8 0h8m6 0h8m0 0h8m8 0h8m-100 1h8m1 0h8m-8 0h8m-5 0h8m-8 0h8m39 0h8m29 0h8m-217 1h8m85 0h8m50 0h8m8 0h8m78 0h8m23 0h8m-177 1h8m15 0h8m4 0h8m25 0h8m73 0h8m-226 1h8m65 0h8m9 0h8m-1 0h8m-6 0h8m25 0h8m-1 0h8m-2 0h8m-194 1h8m77 0h8m56 0h8m-8 0h8m2 0h8m8 0h8m41 0h8m1 0h8m-283 1h8m126 0h8m-4 0h8m-8 0h8m1 0h8m165 0h8m-233 1h8m21 0h8m36 0h8m38 0h8m52 0h8m-119 1h8m1 0h8m4 0h8m-27 1h8m-22 1h8m40 0h8m-7 0h8m-6 0h8m8 0h8m33 0h8m-75 1h8m0 0h8m1 0h8m4 0h8m10 0h8m-171 1h8m68 0h8m29 0h8m32 0h8m30 0h8m-105 1h8m31 0h8m9 0h8m59 0h8m-171 1h8m-1 0h8m8 0h8m-5 0h8m5 0h8m72 0h8m1 0h8m-156 1h8m4 0h8m60 0h8m35 0h8m12 0h8m-149 1h8m42 0h8m1 0h8m1 0h8m-81 1h8m16 0h8m7 0h8m-5 0h8m8 0h8m7 0h8m0 0h8m9 0h8m-183 1h8m1 0h8m35 0h8m9 0h8m51 0h8m-2 0h8m-5 0h8m15 0h8m5 0h8m6 0h8m1 0h8m-250 1h8m138 0h8m52 0h8m37 0h8m-4 0h8m3 0h8m-4 0h8m39 0h8m10 0h8m-176 1h8m67 0h8m-3 0h8m-161 1h8m41 0h8m14 0h8m5 1h8m7 0h8m27 0h8m-1 0h8m50 0h8m-166 1h8m20 0h8m12 0h8m13 0h8m-125 1h8m169 0h8m-208 1h8m68 0h8m4 0h8m112 0h8m-2 0h8m-182 1h8m-4 0h8m85 0h8m9 0h8m-154 1h8m76 0h8m41 0h8m9 0h8m66 0h8m-202 1h8m-3 0h8m24 0h8m-2 0h8m6 0h8m22 0h8m10 0h8m33 0h8m13 0h8m-184 1h8m33 0h8m23 0h8m65 0h8m8 0h8m-148 1h8m47 0h8m37 0h8m43 0h8m-80 1h8m0 0h8m21 0h8m-4 0h8m24 0h8m-150 1h8m7 0h8m29 0h8m-1 0h8m1 0h8m25 0h8m-4 0h8m6 0h8m-7 0h8m9 0h8m29 0h8m-170 1h8m-7 0h8m30 0h8m73 0h8m-210 1h8m122 0h8m62 0h8m-148 1h8m29 0h8m23 0h8m1 0h8m11 0h8m-96 1h8m3 0h8m-1 0h8m17 0h8m3 0h8m-6 0h8m20 0h8m-6 0h8m10 0h8m9 0h8m64 0h8m-175 1h8m57 0h8m8 0h8m-98 1h8m-6 0h8m0 0h8m9 0h8m2 0h8m16 0h8m-8 0h8m9 0h8m-8 0h8m0 0h8m-2 0h8m29 0h8m-220 1h8m62 0h8m31 0h8m47 0h8m-6 0h8m7 1h8m-7 0h8m-5 0h8m12 0h8m52 0h8m-224 1h8m100 0h8m8 0h8m17 0h8m-103 1h8m22 0h8m-1 0h8m40 0h8m-7 0h8m5 0h8m14 0h8m-62 1h8m19 0h8m-175 1h8m38 0h8m85 0h8m-73 1h8m23 0h8m3 0h8m4 0h8m2 0h8m-130 1h8m14 0h8m16 0h8m26 0h8m4 0h8m-6 0h8m1 0h8m36 0h8m47 0h8m-126 1h8m34 0h8m-3 0h8m25 0h8m12 0h8m-134 1h8m8 0h8m13 0h8m13 0h8m-87 1h8m13 0h8m6 0h8m-3 0h8m-4 0h8m0 0h8m-188 1h8m154 0h8m-2 0h8m-8 0h8m-6 0h8m14 0h8m1 0h8m-5 0h8m-216 1h8m141 0h8m10 0h8m7 0h8m95 0h8m-149 1h8m117 0h8m35 0h8m-288 1h8m101 0h8m-6 0h8m44 0h8m-94 1h8m20 0h8m3 0h8m34 0h8m13 0h8m-7 0h8m-5 0h8m5 0h8m-3 0h8m3 0h8m21 0h8m-79 1h8m4 0h8m-176 1h8m24 0h8m45 0h8m28 0h8m12 0h8m-15 1h8m-3 0h8m89 0h8m-159 1h8m10 0h8m34 0h8m38 0h8m12 0h8m-157 1h8m45 0h8m4 0h8m-3 0h8m-2 0h8m14 0h8m-8 0h8m-11 1h8m43 0h8m-109 1h8m26 0h8m-189 1h8m108 0h8m4 0h8m31 0h8m0 0h8m82 0h8m-174 1h8m59 0h8m36 0h8m-1 0h8m17 0h8m-252 1h8m161 0h8m-27 1h8m69 0h8m-95 2h8m5 0h8m22 0h8m162 0h8m-271 2h8m77 0h8m19 0h8m17 0h8m-96 1h8m-2 0h8m29 0h8m10 0h8m10 0h8m73 0h8m-177 1h8m21 0h8m3 0h8m39 0h8m-5 0h8m11 0h8m-102 1h8m36 0h8m59 0h8m32 0h8m-248 1h8m84 0h8m11 1h8m15 0h8m23 0h8m9 0h8m-120 1h8m42 0h8m36 0h8m-84 1h8m3 0h8m-1 0h8m23 0h8m0 0h8m67 0h8m-188 1h8m15 0h8m-63 1h8m55 0h8m149 0h8m-57 1h8m12 0h8m-6 0h8m-143 1h8m47 0h8m-4 0h8m36 0h8m69 0h8m-144 1h8m5 0h8m-3 0h8m-1 0h8m21 0h8m-60 1h8m31 0h8m5 0h8m2 0h8m-97 1h8m23 0h8m27 0h8m-115 1h8m95 0h8m13 0h8m2 0h8m-78 2h8m-7 0h8m-5 0h8m10 0h8m-31 1h8m59 0h8m-85 1h8m125 0h8m-163 1h8m18 0h8m57 0h8m-110 1h8m6 0h8m143 0h8m-274 1h8m138 1h8m-23 1h8m23 0h8m58 0h8m-85 1h8m-2 0h8m-200 1h8m168 0h8m24 0h8m14 0h8m-50 1h8m1 0h8m5 0h8m32 0h8m-142 1h8m68 0h8m27 0h8m-58 1h8m18 0h8m-139 1h8m3 0h8m37 0h8m-54 1h8m26 0h8m3 0h8m94 1h8m15 0h8m-1 0h8m-65 1h8m-17 1h8m17 0h8m-49 1h8m75 0h8m-105 1h8" stroke="#1a1a1a" stroke-width="8" stroke-opacity="0.7" fill="none"/>
<path transform="scale(.1)" d="m4520 435h7m417 1h7m-73 1h7m-287 2h7m32 3h7m131 1h7m66 0h7m-390 4h7m-17 1h7m194 6h7m267 1h7m132 2h7m-682 6h7m407 1h7m220 3h7m-508 2h7m25 0h7m273 0h7m55 1h7m-16 4h7m-84 1h7m233 1h7m-363 1h7m-206 1h7m39 0h7m309 0h7m2 1h7m-273 1h7m70 1h7m56 0h7m112 1h7m-268 1h7m-44 1h7m266 2h7m109 1h7m-478 3h7m349 0h7m111 0h7m-164 1h7m-287 2h7m144 0h7m-139 1h7m-183 2h7m369 0h7m47 0h7m-318 1h7m110 0h7m392 1h7m23 1h7m-620 1h7m-62 1h7m140 0h7m311 0h7m-229 1h7m-108 1h7m-141 1h7m18 0h7m54 0h7m31 0h7m-38 1h7m1 0h7m34 0h7m7 2h7m15 0h7m-48 1h7m34 0h7m-11 1h7m2 0h7m311 0h7m-121 1h7m56 0h7m40 0h7m25 0h7m-208 1h7m182 2h7m-451 1h7m157 1h7m251 0h7m-377 1h7m10 0h7m30 0h7m410 0h7m-470 1h7m-106 1h7m0 0h7m508 0h7m11 0h7m-415 1h7m12 1h7m288 0h7m116 0h7m-478 1h7m7 0h7m403 0h7m56 0h7m-540 1h7m60 0h7m-95 1h7m52 0h7m348 0h7m-114 1h7m71 0h7m-319 1h7m377 0h7m-508 1h7m122 0h7m512 0h7m-571 1h7m348 0h7m-310 1h7m342 0h7m-417 1h7m40 0h7m474 0h7m-530 1h7m69 0h7m93 0h7m213 0h7m-60 1h7m98 0h7m66 0h7m-621 1h7m74 0h7m-3 0h7m109 0h7m371 0h7m10 0h7m5 0h7m-422 1h7m24 0h7m54 0h7m-207 1h7m13 0h7m28 0h7m102 0h7m23 0h7m28 0h7m64 0h7m110 0h7m-143 1h7m-248 1h7m77 0h7m482 0h7m-535 2h7m86 0h7m182 0h7m54 0h7m-317 1h7m125 0h7m96 0h7m143 0h7m-496 1h7m70 0h7m-68 1h7m47 0h7m32 0h7m-96 2h7m77 0h7m205 0h7m-314 2h7m40 0h7m68 0h7m-193 1h7m50 0h7m406 0h7m183 0h7m-675 1h7m24 0h7m20 0h7m542 0h7m-531 1h7m21 0h7m0 0h7m-75 1h7m47 0h7m-2 0h7m-105 1h7m65 0h7m167 0h7m-168 1h7m-86 1h7m33 0h7m24 0h7m57 0h7m-164 1h7m65 0h7m-6 0h7m22 0h7m0 0h7m3 0h7m19 0h7m9 0h7m287 0h7m125 0h7m27 0h7m-514 1h7m373 0h7m-449 1h7m528 0h7m-568 1h7m236 0h7m31 0h7m97 0h7m-3 0h7m14 0h7m-338 1h7m57 0h7m-31 1h7m46 0h7m19 0h7m166 0h7m112 0h7m112 0h7m-4 0h7m-662 1h7m657 0h7m-608 2h7m21 0h7m53 0h7m269 0h7m-333 1h7m65 0h7m191 0h7m36 0h7m160 0h7m83 0h7m-538 1h7m20 0h7m22 0h7m381 0h7m-4 0h7m-558 1h7m23 0h7m417 0h7m-3 0h7m83 0h7m-555 1h7m92 0h7m20 0h7m41 0h7m38 0h7m225 0h7m-1 0h7m28 0h7m-438 1h7m57 0h7m2 0h7m-210 1h7m51 0h7m207 0h7m6 0h7m-51 1h7m32 0h7m260 0h7m-5 0h7m161 0h7m-76 1h7m-645 1h7m85 0h7m6 0h7m-1 0h7m29 0h7m9 0h7m35 0h7m55 0h7m-134 1h7m22 0h7m132 0h7m47 0h7m-382 1h7m370 0h7m9 0h7m100 0h7m-407 1h7m27 0h7m6 0h7m9 0h7m350 0h7m71 0h7m-595 1h7m59 0h7m3 0h7m1 0h7m315 0h7m78 0h7m137 0h7m-469 1h7m149 0h7m246 0h7m-1 0h7m-443 1h7m22 0h7m213 0h7m56 0h7m130 0h7m49 0h7m-624 1h7m26 0h7m116 0h7m9 0h7m7 0h7m290 0h7m-445 1h7m48 0h7m26 0h7m325 0h7m25 0h7m54 0h7m-182 1h7m119 0h7m35 0h7m-4 0h7m45 0h7m10 0h7m-534 1h7m-5 0h7m364 0h7m-430 1h7m28 0h7m-5 0h7m123 0h7m320 0h7m-571 1h7m61 0h7m46 0h7m11 0h7m23 0h7m16 0h7m9 0h7m34 0h7m-115 1h7m80 0h7m236 0h7m-483 1h7m116 0h7m63 0h7m82 0h7m265 0h7m-465 1h7m63 0h7m49 0h7m209 0h7m-4 0h7m131 0h7m-535 1h7m23 0h7m143 0h7m181 0h7m101 0h7m-1 0h7m44 0h7m24 0h7m-535 1h7m195 0h7m250 0h7m9 0h7m-322 1h7m88 0h7m173 0h7m54 0h7m-508 2h7m81 0h7m253 0h7m5 0h7m84 0h7m2 0h7m-451 1h7m77 0h7m-184 1h7m52 0h7m392 0h7m89 0h7m-575 1h7m214 0h7m328 0h7m-562 1h7m84 0h7m2 0h7m-3 0h7m-1 0h7m-5 0h7m32 0h7m48 0h7m1 0h7m387 0h7m-612 1h7m535 0h7m-143 1h7m137 0h7m-413 1h7m-3 0h7m-2 0h7m62 0h7m49 0h7m191 0h7m182 0h7m-511 1h7m26 0h7m74 0h7m-276 1h7m305 0h7m200 0h7m48 0h7m-483 1h7m14 0h7m69 0h7m34 0h7m140 0h7m95 0h7m7 0h7m74 0h7m22 0h7m-606 1h7m33 0h7m26 0h7m-4 0h7m27 0h7m11 0h7m-3 0h7m50 0h7m4 0h7m392 0h7m-521 1h7m25 0h7m372 0h7m72 0h7m-528 1h7m123 0h7m163 0h7m225 0h7m-489 1h7m80 0h7m2 0h7m333 0h7m-196 1h7m-4 0h7m236 0h7m-577 1h7m11 0h7m104 0h7m319 0h7m18 0h7m-24 1h7m48 0h7m103 0h7m-627 1h7m218 0h7m94 0h7m-240 1h7m58 0h7m242 0h7m-280 1h7m60 0h7m88 0h7m-6 0h7m13 0h7m174 0h7m47 0h7m-496 1h7m122 0h7m39 0h7m-6 0h7m0 0h7m185 0h7m74 0h7m29 0h7m56 0h7m-592 1h7m31 0h7m175 0h7m338 0h7m-509 1h7m3 0h7m66 0h7m18 0h7m337 0h7m-530 1h7m44 0h7m19 0h7m346 0h7m65 0h7m-107 1h7m95 0h7m-603 1h7m113 0h7m48 0h7m-5 0h7m388 0h7m35 0h7m-6 0h7m-423 1h7m13 0h7m60 0h7m129 0h7m-315 1h7m67 0h7m7 0h7m7 0h7m114 0h7m93 0h7m18 0h7m-465 1h7m138 0h7m18 0h7m104 0h7m194 0h7m5 0h7m-452 1h7m77 0h7m66 0h7m269 0h7m35 0h7m-2 0h7m33 0h7m81 0h7m24 0h7m-662 1h7m456 0h7m56 0h7m69 0h7m29 0h7m-665 1h7m41 0h7m-5 0h7m-5 0h7m58 0h7m19 0h7m269 0h7m65 0h7m-507 1h7m143 0h7m-1 0h7m75 0h7m227 0h7m23 0h7m44 0h7m5 0h7m-332 1h7m295 0h7m-399 1h7m19 0h7m49 0h7m292 0h7m109 0h7m-614 1h7m84 0h7m5 0h7m34 0h7m120 0h7m195 0h7m64 0h7m-516 1h7m81 0h7m-7 0h7m301 0h7m32 0h7m-470 1h7m12 0h7m421 0h7m43 0h7m111 0h7m-235 1h7m16 0h7m135 0h7m-590 1h7m-4 0h7m96 0h7m87 0h7m58 0h7m162 0h7m233 0h7m-687 1h7m103 0h7m9 0h7m32 0h7m2 0h7m-97 1h7m-2 0h7m58 0h7m242 0h7m-294 1h7m495 0h7m-602 1h7m91 0h7m53 0h7m111 0h7m172 0h7m-7 0h7m-2 0h7m112 0h7m31 0h7m-458 1h7m302 0h7m129 0h7m-514 1h7m-6 0h7m331 0h7m25 0h7m-500 1h7m68 0h7m149 0h7m-250 1h7m93 0h7m0 0h7m7 0h7m46 0h7m101 0h7m242 0h7m-6 0h7m43 0h7m-2 0h7m-524 1h7m14 0h7m23 0h7m5 0h7m15 0h7m-4 0h7m36 0h7m236 0h7m81 0h7m-426 1h7m77 0h7m0 0h7m488 0h7m-659 1h7m11 0h7m187 0h7m-228 1h7m33 0h7m54 0h7m168 0h7m128 0h7m-3 0h7m158 0h7m-372 1h7m186 0h7m25 0h7m30 0h7m-476 1h7m-1 0h7m486 0h7m15 0h7m53 0h7m31 0h7m-529 1h7m127 0h7m200 0h7m49 0h7m-468 1h7m21 0h7m66 0h7m78 0h7m124 0h7m77 0h7m26 0h7m103 0h7m9 0h7m29 0h7m-630 1h7m47 0h7m31 0h7m15 0h7m66 0h7m23 0h7m-1 0h7m7 0h7m147 0h7m101 0h7m-327 1h7m264 0h7m181 0h7m-494 1h7m30 0h7m15 0h7m193 0h7m16 0h7m67 0h7m13 0h7m-548 1h7m178 0h7m65 0h7m203 0h7m-495 1h7m77 0h7m30 0h7m13 0h7m333 0h7m-388 1h7m112 0h7m19 0h7m77 0h7m83 0h7m74 0h7m-428 1h7m29 0h7m28 0h7m113 0h7m220 0h7m-393 1h7m10 0h7m65 0h7m46 0h7m-117 1h7m23 0h7m57 0h7m387 0h7m-555 1h7m6 0h7m370 0h7m-479 1h7m252 0h7m15 0h7m231 0h7m73 0h7m-437 1h7m-7 0h7m64 0h7m65 0h7m171 0h7m86 0h7m2 0h7m-417 1h7m46 0h7m59 0h7m14 0h7m177 0h7m-440 1h7m10 0h7m117 0h7m320 0h7m56 0h7m-470 1h7m9 0h7m396 0h7m-541 1h7m248 0h7m265 0h7m38 0h7m-473 1h7m12 0h7m211 0h7m129 0h7m5 0h7m-332 1h7m25 0h7m9 0h7m-6 0h7m184 0h7m70 0h7m7 0h7m64 0h7m-3 0h7m-498 1h7m40 0h7m5 0h7m106 0h7m237 0h7m10 0h7m-398 1h7m169 0h7m209 0h7m-546 1h7m69 0h7m3 0h7m35 0h7m468 0h7m1 0h7m-627 1h7m-1 0h7m195 0h7m77 0h7m7 0h7m4 0h7m124 0h7m106 0h7m-463 1h7m30 0h7m40 0h7m19 0h7m160 0h7m154 0h7m71 0h7m-532 1h7m369 0h7m56 0h7m-418 1h7m145 0h7m143 0h7m119 0h7m-432 1h7m48 0h7m137 0h7m-86 1h7m47 0h7m-174 1h7m16 0h7m218 0h7m139 0h7m61 0h7m-6 0h7m-499 1h7m67 0h7m52 0h7m47 0h7m197 0h7m90 0h7m-512 1h7m17 0h7m19 0h7m63 0h7m5 0h7m350 0h7m-6 0h7m-303 1h7m121 0h7m252 0h7m-591 1h7m1 0h7m-4 0h7m2 0h7m7 0h7m305 0h7m23 0h7m-345 1h7m32 0h7m299 0h7m19 0h7m23 0h7m-397 1h7m49 0h7m107 0h7m89 0h7m-5 0h7m142 0h7m-3 0h7m75 0h7m-407 1h7m6 1h7m-242 1h7m370 0h7m70 0h7m73 0h7m74 0h7m-579 1h7m118 0h7m131 0h7m78 0h7m4 0h7m56 0h7m-204 1h7m58 0h7m-7 0h7m-175 1h7m105 0h7m-4 0h7m64 0h7m256 0h7m-507 1h7m178 0h7m244 0h7m-52 1h7m57 0h7m-536 1h7m145 0h7m82 0h7m188 0h7m65 0h7m-495 1h7m13 0h7m41 0h7m412 0h7m-90 1h7m41 0h7m-416 1h7m243 0h7m20 0h7m212 0h7m-369 1h7m92 0h7m34 0h7m134 0h7m4 0h7m28 0h7m43 0h7m-256 1h7m46 0h7m81 0h7m32 0h7m-571 1h7m32 0h7m128 0h7m402 0h7m0 0h7m-506 1h7m103 0h7m310 0h7m15 0h7m7 0h7m-143 1h7m25 0h7m31 0h7m23 0h7m-2 0h7m-357 1h7m42 0h7m95 0h7m236 0h7m6 0h7m11 0h7m-510 1h7m103 0h7m-15 1h7m117 0h7m92 0h7m64 0h7m-19 1h7m-233 1h7m53 0h7m212 0h7m51 0h7m-491 1h7m366 0h7m28 0h7m26 0h7m-535 1h7m16 0h7m180 0h7m-5 1h7m-182 1h7m42 0h7m85 0h7m8 0h7m47 0h7m156 1h7m-200 1h7m260 0h7m61 0h7m-64 1h7m33 0h7m-42 1h7m-337 1h7m243 0h7m220 0h7m-629 1h7m73 0h7m6 0h7m304 0h7m-357 1h7m-1 0h7m22 1h7m522 0h7m-615 1h7m419 0h7m-469 1h7m208 1h7m50 0h7m167 0h7m11 1h7m-229 1h7m-269 1h7m306 0h7m14 0h7m77 0h7m-217 1h7m6 0h7m303 0h7m115 0h7m-444 1h7m185 0h7m-354 1h7m31 0h7m-58 2h7m185 0h7m124 0h7m181 0h7m-454 1h7m135 0h7m17 0h7m63 0h7m-175 1h7m4 0h7m221 0h7m8 0h7m20 0h7m-387 1h7m73 0h7m332 0h7m-3 0h7m172 0h7m-691 1h7m33 0h7m185 0h7m25 0h7m-2 0h7m188 0h7m16 0h7m95 0h7m-454 1h7m6 0h7m143 0h7m183 0h7m-334 1h7m52 0h7m-12 1h7m173 1h7m238 0h7m-476 1h7m17 0h7m13 0h7m-32 1h7m351 0h7m-290 1h7m215 0h7m-474 1h7m481 0h7m-412 1h7m72 0h7m105 0h7m-247 1h7m90 0h7m353 0h7m-243 1h7m17 0h7m-190 1h7m132 0h7m101 0h7m135 0h7m-299 2h7m161 0h7m-64 1h7m197 0h7m26 0h7m-362 1h7m34 0h7m10 0h7m26 0h7m363 0h7m-591 1h7m289 1h7m-234 1h7m62 0h7m-1 0h7m-50 1h7m141 0h7m-202 2h7m35 0h7m298 0h7m-440 1h7m631 0h7m-664 1h7m350 0h7m145 2h7m43 0h7m-544 1h7m243 0h7m292 0h7m-336 1h7m23 0h7m52 1h7m-199 1h7m420 0h7m-110 1h7m32 0h7m-266 1h7m12 0h7m31 0h7m-217 2h7m358 0h7m-223 1h7m73 0h7m-103 2h7m-159 1h7m279 0h7m203 0h7m-477 1h7m199 0h7m327 1h7m-555 1h7m4 0h7m104 0h7m229 0h7m-238 1h7m-164 1h7m167 0h7m-43 1h7m217 0h7m-57 3h7m11 1h7m-443 1h7m490 1h7m-205 1h7m0 0h7m46 0h7m169 1h7m-90 2h7m-432 1h7m417 0h7m-371 1h7m12 0h7m199 0h7m108 0h7m-222 1h7m156 0h7m63 0h7m-236 1h7m286 0h7m-408 1h7m-49 1h7m28 0h7m73 0h7m159 0h7m153 0h7m-334 1h7m10 0h7m205 0h7m81 0h7m36 0h7m-345 1h7m105 2h7m65 0h7m70 0h7m-217 1h7m235 0h7m-355 1h7m-55 1h7m39 0h7m164 0h7m3 1h7m-247 1h7m147 0h7m62 0h7m165 1h7m89 0h7m-266 1h7m280 0h7m-306 1h7m54 0h7m48 0h7m-158 1h7m130 0h7m-230 1h7m144 0h7m-211 3h7m27 0h7m158 0h7m73 0h7m281 0h7m-438 1h7m98 0h7m140 1h7m52 0h7m123 1h7m-209 2h7m-218 1h7m69 0h7m249 0h7m-546 1h7m10 0h7m135 0h7m333 0h7m-253 2h7m-100 2h7m268 0h7m-452 1h7m370 0h7m-188 1h7m-87 1h7m411 0h7m-513 1h7m21 0h7m186 0h7m18 0h7m-321 5h7m106 0h7m79 0h7m80 0h7m-139 1h7m262 0h7m-285 1h7m-142 1h7m113 1h7m282 0h7m-297 1h7m254 1h7m146 0h7m-319 1h7m-153 1h7m28 0h7m219 0h7m-177 1h7m244 0h7m-371 1h7m226 0h7m146 2h7m36 1h7m-500 3h7m2 0h7m191 0h7m172 1h7m-290 1h7m29 0h7m116 0h7m-207 1h7m437 0h7m154 0h7m-229 1h7m130 0h7m-295 1h7m-55 1h7m-244 1h7m-9 1h7m513 0h7m20 2h7m-390 1h7m60 0h7m340 0h7m-558 1h7m113 0h7m-158 1h7m44 0h7m281 0h7m-6 2h7m144 0h7m-367 1h7m98 1h7m-226 4h7m242 2h7m280 0h7m-581 1h7m326 0h7m1 1h7m144 2h7m130 2h7m-412 1h7m277 0h7m13 0h7m-481 3h7m339 0h7m18 4h7m-310 2h7m307 3h7m72 0h7m-158 2h7m73 0h7m144 0h7m-206 2h7m-178 1h7m233 4h7m-22 1h7m-292 1h7m154 0h7m105 1h7m125 1h7m-404 1h7m73 0h7m67 0h7m-169 1h7m67 2h7m412 3h7m-39 3h7m-296 1h7m236 2h7m-159 3h7m19 0h7m-132 1h7m-77 5h7m-119 1h7m497 0h7m-94 2h7m-135 1h7m-148 1h7m100 0h7m46 0h7m106 0h7m-435 2h7m74 0h7m207 0h7m78 0h7m-208 1h7m144 0h7m-22 5h7m85 0h7m-179 3h7m9 1h7m73 0h7m182 0h7m-256 3h7m87 3h7m-53 2h7m190 0h7m-275 1h7m99 0h7m114 0h7m-116 1h7m98 0h7m-163 1h7m52 0h7m153 0h7m-260 1h7m98 3h7m-88 1h7m102 2h7m114 2h7m-215 1h7m-86 1h7m139 1h7m-73 1h7m29 3h7m-36 1h7m64 0h7m-48 4h7m-245 1h7m-129 1h7m249 0h7m39 0h7m50 0h7m74 0h7m-212 3h7m114 0h7m104 0h7m-104 4h7m156 0h7m-168 1h7m17 2h7m9 0h7m37 1h7m-34 2h7m-527 1h7m297 1h7m72 2h7m-211 2h7m363 0h7m77 1h7m-161 2h7m21 3h7m26 0h7m-60 2h7m-456 2h7m417 0h7m73 1h7m-70 1h7m70 0h7m-11 1h7m-90 1h7m-389 1h7m372 2h7m35 0h7m94 0h7m-185 2h7m-148 6h7m158 0h7m7 1h7m127 1h7m-263 1h7m204 1h7m-207 3h7m32 0h7m82 2h7m-161 3h7m-251 7h7m281 0h7m15 1h7m32 0h7m52 0h7m-497 2h7m267 5h7m307 1h7m-118 2h7m-141 2h7m166 0h7m-555 2h7m366 0h7m236 0h7m-78 2h7m-231 1h7m26 3h7m251 4h7m-45 2h7m-94 1h7m-283 1h7m318 0h7m70 0h7m-76 4h7m-181 3h7m267 0h7m-60 1h7m-186 1h7m-76 1h7m284 2h7m-585 5h7m290 0h7m16 0h7m7 4h7m239 0h7m-224 1h7m-16 2h7m144 1h7m-352 3h7m-102 3h7m215 0h7m300 0h7m-475 10h7m323 0h7m115 3h7m-300 7h7m220 0h7m-5 0h7m-22 1h7m-422 3h7m-150 2h7m662 3h7m-35 3h7m-227 1h7m16 2h7m-7 3h7m-89 2h7m197 0h7m32 8h7m-636 3h7m547 4h7m-473 3h7m399 1h7m78 0h7" stroke="#1a1a1a" stroke-width="7" stroke-opacity="0.42" fill="none"/>
<rect x="18" y="41.5" width="75.5" height="74.8" fill="none" stroke="#111" stroke-width="1.6"/>
<line x1="55.5" y1="41.5" x2="55.5" y2="116.3" stroke="#111" stroke-width="1.35"/>
<line x1="18" y1="88.8" x2="93.5" y2="88.8" stroke="#111" stroke-width="1.35"/>
<line x1="19" y1="117.6" x2="93.5" y2="117.6" stroke="#111" stroke-width="1.4" stroke-dasharray="1.2 1.5" stroke-opacity=".75"/>
<line x1="17" y1="42.5" x2="17" y2="116.3" stroke="#222" stroke-width="0.9" stroke-dasharray="1 1.7" stroke-opacity=".55"/>
<rect x="98.2" y="41.5" width="75.3" height="74.8" fill="none" stroke="#111" stroke-width="1.6"/>
<line x1="136.2" y1="41.5" x2="136.2" y2="116.3" stroke="#111" stroke-width="1.35"/>
<line x1="98.2" y1="88.8" x2="173.5" y2="88.8" stroke="#111" stroke-width="1.35"/>
<line x1="99.2" y1="117.6" x2="173.5" y2="117.6" stroke="#111" stroke-width="1.4" stroke-dasharray="1.2 1.5" stroke-opacity=".75"/>
<line x1="97.2" y1="42.5" x2="97.2" y2="116.3" stroke="#222" stroke-width="0.9" stroke-dasharray="1 1.7" stroke-opacity=".55"/>
<rect x="178.2" y="41.5" width="75.3" height="74.8" fill="none" stroke="#111" stroke-width="1.6"/>
<line x1="216.4" y1="41.5" x2="216.4" y2="116.3" stroke="#111" stroke-width="1.35"/>
<line x1="178.2" y1="88.8" x2="253.5" y2="88.8" stroke="#111" stroke-width="1.35"/>
<line x1="179.2" y1="117.6" x2="253.5" y2="117.6" stroke="#111" stroke-width="1.4" stroke-dasharray="1.2 1.5" stroke-opacity=".75"/>
<line x1="177.2" y1="42.5" x2="177.2" y2="116.3" stroke="#222" stroke-width="0.9" stroke-dasharray="1 1.7" stroke-opacity=".55"/>
<rect x="274.6" y="41" width="75.8" height="75.3" fill="none" stroke="#111" stroke-width="1.6"/>
<line x1="312.6" y1="41" x2="312.6" y2="116.3" stroke="#111" stroke-width="1.35"/>
<line x1="274.6" y1="88.8" x2="350.4" y2="88.8" stroke="#111" stroke-width="1.35"/>
<line x1="275.6" y1="117.6" x2="350.4" y2="117.6" stroke="#111" stroke-width="1.4" stroke-dasharray="1.2 1.5" stroke-opacity=".75"/>
<line x1="273.6" y1="42" x2="273.6" y2="116.3" stroke="#222" stroke-width="0.9" stroke-dasharray="1 1.7" stroke-opacity=".55"/>
<rect x="354.8" y="41" width="76.2" height="75.3" fill="none" stroke="#111" stroke-width="1.6"/>
<line x1="392.9" y1="41" x2="392.9" y2="116.3" stroke="#111" stroke-width="1.35"/>
<line x1="354.8" y1="88.8" x2="431" y2="88.8" stroke="#111" stroke-width="1.35"/>
<line x1="355.8" y1="117.6" x2="431" y2="117.6" stroke="#111" stroke-width="1.4" stroke-dasharray="1.2 1.5" stroke-opacity=".75"/>
<line x1="353.8" y1="42" x2="353.8" y2="116.3" stroke="#222" stroke-width="0.9" stroke-dasharray="1 1.7" stroke-opacity=".55"/>
<rect x="435.1" y="41" width="75.8" height="75.3" fill="none" stroke="#111" stroke-width="1.6"/>
<line x1="472.8" y1="41" x2="472.8" y2="116.3" stroke="#111" stroke-width="1.35"/>
<line x1="435.1" y1="88.8" x2="510.9" y2="88.8" stroke="#111" stroke-width="1.35"/>
<line x1="436.1" y1="117.6" x2="510.9" y2="117.6" stroke="#111" stroke-width="1.4" stroke-dasharray="1.2 1.5" stroke-opacity=".75"/>
<line x1="434.1" y1="42" x2="434.1" y2="116.3" stroke="#222" stroke-width="0.9" stroke-dasharray="1 1.7" stroke-opacity=".55"/>
<text x="278" y="50.4" font-size="9" text-anchor="start" font-weight="bold" fill="#000">10</text>
<text x="347.5" y="50.4" font-size="9" text-anchor="end" font-weight="bold" fill="#000">25</text>
<text x="278" y="98.6" font-size="9" text-anchor="start" font-weight="bold" fill="#000">62</text>
<text x="358.2" y="50.4" font-size="9" text-anchor="start" font-weight="bold" fill="#000">29</text>
<text x="428.1" y="50.4" font-size="9" text-anchor="end" font-weight="bold" fill="#000">35</text>
<text x="358.2" y="98.6" font-size="9" text-anchor="start" font-weight="bold" fill="#000">23</text>
<text x="438.5" y="50.4" font-size="9" text-anchor="start" font-weight="bold" fill="#000">30</text>
<text x="508" y="50.4" font-size="9" text-anchor="end" font-weight="bold" fill="#000">25</text>
<text x="438.5" y="98.6" font-size="9" text-anchor="start" font-weight="bold" fill="#000">38</text>
<text x="6.4" y="155.3" font-size="15.5" text-anchor="middle" font-weight="bold" fill="#111">B</text>
<text x="262.5" y="154.6" font-size="11.8" text-anchor="middle" font-weight="bold" fill="#111">CD21<tspan dy="-4" font-size="7.5">+</tspan><tspan dy="4"> B cells</tspan></text>
<line x1="13.4" y1="161.1" x2="510" y2="161.1" stroke="#111" stroke-width="2.1"/>
<text x="260" y="344.5" font-size="11.8" text-anchor="middle" font-weight="bold" fill="#111">CD21<tspan dy="-4.2" font-size="5.8">-/lo</tspan><tspan dy="4.2"> B cells</tspan></text>
<line x1="13" y1="351.4" x2="510.4" y2="351.4" stroke="#111" stroke-width="2.1"/>
<text x="37" y="176" font-size="10.4" text-anchor="middle" font-weight="bold" fill="#111">HD10</text>
<text x="3.6" y="184.1" font-size="5.5" font-weight="normal" fill="#2a2a2a">OD<tspan dy="1.5" font-size="4.9">405</tspan></text>
<text x="12" y="255.6" font-size="5.8" text-anchor="end" font-weight="normal" fill="#222">0</text>
<line x1="13.2" y1="253.5" x2="15.4" y2="253.5" stroke="#111" stroke-width="0.8"/>
<text x="12" y="239.6" font-size="5.8" text-anchor="end" font-weight="normal" fill="#222">1</text>
<line x1="13.2" y1="237.5" x2="15.4" y2="237.5" stroke="#111" stroke-width="0.8"/>
<text x="12" y="223.5" font-size="5.8" text-anchor="end" font-weight="normal" fill="#222">2</text>
<line x1="13.2" y1="221.4" x2="15.4" y2="221.4" stroke="#111" stroke-width="0.8"/>
<text x="12" y="207.5" font-size="5.8" text-anchor="end" font-weight="normal" fill="#222">3</text>
<line x1="13.2" y1="205.4" x2="15.4" y2="205.4" stroke="#111" stroke-width="0.8"/>
<text x="12" y="191.5" font-size="5.8" text-anchor="end" font-weight="normal" fill="#222">4</text>
<line x1="13.2" y1="189.4" x2="15.4" y2="189.4" stroke="#111" stroke-width="0.8"/>
<text x="15.8" y="262.1" font-size="5.3" text-anchor="middle" font-weight="normal" fill="#222">0.1</text>
<text x="32.5" y="262.1" font-size="5.3" text-anchor="middle" font-weight="normal" fill="#222">1</text>
<text x="49.8" y="262.1" font-size="5.3" text-anchor="middle" font-weight="normal" fill="#222">10</text>
<text x="54.2" y="262.1" font-size="5.1" text-anchor="start" font-weight="normal" fill="#222">µg/mL</text>
<line x1="15.4" y1="253.5" x2="15.4" y2="255.5" stroke="#111" stroke-width="0.7"/>
<line x1="32.5" y1="253.5" x2="32.5" y2="255.5" stroke="#111" stroke-width="0.7"/>
<line x1="49.3" y1="253.5" x2="49.3" y2="255.5" stroke="#111" stroke-width="0.7"/>
<line x1="64.4" y1="253.5" x2="64.4" y2="255.5" stroke="#111" stroke-width="0.7"/>
<line x1="10.9" y1="246.8" x2="56.9" y2="246.8" stroke="#1a1a1a" stroke-width="1.2"/>
<path d="M27.4 252.9L36.6 252.4L45.7 251L54.9 247.8M27.4 252.8L36.6 252.8L45.7 251.8L54.9 250.6M27.4 252.2L36.6 251.9L45.7 251.7L54.9 250.8M27.4 250.3L36.6 250.3L45.7 249.7L54.9 248.9M27.4 251.4L36.6 251.3L45.7 251L54.9 250.4M27.4 252.3L36.6 252.4L45.7 252.1L54.9 252M27.4 250.7L36.6 250.3L45.7 250.2L54.9 249.1M27.4 252.3L36.6 252.1L45.7 251.4L54.9 248.9M27.4 251.3L36.6 251.3L45.7 249.9L54.9 248.3M27.4 252.8L36.6 252.2L45.7 251.8L54.9 251.1M27.4 250.3L36.6 250.4L45.7 250.3L54.9 249.9M27.4 252L36.6 251.8L45.7 251.2L54.9 250.2M27.4 251.8L36.6 251.5L45.7 251.3L54.9 250.9M27.4 252.6L36.6 252.7L45.7 252L54.9 251M27.4 250.8L36.6 250.9L45.7 250.8L54.9 250.5M27.4 250.6L36.6 250.8L45.7 250.2L54.9 249.2M27.4 252.3L36.6 252.6L45.7 251.4L54.9 250.6M27.4 251L36.6 251L45.7 250.3L54.9 248.7M27.4 252.4L36.6 252.3L45.7 252.2L54.9 252M27.4 251.1L36.6 243.9L45.7 230.3L54.9 216.6M27.4 251.9L36.6 250.3L45.7 243.1L54.9 229.5M27.4 252.2L36.6 251.1L45.7 247.1L54.9 239.1M27.4 252.5L36.6 251.6L45.7 248.7L54.9 243.6" fill="none" stroke="#0a0a0a" stroke-width="1.45" stroke-linejoin="round"/>
<path d="M27.4 251l1.9 1.9l-1.9 1.9l-1.9-1.9zM36.6 250.5l1.9 1.9l-1.9 1.9l-1.9-1.9zM45.7 249.1l1.9 1.9l-1.9 1.9l-1.9-1.9zM54.9 245.9l1.9 1.9l-1.9 1.9l-1.9-1.9zM27.4 250.9l1.9 1.9l-1.9 1.9l-1.9-1.9zM36.6 250.9l1.9 1.9l-1.9 1.9l-1.9-1.9zM45.7 249.9l1.9 1.9l-1.9 1.9l-1.9-1.9zM54.9 248.7l1.9 1.9l-1.9 1.9l-1.9-1.9zM27.4 250.3l1.9 1.9l-1.9 1.9l-1.9-1.9zM36.6 250l1.9 1.9l-1.9 1.9l-1.9-1.9zM45.7 249.8l1.9 1.9l-1.9 1.9l-1.9-1.9zM54.9 248.9l1.9 1.9l-1.9 1.9l-1.9-1.9zM27.4 248.4l1.9 1.9l-1.9 1.9l-1.9-1.9zM36.6 248.4l1.9 1.9l-1.9 1.9l-1.9-1.9zM45.7 247.8l1.9 1.9l-1.9 1.9l-1.9-1.9zM54.9 247l1.9 1.9l-1.9 1.9l-1.9-1.9zM27.4 249.5l1.9 1.9l-1.9 1.9l-1.9-1.9zM36.6 249.4l1.9 1.9l-1.9 1.9l-1.9-1.9zM45.7 249.1l1.9 1.9l-1.9 1.9l-1.9-1.9zM54.9 248.5l1.9 1.9l-1.9 1.9l-1.9-1.9zM27.4 250.4l1.9 1.9l-1.9 1.9l-1.9-1.9zM36.6 250.5l1.9 1.9l-1.9 1.9l-1.9-1.9zM45.7 250.2l1.9 1.9l-1.9 1.9l-1.9-1.9zM54.9 250.1l1.9 1.9l-1.9 1.9l-1.9-1.9zM27.4 248.8l1.9 1.9l-1.9 1.9l-1.9-1.9zM36.6 248.4l1.9 1.9l-1.9 1.9l-1.9-1.9zM45.7 248.3l1.9 1.9l-1.9 1.9l-1.9-1.9zM54.9 247.2l1.9 1.9l-1.9 1.9l-1.9-1.9zM27.4 250.4l1.9 1.9l-1.9 1.9l-1.9-1.9zM36.6 250.2l1.9 1.9l-1.9 1.9l-1.9-1.9zM45.7 249.5l1.9 1.9l-1.9 1.9l-1.9-1.9zM54.9 247l1.9 1.9l-1.9 1.9l-1.9-1.9zM27.4 249.4l1.9 1.9l-1.9 1.9l-1.9-1.9zM36.6 249.4l1.9 1.9l-1.9 1.9l-1.9-1.9zM45.7 248l1.9 1.9l-1.9 1.9l-1.9-1.9zM54.9 246.4l1.9 1.9l-1.9 1.9l-1.9-1.9zM27.4 250.9l1.9 1.9l-1.9 1.9l-1.9-1.9zM36.6 250.3l1.9 1.9l-1.9 1.9l-1.9-1.9zM45.7 249.9l1.9 1.9l-1.9 1.9l-1.9-1.9zM54.9 249.2l1.9 1.9l-1.9 1.9l-1.9-1.9zM27.4 248.4l1.9 1.9l-1.9 1.9l-1.9-1.9zM36.6 248.5l1.9 1.9l-1.9 1.9l-1.9-1.9zM45.7 248.4l1.9 1.9l-1.9 1.9l-1.9-1.9zM54.9 248l1.9 1.9l-1.9 1.9l-1.9-1.9zM27.4 250.1l1.9 1.9l-1.9 1.9l-1.9-1.9zM36.6 249.9l1.9 1.9l-1.9 1.9l-1.9-1.9zM45.7 249.3l1.9 1.9l-1.9 1.9l-1.9-1.9zM54.9 248.3l1.9 1.9l-1.9 1.9l-1.9-1.9zM27.4 249.9l1.9 1.9l-1.9 1.9l-1.9-1.9zM36.6 249.6l1.9 1.9l-1.9 1.9l-1.9-1.9zM45.7 249.4l1.9 1.9l-1.9 1.9l-1.9-1.9zM54.9 249l1.9 1.9l-1.9 1.9l-1.9-1.9zM27.4 250.7l1.9 1.9l-1.9 1.9l-1.9-1.9zM36.6 250.8l1.9 1.9l-1.9 1.9l-1.9-1.9zM45.7 250.1l1.9 1.9l-1.9 1.9l-1.9-1.9zM54.9 249.1l1.9 1.9l-1.9 1.9l-1.9-1.9zM27.4 248.9l1.9 1.9l-1.9 1.9l-1.9-1.9zM36.6 249l1.9 1.9l-1.9 1.9l-1.9-1.9zM45.7 248.9l1.9 1.9l-1.9 1.9l-1.9-1.9zM54.9 248.6l1.9 1.9l-1.9 1.9l-1.9-1.9zM27.4 248.7l1.9 1.9l-1.9 1.9l-1.9-1.9zM36.6 248.9l1.9 1.9l-1.9 1.9l-1.9-1.9zM45.7 248.3l1.9 1.9l-1.9 1.9l-1.9-1.9zM54.9 247.3l1.9 1.9l-1.9 1.9l-1.9-1.9zM27.4 250.4l1.9 1.9l-1.9 1.9l-1.9-1.9zM36.6 250.7l1.9 1.9l-1.9 1.9l-1.9-1.9zM45.7 249.5l1.9 1.9l-1.9 1.9l-1.9-1.9zM54.9 248.7l1.9 1.9l-1.9 1.9l-1.9-1.9zM27.4 249.1l1.9 1.9l-1.9 1.9l-1.9-1.9zM36.6 249.1l1.9 1.9l-1.9 1.9l-1.9-1.9zM45.7 248.4l1.9 1.9l-1.9 1.9l-1.9-1.9zM54.9 246.8l1.9 1.9l-1.9 1.9l-1.9-1.9zM27.4 250.5l1.9 1.9l-1.9 1.9l-1.9-1.9zM36.6 250.4l1.9 1.9l-1.9 1.9l-1.9-1.9zM45.7 250.3l1.9 1.9l-1.9 1.9l-1.9-1.9zM54.9 250.1l1.9 1.9l-1.9 1.9l-1.9-1.9zM27.4 249.2l1.9 1.9l-1.9 1.9l-1.9-1.9zM36.6 242l1.9 1.9l-1.9 1.9l-1.9-1.9zM45.7 228.4l1.9 1.9l-1.9 1.9l-1.9-1.9zM54.9 214.7l1.9 1.9l-1.9 1.9l-1.9-1.9zM27.4 250l1.9 1.9l-1.9 1.9l-1.9-1.9zM36.6 248.4l1.9 1.9l-1.9 1.9l-1.9-1.9zM45.7 241.2l1.9 1.9l-1.9 1.9l-1.9-1.9zM54.9 227.6l1.9 1.9l-1.9 1.9l-1.9-1.9zM27.4 250.3l1.9 1.9l-1.9 1.9l-1.9-1.9zM36.6 249.2l1.9 1.9l-1.9 1.9l-1.9-1.9zM45.7 245.2l1.9 1.9l-1.9 1.9l-1.9-1.9zM54.9 237.2l1.9 1.9l-1.9 1.9l-1.9-1.9zM27.4 250.6l1.9 1.9l-1.9 1.9l-1.9-1.9zM36.6 249.7l1.9 1.9l-1.9 1.9l-1.9-1.9zM45.7 246.8l1.9 1.9l-1.9 1.9l-1.9-1.9zM54.9 241.7l1.9 1.9l-1.9 1.9l-1.9-1.9z" fill="#0a0a0a" stroke="#0a0a0a" stroke-width=".5" stroke-linejoin="round"/>
<path d="M27.4 246.3L36.6 231.7L45.7 207L54.9 189.4" fill="none" stroke="#111" stroke-width=".8" stroke-dasharray="1.3 .9"/>
<path d="M27.4 244.4l1.9 1.9l-1.9 1.9l-1.9-1.9zM36.6 229.8l1.9 1.9l-1.9 1.9l-1.9-1.9zM45.7 205.1l1.9 1.9l-1.9 1.9l-1.9-1.9zM54.9 187.5l1.9 1.9l-1.9 1.9l-1.9-1.9z" fill="#111" stroke="#111" stroke-width=".4" stroke-linejoin="round"/>
<line x1="15.4" y1="188.9" x2="15.4" y2="254.2" stroke="#111" stroke-width="1.5"/>
<line x1="14.7" y1="253.5" x2="64.9" y2="253.5" stroke="#111" stroke-width="1.6"/>
<text x="106.5" y="176" font-size="10.4" text-anchor="middle" font-weight="bold" fill="#111">HD11</text>
<text x="70.4" y="183.3" font-size="5.5" font-weight="normal" fill="#2a2a2a">OD<tspan dy="1.5" font-size="4.9">405</tspan></text>
<text x="80.6" y="254.9" font-size="5.8" text-anchor="end" font-weight="normal" fill="#222">0</text>
<line x1="81.8" y1="252.8" x2="84" y2="252.8" stroke="#111" stroke-width="0.8"/>
<text x="80.6" y="238.8" font-size="5.8" text-anchor="end" font-weight="normal" fill="#222">1</text>
<line x1="81.8" y1="236.8" x2="84" y2="236.8" stroke="#111" stroke-width="0.8"/>
<text x="80.6" y="222.8" font-size="5.8" text-anchor="end" font-weight="normal" fill="#222">2</text>
<line x1="81.8" y1="220.7" x2="84" y2="220.7" stroke="#111" stroke-width="0.8"/>
<text x="80.6" y="206.8" font-size="5.8" text-anchor="end" font-weight="normal" fill="#222">3</text>
<line x1="81.8" y1="204.7" x2="84" y2="204.7" stroke="#111" stroke-width="0.8"/>
<text x="80.6" y="190.7" font-size="5.8" text-anchor="end" font-weight="normal" fill="#222">4</text>
<line x1="81.8" y1="188.6" x2="84" y2="188.6" stroke="#111" stroke-width="0.8"/>
<text x="83.6" y="261.4" font-size="5.3" text-anchor="middle" font-weight="normal" fill="#222">0.1</text>
<text x="99.6" y="261.4" font-size="5.3" text-anchor="middle" font-weight="normal" fill="#222">1</text>
<text x="117.6" y="261.4" font-size="5.3" text-anchor="middle" font-weight="normal" fill="#222">10</text>
<text x="121.2" y="261.4" font-size="5.1" text-anchor="start" font-weight="normal" fill="#222">µg/mL</text>
<line x1="84" y1="252.8" x2="84" y2="254.8" stroke="#111" stroke-width="0.7"/>
<line x1="99.6" y1="252.8" x2="99.6" y2="254.8" stroke="#111" stroke-width="0.7"/>
<line x1="117.1" y1="252.8" x2="117.1" y2="254.8" stroke="#111" stroke-width="0.7"/>
<line x1="133" y1="252.8" x2="133" y2="254.8" stroke="#111" stroke-width="0.7"/>
<line x1="84" y1="246.1" x2="125.5" y2="246.1" stroke="#1a1a1a" stroke-width="1.2"/>
<path d="M91.4 251.5L101.4 251.8L111.4 251.2L121.6 246.2M91.4 251.8L101.4 252L111.4 251.5L121.6 250.7M91.4 252.1L101.4 252.1L111.4 251.6L121.6 249.9M91.4 251.7L101.4 251.8L111.4 249.7L121.6 245.9M91.4 252.2L101.4 251.7L111.4 250.4L121.6 242.8M91.4 251.9L101.4 251.9L111.4 251L121.6 250M91.4 252L101.4 251.9L111.4 251.6L121.6 249.9M91.4 251.8L101.4 251.8L111.4 251.3L121.6 251.3M91.4 252L101.4 251.9L111.4 249.8L121.6 242.1M91.4 251.7L101.4 251.5L111.4 251.3L121.6 250.3M91.4 252L101.4 251.5L111.4 250.5L121.6 246.9M91.4 252.1L101.4 252.1L111.4 251.2L121.6 245.4M91.4 251.8L101.4 251.6L111.4 251.9L121.6 251.6M91.4 252.2L101.4 252L111.4 251.5L121.6 249.4M91.4 251.9L101.4 251.6L111.4 250.4L121.6 244.2M91.4 251.9L101.4 251.6L111.4 250L121.6 242.6M91.4 251.8L101.4 251.8L111.4 251.4L121.6 248.7M91.4 251.8L101.4 251.6L111.4 250.4L121.6 246.4M91.4 252.1L101.4 252L111.4 249.5L121.6 243.2M91.4 252.3L101.4 250.4L111.4 239.2L121.6 223.1M91.4 252.3L101.4 251.2L111.4 246.4L121.6 237.6M91.4 252.3L101.4 251.2L111.4 248L121.6 241.9" fill="none" stroke="#0a0a0a" stroke-width="1.45" stroke-linejoin="round"/>
<path d="M91.4 249.6l1.9 1.9l-1.9 1.9l-1.9-1.9zM101.4 249.9l1.9 1.9l-1.9 1.9l-1.9-1.9zM111.4 249.3l1.9 1.9l-1.9 1.9l-1.9-1.9zM121.6 244.3l1.9 1.9l-1.9 1.9l-1.9-1.9zM91.4 249.9l1.9 1.9l-1.9 1.9l-1.9-1.9zM101.4 250.1l1.9 1.9l-1.9 1.9l-1.9-1.9zM111.4 249.6l1.9 1.9l-1.9 1.9l-1.9-1.9zM121.6 248.8l1.9 1.9l-1.9 1.9l-1.9-1.9zM91.4 250.2l1.9 1.9l-1.9 1.9l-1.9-1.9zM101.4 250.2l1.9 1.9l-1.9 1.9l-1.9-1.9zM111.4 249.7l1.9 1.9l-1.9 1.9l-1.9-1.9zM121.6 248l1.9 1.9l-1.9 1.9l-1.9-1.9zM91.4 249.8l1.9 1.9l-1.9 1.9l-1.9-1.9zM101.4 249.9l1.9 1.9l-1.9 1.9l-1.9-1.9zM111.4 247.8l1.9 1.9l-1.9 1.9l-1.9-1.9zM121.6 244l1.9 1.9l-1.9 1.9l-1.9-1.9zM91.4 250.3l1.9 1.9l-1.9 1.9l-1.9-1.9zM101.4 249.8l1.9 1.9l-1.9 1.9l-1.9-1.9zM111.4 248.5l1.9 1.9l-1.9 1.9l-1.9-1.9zM121.6 240.9l1.9 1.9l-1.9 1.9l-1.9-1.9zM91.4 250l1.9 1.9l-1.9 1.9l-1.9-1.9zM101.4 250l1.9 1.9l-1.9 1.9l-1.9-1.9zM111.4 249.1l1.9 1.9l-1.9 1.9l-1.9-1.9zM121.6 248.1l1.9 1.9l-1.9 1.9l-1.9-1.9zM91.4 250.1l1.9 1.9l-1.9 1.9l-1.9-1.9zM101.4 250l1.9 1.9l-1.9 1.9l-1.9-1.9zM111.4 249.7l1.9 1.9l-1.9 1.9l-1.9-1.9zM121.6 248l1.9 1.9l-1.9 1.9l-1.9-1.9zM91.4 249.9l1.9 1.9l-1.9 1.9l-1.9-1.9zM101.4 249.9l1.9 1.9l-1.9 1.9l-1.9-1.9zM111.4 249.4l1.9 1.9l-1.9 1.9l-1.9-1.9zM121.6 249.4l1.9 1.9l-1.9 1.9l-1.9-1.9zM91.4 250.1l1.9 1.9l-1.9 1.9l-1.9-1.9zM101.4 250l1.9 1.9l-1.9 1.9l-1.9-1.9zM111.4 247.9l1.9 1.9l-1.9 1.9l-1.9-1.9zM121.6 240.2l1.9 1.9l-1.9 1.9l-1.9-1.9zM91.4 249.8l1.9 1.9l-1.9 1.9l-1.9-1.9zM101.4 249.6l1.9 1.9l-1.9 1.9l-1.9-1.9zM111.4 249.4l1.9 1.9l-1.9 1.9l-1.9-1.9zM121.6 248.4l1.9 1.9l-1.9 1.9l-1.9-1.9zM91.4 250.1l1.9 1.9l-1.9 1.9l-1.9-1.9zM101.4 249.6l1.9 1.9l-1.9 1.9l-1.9-1.9zM111.4 248.6l1.9 1.9l-1.9 1.9l-1.9-1.9zM121.6 245l1.9 1.9l-1.9 1.9l-1.9-1.9zM91.4 250.2l1.9 1.9l-1.9 1.9l-1.9-1.9zM101.4 250.2l1.9 1.9l-1.9 1.9l-1.9-1.9zM111.4 249.3l1.9 1.9l-1.9 1.9l-1.9-1.9zM121.6 243.5l1.9 1.9l-1.9 1.9l-1.9-1.9zM91.4 249.9l1.9 1.9l-1.9 1.9l-1.9-1.9zM101.4 249.7l1.9 1.9l-1.9 1.9l-1.9-1.9zM111.4 250l1.9 1.9l-1.9 1.9l-1.9-1.9zM121.6 249.7l1.9 1.9l-1.9 1.9l-1.9-1.9zM91.4 250.3l1.9 1.9l-1.9 1.9l-1.9-1.9zM101.4 250.1l1.9 1.9l-1.9 1.9l-1.9-1.9zM111.4 249.6l1.9 1.9l-1.9 1.9l-1.9-1.9zM121.6 247.5l1.9 1.9l-1.9 1.9l-1.9-1.9zM91.4 250l1.9 1.9l-1.9 1.9l-1.9-1.9zM101.4 249.7l1.9 1.9l-1.9 1.9l-1.9-1.9zM111.4 248.5l1.9 1.9l-1.9 1.9l-1.9-1.9zM121.6 242.3l1.9 1.9l-1.9 1.9l-1.9-1.9zM91.4 250l1.9 1.9l-1.9 1.9l-1.9-1.9zM101.4 249.7l1.9 1.9l-1.9 1.9l-1.9-1.9zM111.4 248.1l1.9 1.9l-1.9 1.9l-1.9-1.9zM121.6 240.7l1.9 1.9l-1.9 1.9l-1.9-1.9zM91.4 249.9l1.9 1.9l-1.9 1.9l-1.9-1.9zM101.4 249.9l1.9 1.9l-1.9 1.9l-1.9-1.9zM111.4 249.5l1.9 1.9l-1.9 1.9l-1.9-1.9zM121.6 246.8l1.9 1.9l-1.9 1.9l-1.9-1.9zM91.4 249.9l1.9 1.9l-1.9 1.9l-1.9-1.9zM101.4 249.7l1.9 1.9l-1.9 1.9l-1.9-1.9zM111.4 248.5l1.9 1.9l-1.9 1.9l-1.9-1.9zM121.6 244.5l1.9 1.9l-1.9 1.9l-1.9-1.9zM91.4 250.2l1.9 1.9l-1.9 1.9l-1.9-1.9zM101.4 250.1l1.9 1.9l-1.9 1.9l-1.9-1.9zM111.4 247.6l1.9 1.9l-1.9 1.9l-1.9-1.9zM121.6 241.3l1.9 1.9l-1.9 1.9l-1.9-1.9zM91.4 250.4l1.9 1.9l-1.9 1.9l-1.9-1.9zM101.4 248.5l1.9 1.9l-1.9 1.9l-1.9-1.9zM111.4 237.3l1.9 1.9l-1.9 1.9l-1.9-1.9zM121.6 221.2l1.9 1.9l-1.9 1.9l-1.9-1.9zM91.4 250.4l1.9 1.9l-1.9 1.9l-1.9-1.9zM101.4 249.3l1.9 1.9l-1.9 1.9l-1.9-1.9zM111.4 244.5l1.9 1.9l-1.9 1.9l-1.9-1.9zM121.6 235.7l1.9 1.9l-1.9 1.9l-1.9-1.9zM91.4 250.4l1.9 1.9l-1.9 1.9l-1.9-1.9zM101.4 249.3l1.9 1.9l-1.9 1.9l-1.9-1.9zM111.4 246.1l1.9 1.9l-1.9 1.9l-1.9-1.9zM121.6 240l1.9 1.9l-1.9 1.9l-1.9-1.9z" fill="#0a0a0a" stroke="#0a0a0a" stroke-width=".5" stroke-linejoin="round"/>
<path d="M91.4 244L101.4 229.5L111.4 205.5L121.6 188.6" fill="none" stroke="#111" stroke-width=".8" stroke-dasharray="1.3 .9"/>
<path d="M91.4 242.1l1.9 1.9l-1.9 1.9l-1.9-1.9zM101.4 227.6l1.9 1.9l-1.9 1.9l-1.9-1.9zM111.4 203.6l1.9 1.9l-1.9 1.9l-1.9-1.9zM121.6 186.7l1.9 1.9l-1.9 1.9l-1.9-1.9z" fill="#111" stroke="#111" stroke-width=".4" stroke-linejoin="round"/>
<line x1="84" y1="188.1" x2="84" y2="253.5" stroke="#111" stroke-width="1.5"/>
<line x1="83.3" y1="252.8" x2="133.5" y2="252.8" stroke="#111" stroke-width="1.6"/>
<text x="171.8" y="175.8" font-size="10.4" text-anchor="middle" font-weight="bold" fill="#111">RA01</text>
<text x="136.2" y="183.3" font-size="5.5" font-weight="normal" fill="#2a2a2a">OD<tspan dy="1.5" font-size="4.9">405</tspan></text>
<text x="146.4" y="254.9" font-size="5.8" text-anchor="end" font-weight="normal" fill="#222">0</text>
<line x1="147.6" y1="252.8" x2="149.8" y2="252.8" stroke="#111" stroke-width="0.8"/>
<text x="146.4" y="238.8" font-size="5.8" text-anchor="end" font-weight="normal" fill="#222">1</text>
<line x1="147.6" y1="236.8" x2="149.8" y2="236.8" stroke="#111" stroke-width="0.8"/>
<text x="146.4" y="222.8" font-size="5.8" text-anchor="end" font-weight="normal" fill="#222">2</text>
<line x1="147.6" y1="220.7" x2="149.8" y2="220.7" stroke="#111" stroke-width="0.8"/>
<text x="146.4" y="206.8" font-size="5.8" text-anchor="end" font-weight="normal" fill="#222">3</text>
<line x1="147.6" y1="204.7" x2="149.8" y2="204.7" stroke="#111" stroke-width="0.8"/>
<text x="146.4" y="190.7" font-size="5.8" text-anchor="end" font-weight="normal" fill="#222">4</text>
<line x1="147.6" y1="188.6" x2="149.8" y2="188.6" stroke="#111" stroke-width="0.8"/>
<text x="149.4" y="261.4" font-size="5.3" text-anchor="middle" font-weight="normal" fill="#222">0.1</text>
<text x="165.4" y="261.4" font-size="5.3" text-anchor="middle" font-weight="normal" fill="#222">1</text>
<text x="182.3" y="261.4" font-size="5.3" text-anchor="middle" font-weight="normal" fill="#222">10</text>
<text x="185.5" y="261.4" font-size="5.1" text-anchor="start" font-weight="normal" fill="#222">µg/mL</text>
<line x1="149.8" y1="252.8" x2="149.8" y2="254.8" stroke="#111" stroke-width="0.7"/>
<line x1="165.4" y1="252.8" x2="165.4" y2="254.8" stroke="#111" stroke-width="0.7"/>
<line x1="181.8" y1="252.8" x2="181.8" y2="254.8" stroke="#111" stroke-width="0.7"/>
<line x1="198.8" y1="252.8" x2="198.8" y2="254.8" stroke="#111" stroke-width="0.7"/>
<line x1="146.8" y1="246.1" x2="191.3" y2="246.1" stroke="#1a1a1a" stroke-width="1.2"/>
<path d="M160.4 250L169.7 249.9L179 249.5L188.2 249M160.4 251.8L169.7 251.7L179 251.2L188.2 250.3M160.4 251.6L169.7 251.3L179 250.9L188.2 248.5M160.4 251.3L169.7 251.5L179 251.3L188.2 250.9M160.4 251.5L169.7 250.9L179 250.6L188.2 250.1M160.4 251.9L169.7 251.5L179 250.9L188.2 248.3M160.4 249.1L169.7 248.6L179 248.7L188.2 247.3M160.4 252L169.7 251.7L179 252L188.2 251.4M160.4 252.2L169.7 251.8L179 251.5L188.2 250.4M160.4 250.9L169.7 250.8L179 249.8L188.2 248.8M160.4 250.3L169.7 250.3L179 248.5L188.2 247.3M160.4 251.6L169.7 251.8L179 251.9L188.2 251.6M160.4 252.1L169.7 251.9L179 251.8L188.2 251.5M160.4 249.5L169.7 249.4L179 248.6L188.2 247.5M160.4 251.2L169.7 249.6L179 240L188.2 226.8M160.4 251.2L169.7 249.6L179 240.8L188.2 228.7M160.4 251.2L169.7 250.4L179 242.4L188.2 230.7M160.4 251.5L169.7 250.4L179 244L188.2 232.7M160.4 251.5L169.7 250.9L179 246.4L188.2 237.6M160.4 251.5L169.7 250.9L179 248L188.2 245.6" fill="none" stroke="#0a0a0a" stroke-width="1.45" stroke-linejoin="round"/>
<path d="M160.4 248.1l1.9 1.9l-1.9 1.9l-1.9-1.9zM169.7 248l1.9 1.9l-1.9 1.9l-1.9-1.9zM179 247.6l1.9 1.9l-1.9 1.9l-1.9-1.9zM188.2 247.1l1.9 1.9l-1.9 1.9l-1.9-1.9zM160.4 249.9l1.9 1.9l-1.9 1.9l-1.9-1.9zM169.7 249.8l1.9 1.9l-1.9 1.9l-1.9-1.9zM179 249.3l1.9 1.9l-1.9 1.9l-1.9-1.9zM188.2 248.4l1.9 1.9l-1.9 1.9l-1.9-1.9zM160.4 249.7l1.9 1.9l-1.9 1.9l-1.9-1.9zM169.7 249.4l1.9 1.9l-1.9 1.9l-1.9-1.9zM179 249l1.9 1.9l-1.9 1.9l-1.9-1.9zM188.2 246.6l1.9 1.9l-1.9 1.9l-1.9-1.9zM160.4 249.4l1.9 1.9l-1.9 1.9l-1.9-1.9zM169.7 249.6l1.9 1.9l-1.9 1.9l-1.9-1.9zM179 249.4l1.9 1.9l-1.9 1.9l-1.9-1.9zM188.2 249l1.9 1.9l-1.9 1.9l-1.9-1.9zM160.4 249.6l1.9 1.9l-1.9 1.9l-1.9-1.9zM169.7 249l1.9 1.9l-1.9 1.9l-1.9-1.9zM179 248.7l1.9 1.9l-1.9 1.9l-1.9-1.9zM188.2 248.2l1.9 1.9l-1.9 1.9l-1.9-1.9zM160.4 250l1.9 1.9l-1.9 1.9l-1.9-1.9zM169.7 249.6l1.9 1.9l-1.9 1.9l-1.9-1.9zM179 249l1.9 1.9l-1.9 1.9l-1.9-1.9zM188.2 246.4l1.9 1.9l-1.9 1.9l-1.9-1.9zM160.4 247.2l1.9 1.9l-1.9 1.9l-1.9-1.9zM169.7 246.7l1.9 1.9l-1.9 1.9l-1.9-1.9zM179 246.8l1.9 1.9l-1.9 1.9l-1.9-1.9zM188.2 245.4l1.9 1.9l-1.9 1.9l-1.9-1.9zM160.4 250.1l1.9 1.9l-1.9 1.9l-1.9-1.9zM169.7 249.8l1.9 1.9l-1.9 1.9l-1.9-1.9zM179 250.1l1.9 1.9l-1.9 1.9l-1.9-1.9zM188.2 249.5l1.9 1.9l-1.9 1.9l-1.9-1.9zM160.4 250.3l1.9 1.9l-1.9 1.9l-1.9-1.9zM169.7 249.9l1.9 1.9l-1.9 1.9l-1.9-1.9zM179 249.6l1.9 1.9l-1.9 1.9l-1.9-1.9zM188.2 248.5l1.9 1.9l-1.9 1.9l-1.9-1.9zM160.4 249l1.9 1.9l-1.9 1.9l-1.9-1.9zM169.7 248.9l1.9 1.9l-1.9 1.9l-1.9-1.9zM179 247.9l1.9 1.9l-1.9 1.9l-1.9-1.9zM188.2 246.9l1.9 1.9l-1.9 1.9l-1.9-1.9zM160.4 248.4l1.9 1.9l-1.9 1.9l-1.9-1.9zM169.7 248.4l1.9 1.9l-1.9 1.9l-1.9-1.9zM179 246.6l1.9 1.9l-1.9 1.9l-1.9-1.9zM188.2 245.4l1.9 1.9l-1.9 1.9l-1.9-1.9zM160.4 249.7l1.9 1.9l-1.9 1.9l-1.9-1.9zM169.7 249.9l1.9 1.9l-1.9 1.9l-1.9-1.9zM179 250l1.9 1.9l-1.9 1.9l-1.9-1.9zM188.2 249.7l1.9 1.9l-1.9 1.9l-1.9-1.9zM160.4 250.2l1.9 1.9l-1.9 1.9l-1.9-1.9zM169.7 250l1.9 1.9l-1.9 1.9l-1.9-1.9zM179 249.9l1.9 1.9l-1.9 1.9l-1.9-1.9zM188.2 249.6l1.9 1.9l-1.9 1.9l-1.9-1.9zM160.4 247.6l1.9 1.9l-1.9 1.9l-1.9-1.9zM169.7 247.5l1.9 1.9l-1.9 1.9l-1.9-1.9zM179 246.7l1.9 1.9l-1.9 1.9l-1.9-1.9zM188.2 245.6l1.9 1.9l-1.9 1.9l-1.9-1.9zM160.4 249.3l1.9 1.9l-1.9 1.9l-1.9-1.9zM169.7 247.7l1.9 1.9l-1.9 1.9l-1.9-1.9zM179 238.1l1.9 1.9l-1.9 1.9l-1.9-1.9zM188.2 224.9l1.9 1.9l-1.9 1.9l-1.9-1.9zM160.4 249.3l1.9 1.9l-1.9 1.9l-1.9-1.9zM169.7 247.7l1.9 1.9l-1.9 1.9l-1.9-1.9zM179 238.9l1.9 1.9l-1.9 1.9l-1.9-1.9zM188.2 226.8l1.9 1.9l-1.9 1.9l-1.9-1.9zM160.4 249.3l1.9 1.9l-1.9 1.9l-1.9-1.9zM169.7 248.5l1.9 1.9l-1.9 1.9l-1.9-1.9zM179 240.5l1.9 1.9l-1.9 1.9l-1.9-1.9zM188.2 228.8l1.9 1.9l-1.9 1.9l-1.9-1.9zM160.4 249.6l1.9 1.9l-1.9 1.9l-1.9-1.9zM169.7 248.5l1.9 1.9l-1.9 1.9l-1.9-1.9zM179 242.1l1.9 1.9l-1.9 1.9l-1.9-1.9zM188.2 230.8l1.9 1.9l-1.9 1.9l-1.9-1.9zM160.4 249.6l1.9 1.9l-1.9 1.9l-1.9-1.9zM169.7 249l1.9 1.9l-1.9 1.9l-1.9-1.9zM179 244.5l1.9 1.9l-1.9 1.9l-1.9-1.9zM188.2 235.7l1.9 1.9l-1.9 1.9l-1.9-1.9zM160.4 249.6l1.9 1.9l-1.9 1.9l-1.9-1.9zM169.7 249l1.9 1.9l-1.9 1.9l-1.9-1.9zM179 246.1l1.9 1.9l-1.9 1.9l-1.9-1.9zM188.2 243.7l1.9 1.9l-1.9 1.9l-1.9-1.9z" fill="#0a0a0a" stroke="#0a0a0a" stroke-width=".5" stroke-linejoin="round"/>
<path d="M160.4 244.8L169.7 228.7L179 202.2L188.2 188.6" fill="none" stroke="#111" stroke-width=".8" stroke-dasharray="1.3 .9"/>
<path d="M160.4 242.9l1.9 1.9l-1.9 1.9l-1.9-1.9zM169.7 226.8l1.9 1.9l-1.9 1.9l-1.9-1.9zM179 200.3l1.9 1.9l-1.9 1.9l-1.9-1.9zM188.2 186.7l1.9 1.9l-1.9 1.9l-1.9-1.9z" fill="#111" stroke="#111" stroke-width=".4" stroke-linejoin="round"/>
<line x1="149.8" y1="188.1" x2="149.8" y2="253.5" stroke="#111" stroke-width="1.5"/>
<line x1="149.1" y1="252.8" x2="199.3" y2="252.8" stroke="#111" stroke-width="1.6"/>
<text x="234.5" y="175.8" font-size="10.4" text-anchor="middle" font-weight="bold" fill="#111">RA14</text>
<text x="198.8" y="183.3" font-size="5.5" font-weight="normal" fill="#2a2a2a">OD<tspan dy="1.5" font-size="4.9">405</tspan></text>
<text x="209" y="254.9" font-size="5.8" text-anchor="end" font-weight="normal" fill="#222">0</text>
<line x1="210.2" y1="252.8" x2="212.4" y2="252.8" stroke="#111" stroke-width="0.8"/>
<text x="209" y="238.8" font-size="5.8" text-anchor="end" font-weight="normal" fill="#222">1</text>
<line x1="210.2" y1="236.8" x2="212.4" y2="236.8" stroke="#111" stroke-width="0.8"/>
<text x="209" y="222.8" font-size="5.8" text-anchor="end" font-weight="normal" fill="#222">2</text>
<line x1="210.2" y1="220.7" x2="212.4" y2="220.7" stroke="#111" stroke-width="0.8"/>
<text x="209" y="206.8" font-size="5.8" text-anchor="end" font-weight="normal" fill="#222">3</text>
<line x1="210.2" y1="204.7" x2="212.4" y2="204.7" stroke="#111" stroke-width="0.8"/>
<text x="209" y="190.7" font-size="5.8" text-anchor="end" font-weight="normal" fill="#222">4</text>
<line x1="210.2" y1="188.6" x2="212.4" y2="188.6" stroke="#111" stroke-width="0.8"/>
<text x="212.1" y="261.4" font-size="5.3" text-anchor="middle" font-weight="normal" fill="#222">0.1</text>
<text x="228.4" y="261.4" font-size="5.3" text-anchor="middle" font-weight="normal" fill="#222">1</text>
<text x="245.4" y="261.4" font-size="5.3" text-anchor="middle" font-weight="normal" fill="#222">10</text>
<text x="248.4" y="261.4" font-size="5.1" text-anchor="start" font-weight="normal" fill="#222">µg/mL</text>
<line x1="212.4" y1="252.8" x2="212.4" y2="254.8" stroke="#111" stroke-width="0.7"/>
<line x1="228.4" y1="252.8" x2="228.4" y2="254.8" stroke="#111" stroke-width="0.7"/>
<line x1="244.9" y1="252.8" x2="244.9" y2="254.8" stroke="#111" stroke-width="0.7"/>
<line x1="261.4" y1="252.8" x2="261.4" y2="254.8" stroke="#111" stroke-width="0.7"/>
<line x1="209.4" y1="246.1" x2="253.9" y2="246.1" stroke="#1a1a1a" stroke-width="1.2"/>
<path d="M223 252L232.3 251.8L241.6 251.3L250.8 250.5M223 252.1L232.3 251.4L241.6 248.6L250.8 245.3M223 252.1L232.3 251.6L241.6 250.2L250.8 247.6M223 251.8L232.3 251.8L241.6 251.9L250.8 251.4M223 251.3L232.3 251.3L241.6 251.4L250.8 250.7M223 251.9L232.3 251.4L241.6 250.1L250.8 248.4M223 250.8L232.3 250.9L241.6 250.7L250.8 249.7M223 251L232.3 250.7L241.6 250.3L250.8 248.9M223 251.6L232.3 251.3L241.6 250.8L250.8 247.7M223 251.4L232.3 251.1L241.6 249.3L250.8 246.8M223 251.9L232.3 250.9L241.6 250.8L250.8 247.8M223 251.9L232.3 250.9L241.6 250.5L250.8 246.4M223 251.3L232.3 251.5L241.6 251.4L250.8 250.9M223 251.1L232.3 250.7L241.6 249.7L250.8 248.8M223 251.2L232.3 248L241.6 230.3L250.8 224.7M223 251.2L232.3 248L241.6 236.8L250.8 226.8M223 251.2L232.3 248.8L241.6 238.4L250.8 228.7M223 251.2L232.3 248.8L241.6 233.5L250.8 230.3M223 251.2L232.3 249.6L241.6 240L250.8 231.9M223 251.2L232.3 249.6L241.6 241.6L250.8 233.5M223 251.2L232.3 249.6L241.6 243.2L250.8 235.1M223 251.2L232.3 249.6L241.6 244L250.8 236.8M223 251.2L232.3 249.6L241.6 244.8L250.8 238.4M223 251.2L232.3 250.4L241.6 245.6L250.8 240M223 251.2L232.3 250.4L241.6 246.4L250.8 241.6M223 251.2L232.3 250.4L241.6 247.2L250.8 242.8M223 251.2L232.3 249.6L241.6 235.9L250.8 229.5M223 251.2L232.3 249.6L241.6 240.8L250.8 227.9M223 251.2L232.3 248L241.6 232.7L250.8 225.5M223 251.2L232.3 248.8L241.6 235.1L250.8 231.1" fill="none" stroke="#0a0a0a" stroke-width="1.45" stroke-linejoin="round"/>
<path d="M223 250.1l1.9 1.9l-1.9 1.9l-1.9-1.9zM232.3 249.9l1.9 1.9l-1.9 1.9l-1.9-1.9zM241.6 249.4l1.9 1.9l-1.9 1.9l-1.9-1.9zM250.8 248.6l1.9 1.9l-1.9 1.9l-1.9-1.9zM223 250.2l1.9 1.9l-1.9 1.9l-1.9-1.9zM232.3 249.5l1.9 1.9l-1.9 1.9l-1.9-1.9zM241.6 246.7l1.9 1.9l-1.9 1.9l-1.9-1.9zM250.8 243.4l1.9 1.9l-1.9 1.9l-1.9-1.9zM223 250.2l1.9 1.9l-1.9 1.9l-1.9-1.9zM232.3 249.7l1.9 1.9l-1.9 1.9l-1.9-1.9zM241.6 248.3l1.9 1.9l-1.9 1.9l-1.9-1.9zM250.8 245.7l1.9 1.9l-1.9 1.9l-1.9-1.9zM223 249.9l1.9 1.9l-1.9 1.9l-1.9-1.9zM232.3 249.9l1.9 1.9l-1.9 1.9l-1.9-1.9zM241.6 250l1.9 1.9l-1.9 1.9l-1.9-1.9zM250.8 249.5l1.9 1.9l-1.9 1.9l-1.9-1.9zM223 249.4l1.9 1.9l-1.9 1.9l-1.9-1.9zM232.3 249.4l1.9 1.9l-1.9 1.9l-1.9-1.9zM241.6 249.5l1.9 1.9l-1.9 1.9l-1.9-1.9zM250.8 248.8l1.9 1.9l-1.9 1.9l-1.9-1.9zM223 250l1.9 1.9l-1.9 1.9l-1.9-1.9zM232.3 249.5l1.9 1.9l-1.9 1.9l-1.9-1.9zM241.6 248.2l1.9 1.9l-1.9 1.9l-1.9-1.9zM250.8 246.5l1.9 1.9l-1.9 1.9l-1.9-1.9zM223 248.9l1.9 1.9l-1.9 1.9l-1.9-1.9zM232.3 249l1.9 1.9l-1.9 1.9l-1.9-1.9zM241.6 248.8l1.9 1.9l-1.9 1.9l-1.9-1.9zM250.8 247.8l1.9 1.9l-1.9 1.9l-1.9-1.9zM223 249.1l1.9 1.9l-1.9 1.9l-1.9-1.9zM232.3 248.8l1.9 1.9l-1.9 1.9l-1.9-1.9zM241.6 248.4l1.9 1.9l-1.9 1.9l-1.9-1.9zM250.8 247l1.9 1.9l-1.9 1.9l-1.9-1.9zM223 249.7l1.9 1.9l-1.9 1.9l-1.9-1.9zM232.3 249.4l1.9 1.9l-1.9 1.9l-1.9-1.9zM241.6 248.9l1.9 1.9l-1.9 1.9l-1.9-1.9zM250.8 245.8l1.9 1.9l-1.9 1.9l-1.9-1.9zM223 249.5l1.9 1.9l-1.9 1.9l-1.9-1.9zM232.3 249.2l1.9 1.9l-1.9 1.9l-1.9-1.9zM241.6 247.4l1.9 1.9l-1.9 1.9l-1.9-1.9zM250.8 244.9l1.9 1.9l-1.9 1.9l-1.9-1.9zM223 250l1.9 1.9l-1.9 1.9l-1.9-1.9zM232.3 249l1.9 1.9l-1.9 1.9l-1.9-1.9zM241.6 248.9l1.9 1.9l-1.9 1.9l-1.9-1.9zM250.8 245.9l1.9 1.9l-1.9 1.9l-1.9-1.9zM223 250l1.9 1.9l-1.9 1.9l-1.9-1.9zM232.3 249l1.9 1.9l-1.9 1.9l-1.9-1.9zM241.6 248.6l1.9 1.9l-1.9 1.9l-1.9-1.9zM250.8 244.5l1.9 1.9l-1.9 1.9l-1.9-1.9zM223 249.4l1.9 1.9l-1.9 1.9l-1.9-1.9zM232.3 249.6l1.9 1.9l-1.9 1.9l-1.9-1.9zM241.6 249.5l1.9 1.9l-1.9 1.9l-1.9-1.9zM250.8 249l1.9 1.9l-1.9 1.9l-1.9-1.9zM223 249.2l1.9 1.9l-1.9 1.9l-1.9-1.9zM232.3 248.8l1.9 1.9l-1.9 1.9l-1.9-1.9zM241.6 247.8l1.9 1.9l-1.9 1.9l-1.9-1.9zM250.8 246.9l1.9 1.9l-1.9 1.9l-1.9-1.9zM223 249.3l1.9 1.9l-1.9 1.9l-1.9-1.9zM232.3 246.1l1.9 1.9l-1.9 1.9l-1.9-1.9zM241.6 228.4l1.9 1.9l-1.9 1.9l-1.9-1.9zM250.8 222.8l1.9 1.9l-1.9 1.9l-1.9-1.9zM223 249.3l1.9 1.9l-1.9 1.9l-1.9-1.9zM232.3 246.1l1.9 1.9l-1.9 1.9l-1.9-1.9zM241.6 234.8l1.9 1.9l-1.9 1.9l-1.9-1.9zM250.8 224.9l1.9 1.9l-1.9 1.9l-1.9-1.9zM223 249.3l1.9 1.9l-1.9 1.9l-1.9-1.9zM232.3 246.9l1.9 1.9l-1.9 1.9l-1.9-1.9zM241.6 236.5l1.9 1.9l-1.9 1.9l-1.9-1.9zM250.8 226.8l1.9 1.9l-1.9 1.9l-1.9-1.9zM223 249.3l1.9 1.9l-1.9 1.9l-1.9-1.9zM232.3 246.9l1.9 1.9l-1.9 1.9l-1.9-1.9zM241.6 231.6l1.9 1.9l-1.9 1.9l-1.9-1.9zM250.8 228.4l1.9 1.9l-1.9 1.9l-1.9-1.9zM223 249.3l1.9 1.9l-1.9 1.9l-1.9-1.9zM232.3 247.7l1.9 1.9l-1.9 1.9l-1.9-1.9zM241.6 238.1l1.9 1.9l-1.9 1.9l-1.9-1.9zM250.8 230l1.9 1.9l-1.9 1.9l-1.9-1.9zM223 249.3l1.9 1.9l-1.9 1.9l-1.9-1.9zM232.3 247.7l1.9 1.9l-1.9 1.9l-1.9-1.9zM241.6 239.7l1.9 1.9l-1.9 1.9l-1.9-1.9zM250.8 231.6l1.9 1.9l-1.9 1.9l-1.9-1.9zM223 249.3l1.9 1.9l-1.9 1.9l-1.9-1.9zM232.3 247.7l1.9 1.9l-1.9 1.9l-1.9-1.9zM241.6 241.3l1.9 1.9l-1.9 1.9l-1.9-1.9zM250.8 233.2l1.9 1.9l-1.9 1.9l-1.9-1.9zM223 249.3l1.9 1.9l-1.9 1.9l-1.9-1.9zM232.3 247.7l1.9 1.9l-1.9 1.9l-1.9-1.9zM241.6 242.1l1.9 1.9l-1.9 1.9l-1.9-1.9zM250.8 234.8l1.9 1.9l-1.9 1.9l-1.9-1.9zM223 249.3l1.9 1.9l-1.9 1.9l-1.9-1.9zM232.3 247.7l1.9 1.9l-1.9 1.9l-1.9-1.9zM241.6 242.9l1.9 1.9l-1.9 1.9l-1.9-1.9zM250.8 236.5l1.9 1.9l-1.9 1.9l-1.9-1.9zM223 249.3l1.9 1.9l-1.9 1.9l-1.9-1.9zM232.3 248.5l1.9 1.9l-1.9 1.9l-1.9-1.9zM241.6 243.7l1.9 1.9l-1.9 1.9l-1.9-1.9zM250.8 238.1l1.9 1.9l-1.9 1.9l-1.9-1.9zM223 249.3l1.9 1.9l-1.9 1.9l-1.9-1.9zM232.3 248.5l1.9 1.9l-1.9 1.9l-1.9-1.9zM241.6 244.5l1.9 1.9l-1.9 1.9l-1.9-1.9zM250.8 239.7l1.9 1.9l-1.9 1.9l-1.9-1.9zM223 249.3l1.9 1.9l-1.9 1.9l-1.9-1.9zM232.3 248.5l1.9 1.9l-1.9 1.9l-1.9-1.9zM241.6 245.3l1.9 1.9l-1.9 1.9l-1.9-1.9zM250.8 240.9l1.9 1.9l-1.9 1.9l-1.9-1.9zM223 249.3l1.9 1.9l-1.9 1.9l-1.9-1.9zM232.3 247.7l1.9 1.9l-1.9 1.9l-1.9-1.9zM241.6 234l1.9 1.9l-1.9 1.9l-1.9-1.9zM250.8 227.6l1.9 1.9l-1.9 1.9l-1.9-1.9zM223 249.3l1.9 1.9l-1.9 1.9l-1.9-1.9zM232.3 247.7l1.9 1.9l-1.9 1.9l-1.9-1.9zM241.6 238.9l1.9 1.9l-1.9 1.9l-1.9-1.9zM250.8 226l1.9 1.9l-1.9 1.9l-1.9-1.9zM223 249.3l1.9 1.9l-1.9 1.9l-1.9-1.9zM232.3 246.1l1.9 1.9l-1.9 1.9l-1.9-1.9zM241.6 230.8l1.9 1.9l-1.9 1.9l-1.9-1.9zM250.8 223.6l1.9 1.9l-1.9 1.9l-1.9-1.9zM223 249.3l1.9 1.9l-1.9 1.9l-1.9-1.9zM232.3 246.9l1.9 1.9l-1.9 1.9l-1.9-1.9zM241.6 233.2l1.9 1.9l-1.9 1.9l-1.9-1.9zM250.8 229.2l1.9 1.9l-1.9 1.9l-1.9-1.9z" fill="#0a0a0a" stroke="#0a0a0a" stroke-width=".5" stroke-linejoin="round"/>
<path d="M223 244.8L232.3 228.7L241.6 201.4L250.8 188.6" fill="none" stroke="#111" stroke-width=".8" stroke-dasharray="1.3 .9"/>
<path d="M223 242.9l1.9 1.9l-1.9 1.9l-1.9-1.9zM232.3 226.8l1.9 1.9l-1.9 1.9l-1.9-1.9zM241.6 199.5l1.9 1.9l-1.9 1.9l-1.9-1.9zM250.8 186.7l1.9 1.9l-1.9 1.9l-1.9-1.9z" fill="#111" stroke="#111" stroke-width=".4" stroke-linejoin="round"/>
<line x1="212.4" y1="188.1" x2="212.4" y2="253.5" stroke="#111" stroke-width="1.5"/>
<line x1="211.7" y1="252.8" x2="261.9" y2="252.8" stroke="#111" stroke-width="1.6"/>
<text x="299.7" y="175.8" font-size="10.4" text-anchor="middle" font-weight="bold" fill="#111">RA19</text>
<text x="263.8" y="183.3" font-size="5.5" font-weight="normal" fill="#2a2a2a">OD<tspan dy="1.5" font-size="4.9">405</tspan></text>
<text x="274" y="254.9" font-size="5.8" text-anchor="end" font-weight="normal" fill="#222">0</text>
<line x1="275.2" y1="252.8" x2="277.4" y2="252.8" stroke="#111" stroke-width="0.8"/>
<text x="274" y="238.8" font-size="5.8" text-anchor="end" font-weight="normal" fill="#222">1</text>
<line x1="275.2" y1="236.8" x2="277.4" y2="236.8" stroke="#111" stroke-width="0.8"/>
<text x="274" y="222.8" font-size="5.8" text-anchor="end" font-weight="normal" fill="#222">2</text>
<line x1="275.2" y1="220.7" x2="277.4" y2="220.7" stroke="#111" stroke-width="0.8"/>
<text x="274" y="206.8" font-size="5.8" text-anchor="end" font-weight="normal" fill="#222">3</text>
<line x1="275.2" y1="204.7" x2="277.4" y2="204.7" stroke="#111" stroke-width="0.8"/>
<text x="274" y="190.7" font-size="5.8" text-anchor="end" font-weight="normal" fill="#222">4</text>
<line x1="275.2" y1="188.6" x2="277.4" y2="188.6" stroke="#111" stroke-width="0.8"/>
<text x="277.1" y="261.4" font-size="5.3" text-anchor="middle" font-weight="normal" fill="#222">0.1</text>
<text x="293.4" y="261.4" font-size="5.3" text-anchor="middle" font-weight="normal" fill="#222">1</text>
<text x="310.4" y="261.4" font-size="5.3" text-anchor="middle" font-weight="normal" fill="#222">10</text>
<text x="313.4" y="261.4" font-size="5.1" text-anchor="start" font-weight="normal" fill="#222">µg/mL</text>
<line x1="277.4" y1="252.8" x2="277.4" y2="254.8" stroke="#111" stroke-width="0.7"/>
<line x1="293.4" y1="252.8" x2="293.4" y2="254.8" stroke="#111" stroke-width="0.7"/>
<line x1="309.9" y1="252.8" x2="309.9" y2="254.8" stroke="#111" stroke-width="0.7"/>
<line x1="326.4" y1="252.8" x2="326.4" y2="254.8" stroke="#111" stroke-width="0.7"/>
<line x1="274.4" y1="246.1" x2="318.9" y2="246.1" stroke="#1a1a1a" stroke-width="1.2"/>
<path d="M288 251.9L297.3 251.7L306.6 251.9L315.8 251.7M288 251.2L297.3 251L306.6 250.8L315.8 250.5M288 249.8L297.3 249.3L306.6 248.5L315.8 247.1M288 249.9L297.3 249.9L306.6 250.1L315.8 249.6M288 250.8L297.3 250.2L306.6 249.5L315.8 246.7M288 252L297.3 251.9L306.6 251.3L315.8 249M288 248.6L297.3 248.4L306.6 247.7L315.8 246.3M288 249.9L297.3 249.6L306.6 248.6L315.8 246.7M288 251.3L297.3 251.4L306.6 250.3L315.8 248.3M288 251.6L297.3 250.9L306.6 249.6L315.8 246.8M288 251.8L297.3 251.3L306.6 250L315.8 248.4M288 250.8L297.3 251L306.6 250.6L315.8 250.8M288 252L297.3 251.5L306.6 251.4L315.8 250.4M288 251.9L297.3 251.8L306.6 251.7L315.8 251.5M288 251.6L297.3 251.7L306.6 249.4L315.8 245.8M288 251.2L297.3 251.1L306.6 251.1L315.8 250.8M288 252.1L297.3 251.3L306.6 248.8L315.8 245.8M288 248.3L297.3 248.4L306.6 248L315.8 247.4M288 251.9L297.3 251.4L306.6 251.4L315.8 250.7M288 250.9L297.3 250.9L306.6 250.3L315.8 249.6M288 250.8L297.3 251.3L306.6 251L315.8 250.3M288 251.5L297.3 251.5L306.6 250.9L315.8 249.8M288 251.2L297.3 248L306.6 236.8L315.8 221.5M288 251.2L297.3 248L306.6 233.5L315.8 228.7M288 251.2L297.3 249.6L306.6 244.8L315.8 233.5M288 251.2L297.3 249.6L306.6 245.6L315.8 235.9M288 251.2L297.3 249.6L306.6 246.4L315.8 238.4M288 251.2L297.3 249.6L306.6 246.4L315.8 240.8M288 251.2L297.3 250.4L306.6 247.2L315.8 243.2M288 251.2L297.3 250.4L306.6 241.6L315.8 231.9" fill="none" stroke="#0a0a0a" stroke-width="1.45" stroke-linejoin="round"/>
<path d="M288 250l1.9 1.9l-1.9 1.9l-1.9-1.9zM297.3 249.8l1.9 1.9l-1.9 1.9l-1.9-1.9zM306.6 250l1.9 1.9l-1.9 1.9l-1.9-1.9zM315.8 249.8l1.9 1.9l-1.9 1.9l-1.9-1.9zM288 249.3l1.9 1.9l-1.9 1.9l-1.9-1.9zM297.3 249.1l1.9 1.9l-1.9 1.9l-1.9-1.9zM306.6 248.9l1.9 1.9l-1.9 1.9l-1.9-1.9zM315.8 248.6l1.9 1.9l-1.9 1.9l-1.9-1.9zM288 247.9l1.9 1.9l-1.9 1.9l-1.9-1.9zM297.3 247.4l1.9 1.9l-1.9 1.9l-1.9-1.9zM306.6 246.6l1.9 1.9l-1.9 1.9l-1.9-1.9zM315.8 245.2l1.9 1.9l-1.9 1.9l-1.9-1.9zM288 248l1.9 1.9l-1.9 1.9l-1.9-1.9zM297.3 248l1.9 1.9l-1.9 1.9l-1.9-1.9zM306.6 248.2l1.9 1.9l-1.9 1.9l-1.9-1.9zM315.8 247.7l1.9 1.9l-1.9 1.9l-1.9-1.9zM288 248.9l1.9 1.9l-1.9 1.9l-1.9-1.9zM297.3 248.3l1.9 1.9l-1.9 1.9l-1.9-1.9zM306.6 247.6l1.9 1.9l-1.9 1.9l-1.9-1.9zM315.8 244.8l1.9 1.9l-1.9 1.9l-1.9-1.9zM288 250.1l1.9 1.9l-1.9 1.9l-1.9-1.9zM297.3 250l1.9 1.9l-1.9 1.9l-1.9-1.9zM306.6 249.4l1.9 1.9l-1.9 1.9l-1.9-1.9zM315.8 247.1l1.9 1.9l-1.9 1.9l-1.9-1.9zM288 246.7l1.9 1.9l-1.9 1.9l-1.9-1.9zM297.3 246.5l1.9 1.9l-1.9 1.9l-1.9-1.9zM306.6 245.8l1.9 1.9l-1.9 1.9l-1.9-1.9zM315.8 244.4l1.9 1.9l-1.9 1.9l-1.9-1.9zM288 248l1.9 1.9l-1.9 1.9l-1.9-1.9zM297.3 247.7l1.9 1.9l-1.9 1.9l-1.9-1.9zM306.6 246.7l1.9 1.9l-1.9 1.9l-1.9-1.9zM315.8 244.8l1.9 1.9l-1.9 1.9l-1.9-1.9zM288 249.4l1.9 1.9l-1.9 1.9l-1.9-1.9zM297.3 249.5l1.9 1.9l-1.9 1.9l-1.9-1.9zM306.6 248.4l1.9 1.9l-1.9 1.9l-1.9-1.9zM315.8 246.4l1.9 1.9l-1.9 1.9l-1.9-1.9zM288 249.7l1.9 1.9l-1.9 1.9l-1.9-1.9zM297.3 249l1.9 1.9l-1.9 1.9l-1.9-1.9zM306.6 247.7l1.9 1.9l-1.9 1.9l-1.9-1.9zM315.8 244.9l1.9 1.9l-1.9 1.9l-1.9-1.9zM288 249.9l1.9 1.9l-1.9 1.9l-1.9-1.9zM297.3 249.4l1.9 1.9l-1.9 1.9l-1.9-1.9zM306.6 248.1l1.9 1.9l-1.9 1.9l-1.9-1.9zM315.8 246.5l1.9 1.9l-1.9 1.9l-1.9-1.9zM288 248.9l1.9 1.9l-1.9 1.9l-1.9-1.9zM297.3 249.1l1.9 1.9l-1.9 1.9l-1.9-1.9zM306.6 248.7l1.9 1.9l-1.9 1.9l-1.9-1.9zM315.8 248.9l1.9 1.9l-1.9 1.9l-1.9-1.9zM288 250.1l1.9 1.9l-1.9 1.9l-1.9-1.9zM297.3 249.6l1.9 1.9l-1.9 1.9l-1.9-1.9zM306.6 249.5l1.9 1.9l-1.9 1.9l-1.9-1.9zM315.8 248.5l1.9 1.9l-1.9 1.9l-1.9-1.9zM288 250l1.9 1.9l-1.9 1.9l-1.9-1.9zM297.3 249.9l1.9 1.9l-1.9 1.9l-1.9-1.9zM306.6 249.8l1.9 1.9l-1.9 1.9l-1.9-1.9zM315.8 249.6l1.9 1.9l-1.9 1.9l-1.9-1.9zM288 249.7l1.9 1.9l-1.9 1.9l-1.9-1.9zM297.3 249.8l1.9 1.9l-1.9 1.9l-1.9-1.9zM306.6 247.5l1.9 1.9l-1.9 1.9l-1.9-1.9zM315.8 243.9l1.9 1.9l-1.9 1.9l-1.9-1.9zM288 249.3l1.9 1.9l-1.9 1.9l-1.9-1.9zM297.3 249.2l1.9 1.9l-1.9 1.9l-1.9-1.9zM306.6 249.2l1.9 1.9l-1.9 1.9l-1.9-1.9zM315.8 248.9l1.9 1.9l-1.9 1.9l-1.9-1.9zM288 250.2l1.9 1.9l-1.9 1.9l-1.9-1.9zM297.3 249.4l1.9 1.9l-1.9 1.9l-1.9-1.9zM306.6 246.9l1.9 1.9l-1.9 1.9l-1.9-1.9zM315.8 243.9l1.9 1.9l-1.9 1.9l-1.9-1.9zM288 246.4l1.9 1.9l-1.9 1.9l-1.9-1.9zM297.3 246.5l1.9 1.9l-1.9 1.9l-1.9-1.9zM306.6 246.1l1.9 1.9l-1.9 1.9l-1.9-1.9zM315.8 245.5l1.9 1.9l-1.9 1.9l-1.9-1.9zM288 250l1.9 1.9l-1.9 1.9l-1.9-1.9zM297.3 249.5l1.9 1.9l-1.9 1.9l-1.9-1.9zM306.6 249.5l1.9 1.9l-1.9 1.9l-1.9-1.9zM315.8 248.8l1.9 1.9l-1.9 1.9l-1.9-1.9zM288 249l1.9 1.9l-1.9 1.9l-1.9-1.9zM297.3 249l1.9 1.9l-1.9 1.9l-1.9-1.9zM306.6 248.4l1.9 1.9l-1.9 1.9l-1.9-1.9zM315.8 247.7l1.9 1.9l-1.9 1.9l-1.9-1.9zM288 248.9l1.9 1.9l-1.9 1.9l-1.9-1.9zM297.3 249.4l1.9 1.9l-1.9 1.9l-1.9-1.9zM306.6 249.1l1.9 1.9l-1.9 1.9l-1.9-1.9zM315.8 248.4l1.9 1.9l-1.9 1.9l-1.9-1.9zM288 249.6l1.9 1.9l-1.9 1.9l-1.9-1.9zM297.3 249.6l1.9 1.9l-1.9 1.9l-1.9-1.9zM306.6 249l1.9 1.9l-1.9 1.9l-1.9-1.9zM315.8 247.9l1.9 1.9l-1.9 1.9l-1.9-1.9zM288 249.3l1.9 1.9l-1.9 1.9l-1.9-1.9zM297.3 246.1l1.9 1.9l-1.9 1.9l-1.9-1.9zM306.6 234.8l1.9 1.9l-1.9 1.9l-1.9-1.9zM315.8 219.6l1.9 1.9l-1.9 1.9l-1.9-1.9zM288 249.3l1.9 1.9l-1.9 1.9l-1.9-1.9zM297.3 246.1l1.9 1.9l-1.9 1.9l-1.9-1.9zM306.6 231.6l1.9 1.9l-1.9 1.9l-1.9-1.9zM315.8 226.8l1.9 1.9l-1.9 1.9l-1.9-1.9zM288 249.3l1.9 1.9l-1.9 1.9l-1.9-1.9zM297.3 247.7l1.9 1.9l-1.9 1.9l-1.9-1.9zM306.6 242.9l1.9 1.9l-1.9 1.9l-1.9-1.9zM315.8 231.6l1.9 1.9l-1.9 1.9l-1.9-1.9zM288 249.3l1.9 1.9l-1.9 1.9l-1.9-1.9zM297.3 247.7l1.9 1.9l-1.9 1.9l-1.9-1.9zM306.6 243.7l1.9 1.9l-1.9 1.9l-1.9-1.9zM315.8 234l1.9 1.9l-1.9 1.9l-1.9-1.9zM288 249.3l1.9 1.9l-1.9 1.9l-1.9-1.9zM297.3 247.7l1.9 1.9l-1.9 1.9l-1.9-1.9zM306.6 244.5l1.9 1.9l-1.9 1.9l-1.9-1.9zM315.8 236.5l1.9 1.9l-1.9 1.9l-1.9-1.9zM288 249.3l1.9 1.9l-1.9 1.9l-1.9-1.9zM297.3 247.7l1.9 1.9l-1.9 1.9l-1.9-1.9zM306.6 244.5l1.9 1.9l-1.9 1.9l-1.9-1.9zM315.8 238.9l1.9 1.9l-1.9 1.9l-1.9-1.9zM288 249.3l1.9 1.9l-1.9 1.9l-1.9-1.9zM297.3 248.5l1.9 1.9l-1.9 1.9l-1.9-1.9zM306.6 245.3l1.9 1.9l-1.9 1.9l-1.9-1.9zM315.8 241.3l1.9 1.9l-1.9 1.9l-1.9-1.9zM288 249.3l1.9 1.9l-1.9 1.9l-1.9-1.9zM297.3 248.5l1.9 1.9l-1.9 1.9l-1.9-1.9zM306.6 239.7l1.9 1.9l-1.9 1.9l-1.9-1.9zM315.8 230l1.9 1.9l-1.9 1.9l-1.9-1.9z" fill="#0a0a0a" stroke="#0a0a0a" stroke-width=".5" stroke-linejoin="round"/>
<path d="M288 243.2L297.3 228.7L306.6 204.7L315.8 188.6" fill="none" stroke="#111" stroke-width=".8" stroke-dasharray="1.3 .9"/>
<path d="M288 241.3l1.9 1.9l-1.9 1.9l-1.9-1.9zM297.3 226.8l1.9 1.9l-1.9 1.9l-1.9-1.9zM306.6 202.8l1.9 1.9l-1.9 1.9l-1.9-1.9zM315.8 186.7l1.9 1.9l-1.9 1.9l-1.9-1.9z" fill="#111" stroke="#111" stroke-width=".4" stroke-linejoin="round"/>
<line x1="277.4" y1="188.1" x2="277.4" y2="253.5" stroke="#111" stroke-width="1.5"/>
<line x1="276.7" y1="252.8" x2="326.9" y2="252.8" stroke="#111" stroke-width="1.6"/>
<text x="362.7" y="175.8" font-size="10.4" text-anchor="middle" font-weight="bold" fill="#111">CVID19</text>
<text x="326.1" y="183.3" font-size="5.5" font-weight="normal" fill="#2a2a2a">OD<tspan dy="1.5" font-size="4.9">405</tspan></text>
<text x="336.3" y="254.9" font-size="5.8" text-anchor="end" font-weight="normal" fill="#222">0</text>
<line x1="337.5" y1="252.8" x2="339.7" y2="252.8" stroke="#111" stroke-width="0.8"/>
<text x="336.3" y="238.8" font-size="5.8" text-anchor="end" font-weight="normal" fill="#222">1</text>
<line x1="337.5" y1="236.8" x2="339.7" y2="236.8" stroke="#111" stroke-width="0.8"/>
<text x="336.3" y="222.8" font-size="5.8" text-anchor="end" font-weight="normal" fill="#222">2</text>
<line x1="337.5" y1="220.7" x2="339.7" y2="220.7" stroke="#111" stroke-width="0.8"/>
<text x="336.3" y="206.8" font-size="5.8" text-anchor="end" font-weight="normal" fill="#222">3</text>
<line x1="337.5" y1="204.7" x2="339.7" y2="204.7" stroke="#111" stroke-width="0.8"/>
<text x="336.3" y="190.7" font-size="5.8" text-anchor="end" font-weight="normal" fill="#222">4</text>
<line x1="337.5" y1="188.6" x2="339.7" y2="188.6" stroke="#111" stroke-width="0.8"/>
<text x="340.4" y="261.4" font-size="5.3" text-anchor="middle" font-weight="normal" fill="#222">0.1</text>
<text x="355.5" y="261.4" font-size="5.3" text-anchor="middle" font-weight="normal" fill="#222">1</text>
<text x="373.3" y="261.4" font-size="5.3" text-anchor="middle" font-weight="normal" fill="#222">10</text>
<text x="376.5" y="261.4" font-size="5.1" text-anchor="start" font-weight="normal" fill="#222">µg/mL</text>
<line x1="339.7" y1="252.8" x2="339.7" y2="254.8" stroke="#111" stroke-width="0.7"/>
<line x1="355.5" y1="252.8" x2="355.5" y2="254.8" stroke="#111" stroke-width="0.7"/>
<line x1="372.8" y1="252.8" x2="372.8" y2="254.8" stroke="#111" stroke-width="0.7"/>
<line x1="388.7" y1="252.8" x2="388.7" y2="254.8" stroke="#111" stroke-width="0.7"/>
<line x1="336.7" y1="246.1" x2="381.2" y2="246.1" stroke="#1a1a1a" stroke-width="1.2"/>
<path d="M350 248L359.6 243.2L369.6 216.7L379.7 194.2M350 249.6L359.6 244.8L369.6 228.7L379.7 199.8M350 250.4L359.6 246.4L369.6 237.6L379.7 220.7M350 251.2L359.6 248L369.6 244L379.7 231.9M350 248L359.6 246.4L369.6 244.8L379.7 242.8M350 251.2L359.6 250.4L369.6 248L379.7 246.1M350 248L359.6 248L369.6 247.2L379.7 246.7M350 251.5L359.6 251.2L369.6 250.4L379.7 248.8M350 252L359.6 252L369.6 251.5L379.7 250.9M350 249.6L359.6 248.8L369.6 248L379.7 244.8M350 252L359.6 251.2L369.6 250.9L379.7 250.4" fill="none" stroke="#0a0a0a" stroke-width="1.45" stroke-linejoin="round"/>
<path d="M350 246.1l1.9 1.9l-1.9 1.9l-1.9-1.9zM359.6 241.3l1.9 1.9l-1.9 1.9l-1.9-1.9zM369.6 214.8l1.9 1.9l-1.9 1.9l-1.9-1.9zM379.7 192.3l1.9 1.9l-1.9 1.9l-1.9-1.9zM350 247.7l1.9 1.9l-1.9 1.9l-1.9-1.9zM359.6 242.9l1.9 1.9l-1.9 1.9l-1.9-1.9zM369.6 226.8l1.9 1.9l-1.9 1.9l-1.9-1.9zM379.7 197.9l1.9 1.9l-1.9 1.9l-1.9-1.9zM350 248.5l1.9 1.9l-1.9 1.9l-1.9-1.9zM359.6 244.5l1.9 1.9l-1.9 1.9l-1.9-1.9zM369.6 235.7l1.9 1.9l-1.9 1.9l-1.9-1.9zM379.7 218.8l1.9 1.9l-1.9 1.9l-1.9-1.9zM350 249.3l1.9 1.9l-1.9 1.9l-1.9-1.9zM359.6 246.1l1.9 1.9l-1.9 1.9l-1.9-1.9zM369.6 242.1l1.9 1.9l-1.9 1.9l-1.9-1.9zM379.7 230l1.9 1.9l-1.9 1.9l-1.9-1.9zM350 246.1l1.9 1.9l-1.9 1.9l-1.9-1.9zM359.6 244.5l1.9 1.9l-1.9 1.9l-1.9-1.9zM369.6 242.9l1.9 1.9l-1.9 1.9l-1.9-1.9zM379.7 240.9l1.9 1.9l-1.9 1.9l-1.9-1.9zM350 249.3l1.9 1.9l-1.9 1.9l-1.9-1.9zM359.6 248.5l1.9 1.9l-1.9 1.9l-1.9-1.9zM369.6 246.1l1.9 1.9l-1.9 1.9l-1.9-1.9zM379.7 244.2l1.9 1.9l-1.9 1.9l-1.9-1.9zM350 246.1l1.9 1.9l-1.9 1.9l-1.9-1.9zM359.6 246.1l1.9 1.9l-1.9 1.9l-1.9-1.9zM369.6 245.3l1.9 1.9l-1.9 1.9l-1.9-1.9zM379.7 244.8l1.9 1.9l-1.9 1.9l-1.9-1.9zM350 249.6l1.9 1.9l-1.9 1.9l-1.9-1.9zM359.6 249.3l1.9 1.9l-1.9 1.9l-1.9-1.9zM369.6 248.5l1.9 1.9l-1.9 1.9l-1.9-1.9zM379.7 246.9l1.9 1.9l-1.9 1.9l-1.9-1.9zM350 250.1l1.9 1.9l-1.9 1.9l-1.9-1.9zM359.6 250.1l1.9 1.9l-1.9 1.9l-1.9-1.9zM369.6 249.6l1.9 1.9l-1.9 1.9l-1.9-1.9zM379.7 249l1.9 1.9l-1.9 1.9l-1.9-1.9zM350 247.7l1.9 1.9l-1.9 1.9l-1.9-1.9zM359.6 246.9l1.9 1.9l-1.9 1.9l-1.9-1.9zM369.6 246.1l1.9 1.9l-1.9 1.9l-1.9-1.9zM379.7 242.9l1.9 1.9l-1.9 1.9l-1.9-1.9zM350 250.1l1.9 1.9l-1.9 1.9l-1.9-1.9zM359.6 249.3l1.9 1.9l-1.9 1.9l-1.9-1.9zM369.6 249l1.9 1.9l-1.9 1.9l-1.9-1.9zM379.7 248.5l1.9 1.9l-1.9 1.9l-1.9-1.9z" fill="#0a0a0a" stroke="#0a0a0a" stroke-width=".5" stroke-linejoin="round"/>
<path d="M350 245.6L359.6 231.1L369.6 206.3L379.7 190.2" fill="none" stroke="#111" stroke-width=".8" stroke-dasharray="1.3 .9"/>
<path d="M350 243.7l1.9 1.9l-1.9 1.9l-1.9-1.9zM359.6 229.2l1.9 1.9l-1.9 1.9l-1.9-1.9zM369.6 204.4l1.9 1.9l-1.9 1.9l-1.9-1.9zM379.7 188.3l1.9 1.9l-1.9 1.9l-1.9-1.9z" fill="#111" stroke="#111" stroke-width=".4" stroke-linejoin="round"/>
<line x1="339.7" y1="188.1" x2="339.7" y2="253.5" stroke="#111" stroke-width="1.5"/>
<line x1="339" y1="252.8" x2="389.2" y2="252.8" stroke="#111" stroke-width="1.6"/>
<text x="422.9" y="175.8" font-size="10.4" text-anchor="middle" font-weight="bold" fill="#111">CVID321</text>
<text x="387.3" y="183.3" font-size="5.5" font-weight="normal" fill="#2a2a2a">OD<tspan dy="1.5" font-size="4.9">405</tspan></text>
<text x="397.5" y="254.9" font-size="5.8" text-anchor="end" font-weight="normal" fill="#222">0</text>
<line x1="398.7" y1="252.8" x2="400.9" y2="252.8" stroke="#111" stroke-width="0.8"/>
<text x="397.5" y="238.8" font-size="5.8" text-anchor="end" font-weight="normal" fill="#222">1</text>
<line x1="398.7" y1="236.8" x2="400.9" y2="236.8" stroke="#111" stroke-width="0.8"/>
<text x="397.5" y="222.8" font-size="5.8" text-anchor="end" font-weight="normal" fill="#222">2</text>
<line x1="398.7" y1="220.7" x2="400.9" y2="220.7" stroke="#111" stroke-width="0.8"/>
<text x="397.5" y="206.8" font-size="5.8" text-anchor="end" font-weight="normal" fill="#222">3</text>
<line x1="398.7" y1="204.7" x2="400.9" y2="204.7" stroke="#111" stroke-width="0.8"/>
<text x="397.5" y="190.7" font-size="5.8" text-anchor="end" font-weight="normal" fill="#222">4</text>
<line x1="398.7" y1="188.6" x2="400.9" y2="188.6" stroke="#111" stroke-width="0.8"/>
<text x="399.5" y="261.4" font-size="5.3" text-anchor="middle" font-weight="normal" fill="#222">0.1</text>
<text x="417.4" y="261.4" font-size="5.3" text-anchor="middle" font-weight="normal" fill="#222">1</text>
<text x="433.9" y="261.4" font-size="5.3" text-anchor="middle" font-weight="normal" fill="#222">10</text>
<text x="437.3" y="261.4" font-size="5.1" text-anchor="start" font-weight="normal" fill="#222">µg/mL</text>
<line x1="400.9" y1="252.8" x2="400.9" y2="254.8" stroke="#111" stroke-width="0.7"/>
<line x1="417.4" y1="252.8" x2="417.4" y2="254.8" stroke="#111" stroke-width="0.7"/>
<line x1="433.4" y1="252.8" x2="433.4" y2="254.8" stroke="#111" stroke-width="0.7"/>
<line x1="449.9" y1="252.8" x2="449.9" y2="254.8" stroke="#111" stroke-width="0.7"/>
<line x1="397.9" y1="246.1" x2="442.4" y2="246.1" stroke="#1a1a1a" stroke-width="1.2"/>
<path d="M411.5 251.7L420.8 251.7L430.1 249.8L439.3 248.4M411.5 251.9L420.8 251.6L430.1 251L439.3 249.2M411.5 249L420.8 248.4L430.1 247.4L439.3 245.6M411.5 250.8L420.8 250.8L430.1 250.4L439.3 250.1M411.5 250.9L420.8 250.4L430.1 249.1L439.3 247.2M411.5 248.7L420.8 248.5L430.1 248.7L439.3 248.4M411.5 251.9L420.8 251.9L430.1 251.7L439.3 251.8M411.5 251.2L420.8 251.3L430.1 250.8L439.3 250.8M411.5 249.5L420.8 249L430.1 248.4L439.3 246.4M411.5 252.1L420.8 251.6L430.1 251.9L439.3 251.7M411.5 251.5L420.8 251.4L430.1 250.3L439.3 247.7M411.5 250.2L420.8 250.1L430.1 249.5L439.3 248.5M411.5 250.4L420.8 244.8L430.1 235.1L439.3 219.1M411.5 249.6L420.8 244L430.1 227.9L439.3 227.9M411.5 251.2L420.8 246.4L430.1 233.5L439.3 231.1M411.5 251.2L420.8 248L430.1 240L439.3 232.7M411.5 251.2L420.8 248L430.1 241.6L439.3 234.3M411.5 251.2L420.8 248L430.1 243.2L439.3 235.9M411.5 251.2L420.8 249.6L430.1 244L439.3 237.6M411.5 251.2L420.8 249.6L430.1 244.8L439.3 239.2M411.5 251.2L420.8 249.6L430.1 245.6L439.3 240.8M411.5 251.2L420.8 249.6L430.1 246.4L439.3 242.4M411.5 251.2L420.8 248.8L430.1 238.4L439.3 235.1M411.5 251.2L420.8 249.6L430.1 248L439.3 244.8M411.5 248L420.8 244.8L430.1 236.8L439.3 231.9M411.5 246.4L420.8 245.6L430.1 240L439.3 233.5" fill="none" stroke="#0a0a0a" stroke-width="1.45" stroke-linejoin="round"/>
<path d="M411.5 249.8l1.9 1.9l-1.9 1.9l-1.9-1.9zM420.8 249.8l1.9 1.9l-1.9 1.9l-1.9-1.9zM430.1 247.9l1.9 1.9l-1.9 1.9l-1.9-1.9zM439.3 246.5l1.9 1.9l-1.9 1.9l-1.9-1.9zM411.5 250l1.9 1.9l-1.9 1.9l-1.9-1.9zM420.8 249.7l1.9 1.9l-1.9 1.9l-1.9-1.9zM430.1 249.1l1.9 1.9l-1.9 1.9l-1.9-1.9zM439.3 247.3l1.9 1.9l-1.9 1.9l-1.9-1.9zM411.5 247.1l1.9 1.9l-1.9 1.9l-1.9-1.9zM420.8 246.5l1.9 1.9l-1.9 1.9l-1.9-1.9zM430.1 245.5l1.9 1.9l-1.9 1.9l-1.9-1.9zM439.3 243.7l1.9 1.9l-1.9 1.9l-1.9-1.9zM411.5 248.9l1.9 1.9l-1.9 1.9l-1.9-1.9zM420.8 248.9l1.9 1.9l-1.9 1.9l-1.9-1.9zM430.1 248.5l1.9 1.9l-1.9 1.9l-1.9-1.9zM439.3 248.2l1.9 1.9l-1.9 1.9l-1.9-1.9zM411.5 249l1.9 1.9l-1.9 1.9l-1.9-1.9zM420.8 248.5l1.9 1.9l-1.9 1.9l-1.9-1.9zM430.1 247.2l1.9 1.9l-1.9 1.9l-1.9-1.9zM439.3 245.3l1.9 1.9l-1.9 1.9l-1.9-1.9zM411.5 246.8l1.9 1.9l-1.9 1.9l-1.9-1.9zM420.8 246.6l1.9 1.9l-1.9 1.9l-1.9-1.9zM430.1 246.8l1.9 1.9l-1.9 1.9l-1.9-1.9zM439.3 246.5l1.9 1.9l-1.9 1.9l-1.9-1.9zM411.5 250l1.9 1.9l-1.9 1.9l-1.9-1.9zM420.8 250l1.9 1.9l-1.9 1.9l-1.9-1.9zM430.1 249.8l1.9 1.9l-1.9 1.9l-1.9-1.9zM439.3 249.9l1.9 1.9l-1.9 1.9l-1.9-1.9zM411.5 249.3l1.9 1.9l-1.9 1.9l-1.9-1.9zM420.8 249.4l1.9 1.9l-1.9 1.9l-1.9-1.9zM430.1 248.9l1.9 1.9l-1.9 1.9l-1.9-1.9zM439.3 248.9l1.9 1.9l-1.9 1.9l-1.9-1.9zM411.5 247.6l1.9 1.9l-1.9 1.9l-1.9-1.9zM420.8 247.1l1.9 1.9l-1.9 1.9l-1.9-1.9zM430.1 246.5l1.9 1.9l-1.9 1.9l-1.9-1.9zM439.3 244.5l1.9 1.9l-1.9 1.9l-1.9-1.9zM411.5 250.2l1.9 1.9l-1.9 1.9l-1.9-1.9zM420.8 249.7l1.9 1.9l-1.9 1.9l-1.9-1.9zM430.1 250l1.9 1.9l-1.9 1.9l-1.9-1.9zM439.3 249.8l1.9 1.9l-1.9 1.9l-1.9-1.9zM411.5 249.6l1.9 1.9l-1.9 1.9l-1.9-1.9zM420.8 249.5l1.9 1.9l-1.9 1.9l-1.9-1.9zM430.1 248.4l1.9 1.9l-1.9 1.9l-1.9-1.9zM439.3 245.8l1.9 1.9l-1.9 1.9l-1.9-1.9zM411.5 248.3l1.9 1.9l-1.9 1.9l-1.9-1.9zM420.8 248.2l1.9 1.9l-1.9 1.9l-1.9-1.9zM430.1 247.6l1.9 1.9l-1.9 1.9l-1.9-1.9zM439.3 246.6l1.9 1.9l-1.9 1.9l-1.9-1.9zM411.5 248.5l1.9 1.9l-1.9 1.9l-1.9-1.9zM420.8 242.9l1.9 1.9l-1.9 1.9l-1.9-1.9zM430.1 233.2l1.9 1.9l-1.9 1.9l-1.9-1.9zM439.3 217.2l1.9 1.9l-1.9 1.9l-1.9-1.9zM411.5 247.7l1.9 1.9l-1.9 1.9l-1.9-1.9zM420.8 242.1l1.9 1.9l-1.9 1.9l-1.9-1.9zM430.1 226l1.9 1.9l-1.9 1.9l-1.9-1.9zM439.3 226l1.9 1.9l-1.9 1.9l-1.9-1.9zM411.5 249.3l1.9 1.9l-1.9 1.9l-1.9-1.9zM420.8 244.5l1.9 1.9l-1.9 1.9l-1.9-1.9zM430.1 231.6l1.9 1.9l-1.9 1.9l-1.9-1.9zM439.3 229.2l1.9 1.9l-1.9 1.9l-1.9-1.9zM411.5 249.3l1.9 1.9l-1.9 1.9l-1.9-1.9zM420.8 246.1l1.9 1.9l-1.9 1.9l-1.9-1.9zM430.1 238.1l1.9 1.9l-1.9 1.9l-1.9-1.9zM439.3 230.8l1.9 1.9l-1.9 1.9l-1.9-1.9zM411.5 249.3l1.9 1.9l-1.9 1.9l-1.9-1.9zM420.8 246.1l1.9 1.9l-1.9 1.9l-1.9-1.9zM430.1 239.7l1.9 1.9l-1.9 1.9l-1.9-1.9zM439.3 232.4l1.9 1.9l-1.9 1.9l-1.9-1.9zM411.5 249.3l1.9 1.9l-1.9 1.9l-1.9-1.9zM420.8 246.1l1.9 1.9l-1.9 1.9l-1.9-1.9zM430.1 241.3l1.9 1.9l-1.9 1.9l-1.9-1.9zM439.3 234l1.9 1.9l-1.9 1.9l-1.9-1.9zM411.5 249.3l1.9 1.9l-1.9 1.9l-1.9-1.9zM420.8 247.7l1.9 1.9l-1.9 1.9l-1.9-1.9zM430.1 242.1l1.9 1.9l-1.9 1.9l-1.9-1.9zM439.3 235.7l1.9 1.9l-1.9 1.9l-1.9-1.9zM411.5 249.3l1.9 1.9l-1.9 1.9l-1.9-1.9zM420.8 247.7l1.9 1.9l-1.9 1.9l-1.9-1.9zM430.1 242.9l1.9 1.9l-1.9 1.9l-1.9-1.9zM439.3 237.3l1.9 1.9l-1.9 1.9l-1.9-1.9zM411.5 249.3l1.9 1.9l-1.9 1.9l-1.9-1.9zM420.8 247.7l1.9 1.9l-1.9 1.9l-1.9-1.9zM430.1 243.7l1.9 1.9l-1.9 1.9l-1.9-1.9zM439.3 238.9l1.9 1.9l-1.9 1.9l-1.9-1.9zM411.5 249.3l1.9 1.9l-1.9 1.9l-1.9-1.9zM420.8 247.7l1.9 1.9l-1.9 1.9l-1.9-1.9zM430.1 244.5l1.9 1.9l-1.9 1.9l-1.9-1.9zM439.3 240.5l1.9 1.9l-1.9 1.9l-1.9-1.9zM411.5 249.3l1.9 1.9l-1.9 1.9l-1.9-1.9zM420.8 246.9l1.9 1.9l-1.9 1.9l-1.9-1.9zM430.1 236.5l1.9 1.9l-1.9 1.9l-1.9-1.9zM439.3 233.2l1.9 1.9l-1.9 1.9l-1.9-1.9zM411.5 249.3l1.9 1.9l-1.9 1.9l-1.9-1.9zM420.8 247.7l1.9 1.9l-1.9 1.9l-1.9-1.9zM430.1 246.1l1.9 1.9l-1.9 1.9l-1.9-1.9zM439.3 242.9l1.9 1.9l-1.9 1.9l-1.9-1.9zM411.5 246.1l1.9 1.9l-1.9 1.9l-1.9-1.9zM420.8 242.9l1.9 1.9l-1.9 1.9l-1.9-1.9zM430.1 234.8l1.9 1.9l-1.9 1.9l-1.9-1.9zM439.3 230l1.9 1.9l-1.9 1.9l-1.9-1.9zM411.5 244.5l1.9 1.9l-1.9 1.9l-1.9-1.9zM420.8 243.7l1.9 1.9l-1.9 1.9l-1.9-1.9zM430.1 238.1l1.9 1.9l-1.9 1.9l-1.9-1.9zM439.3 231.6l1.9 1.9l-1.9 1.9l-1.9-1.9z" fill="#0a0a0a" stroke="#0a0a0a" stroke-width=".5" stroke-linejoin="round"/>
<path d="M411.5 241.6L420.8 226.3L430.1 196.6L439.3 187.8" fill="none" stroke="#111" stroke-width=".8" stroke-dasharray="1.3 .9"/>
<path d="M411.5 239.7l1.9 1.9l-1.9 1.9l-1.9-1.9zM420.8 224.4l1.9 1.9l-1.9 1.9l-1.9-1.9zM430.1 194.7l1.9 1.9l-1.9 1.9l-1.9-1.9zM439.3 185.9l1.9 1.9l-1.9 1.9l-1.9-1.9z" fill="#111" stroke="#111" stroke-width=".4" stroke-linejoin="round"/>
<line x1="400.9" y1="188.1" x2="400.9" y2="253.5" stroke="#111" stroke-width="1.5"/>
<line x1="400.2" y1="252.8" x2="450.4" y2="252.8" stroke="#111" stroke-width="1.6"/>
<text x="487.7" y="175.8" font-size="10.4" text-anchor="middle" font-weight="bold" fill="#111">CVID332</text>
<text x="450.8" y="183.3" font-size="5.5" font-weight="normal" fill="#2a2a2a">OD<tspan dy="1.5" font-size="4.9">405</tspan></text>
<text x="461" y="254.9" font-size="5.8" text-anchor="end" font-weight="normal" fill="#222">0</text>
<line x1="462.2" y1="252.8" x2="464.4" y2="252.8" stroke="#111" stroke-width="0.8"/>
<text x="461" y="238.8" font-size="5.8" text-anchor="end" font-weight="normal" fill="#222">1</text>
<line x1="462.2" y1="236.8" x2="464.4" y2="236.8" stroke="#111" stroke-width="0.8"/>
<text x="461" y="222.8" font-size="5.8" text-anchor="end" font-weight="normal" fill="#222">2</text>
<line x1="462.2" y1="220.7" x2="464.4" y2="220.7" stroke="#111" stroke-width="0.8"/>
<text x="461" y="206.8" font-size="5.8" text-anchor="end" font-weight="normal" fill="#222">3</text>
<line x1="462.2" y1="204.7" x2="464.4" y2="204.7" stroke="#111" stroke-width="0.8"/>
<text x="461" y="190.7" font-size="5.8" text-anchor="end" font-weight="normal" fill="#222">4</text>
<line x1="462.2" y1="188.6" x2="464.4" y2="188.6" stroke="#111" stroke-width="0.8"/>
<text x="464.1" y="261.4" font-size="5.3" text-anchor="middle" font-weight="normal" fill="#222">0.1</text>
<text x="480.4" y="261.4" font-size="5.3" text-anchor="middle" font-weight="normal" fill="#222">1</text>
<text x="497.4" y="261.4" font-size="5.3" text-anchor="middle" font-weight="normal" fill="#222">10</text>
<text x="500.4" y="261.4" font-size="5.1" text-anchor="start" font-weight="normal" fill="#222">µg/mL</text>
<line x1="464.4" y1="252.8" x2="464.4" y2="254.8" stroke="#111" stroke-width="0.7"/>
<line x1="480.4" y1="252.8" x2="480.4" y2="254.8" stroke="#111" stroke-width="0.7"/>
<line x1="496.9" y1="252.8" x2="496.9" y2="254.8" stroke="#111" stroke-width="0.7"/>
<line x1="513.4" y1="252.8" x2="513.4" y2="254.8" stroke="#111" stroke-width="0.7"/>
<line x1="461.4" y1="246.1" x2="505.9" y2="246.1" stroke="#1a1a1a" stroke-width="1.2"/>
<path d="M475 252.1L485.4 251.7L495.5 249.5L505.6 247M475 248.2L485.4 247.7L495.5 247.3L505.6 245.1M475 251.2L485.4 250.8L495.5 249.6L505.6 245.1M475 251.9L485.4 251.3L495.5 248L505.6 245.6M475 251.7L485.4 251.4L495.5 251.3L505.6 251.3M475 251.7L485.4 251L495.5 250.7L505.6 249.1M475 249.5L485.4 249.6L495.5 249.4L505.6 249.5M475 248.4L485.4 248.3L495.5 247.1L505.6 246.4M475 251.7L485.4 252L495.5 251.6L505.6 251.1M475 249.5L485.4 249.2L495.5 249.3L505.6 249.1M475 250L485.4 249.8L495.5 249L505.6 245.9M475 234.3L485.4 205.5L495.5 188.6L505.6 188.6M475 244.8L485.4 238.4L495.5 215.9L505.6 188.6M475 248L485.4 243.2L495.5 215.1L505.6 188.6M475 249.6L485.4 244.8L495.5 224.7L505.6 188.6M475 248L485.4 244.8L495.5 236.8L505.6 214.3M475 249.6L485.4 246.4L495.5 240L505.6 224.7M475 251.2L485.4 248L495.5 243.2L505.6 235.1M475 251.2L485.4 248L495.5 244L505.6 236.8M475 251.2L485.4 249.6L495.5 244.8L505.6 238.4M475 251.2L485.4 249.6L495.5 245.6L505.6 240M475 251.2L485.4 249.6L495.5 246.4L505.6 241.6M475 251.2L485.4 249.6L495.5 247.2L505.6 243.2" fill="none" stroke="#0a0a0a" stroke-width="1.45" stroke-linejoin="round"/>
<path d="M475 250.2l1.9 1.9l-1.9 1.9l-1.9-1.9zM485.4 249.8l1.9 1.9l-1.9 1.9l-1.9-1.9zM495.5 247.6l1.9 1.9l-1.9 1.9l-1.9-1.9zM505.6 245.1l1.9 1.9l-1.9 1.9l-1.9-1.9zM475 246.3l1.9 1.9l-1.9 1.9l-1.9-1.9zM485.4 245.8l1.9 1.9l-1.9 1.9l-1.9-1.9zM495.5 245.4l1.9 1.9l-1.9 1.9l-1.9-1.9zM505.6 243.2l1.9 1.9l-1.9 1.9l-1.9-1.9zM475 249.3l1.9 1.9l-1.9 1.9l-1.9-1.9zM485.4 248.9l1.9 1.9l-1.9 1.9l-1.9-1.9zM495.5 247.7l1.9 1.9l-1.9 1.9l-1.9-1.9zM505.6 243.2l1.9 1.9l-1.9 1.9l-1.9-1.9zM475 250l1.9 1.9l-1.9 1.9l-1.9-1.9zM485.4 249.4l1.9 1.9l-1.9 1.9l-1.9-1.9zM495.5 246.1l1.9 1.9l-1.9 1.9l-1.9-1.9zM505.6 243.7l1.9 1.9l-1.9 1.9l-1.9-1.9zM475 249.8l1.9 1.9l-1.9 1.9l-1.9-1.9zM485.4 249.5l1.9 1.9l-1.9 1.9l-1.9-1.9zM495.5 249.4l1.9 1.9l-1.9 1.9l-1.9-1.9zM505.6 249.4l1.9 1.9l-1.9 1.9l-1.9-1.9zM475 249.8l1.9 1.9l-1.9 1.9l-1.9-1.9zM485.4 249.1l1.9 1.9l-1.9 1.9l-1.9-1.9zM495.5 248.8l1.9 1.9l-1.9 1.9l-1.9-1.9zM505.6 247.2l1.9 1.9l-1.9 1.9l-1.9-1.9zM475 247.6l1.9 1.9l-1.9 1.9l-1.9-1.9zM485.4 247.7l1.9 1.9l-1.9 1.9l-1.9-1.9zM495.5 247.5l1.9 1.9l-1.9 1.9l-1.9-1.9zM505.6 247.6l1.9 1.9l-1.9 1.9l-1.9-1.9zM475 246.5l1.9 1.9l-1.9 1.9l-1.9-1.9zM485.4 246.4l1.9 1.9l-1.9 1.9l-1.9-1.9zM495.5 245.2l1.9 1.9l-1.9 1.9l-1.9-1.9zM505.6 244.5l1.9 1.9l-1.9 1.9l-1.9-1.9zM475 249.8l1.9 1.9l-1.9 1.9l-1.9-1.9zM485.4 250.1l1.9 1.9l-1.9 1.9l-1.9-1.9zM495.5 249.7l1.9 1.9l-1.9 1.9l-1.9-1.9zM505.6 249.2l1.9 1.9l-1.9 1.9l-1.9-1.9zM475 247.6l1.9 1.9l-1.9 1.9l-1.9-1.9zM485.4 247.3l1.9 1.9l-1.9 1.9l-1.9-1.9zM495.5 247.4l1.9 1.9l-1.9 1.9l-1.9-1.9zM505.6 247.2l1.9 1.9l-1.9 1.9l-1.9-1.9zM475 248.1l1.9 1.9l-1.9 1.9l-1.9-1.9zM485.4 247.9l1.9 1.9l-1.9 1.9l-1.9-1.9zM495.5 247.1l1.9 1.9l-1.9 1.9l-1.9-1.9zM505.6 244l1.9 1.9l-1.9 1.9l-1.9-1.9zM475 232.4l1.9 1.9l-1.9 1.9l-1.9-1.9zM485.4 203.6l1.9 1.9l-1.9 1.9l-1.9-1.9zM495.5 186.7l1.9 1.9l-1.9 1.9l-1.9-1.9zM505.6 186.7l1.9 1.9l-1.9 1.9l-1.9-1.9zM475 242.9l1.9 1.9l-1.9 1.9l-1.9-1.9zM485.4 236.5l1.9 1.9l-1.9 1.9l-1.9-1.9zM495.5 214l1.9 1.9l-1.9 1.9l-1.9-1.9zM505.6 186.7l1.9 1.9l-1.9 1.9l-1.9-1.9zM475 246.1l1.9 1.9l-1.9 1.9l-1.9-1.9zM485.4 241.3l1.9 1.9l-1.9 1.9l-1.9-1.9zM495.5 213.2l1.9 1.9l-1.9 1.9l-1.9-1.9zM505.6 186.7l1.9 1.9l-1.9 1.9l-1.9-1.9zM475 247.7l1.9 1.9l-1.9 1.9l-1.9-1.9zM485.4 242.9l1.9 1.9l-1.9 1.9l-1.9-1.9zM495.5 222.8l1.9 1.9l-1.9 1.9l-1.9-1.9zM505.6 186.7l1.9 1.9l-1.9 1.9l-1.9-1.9zM475 246.1l1.9 1.9l-1.9 1.9l-1.9-1.9zM485.4 242.9l1.9 1.9l-1.9 1.9l-1.9-1.9zM495.5 234.8l1.9 1.9l-1.9 1.9l-1.9-1.9zM505.6 212.4l1.9 1.9l-1.9 1.9l-1.9-1.9zM475 247.7l1.9 1.9l-1.9 1.9l-1.9-1.9zM485.4 244.5l1.9 1.9l-1.9 1.9l-1.9-1.9zM495.5 238.1l1.9 1.9l-1.9 1.9l-1.9-1.9zM505.6 222.8l1.9 1.9l-1.9 1.9l-1.9-1.9zM475 249.3l1.9 1.9l-1.9 1.9l-1.9-1.9zM485.4 246.1l1.9 1.9l-1.9 1.9l-1.9-1.9zM495.5 241.3l1.9 1.9l-1.9 1.9l-1.9-1.9zM505.6 233.2l1.9 1.9l-1.9 1.9l-1.9-1.9zM475 249.3l1.9 1.9l-1.9 1.9l-1.9-1.9zM485.4 246.1l1.9 1.9l-1.9 1.9l-1.9-1.9zM495.5 242.1l1.9 1.9l-1.9 1.9l-1.9-1.9zM505.6 234.8l1.9 1.9l-1.9 1.9l-1.9-1.9zM475 249.3l1.9 1.9l-1.9 1.9l-1.9-1.9zM485.4 247.7l1.9 1.9l-1.9 1.9l-1.9-1.9zM495.5 242.9l1.9 1.9l-1.9 1.9l-1.9-1.9zM505.6 236.5l1.9 1.9l-1.9 1.9l-1.9-1.9zM475 249.3l1.9 1.9l-1.9 1.9l-1.9-1.9zM485.4 247.7l1.9 1.9l-1.9 1.9l-1.9-1.9zM495.5 243.7l1.9 1.9l-1.9 1.9l-1.9-1.9zM505.6 238.1l1.9 1.9l-1.9 1.9l-1.9-1.9zM475 249.3l1.9 1.9l-1.9 1.9l-1.9-1.9zM485.4 247.7l1.9 1.9l-1.9 1.9l-1.9-1.9zM495.5 244.5l1.9 1.9l-1.9 1.9l-1.9-1.9zM505.6 239.7l1.9 1.9l-1.9 1.9l-1.9-1.9zM475 249.3l1.9 1.9l-1.9 1.9l-1.9-1.9zM485.4 247.7l1.9 1.9l-1.9 1.9l-1.9-1.9zM495.5 245.3l1.9 1.9l-1.9 1.9l-1.9-1.9zM505.6 241.3l1.9 1.9l-1.9 1.9l-1.9-1.9z" fill="#0a0a0a" stroke="#0a0a0a" stroke-width=".5" stroke-linejoin="round"/>
<path d="M475 244L485.4 229.5L495.5 205.5L505.6 188.6" fill="none" stroke="#111" stroke-width=".8" stroke-dasharray="1.3 .9"/>
<path d="M475 242.1l1.9 1.9l-1.9 1.9l-1.9-1.9zM485.4 227.6l1.9 1.9l-1.9 1.9l-1.9-1.9zM495.5 203.6l1.9 1.9l-1.9 1.9l-1.9-1.9zM505.6 186.7l1.9 1.9l-1.9 1.9l-1.9-1.9z" fill="#111" stroke="#111" stroke-width=".4" stroke-linejoin="round"/>
<line x1="464.4" y1="188.1" x2="464.4" y2="253.5" stroke="#111" stroke-width="1.5"/>
<line x1="463.7" y1="252.8" x2="513.9" y2="252.8" stroke="#111" stroke-width="1.6"/>
<circle cx="43" cy="293.7" r="26.6" fill="#fff" stroke="#0a0a0a" stroke-width="2.4"/>
<path d="M43 293.7L43 267.1A26.6 26.6 0 0 0 19.4 281.5Z" fill="#0a0a0a" stroke="#0a0a0a" stroke-width="2" stroke-linejoin="round"/>
<circle cx="43" cy="293.7" r="8.8" fill="#fff" stroke="#0a0a0a" stroke-width="2.4"/>
<text x="43.3" y="296.7" font-size="8.5" text-anchor="middle" font-weight="bold" fill="#111">23</text>
<text x="32.5" y="281.2" font-size="8.4" text-anchor="middle" font-weight="bold" fill="#fff">17.4</text>
<text x="52" y="312.2" font-size="8.4" text-anchor="middle" font-weight="bold" fill="#111">82.6</text>
<circle cx="108" cy="293.7" r="26.6" fill="#fff" stroke="#0a0a0a" stroke-width="2.4"/>
<path d="M108 293.7L108 267.1A26.6 26.6 0 0 0 83.8 282.7Z" fill="#0a0a0a" stroke="#0a0a0a" stroke-width="2" stroke-linejoin="round"/>
<circle cx="108" cy="293.7" r="8.8" fill="#fff" stroke="#0a0a0a" stroke-width="2.4"/>
<text x="108.3" y="296.7" font-size="8.5" text-anchor="middle" font-weight="bold" fill="#111">22</text>
<text x="98.5" y="281.2" font-size="8.4" text-anchor="middle" font-weight="bold" fill="#fff">18.2</text>
<text x="118.5" y="312.2" font-size="8.4" text-anchor="middle" font-weight="bold" fill="#111">81.8</text>
<circle cx="175" cy="293.3" r="25.4" fill="#fff" stroke="#0a0a0a" stroke-width="2.4"/>
<path d="M175 293.3L175 267.9A25.4 25.4 0 0 0 157.7 311.9Z" fill="#0a0a0a" stroke="#0a0a0a" stroke-width="2" stroke-linejoin="round"/>
<circle cx="175" cy="293.3" r="8.8" fill="#fff" stroke="#0a0a0a" stroke-width="2.4"/>
<text x="175.3" y="296.3" font-size="8.5" text-anchor="middle" font-weight="bold" fill="#111">21</text>
<text x="157.7" y="291.3" font-size="8.4" text-anchor="middle" font-weight="bold" fill="#fff">38.1</text>
<text x="189.5" y="304.8" font-size="8.4" text-anchor="middle" font-weight="bold" fill="#111">61.9</text>
<circle cx="238.2" cy="293.7" r="26.4" fill="#fff" stroke="#0a0a0a" stroke-width="2.4"/>
<path d="M238.2 293.7L238.2 267.3A26.4 26.4 0 0 0 238.2 320.1Z" fill="#0a0a0a" stroke="#0a0a0a" stroke-width="2" stroke-linejoin="round"/>
<circle cx="238.2" cy="293.7" r="8.8" fill="#fff" stroke="#0a0a0a" stroke-width="2.4"/>
<text x="238.5" y="296.7" font-size="8.5" text-anchor="middle" font-weight="bold" fill="#111">30</text>
<text x="220.2" y="296.7" font-size="8.4" text-anchor="middle" font-weight="bold" fill="#fff">50.0</text>
<text x="256.2" y="296.7" font-size="8.4" text-anchor="middle" font-weight="bold" fill="#111">50.0</text>
<circle cx="303.8" cy="293.3" r="25.2" fill="#fff" stroke="#0a0a0a" stroke-width="2.4"/>
<path d="M303.8 293.3L303.8 268.1A25.2 25.2 0 0 0 287.4 312.4Z" fill="#0a0a0a" stroke="#0a0a0a" stroke-width="2" stroke-linejoin="round"/>
<circle cx="303.8" cy="293.3" r="8.8" fill="#fff" stroke="#0a0a0a" stroke-width="2.4"/>
<text x="304.1" y="296.3" font-size="8.5" text-anchor="middle" font-weight="bold" fill="#111">31</text>
<text x="287" y="291.8" font-size="8.4" text-anchor="middle" font-weight="bold" fill="#fff">38.7</text>
<text x="319.6" y="300.3" font-size="8.4" text-anchor="middle" font-weight="bold" fill="#111">61.3</text>
<circle cx="365.2" cy="293.4" r="26.6" fill="#fff" stroke="#0a0a0a" stroke-width="2.4"/>
<path d="M365.2 293.4L365.2 266.8A26.6 26.6 0 0 0 351.9 316.5Z" fill="#0a0a0a" stroke="#0a0a0a" stroke-width="2" stroke-linejoin="round"/>
<circle cx="365.2" cy="293.4" r="8.8" fill="#fff" stroke="#0a0a0a" stroke-width="2.4"/>
<text x="365.5" y="296.4" font-size="8.5" text-anchor="middle" font-weight="bold" fill="#111">12</text>
<text x="352.2" y="283.1" font-size="8.4" text-anchor="middle" font-weight="bold" fill="#fff">41.7</text>
<text x="374.2" y="310.9" font-size="8.4" text-anchor="middle" font-weight="bold" fill="#111">58.3</text>
<circle cx="427.5" cy="293.7" r="25.8" fill="#fff" stroke="#0a0a0a" stroke-width="2.4"/>
<path d="M427.5 293.7L427.5 267.9A25.8 25.8 0 0 0 427.5 319.5Z" fill="#0a0a0a" stroke="#0a0a0a" stroke-width="2" stroke-linejoin="round"/>
<circle cx="427.5" cy="293.7" r="8.8" fill="#fff" stroke="#0a0a0a" stroke-width="2.4"/>
<text x="427.8" y="296.7" font-size="8.5" text-anchor="middle" font-weight="bold" fill="#111">26</text>
<text x="408.2" y="296.7" font-size="8.4" text-anchor="middle" font-weight="bold" fill="#fff">50.0</text>
<text x="445.5" y="296.7" font-size="8.4" text-anchor="middle" font-weight="bold" fill="#111">50.0</text>
<circle cx="488.8" cy="293.7" r="26.3" fill="#fff" stroke="#0a0a0a" stroke-width="2.4"/>
<path d="M488.8 293.7L488.8 267.4A26.3 26.3 0 0 0 478.4 317.8Z" fill="#0a0a0a" stroke="#0a0a0a" stroke-width="2" stroke-linejoin="round"/>
<circle cx="488.8" cy="293.7" r="8.8" fill="#fff" stroke="#0a0a0a" stroke-width="2.4"/>
<text x="489.1" y="296.7" font-size="8.5" text-anchor="middle" font-weight="bold" fill="#111">23</text>
<text x="476.8" y="281.7" font-size="8.4" text-anchor="middle" font-weight="bold" fill="#fff">43.5</text>
<text x="501.8" y="310.7" font-size="8.4" text-anchor="middle" font-weight="bold" fill="#111">56.5</text>
<text x="39.8" y="364.6" font-size="10.4" text-anchor="middle" font-weight="bold" fill="#111">HD10</text>
<text x="4.8" y="372.5" font-size="5.5" font-weight="normal" fill="#2a2a2a">OD<tspan dy="1.5" font-size="4.9">405</tspan></text>
<text x="13.3" y="444.7" font-size="5.8" text-anchor="end" font-weight="normal" fill="#222">0</text>
<line x1="14.5" y1="442.6" x2="16.7" y2="442.6" stroke="#111" stroke-width="0.8"/>
<text x="13.3" y="428.5" font-size="5.8" text-anchor="end" font-weight="normal" fill="#222">1</text>
<line x1="14.5" y1="426.4" x2="16.7" y2="426.4" stroke="#111" stroke-width="0.8"/>
<text x="13.3" y="412.3" font-size="5.8" text-anchor="end" font-weight="normal" fill="#222">2</text>
<line x1="14.5" y1="410.2" x2="16.7" y2="410.2" stroke="#111" stroke-width="0.8"/>
<text x="13.3" y="396.1" font-size="5.8" text-anchor="end" font-weight="normal" fill="#222">3</text>
<line x1="14.5" y1="394" x2="16.7" y2="394" stroke="#111" stroke-width="0.8"/>
<text x="13.3" y="379.9" font-size="5.8" text-anchor="end" font-weight="normal" fill="#222">4</text>
<line x1="14.5" y1="377.8" x2="16.7" y2="377.8" stroke="#111" stroke-width="0.8"/>
<text x="16.4" y="451.2" font-size="5.3" text-anchor="middle" font-weight="normal" fill="#222">0.1</text>
<text x="32.9" y="451.2" font-size="5.3" text-anchor="middle" font-weight="normal" fill="#222">1</text>
<text x="50.7" y="451.2" font-size="5.3" text-anchor="middle" font-weight="normal" fill="#222">10</text>
<text x="54.1" y="451.2" font-size="5.1" text-anchor="start" font-weight="normal" fill="#222">µg/mL</text>
<line x1="16.7" y1="442.6" x2="16.7" y2="444.6" stroke="#111" stroke-width="0.7"/>
<line x1="32.9" y1="442.6" x2="32.9" y2="444.6" stroke="#111" stroke-width="0.7"/>
<line x1="50.2" y1="442.6" x2="50.2" y2="444.6" stroke="#111" stroke-width="0.7"/>
<line x1="65.7" y1="442.6" x2="65.7" y2="444.6" stroke="#111" stroke-width="0.7"/>
<line x1="13.7" y1="435.8" x2="58.2" y2="435.8" stroke="#1a1a1a" stroke-width="1.2"/>
<path d="M28.1 441.8L37.3 441.5L46.3 441.1L55.9 440.9M28.1 442L37.3 441.7L46.3 441.7L55.9 441.3M28.1 440.8L37.3 440.3L46.3 439.4L55.9 437.7M28.1 438.3L37.3 438.1L46.3 437.2L55.9 435.5M28.1 437.8L37.3 437.6L46.3 437.1L55.9 436.1M28.1 439.4L37.3 431.3L46.3 420.7L55.9 414.2M28.1 441L37.3 437.7L46.3 428L55.9 416.7M28.1 441L37.3 438.6L46.3 432.9L55.9 419.1M28.1 441L37.3 439.4L46.3 434.5L55.9 425.6M28.1 441L37.3 439.4L46.3 435.3L55.9 427.2M28.1 441L37.3 439.4L46.3 436.1L55.9 428.8M28.1 441L37.3 439.4L46.3 436.9L55.9 430.5M28.1 441L37.3 440.2L46.3 437.7L55.9 432.6" fill="none" stroke="#0a0a0a" stroke-width="1.45" stroke-linejoin="round"/>
<path d="M28.1 439.9l1.9 1.9l-1.9 1.9l-1.9-1.9zM37.3 439.6l1.9 1.9l-1.9 1.9l-1.9-1.9zM46.3 439.2l1.9 1.9l-1.9 1.9l-1.9-1.9zM55.9 439l1.9 1.9l-1.9 1.9l-1.9-1.9zM28.1 440.1l1.9 1.9l-1.9 1.9l-1.9-1.9zM37.3 439.8l1.9 1.9l-1.9 1.9l-1.9-1.9zM46.3 439.8l1.9 1.9l-1.9 1.9l-1.9-1.9zM55.9 439.4l1.9 1.9l-1.9 1.9l-1.9-1.9zM28.1 438.9l1.9 1.9l-1.9 1.9l-1.9-1.9zM37.3 438.4l1.9 1.9l-1.9 1.9l-1.9-1.9zM46.3 437.5l1.9 1.9l-1.9 1.9l-1.9-1.9zM55.9 435.8l1.9 1.9l-1.9 1.9l-1.9-1.9zM28.1 436.4l1.9 1.9l-1.9 1.9l-1.9-1.9zM37.3 436.2l1.9 1.9l-1.9 1.9l-1.9-1.9zM46.3 435.3l1.9 1.9l-1.9 1.9l-1.9-1.9zM55.9 433.6l1.9 1.9l-1.9 1.9l-1.9-1.9zM28.1 435.9l1.9 1.9l-1.9 1.9l-1.9-1.9zM37.3 435.7l1.9 1.9l-1.9 1.9l-1.9-1.9zM46.3 435.2l1.9 1.9l-1.9 1.9l-1.9-1.9zM55.9 434.2l1.9 1.9l-1.9 1.9l-1.9-1.9zM28.1 437.5l1.9 1.9l-1.9 1.9l-1.9-1.9zM37.3 429.4l1.9 1.9l-1.9 1.9l-1.9-1.9zM46.3 418.8l1.9 1.9l-1.9 1.9l-1.9-1.9zM55.9 412.4l1.9 1.9l-1.9 1.9l-1.9-1.9zM28.1 439.1l1.9 1.9l-1.9 1.9l-1.9-1.9zM37.3 435.8l1.9 1.9l-1.9 1.9l-1.9-1.9zM46.3 426.1l1.9 1.9l-1.9 1.9l-1.9-1.9zM55.9 414.8l1.9 1.9l-1.9 1.9l-1.9-1.9zM28.1 439.1l1.9 1.9l-1.9 1.9l-1.9-1.9zM37.3 436.7l1.9 1.9l-1.9 1.9l-1.9-1.9zM46.3 431l1.9 1.9l-1.9 1.9l-1.9-1.9zM55.9 417.2l1.9 1.9l-1.9 1.9l-1.9-1.9zM28.1 439.1l1.9 1.9l-1.9 1.9l-1.9-1.9zM37.3 437.5l1.9 1.9l-1.9 1.9l-1.9-1.9zM46.3 432.6l1.9 1.9l-1.9 1.9l-1.9-1.9zM55.9 423.7l1.9 1.9l-1.9 1.9l-1.9-1.9zM28.1 439.1l1.9 1.9l-1.9 1.9l-1.9-1.9zM37.3 437.5l1.9 1.9l-1.9 1.9l-1.9-1.9zM46.3 433.4l1.9 1.9l-1.9 1.9l-1.9-1.9zM55.9 425.3l1.9 1.9l-1.9 1.9l-1.9-1.9zM28.1 439.1l1.9 1.9l-1.9 1.9l-1.9-1.9zM37.3 437.5l1.9 1.9l-1.9 1.9l-1.9-1.9zM46.3 434.2l1.9 1.9l-1.9 1.9l-1.9-1.9zM55.9 426.9l1.9 1.9l-1.9 1.9l-1.9-1.9zM28.1 439.1l1.9 1.9l-1.9 1.9l-1.9-1.9zM37.3 437.5l1.9 1.9l-1.9 1.9l-1.9-1.9zM46.3 435l1.9 1.9l-1.9 1.9l-1.9-1.9zM55.9 428.6l1.9 1.9l-1.9 1.9l-1.9-1.9zM28.1 439.1l1.9 1.9l-1.9 1.9l-1.9-1.9zM37.3 438.3l1.9 1.9l-1.9 1.9l-1.9-1.9zM46.3 435.8l1.9 1.9l-1.9 1.9l-1.9-1.9zM55.9 430.7l1.9 1.9l-1.9 1.9l-1.9-1.9z" fill="#0a0a0a" stroke="#0a0a0a" stroke-width=".5" stroke-linejoin="round"/>
<path d="M28.1 434.5L37.3 418.3L46.3 390.8L55.9 377.8" fill="none" stroke="#111" stroke-width=".8" stroke-dasharray="1.3 .9"/>
<path d="M28.1 432.6l1.9 1.9l-1.9 1.9l-1.9-1.9zM37.3 416.4l1.9 1.9l-1.9 1.9l-1.9-1.9zM46.3 388.9l1.9 1.9l-1.9 1.9l-1.9-1.9zM55.9 375.9l1.9 1.9l-1.9 1.9l-1.9-1.9z" fill="#111" stroke="#111" stroke-width=".4" stroke-linejoin="round"/>
<line x1="16.7" y1="377.3" x2="16.7" y2="443.3" stroke="#111" stroke-width="1.5"/>
<line x1="16" y1="442.6" x2="66.2" y2="442.6" stroke="#111" stroke-width="1.6"/>
<text x="105.8" y="365.7" font-size="10.4" text-anchor="middle" font-weight="bold" fill="#111">HD11</text>
<text x="69.9" y="372.5" font-size="5.5" font-weight="normal" fill="#2a2a2a">OD<tspan dy="1.5" font-size="4.9">405</tspan></text>
<text x="80.1" y="444.7" font-size="5.8" text-anchor="end" font-weight="normal" fill="#222">0</text>
<line x1="81.3" y1="442.6" x2="83.5" y2="442.6" stroke="#111" stroke-width="0.8"/>
<text x="80.1" y="428.5" font-size="5.8" text-anchor="end" font-weight="normal" fill="#222">1</text>
<line x1="81.3" y1="426.4" x2="83.5" y2="426.4" stroke="#111" stroke-width="0.8"/>
<text x="80.1" y="412.3" font-size="5.8" text-anchor="end" font-weight="normal" fill="#222">2</text>
<line x1="81.3" y1="410.2" x2="83.5" y2="410.2" stroke="#111" stroke-width="0.8"/>
<text x="80.1" y="396.1" font-size="5.8" text-anchor="end" font-weight="normal" fill="#222">3</text>
<line x1="81.3" y1="394" x2="83.5" y2="394" stroke="#111" stroke-width="0.8"/>
<text x="80.1" y="379.9" font-size="5.8" text-anchor="end" font-weight="normal" fill="#222">4</text>
<line x1="81.3" y1="377.8" x2="83.5" y2="377.8" stroke="#111" stroke-width="0.8"/>
<text x="83.5" y="451.2" font-size="5.3" text-anchor="middle" font-weight="normal" fill="#222">0.1</text>
<text x="100" y="451.2" font-size="5.3" text-anchor="middle" font-weight="normal" fill="#222">1</text>
<text x="116.5" y="451.2" font-size="5.3" text-anchor="middle" font-weight="normal" fill="#222">10</text>
<text x="119.9" y="451.2" font-size="5.1" text-anchor="start" font-weight="normal" fill="#222">µg/mL</text>
<line x1="83.5" y1="442.6" x2="83.5" y2="444.6" stroke="#111" stroke-width="0.7"/>
<line x1="100" y1="442.6" x2="100" y2="444.6" stroke="#111" stroke-width="0.7"/>
<line x1="116" y1="442.6" x2="116" y2="444.6" stroke="#111" stroke-width="0.7"/>
<line x1="132.5" y1="442.6" x2="132.5" y2="444.6" stroke="#111" stroke-width="0.7"/>
<line x1="80.5" y1="435.8" x2="125" y2="435.8" stroke="#1a1a1a" stroke-width="1.2"/>
<path d="M92.4 437.7L102.3 432.9L112.3 405.3L122.6 377.8M92.4 437.7L102.3 434.5L112.3 426.4L122.6 405.3M92.4 438.6L102.3 434.5L112.3 429.6L122.6 423.2M92.4 439.4L102.3 435.3L112.3 431.3L122.6 424.8M92.4 439.4L102.3 436.1L112.3 432.9L122.6 428M92.4 441L102.3 439.4L112.3 436.1L122.6 434.5M92.4 436.1L102.3 435.8L112.3 435.3L122.6 435.3M92.4 441L102.3 440.2L112.3 439.4L122.6 438.6M92.4 441.3L102.3 441L112.3 441L122.6 440.2M92.4 437.7L102.3 437.7L112.3 436.9L122.6 436.9M92.4 439.4L102.3 439.4L112.3 438.6L122.6 437.7" fill="none" stroke="#0a0a0a" stroke-width="1.45" stroke-linejoin="round"/>
<path d="M92.4 435.8l1.9 1.9l-1.9 1.9l-1.9-1.9zM102.3 431l1.9 1.9l-1.9 1.9l-1.9-1.9zM112.3 403.4l1.9 1.9l-1.9 1.9l-1.9-1.9zM122.6 375.9l1.9 1.9l-1.9 1.9l-1.9-1.9zM92.4 435.8l1.9 1.9l-1.9 1.9l-1.9-1.9zM102.3 432.6l1.9 1.9l-1.9 1.9l-1.9-1.9zM112.3 424.5l1.9 1.9l-1.9 1.9l-1.9-1.9zM122.6 403.4l1.9 1.9l-1.9 1.9l-1.9-1.9zM92.4 436.7l1.9 1.9l-1.9 1.9l-1.9-1.9zM102.3 432.6l1.9 1.9l-1.9 1.9l-1.9-1.9zM112.3 427.7l1.9 1.9l-1.9 1.9l-1.9-1.9zM122.6 421.3l1.9 1.9l-1.9 1.9l-1.9-1.9zM92.4 437.5l1.9 1.9l-1.9 1.9l-1.9-1.9zM102.3 433.4l1.9 1.9l-1.9 1.9l-1.9-1.9zM112.3 429.4l1.9 1.9l-1.9 1.9l-1.9-1.9zM122.6 422.9l1.9 1.9l-1.9 1.9l-1.9-1.9zM92.4 437.5l1.9 1.9l-1.9 1.9l-1.9-1.9zM102.3 434.2l1.9 1.9l-1.9 1.9l-1.9-1.9zM112.3 431l1.9 1.9l-1.9 1.9l-1.9-1.9zM122.6 426.1l1.9 1.9l-1.9 1.9l-1.9-1.9zM92.4 439.1l1.9 1.9l-1.9 1.9l-1.9-1.9zM102.3 437.5l1.9 1.9l-1.9 1.9l-1.9-1.9zM112.3 434.2l1.9 1.9l-1.9 1.9l-1.9-1.9zM122.6 432.6l1.9 1.9l-1.9 1.9l-1.9-1.9zM92.4 434.2l1.9 1.9l-1.9 1.9l-1.9-1.9zM102.3 433.9l1.9 1.9l-1.9 1.9l-1.9-1.9zM112.3 433.4l1.9 1.9l-1.9 1.9l-1.9-1.9zM122.6 433.4l1.9 1.9l-1.9 1.9l-1.9-1.9zM92.4 439.1l1.9 1.9l-1.9 1.9l-1.9-1.9zM102.3 438.3l1.9 1.9l-1.9 1.9l-1.9-1.9zM112.3 437.5l1.9 1.9l-1.9 1.9l-1.9-1.9zM122.6 436.7l1.9 1.9l-1.9 1.9l-1.9-1.9zM92.4 439.4l1.9 1.9l-1.9 1.9l-1.9-1.9zM102.3 439.1l1.9 1.9l-1.9 1.9l-1.9-1.9zM112.3 439.1l1.9 1.9l-1.9 1.9l-1.9-1.9zM122.6 438.3l1.9 1.9l-1.9 1.9l-1.9-1.9zM92.4 435.8l1.9 1.9l-1.9 1.9l-1.9-1.9zM102.3 435.8l1.9 1.9l-1.9 1.9l-1.9-1.9zM112.3 435l1.9 1.9l-1.9 1.9l-1.9-1.9zM122.6 435l1.9 1.9l-1.9 1.9l-1.9-1.9zM92.4 437.5l1.9 1.9l-1.9 1.9l-1.9-1.9zM102.3 437.5l1.9 1.9l-1.9 1.9l-1.9-1.9zM112.3 436.7l1.9 1.9l-1.9 1.9l-1.9-1.9zM122.6 435.8l1.9 1.9l-1.9 1.9l-1.9-1.9z" fill="#0a0a0a" stroke="#0a0a0a" stroke-width=".5" stroke-linejoin="round"/>
<path d="M92.4 429.3L102.3 422.4L112.3 396.9L122.6 377.8" fill="none" stroke="#111" stroke-width=".8" stroke-dasharray="1.3 .9"/>
<path d="M92.4 427.4l1.9 1.9l-1.9 1.9l-1.9-1.9zM102.3 420.5l1.9 1.9l-1.9 1.9l-1.9-1.9zM112.3 395l1.9 1.9l-1.9 1.9l-1.9-1.9zM122.6 375.9l1.9 1.9l-1.9 1.9l-1.9-1.9z" fill="#111" stroke="#111" stroke-width=".4" stroke-linejoin="round"/>
<line x1="83.5" y1="377.3" x2="83.5" y2="443.3" stroke="#111" stroke-width="1.5"/>
<line x1="82.8" y1="442.6" x2="133" y2="442.6" stroke="#111" stroke-width="1.6"/>
<text x="172.4" y="365.7" font-size="10.4" text-anchor="middle" font-weight="bold" fill="#111">RA01</text>
<text x="135.8" y="372.5" font-size="5.5" font-weight="normal" fill="#2a2a2a">OD<tspan dy="1.5" font-size="4.9">405</tspan></text>
<text x="146" y="444.7" font-size="5.8" text-anchor="end" font-weight="normal" fill="#222">0</text>
<line x1="147.2" y1="442.6" x2="149.4" y2="442.6" stroke="#111" stroke-width="0.8"/>
<text x="146" y="428.5" font-size="5.8" text-anchor="end" font-weight="normal" fill="#222">1</text>
<line x1="147.2" y1="426.4" x2="149.4" y2="426.4" stroke="#111" stroke-width="0.8"/>
<text x="146" y="412.3" font-size="5.8" text-anchor="end" font-weight="normal" fill="#222">2</text>
<line x1="147.2" y1="410.2" x2="149.4" y2="410.2" stroke="#111" stroke-width="0.8"/>
<text x="146" y="396.1" font-size="5.8" text-anchor="end" font-weight="normal" fill="#222">3</text>
<line x1="147.2" y1="394" x2="149.4" y2="394" stroke="#111" stroke-width="0.8"/>
<text x="146" y="379.9" font-size="5.8" text-anchor="end" font-weight="normal" fill="#222">4</text>
<line x1="147.2" y1="377.8" x2="149.4" y2="377.8" stroke="#111" stroke-width="0.8"/>
<text x="148.7" y="451.2" font-size="5.3" text-anchor="middle" font-weight="normal" fill="#222">0.1</text>
<text x="164.9" y="451.2" font-size="5.3" text-anchor="middle" font-weight="normal" fill="#222">1</text>
<text x="182.4" y="451.2" font-size="5.3" text-anchor="middle" font-weight="normal" fill="#222">10</text>
<text x="185.7" y="451.2" font-size="5.1" text-anchor="start" font-weight="normal" fill="#222">µg/mL</text>
<line x1="149.4" y1="442.6" x2="149.4" y2="444.6" stroke="#111" stroke-width="0.7"/>
<line x1="164.9" y1="442.6" x2="164.9" y2="444.6" stroke="#111" stroke-width="0.7"/>
<line x1="181.9" y1="442.6" x2="181.9" y2="444.6" stroke="#111" stroke-width="0.7"/>
<line x1="198.4" y1="442.6" x2="198.4" y2="444.6" stroke="#111" stroke-width="0.7"/>
<line x1="146.4" y1="435.8" x2="190.9" y2="435.8" stroke="#1a1a1a" stroke-width="1.2"/>
<path d="M159.7 441.3L169 441.3L178.2 441.2L187.8 441.1M159.7 438.4L169 438.5L178.2 438.5L187.8 438.3M159.7 439.9L169 439.9L178.2 437.8L187.8 435.4M159.7 440.4L169 440.6L178.2 440.6L187.8 440.2M159.7 441.9L169 442L178.2 441.3L187.8 440.2M159.7 439.9L169 439.6L178.2 439L187.8 437.3M159.7 440.7L169 440.6L178.2 440.6L187.8 440.3M159.7 439.6L169 439.9L178.2 438.9L187.8 438.2M159.7 440.4L169 440.1L178.2 439L187.8 437.6M159.7 441.8L169 441.5L178.2 439.4L187.8 436.4M159.7 440.9L169 440.7L178.2 440.7L187.8 438.9M159.7 440.9L169 440.6L178.2 439.5L187.8 437.8M159.7 400.5L169 377.8L178.2 377.8L187.8 377.8M159.7 434.5L169 421.5L178.2 387.5L187.8 377.8M159.7 436.1L169 423.2L178.2 397.2L187.8 377.8M159.7 437.7L169 429.6L178.2 399.7L187.8 377.8M159.7 439.4L169 432.9L178.2 419.9L187.8 390.8M159.7 440.2L169 434.5L178.2 426.4L187.8 399.7M159.7 440.2L169 436.1L178.2 429.6L187.8 402.1M159.7 441L169 437.7L178.2 429.6L187.8 417.5M159.7 441L169 437.7L178.2 432.9L187.8 423.2M159.7 441L169 439.4L178.2 434.5L187.8 426.4M159.7 441L169 439.4L178.2 436.1L187.8 431.3M159.7 441L169 439.4L178.2 435.3L187.8 428.8M159.7 441L169 439.4L178.2 432.9L187.8 420.7" fill="none" stroke="#0a0a0a" stroke-width="1.45" stroke-linejoin="round"/>
<path d="M159.7 439.4l1.9 1.9l-1.9 1.9l-1.9-1.9zM169 439.4l1.9 1.9l-1.9 1.9l-1.9-1.9zM178.2 439.3l1.9 1.9l-1.9 1.9l-1.9-1.9zM187.8 439.2l1.9 1.9l-1.9 1.9l-1.9-1.9zM159.7 436.5l1.9 1.9l-1.9 1.9l-1.9-1.9zM169 436.6l1.9 1.9l-1.9 1.9l-1.9-1.9zM178.2 436.6l1.9 1.9l-1.9 1.9l-1.9-1.9zM187.8 436.4l1.9 1.9l-1.9 1.9l-1.9-1.9zM159.7 438l1.9 1.9l-1.9 1.9l-1.9-1.9zM169 438l1.9 1.9l-1.9 1.9l-1.9-1.9zM178.2 435.9l1.9 1.9l-1.9 1.9l-1.9-1.9zM187.8 433.5l1.9 1.9l-1.9 1.9l-1.9-1.9zM159.7 438.5l1.9 1.9l-1.9 1.9l-1.9-1.9zM169 438.7l1.9 1.9l-1.9 1.9l-1.9-1.9zM178.2 438.7l1.9 1.9l-1.9 1.9l-1.9-1.9zM187.8 438.3l1.9 1.9l-1.9 1.9l-1.9-1.9zM159.7 440l1.9 1.9l-1.9 1.9l-1.9-1.9zM169 440.1l1.9 1.9l-1.9 1.9l-1.9-1.9zM178.2 439.4l1.9 1.9l-1.9 1.9l-1.9-1.9zM187.8 438.3l1.9 1.9l-1.9 1.9l-1.9-1.9zM159.7 438l1.9 1.9l-1.9 1.9l-1.9-1.9zM169 437.7l1.9 1.9l-1.9 1.9l-1.9-1.9zM178.2 437.1l1.9 1.9l-1.9 1.9l-1.9-1.9zM187.8 435.4l1.9 1.9l-1.9 1.9l-1.9-1.9zM159.7 438.8l1.9 1.9l-1.9 1.9l-1.9-1.9zM169 438.7l1.9 1.9l-1.9 1.9l-1.9-1.9zM178.2 438.7l1.9 1.9l-1.9 1.9l-1.9-1.9zM187.8 438.4l1.9 1.9l-1.9 1.9l-1.9-1.9zM159.7 437.7l1.9 1.9l-1.9 1.9l-1.9-1.9zM169 438l1.9 1.9l-1.9 1.9l-1.9-1.9zM178.2 437l1.9 1.9l-1.9 1.9l-1.9-1.9zM187.8 436.3l1.9 1.9l-1.9 1.9l-1.9-1.9zM159.7 438.5l1.9 1.9l-1.9 1.9l-1.9-1.9zM169 438.2l1.9 1.9l-1.9 1.9l-1.9-1.9zM178.2 437.1l1.9 1.9l-1.9 1.9l-1.9-1.9zM187.8 435.7l1.9 1.9l-1.9 1.9l-1.9-1.9zM159.7 439.9l1.9 1.9l-1.9 1.9l-1.9-1.9zM169 439.6l1.9 1.9l-1.9 1.9l-1.9-1.9zM178.2 437.5l1.9 1.9l-1.9 1.9l-1.9-1.9zM187.8 434.5l1.9 1.9l-1.9 1.9l-1.9-1.9zM159.7 439l1.9 1.9l-1.9 1.9l-1.9-1.9zM169 438.8l1.9 1.9l-1.9 1.9l-1.9-1.9zM178.2 438.8l1.9 1.9l-1.9 1.9l-1.9-1.9zM187.8 437l1.9 1.9l-1.9 1.9l-1.9-1.9zM159.7 439l1.9 1.9l-1.9 1.9l-1.9-1.9zM169 438.7l1.9 1.9l-1.9 1.9l-1.9-1.9zM178.2 437.6l1.9 1.9l-1.9 1.9l-1.9-1.9zM187.8 435.9l1.9 1.9l-1.9 1.9l-1.9-1.9zM159.7 398.6l1.9 1.9l-1.9 1.9l-1.9-1.9zM169 375.9l1.9 1.9l-1.9 1.9l-1.9-1.9zM178.2 375.9l1.9 1.9l-1.9 1.9l-1.9-1.9zM187.8 375.9l1.9 1.9l-1.9 1.9l-1.9-1.9zM159.7 432.6l1.9 1.9l-1.9 1.9l-1.9-1.9zM169 419.6l1.9 1.9l-1.9 1.9l-1.9-1.9zM178.2 385.6l1.9 1.9l-1.9 1.9l-1.9-1.9zM187.8 375.9l1.9 1.9l-1.9 1.9l-1.9-1.9zM159.7 434.2l1.9 1.9l-1.9 1.9l-1.9-1.9zM169 421.3l1.9 1.9l-1.9 1.9l-1.9-1.9zM178.2 395.3l1.9 1.9l-1.9 1.9l-1.9-1.9zM187.8 375.9l1.9 1.9l-1.9 1.9l-1.9-1.9zM159.7 435.8l1.9 1.9l-1.9 1.9l-1.9-1.9zM169 427.7l1.9 1.9l-1.9 1.9l-1.9-1.9zM178.2 397.8l1.9 1.9l-1.9 1.9l-1.9-1.9zM187.8 375.9l1.9 1.9l-1.9 1.9l-1.9-1.9zM159.7 437.5l1.9 1.9l-1.9 1.9l-1.9-1.9zM169 431l1.9 1.9l-1.9 1.9l-1.9-1.9zM178.2 418l1.9 1.9l-1.9 1.9l-1.9-1.9zM187.8 388.9l1.9 1.9l-1.9 1.9l-1.9-1.9zM159.7 438.3l1.9 1.9l-1.9 1.9l-1.9-1.9zM169 432.6l1.9 1.9l-1.9 1.9l-1.9-1.9zM178.2 424.5l1.9 1.9l-1.9 1.9l-1.9-1.9zM187.8 397.8l1.9 1.9l-1.9 1.9l-1.9-1.9zM159.7 438.3l1.9 1.9l-1.9 1.9l-1.9-1.9zM169 434.2l1.9 1.9l-1.9 1.9l-1.9-1.9zM178.2 427.7l1.9 1.9l-1.9 1.9l-1.9-1.9zM187.8 400.2l1.9 1.9l-1.9 1.9l-1.9-1.9zM159.7 439.1l1.9 1.9l-1.9 1.9l-1.9-1.9zM169 435.8l1.9 1.9l-1.9 1.9l-1.9-1.9zM178.2 427.7l1.9 1.9l-1.9 1.9l-1.9-1.9zM187.8 415.6l1.9 1.9l-1.9 1.9l-1.9-1.9zM159.7 439.1l1.9 1.9l-1.9 1.9l-1.9-1.9zM169 435.8l1.9 1.9l-1.9 1.9l-1.9-1.9zM178.2 431l1.9 1.9l-1.9 1.9l-1.9-1.9zM187.8 421.3l1.9 1.9l-1.9 1.9l-1.9-1.9zM159.7 439.1l1.9 1.9l-1.9 1.9l-1.9-1.9zM169 437.5l1.9 1.9l-1.9 1.9l-1.9-1.9zM178.2 432.6l1.9 1.9l-1.9 1.9l-1.9-1.9zM187.8 424.5l1.9 1.9l-1.9 1.9l-1.9-1.9zM159.7 439.1l1.9 1.9l-1.9 1.9l-1.9-1.9zM169 437.5l1.9 1.9l-1.9 1.9l-1.9-1.9zM178.2 434.2l1.9 1.9l-1.9 1.9l-1.9-1.9zM187.8 429.4l1.9 1.9l-1.9 1.9l-1.9-1.9zM159.7 439.1l1.9 1.9l-1.9 1.9l-1.9-1.9zM169 437.5l1.9 1.9l-1.9 1.9l-1.9-1.9zM178.2 433.4l1.9 1.9l-1.9 1.9l-1.9-1.9zM187.8 426.9l1.9 1.9l-1.9 1.9l-1.9-1.9zM159.7 439.1l1.9 1.9l-1.9 1.9l-1.9-1.9zM169 437.5l1.9 1.9l-1.9 1.9l-1.9-1.9zM178.2 431l1.9 1.9l-1.9 1.9l-1.9-1.9zM187.8 418.8l1.9 1.9l-1.9 1.9l-1.9-1.9z" fill="#0a0a0a" stroke="#0a0a0a" stroke-width=".5" stroke-linejoin="round"/>
<path d="M159.7 433.7L169 421.5L178.2 396.4L187.8 377.8" fill="none" stroke="#111" stroke-width=".8" stroke-dasharray="1.3 .9"/>
<path d="M159.7 431.8l1.9 1.9l-1.9 1.9l-1.9-1.9zM169 419.6l1.9 1.9l-1.9 1.9l-1.9-1.9zM178.2 394.5l1.9 1.9l-1.9 1.9l-1.9-1.9zM187.8 375.9l1.9 1.9l-1.9 1.9l-1.9-1.9z" fill="#111" stroke="#111" stroke-width=".4" stroke-linejoin="round"/>
<line x1="149.4" y1="377.3" x2="149.4" y2="443.3" stroke="#111" stroke-width="1.5"/>
<line x1="148.7" y1="442.6" x2="198.9" y2="442.6" stroke="#111" stroke-width="1.6"/>
<text x="232.3" y="365.7" font-size="10.4" text-anchor="middle" font-weight="bold" fill="#111">RA14</text>
<text x="197.4" y="372.5" font-size="5.5" font-weight="normal" fill="#2a2a2a">OD<tspan dy="1.5" font-size="4.9">405</tspan></text>
<text x="207.6" y="444.7" font-size="5.8" text-anchor="end" font-weight="normal" fill="#222">0</text>
<line x1="208.8" y1="442.6" x2="211" y2="442.6" stroke="#111" stroke-width="0.8"/>
<text x="207.6" y="428.5" font-size="5.8" text-anchor="end" font-weight="normal" fill="#222">1</text>
<line x1="208.8" y1="426.4" x2="211" y2="426.4" stroke="#111" stroke-width="0.8"/>
<text x="207.6" y="412.3" font-size="5.8" text-anchor="end" font-weight="normal" fill="#222">2</text>
<line x1="208.8" y1="410.2" x2="211" y2="410.2" stroke="#111" stroke-width="0.8"/>
<text x="207.6" y="396.1" font-size="5.8" text-anchor="end" font-weight="normal" fill="#222">3</text>
<line x1="208.8" y1="394" x2="211" y2="394" stroke="#111" stroke-width="0.8"/>
<text x="207.6" y="379.9" font-size="5.8" text-anchor="end" font-weight="normal" fill="#222">4</text>
<line x1="208.8" y1="377.8" x2="211" y2="377.8" stroke="#111" stroke-width="0.8"/>
<text x="210.3" y="451.2" font-size="5.3" text-anchor="middle" font-weight="normal" fill="#222">0.1</text>
<text x="226.8" y="451.2" font-size="5.3" text-anchor="middle" font-weight="normal" fill="#222">1</text>
<text x="244" y="451.2" font-size="5.3" text-anchor="middle" font-weight="normal" fill="#222">10</text>
<text x="247.4" y="451.2" font-size="5.1" text-anchor="start" font-weight="normal" fill="#222">µg/mL</text>
<line x1="211" y1="442.6" x2="211" y2="444.6" stroke="#111" stroke-width="0.7"/>
<line x1="226.8" y1="442.6" x2="226.8" y2="444.6" stroke="#111" stroke-width="0.7"/>
<line x1="243.5" y1="442.6" x2="243.5" y2="444.6" stroke="#111" stroke-width="0.7"/>
<line x1="260" y1="442.6" x2="260" y2="444.6" stroke="#111" stroke-width="0.7"/>
<line x1="208" y1="435.8" x2="252.5" y2="435.8" stroke="#1a1a1a" stroke-width="1.2"/>
<path d="M220.9 440.2L230.2 439.8L239.5 439.4L248.7 438.5M220.9 441.8L230.2 441.5L239.5 440.1L248.7 438.9M220.9 440.9L230.2 440.7L239.5 440.7L248.7 440.3M220.9 441.1L230.2 440.7L239.5 438.5L248.7 435.3M220.9 440.1L230.2 440L239.5 438.9L248.7 436.4M220.9 440.6L230.2 440.7L239.5 440.2L248.7 439.3M220.9 440.7L230.2 440.6L239.5 440.1L248.7 439.8M220.9 440.7L230.2 440.4L239.5 439.8L248.7 437.1M220.9 440.8L230.2 440.7L239.5 438.1L248.7 434.9M220.9 440.9L230.2 440.4L239.5 438.6L248.7 435.2M220.9 440.5L230.2 440.7L239.5 440.2L248.7 439.6M220.9 440.7L230.2 440.6L239.5 439.9L248.7 439.3M220.9 441.8L230.2 441.6L239.5 441.8L248.7 441.4M220.9 440.6L230.2 440.6L239.5 440.5L248.7 439.7M220.9 431.3L230.2 406.2L239.5 377.8L248.7 377.8M220.9 441L230.2 436.1L239.5 421.5L248.7 394.8M220.9 441L230.2 437.7L239.5 426.4L248.7 407M220.9 441L230.2 437.7L239.5 428L248.7 408.6M220.9 441L230.2 437.7L239.5 432.9L248.7 418.3M220.9 441L230.2 439.4L239.5 434.5L248.7 420.7M220.9 441L230.2 437.7L239.5 429.6L248.7 411.8M220.9 441L230.2 439.4L239.5 431.3L248.7 422.4M220.9 441L230.2 439.4L239.5 436.1L248.7 426.4M220.9 441L230.2 439.4L239.5 436.1L248.7 428.8M220.9 441L230.2 439.4L239.5 436.9L248.7 431.3" fill="none" stroke="#0a0a0a" stroke-width="1.45" stroke-linejoin="round"/>
<path d="M220.9 438.3l1.9 1.9l-1.9 1.9l-1.9-1.9zM230.2 437.9l1.9 1.9l-1.9 1.9l-1.9-1.9zM239.5 437.5l1.9 1.9l-1.9 1.9l-1.9-1.9zM248.7 436.6l1.9 1.9l-1.9 1.9l-1.9-1.9zM220.9 439.9l1.9 1.9l-1.9 1.9l-1.9-1.9zM230.2 439.6l1.9 1.9l-1.9 1.9l-1.9-1.9zM239.5 438.2l1.9 1.9l-1.9 1.9l-1.9-1.9zM248.7 437l1.9 1.9l-1.9 1.9l-1.9-1.9zM220.9 439l1.9 1.9l-1.9 1.9l-1.9-1.9zM230.2 438.8l1.9 1.9l-1.9 1.9l-1.9-1.9zM239.5 438.8l1.9 1.9l-1.9 1.9l-1.9-1.9zM248.7 438.4l1.9 1.9l-1.9 1.9l-1.9-1.9zM220.9 439.2l1.9 1.9l-1.9 1.9l-1.9-1.9zM230.2 438.8l1.9 1.9l-1.9 1.9l-1.9-1.9zM239.5 436.6l1.9 1.9l-1.9 1.9l-1.9-1.9zM248.7 433.4l1.9 1.9l-1.9 1.9l-1.9-1.9zM220.9 438.2l1.9 1.9l-1.9 1.9l-1.9-1.9zM230.2 438.1l1.9 1.9l-1.9 1.9l-1.9-1.9zM239.5 437l1.9 1.9l-1.9 1.9l-1.9-1.9zM248.7 434.5l1.9 1.9l-1.9 1.9l-1.9-1.9zM220.9 438.7l1.9 1.9l-1.9 1.9l-1.9-1.9zM230.2 438.8l1.9 1.9l-1.9 1.9l-1.9-1.9zM239.5 438.3l1.9 1.9l-1.9 1.9l-1.9-1.9zM248.7 437.4l1.9 1.9l-1.9 1.9l-1.9-1.9zM220.9 438.8l1.9 1.9l-1.9 1.9l-1.9-1.9zM230.2 438.7l1.9 1.9l-1.9 1.9l-1.9-1.9zM239.5 438.2l1.9 1.9l-1.9 1.9l-1.9-1.9zM248.7 437.9l1.9 1.9l-1.9 1.9l-1.9-1.9zM220.9 438.8l1.9 1.9l-1.9 1.9l-1.9-1.9zM230.2 438.5l1.9 1.9l-1.9 1.9l-1.9-1.9zM239.5 437.9l1.9 1.9l-1.9 1.9l-1.9-1.9zM248.7 435.2l1.9 1.9l-1.9 1.9l-1.9-1.9zM220.9 438.9l1.9 1.9l-1.9 1.9l-1.9-1.9zM230.2 438.8l1.9 1.9l-1.9 1.9l-1.9-1.9zM239.5 436.2l1.9 1.9l-1.9 1.9l-1.9-1.9zM248.7 433l1.9 1.9l-1.9 1.9l-1.9-1.9zM220.9 439l1.9 1.9l-1.9 1.9l-1.9-1.9zM230.2 438.5l1.9 1.9l-1.9 1.9l-1.9-1.9zM239.5 436.7l1.9 1.9l-1.9 1.9l-1.9-1.9zM248.7 433.3l1.9 1.9l-1.9 1.9l-1.9-1.9zM220.9 438.6l1.9 1.9l-1.9 1.9l-1.9-1.9zM230.2 438.8l1.9 1.9l-1.9 1.9l-1.9-1.9zM239.5 438.3l1.9 1.9l-1.9 1.9l-1.9-1.9zM248.7 437.7l1.9 1.9l-1.9 1.9l-1.9-1.9zM220.9 438.8l1.9 1.9l-1.9 1.9l-1.9-1.9zM230.2 438.7l1.9 1.9l-1.9 1.9l-1.9-1.9zM239.5 438l1.9 1.9l-1.9 1.9l-1.9-1.9zM248.7 437.4l1.9 1.9l-1.9 1.9l-1.9-1.9zM220.9 439.9l1.9 1.9l-1.9 1.9l-1.9-1.9zM230.2 439.7l1.9 1.9l-1.9 1.9l-1.9-1.9zM239.5 439.9l1.9 1.9l-1.9 1.9l-1.9-1.9zM248.7 439.5l1.9 1.9l-1.9 1.9l-1.9-1.9zM220.9 438.7l1.9 1.9l-1.9 1.9l-1.9-1.9zM230.2 438.7l1.9 1.9l-1.9 1.9l-1.9-1.9zM239.5 438.6l1.9 1.9l-1.9 1.9l-1.9-1.9zM248.7 437.8l1.9 1.9l-1.9 1.9l-1.9-1.9zM220.9 429.4l1.9 1.9l-1.9 1.9l-1.9-1.9zM230.2 404.3l1.9 1.9l-1.9 1.9l-1.9-1.9zM239.5 375.9l1.9 1.9l-1.9 1.9l-1.9-1.9zM248.7 375.9l1.9 1.9l-1.9 1.9l-1.9-1.9zM220.9 439.1l1.9 1.9l-1.9 1.9l-1.9-1.9zM230.2 434.2l1.9 1.9l-1.9 1.9l-1.9-1.9zM239.5 419.6l1.9 1.9l-1.9 1.9l-1.9-1.9zM248.7 392.9l1.9 1.9l-1.9 1.9l-1.9-1.9zM220.9 439.1l1.9 1.9l-1.9 1.9l-1.9-1.9zM230.2 435.8l1.9 1.9l-1.9 1.9l-1.9-1.9zM239.5 424.5l1.9 1.9l-1.9 1.9l-1.9-1.9zM248.7 405.1l1.9 1.9l-1.9 1.9l-1.9-1.9zM220.9 439.1l1.9 1.9l-1.9 1.9l-1.9-1.9zM230.2 435.8l1.9 1.9l-1.9 1.9l-1.9-1.9zM239.5 426.1l1.9 1.9l-1.9 1.9l-1.9-1.9zM248.7 406.7l1.9 1.9l-1.9 1.9l-1.9-1.9zM220.9 439.1l1.9 1.9l-1.9 1.9l-1.9-1.9zM230.2 435.8l1.9 1.9l-1.9 1.9l-1.9-1.9zM239.5 431l1.9 1.9l-1.9 1.9l-1.9-1.9zM248.7 416.4l1.9 1.9l-1.9 1.9l-1.9-1.9zM220.9 439.1l1.9 1.9l-1.9 1.9l-1.9-1.9zM230.2 437.5l1.9 1.9l-1.9 1.9l-1.9-1.9zM239.5 432.6l1.9 1.9l-1.9 1.9l-1.9-1.9zM248.7 418.8l1.9 1.9l-1.9 1.9l-1.9-1.9zM220.9 439.1l1.9 1.9l-1.9 1.9l-1.9-1.9zM230.2 435.8l1.9 1.9l-1.9 1.9l-1.9-1.9zM239.5 427.7l1.9 1.9l-1.9 1.9l-1.9-1.9zM248.7 409.9l1.9 1.9l-1.9 1.9l-1.9-1.9zM220.9 439.1l1.9 1.9l-1.9 1.9l-1.9-1.9zM230.2 437.5l1.9 1.9l-1.9 1.9l-1.9-1.9zM239.5 429.4l1.9 1.9l-1.9 1.9l-1.9-1.9zM248.7 420.5l1.9 1.9l-1.9 1.9l-1.9-1.9zM220.9 439.1l1.9 1.9l-1.9 1.9l-1.9-1.9zM230.2 437.5l1.9 1.9l-1.9 1.9l-1.9-1.9zM239.5 434.2l1.9 1.9l-1.9 1.9l-1.9-1.9zM248.7 424.5l1.9 1.9l-1.9 1.9l-1.9-1.9zM220.9 439.1l1.9 1.9l-1.9 1.9l-1.9-1.9zM230.2 437.5l1.9 1.9l-1.9 1.9l-1.9-1.9zM239.5 434.2l1.9 1.9l-1.9 1.9l-1.9-1.9zM248.7 426.9l1.9 1.9l-1.9 1.9l-1.9-1.9zM220.9 439.1l1.9 1.9l-1.9 1.9l-1.9-1.9zM230.2 437.5l1.9 1.9l-1.9 1.9l-1.9-1.9zM239.5 435l1.9 1.9l-1.9 1.9l-1.9-1.9zM248.7 429.4l1.9 1.9l-1.9 1.9l-1.9-1.9z" fill="#0a0a0a" stroke="#0a0a0a" stroke-width=".5" stroke-linejoin="round"/>
<path d="M220.9 432.1L230.2 421.5L239.5 388.3L248.7 377.8" fill="none" stroke="#111" stroke-width=".8" stroke-dasharray="1.3 .9"/>
<path d="M220.9 430.2l1.9 1.9l-1.9 1.9l-1.9-1.9zM230.2 419.6l1.9 1.9l-1.9 1.9l-1.9-1.9zM239.5 386.4l1.9 1.9l-1.9 1.9l-1.9-1.9zM248.7 375.9l1.9 1.9l-1.9 1.9l-1.9-1.9z" fill="#111" stroke="#111" stroke-width=".4" stroke-linejoin="round"/>
<line x1="211" y1="377.3" x2="211" y2="443.3" stroke="#111" stroke-width="1.5"/>
<line x1="210.3" y1="442.6" x2="260.5" y2="442.6" stroke="#111" stroke-width="1.6"/>
<text x="297.7" y="365.7" font-size="10.4" text-anchor="middle" font-weight="bold" fill="#111">RA19</text>
<text x="261.2" y="372.5" font-size="5.5" font-weight="normal" fill="#2a2a2a">OD<tspan dy="1.5" font-size="4.9">405</tspan></text>
<text x="271.4" y="444.7" font-size="5.8" text-anchor="end" font-weight="normal" fill="#222">0</text>
<line x1="272.6" y1="442.6" x2="274.8" y2="442.6" stroke="#111" stroke-width="0.8"/>
<text x="271.4" y="428.5" font-size="5.8" text-anchor="end" font-weight="normal" fill="#222">1</text>
<line x1="272.6" y1="426.4" x2="274.8" y2="426.4" stroke="#111" stroke-width="0.8"/>
<text x="271.4" y="412.3" font-size="5.8" text-anchor="end" font-weight="normal" fill="#222">2</text>
<line x1="272.6" y1="410.2" x2="274.8" y2="410.2" stroke="#111" stroke-width="0.8"/>
<text x="271.4" y="396.1" font-size="5.8" text-anchor="end" font-weight="normal" fill="#222">3</text>
<line x1="272.6" y1="394" x2="274.8" y2="394" stroke="#111" stroke-width="0.8"/>
<text x="271.4" y="379.9" font-size="5.8" text-anchor="end" font-weight="normal" fill="#222">4</text>
<line x1="272.6" y1="377.8" x2="274.8" y2="377.8" stroke="#111" stroke-width="0.8"/>
<text x="274.8" y="451.2" font-size="5.3" text-anchor="middle" font-weight="normal" fill="#222">0.1</text>
<text x="291.3" y="451.2" font-size="5.3" text-anchor="middle" font-weight="normal" fill="#222">1</text>
<text x="308" y="451.2" font-size="5.3" text-anchor="middle" font-weight="normal" fill="#222">10</text>
<text x="311.8" y="451.2" font-size="5.1" text-anchor="start" font-weight="normal" fill="#222">µg/mL</text>
<line x1="274.8" y1="442.6" x2="274.8" y2="444.6" stroke="#111" stroke-width="0.7"/>
<line x1="291.3" y1="442.6" x2="291.3" y2="444.6" stroke="#111" stroke-width="0.7"/>
<line x1="307.5" y1="442.6" x2="307.5" y2="444.6" stroke="#111" stroke-width="0.7"/>
<line x1="323.8" y1="442.6" x2="323.8" y2="444.6" stroke="#111" stroke-width="0.7"/>
<line x1="271.8" y1="435.8" x2="316.3" y2="435.8" stroke="#1a1a1a" stroke-width="1.2"/>
<path d="M287.1 440.9L296.3 440.5L305.3 437.1L314.6 434.2M287.1 441.7L296.3 440.8L305.3 436.9L314.6 432.9M287.1 441.1L296.3 440.1L305.3 439L314.6 434.3M287.1 440.7L296.3 440.5L305.3 439.9L314.6 438.2M287.1 440.4L296.3 440L305.3 438L314.6 435.5M287.1 441.5L296.3 440.6L305.3 439.3L314.6 437.6M287.1 440L296.3 439.8L305.3 437.9L314.6 435M287.1 439.7L296.3 438.9L305.3 437.4L314.6 433.7M287.1 440.5L296.3 440.1L305.3 439.7L314.6 437.9M287.1 441.5L296.3 441.6L305.3 441.6L314.6 441.5M287.1 427.2L296.3 416.7L305.3 402.1L314.6 390.8M287.1 435.3L296.3 434.5L305.3 400.5L314.6 379.4M287.1 441L296.3 437.7L305.3 431.3L314.6 408.6M287.1 441L296.3 437.7L305.3 432.9L314.6 415.1M287.1 441L296.3 439.4L305.3 434.5L314.6 423.2M287.1 441L296.3 439.4L305.3 435.3L314.6 426.4M287.1 441L296.3 439.4L305.3 436.1L314.6 429.6M287.1 441L296.3 439.4L305.3 436.9L314.6 432.6M287.1 441L296.3 440.2L305.3 434.5L314.6 424.8" fill="none" stroke="#0a0a0a" stroke-width="1.45" stroke-linejoin="round"/>
<path d="M287.1 439l1.9 1.9l-1.9 1.9l-1.9-1.9zM296.3 438.6l1.9 1.9l-1.9 1.9l-1.9-1.9zM305.3 435.2l1.9 1.9l-1.9 1.9l-1.9-1.9zM314.6 432.3l1.9 1.9l-1.9 1.9l-1.9-1.9zM287.1 439.8l1.9 1.9l-1.9 1.9l-1.9-1.9zM296.3 438.9l1.9 1.9l-1.9 1.9l-1.9-1.9zM305.3 435l1.9 1.9l-1.9 1.9l-1.9-1.9zM314.6 431l1.9 1.9l-1.9 1.9l-1.9-1.9zM287.1 439.2l1.9 1.9l-1.9 1.9l-1.9-1.9zM296.3 438.2l1.9 1.9l-1.9 1.9l-1.9-1.9zM305.3 437.1l1.9 1.9l-1.9 1.9l-1.9-1.9zM314.6 432.4l1.9 1.9l-1.9 1.9l-1.9-1.9zM287.1 438.8l1.9 1.9l-1.9 1.9l-1.9-1.9zM296.3 438.6l1.9 1.9l-1.9 1.9l-1.9-1.9zM305.3 438l1.9 1.9l-1.9 1.9l-1.9-1.9zM314.6 436.3l1.9 1.9l-1.9 1.9l-1.9-1.9zM287.1 438.5l1.9 1.9l-1.9 1.9l-1.9-1.9zM296.3 438.1l1.9 1.9l-1.9 1.9l-1.9-1.9zM305.3 436.1l1.9 1.9l-1.9 1.9l-1.9-1.9zM314.6 433.6l1.9 1.9l-1.9 1.9l-1.9-1.9zM287.1 439.6l1.9 1.9l-1.9 1.9l-1.9-1.9zM296.3 438.7l1.9 1.9l-1.9 1.9l-1.9-1.9zM305.3 437.4l1.9 1.9l-1.9 1.9l-1.9-1.9zM314.6 435.7l1.9 1.9l-1.9 1.9l-1.9-1.9zM287.1 438.1l1.9 1.9l-1.9 1.9l-1.9-1.9zM296.3 437.9l1.9 1.9l-1.9 1.9l-1.9-1.9zM305.3 436l1.9 1.9l-1.9 1.9l-1.9-1.9zM314.6 433.1l1.9 1.9l-1.9 1.9l-1.9-1.9zM287.1 437.8l1.9 1.9l-1.9 1.9l-1.9-1.9zM296.3 437l1.9 1.9l-1.9 1.9l-1.9-1.9zM305.3 435.5l1.9 1.9l-1.9 1.9l-1.9-1.9zM314.6 431.8l1.9 1.9l-1.9 1.9l-1.9-1.9zM287.1 438.6l1.9 1.9l-1.9 1.9l-1.9-1.9zM296.3 438.2l1.9 1.9l-1.9 1.9l-1.9-1.9zM305.3 437.8l1.9 1.9l-1.9 1.9l-1.9-1.9zM314.6 436l1.9 1.9l-1.9 1.9l-1.9-1.9zM287.1 439.6l1.9 1.9l-1.9 1.9l-1.9-1.9zM296.3 439.7l1.9 1.9l-1.9 1.9l-1.9-1.9zM305.3 439.7l1.9 1.9l-1.9 1.9l-1.9-1.9zM314.6 439.6l1.9 1.9l-1.9 1.9l-1.9-1.9zM287.1 425.3l1.9 1.9l-1.9 1.9l-1.9-1.9zM296.3 414.8l1.9 1.9l-1.9 1.9l-1.9-1.9zM305.3 400.2l1.9 1.9l-1.9 1.9l-1.9-1.9zM314.6 388.9l1.9 1.9l-1.9 1.9l-1.9-1.9zM287.1 433.4l1.9 1.9l-1.9 1.9l-1.9-1.9zM296.3 432.6l1.9 1.9l-1.9 1.9l-1.9-1.9zM305.3 398.6l1.9 1.9l-1.9 1.9l-1.9-1.9zM314.6 377.5l1.9 1.9l-1.9 1.9l-1.9-1.9zM287.1 439.1l1.9 1.9l-1.9 1.9l-1.9-1.9zM296.3 435.8l1.9 1.9l-1.9 1.9l-1.9-1.9zM305.3 429.4l1.9 1.9l-1.9 1.9l-1.9-1.9zM314.6 406.7l1.9 1.9l-1.9 1.9l-1.9-1.9zM287.1 439.1l1.9 1.9l-1.9 1.9l-1.9-1.9zM296.3 435.8l1.9 1.9l-1.9 1.9l-1.9-1.9zM305.3 431l1.9 1.9l-1.9 1.9l-1.9-1.9zM314.6 413.2l1.9 1.9l-1.9 1.9l-1.9-1.9zM287.1 439.1l1.9 1.9l-1.9 1.9l-1.9-1.9zM296.3 437.5l1.9 1.9l-1.9 1.9l-1.9-1.9zM305.3 432.6l1.9 1.9l-1.9 1.9l-1.9-1.9zM314.6 421.3l1.9 1.9l-1.9 1.9l-1.9-1.9zM287.1 439.1l1.9 1.9l-1.9 1.9l-1.9-1.9zM296.3 437.5l1.9 1.9l-1.9 1.9l-1.9-1.9zM305.3 433.4l1.9 1.9l-1.9 1.9l-1.9-1.9zM314.6 424.5l1.9 1.9l-1.9 1.9l-1.9-1.9zM287.1 439.1l1.9 1.9l-1.9 1.9l-1.9-1.9zM296.3 437.5l1.9 1.9l-1.9 1.9l-1.9-1.9zM305.3 434.2l1.9 1.9l-1.9 1.9l-1.9-1.9zM314.6 427.7l1.9 1.9l-1.9 1.9l-1.9-1.9zM287.1 439.1l1.9 1.9l-1.9 1.9l-1.9-1.9zM296.3 437.5l1.9 1.9l-1.9 1.9l-1.9-1.9zM305.3 435l1.9 1.9l-1.9 1.9l-1.9-1.9zM314.6 430.7l1.9 1.9l-1.9 1.9l-1.9-1.9zM287.1 439.1l1.9 1.9l-1.9 1.9l-1.9-1.9zM296.3 438.3l1.9 1.9l-1.9 1.9l-1.9-1.9zM305.3 432.6l1.9 1.9l-1.9 1.9l-1.9-1.9zM314.6 422.9l1.9 1.9l-1.9 1.9l-1.9-1.9z" fill="#0a0a0a" stroke="#0a0a0a" stroke-width=".5" stroke-linejoin="round"/>
<path d="M287.1 428.8L296.3 422.4L305.3 398.9L314.6 379.4" fill="none" stroke="#111" stroke-width=".8" stroke-dasharray="1.3 .9"/>
<path d="M287.1 426.9l1.9 1.9l-1.9 1.9l-1.9-1.9zM296.3 420.5l1.9 1.9l-1.9 1.9l-1.9-1.9zM305.3 397l1.9 1.9l-1.9 1.9l-1.9-1.9zM314.6 377.5l1.9 1.9l-1.9 1.9l-1.9-1.9z" fill="#111" stroke="#111" stroke-width=".4" stroke-linejoin="round"/>
<line x1="274.8" y1="377.3" x2="274.8" y2="443.3" stroke="#111" stroke-width="1.5"/>
<line x1="274.1" y1="442.6" x2="324.3" y2="442.6" stroke="#111" stroke-width="1.6"/>
<text x="360.4" y="364.6" font-size="10.4" text-anchor="middle" font-weight="bold" fill="#111">CVID19</text>
<text x="324.2" y="372.5" font-size="5.5" font-weight="normal" fill="#2a2a2a">OD<tspan dy="1.5" font-size="4.9">405</tspan></text>
<text x="334.4" y="444.7" font-size="5.8" text-anchor="end" font-weight="normal" fill="#222">0</text>
<line x1="335.6" y1="442.6" x2="337.8" y2="442.6" stroke="#111" stroke-width="0.8"/>
<text x="334.4" y="428.5" font-size="5.8" text-anchor="end" font-weight="normal" fill="#222">1</text>
<line x1="335.6" y1="426.4" x2="337.8" y2="426.4" stroke="#111" stroke-width="0.8"/>
<text x="334.4" y="412.3" font-size="5.8" text-anchor="end" font-weight="normal" fill="#222">2</text>
<line x1="335.6" y1="410.2" x2="337.8" y2="410.2" stroke="#111" stroke-width="0.8"/>
<text x="334.4" y="396.1" font-size="5.8" text-anchor="end" font-weight="normal" fill="#222">3</text>
<line x1="335.6" y1="394" x2="337.8" y2="394" stroke="#111" stroke-width="0.8"/>
<text x="334.4" y="379.9" font-size="5.8" text-anchor="end" font-weight="normal" fill="#222">4</text>
<line x1="335.6" y1="377.8" x2="337.8" y2="377.8" stroke="#111" stroke-width="0.8"/>
<text x="337.4" y="451.2" font-size="5.3" text-anchor="middle" font-weight="normal" fill="#222">0.1</text>
<text x="354.3" y="451.2" font-size="5.3" text-anchor="middle" font-weight="normal" fill="#222">1</text>
<text x="371.3" y="451.2" font-size="5.3" text-anchor="middle" font-weight="normal" fill="#222">10</text>
<text x="374.8" y="451.2" font-size="5.1" text-anchor="start" font-weight="normal" fill="#222">µg/mL</text>
<line x1="337.8" y1="442.6" x2="337.8" y2="444.6" stroke="#111" stroke-width="0.7"/>
<line x1="354.3" y1="442.6" x2="354.3" y2="444.6" stroke="#111" stroke-width="0.7"/>
<line x1="370.8" y1="442.6" x2="370.8" y2="444.6" stroke="#111" stroke-width="0.7"/>
<line x1="386.8" y1="442.6" x2="386.8" y2="444.6" stroke="#111" stroke-width="0.7"/>
<line x1="334.8" y1="435.8" x2="379.3" y2="435.8" stroke="#1a1a1a" stroke-width="1.2"/>
<path d="M347.7 439.4L358 435.3L368 424L378.1 398.9M347.7 440.2L358 437.7L368 432.9L378.1 419.9M347.7 441L358 438.6L368 435.3L378.1 428M347.7 441L358 439.4L368 436.1L378.1 430.5M347.7 441L358 440.2L368 437.7L378.1 433.7M347.7 439.4L358 438.6L368 437.7L378.1 436.1M347.7 441.8L358 441L368 440.2L378.1 437.7M347.7 441.8L358 441.8L368 441.3L378.1 440.7M347.7 439.4L358 439.4L368 435.3L378.1 434.5" fill="none" stroke="#0a0a0a" stroke-width="1.45" stroke-linejoin="round"/>
<path d="M347.7 437.5l1.9 1.9l-1.9 1.9l-1.9-1.9zM358 433.4l1.9 1.9l-1.9 1.9l-1.9-1.9zM368 422.1l1.9 1.9l-1.9 1.9l-1.9-1.9zM378.1 397l1.9 1.9l-1.9 1.9l-1.9-1.9zM347.7 438.3l1.9 1.9l-1.9 1.9l-1.9-1.9zM358 435.8l1.9 1.9l-1.9 1.9l-1.9-1.9zM368 431l1.9 1.9l-1.9 1.9l-1.9-1.9zM378.1 418l1.9 1.9l-1.9 1.9l-1.9-1.9zM347.7 439.1l1.9 1.9l-1.9 1.9l-1.9-1.9zM358 436.7l1.9 1.9l-1.9 1.9l-1.9-1.9zM368 433.4l1.9 1.9l-1.9 1.9l-1.9-1.9zM378.1 426.1l1.9 1.9l-1.9 1.9l-1.9-1.9zM347.7 439.1l1.9 1.9l-1.9 1.9l-1.9-1.9zM358 437.5l1.9 1.9l-1.9 1.9l-1.9-1.9zM368 434.2l1.9 1.9l-1.9 1.9l-1.9-1.9zM378.1 428.6l1.9 1.9l-1.9 1.9l-1.9-1.9zM347.7 439.1l1.9 1.9l-1.9 1.9l-1.9-1.9zM358 438.3l1.9 1.9l-1.9 1.9l-1.9-1.9zM368 435.8l1.9 1.9l-1.9 1.9l-1.9-1.9zM378.1 431.8l1.9 1.9l-1.9 1.9l-1.9-1.9zM347.7 437.5l1.9 1.9l-1.9 1.9l-1.9-1.9zM358 436.7l1.9 1.9l-1.9 1.9l-1.9-1.9zM368 435.8l1.9 1.9l-1.9 1.9l-1.9-1.9zM378.1 434.2l1.9 1.9l-1.9 1.9l-1.9-1.9zM347.7 439.9l1.9 1.9l-1.9 1.9l-1.9-1.9zM358 439.1l1.9 1.9l-1.9 1.9l-1.9-1.9zM368 438.3l1.9 1.9l-1.9 1.9l-1.9-1.9zM378.1 435.8l1.9 1.9l-1.9 1.9l-1.9-1.9zM347.7 439.9l1.9 1.9l-1.9 1.9l-1.9-1.9zM358 439.9l1.9 1.9l-1.9 1.9l-1.9-1.9zM368 439.4l1.9 1.9l-1.9 1.9l-1.9-1.9zM378.1 438.8l1.9 1.9l-1.9 1.9l-1.9-1.9zM347.7 437.5l1.9 1.9l-1.9 1.9l-1.9-1.9zM358 437.5l1.9 1.9l-1.9 1.9l-1.9-1.9zM368 433.4l1.9 1.9l-1.9 1.9l-1.9-1.9zM378.1 432.6l1.9 1.9l-1.9 1.9l-1.9-1.9z" fill="#0a0a0a" stroke="#0a0a0a" stroke-width=".5" stroke-linejoin="round"/>
<path d="M347.7 429.6L358 422.4L368 397.2L378.1 377.8" fill="none" stroke="#111" stroke-width=".8" stroke-dasharray="1.3 .9"/>
<path d="M347.7 427.7l1.9 1.9l-1.9 1.9l-1.9-1.9zM358 420.5l1.9 1.9l-1.9 1.9l-1.9-1.9zM368 395.3l1.9 1.9l-1.9 1.9l-1.9-1.9zM378.1 375.9l1.9 1.9l-1.9 1.9l-1.9-1.9z" fill="#111" stroke="#111" stroke-width=".4" stroke-linejoin="round"/>
<line x1="337.8" y1="377.3" x2="337.8" y2="443.3" stroke="#111" stroke-width="1.5"/>
<line x1="337.1" y1="442.6" x2="387.3" y2="442.6" stroke="#111" stroke-width="1.6"/>
<text x="423.3" y="365.4" font-size="10.4" text-anchor="middle" font-weight="bold" fill="#111">CVID321</text>
<text x="388.7" y="372.5" font-size="5.5" font-weight="normal" fill="#2a2a2a">OD<tspan dy="1.5" font-size="4.9">405</tspan></text>
<text x="396.9" y="444.7" font-size="5.8" text-anchor="end" font-weight="normal" fill="#222">0</text>
<line x1="398.1" y1="442.6" x2="400.3" y2="442.6" stroke="#111" stroke-width="0.8"/>
<text x="396.9" y="428.5" font-size="5.8" text-anchor="end" font-weight="normal" fill="#222">1</text>
<line x1="398.1" y1="426.4" x2="400.3" y2="426.4" stroke="#111" stroke-width="0.8"/>
<text x="396.9" y="412.3" font-size="5.8" text-anchor="end" font-weight="normal" fill="#222">2</text>
<line x1="398.1" y1="410.2" x2="400.3" y2="410.2" stroke="#111" stroke-width="0.8"/>
<text x="396.9" y="396.1" font-size="5.8" text-anchor="end" font-weight="normal" fill="#222">3</text>
<line x1="398.1" y1="394" x2="400.3" y2="394" stroke="#111" stroke-width="0.8"/>
<text x="396.9" y="379.9" font-size="5.8" text-anchor="end" font-weight="normal" fill="#222">4</text>
<line x1="398.1" y1="377.8" x2="400.3" y2="377.8" stroke="#111" stroke-width="0.8"/>
<text x="399.6" y="451.2" font-size="5.3" text-anchor="middle" font-weight="normal" fill="#222">0.1</text>
<text x="416.5" y="451.2" font-size="5.3" text-anchor="middle" font-weight="normal" fill="#222">1</text>
<text x="433.9" y="451.2" font-size="5.3" text-anchor="middle" font-weight="normal" fill="#222">10</text>
<text x="437.1" y="451.2" font-size="5.1" text-anchor="start" font-weight="normal" fill="#222">µg/mL</text>
<line x1="400.3" y1="442.6" x2="400.3" y2="444.6" stroke="#111" stroke-width="0.7"/>
<line x1="416.5" y1="442.6" x2="416.5" y2="444.6" stroke="#111" stroke-width="0.7"/>
<line x1="433.4" y1="442.6" x2="433.4" y2="444.6" stroke="#111" stroke-width="0.7"/>
<line x1="449.3" y1="442.6" x2="449.3" y2="444.6" stroke="#111" stroke-width="0.7"/>
<line x1="397.3" y1="435.8" x2="441.8" y2="435.8" stroke="#1a1a1a" stroke-width="1.2"/>
<path d="M411.3 438.6L420.2 438.3L429.5 438.6L439 438M411.3 441.2L420.2 440.9L429.5 438.8L439 436.3M411.3 440.9L420.2 440.7L429.5 440.8L439 440.2M411.3 442L420.2 441.7L429.5 441.3L439 441M411.3 440L420.2 439.9L429.5 439.6L439 439.6M411.3 442L420.2 441.9L429.5 439.3L439 437.6M411.3 439.7L420.2 439.6L429.5 439.6L439 439.6M411.3 432.9L420.2 415.9L429.5 408.6L439 378.6M411.3 437.7L420.2 432.9L429.5 413.4L439 384.3M411.3 439.4L420.2 434.5L429.5 421.5L439 396.4M411.3 439.4L420.2 435.3L429.5 423.2L439 399.7M411.3 440.2L420.2 436.1L429.5 424.8L439 403.7M411.3 440.2L420.2 436.1L429.5 426.4L439 407M411.3 441L420.2 436.1L429.5 428L439 410.2M411.3 441L420.2 436.9L429.5 429.6L439 413.4M411.3 441L420.2 437.7L429.5 431.3L439 415.9M411.3 441L420.2 437.7L429.5 432.9L439 418.3M411.3 441L420.2 437.7L429.5 428L439 401.3M411.3 441L420.2 437.7L429.5 429.6L439 405.3M411.3 441L420.2 437.7L429.5 431.3L439 411.8M411.3 441L420.2 439.4L429.5 432.9L439 419.9M411.3 441L420.2 439.4L429.5 434.5L439 422.4M411.3 434.5L420.2 432.9L429.5 429.6L439 424.5M411.3 432.9L420.2 432.1L429.5 431.3L439 428M411.3 436.1L420.2 434.5L429.5 432.9L439 429.6M411.3 441L420.2 439.4L429.5 436.9L439 431.3M411.3 441L420.2 439.4L429.5 437.7L439 432.9M411.3 437.7L420.2 434.5L429.5 426.4L439 398.1M411.3 439.4L420.2 436.1L429.5 428L439 408.6M411.3 437.7L420.2 434.5L429.5 426.4L439 414.2" fill="none" stroke="#0a0a0a" stroke-width="1.45" stroke-linejoin="round"/>
<path d="M411.3 436.7l1.9 1.9l-1.9 1.9l-1.9-1.9zM420.2 436.4l1.9 1.9l-1.9 1.9l-1.9-1.9zM429.5 436.7l1.9 1.9l-1.9 1.9l-1.9-1.9zM439 436.1l1.9 1.9l-1.9 1.9l-1.9-1.9zM411.3 439.3l1.9 1.9l-1.9 1.9l-1.9-1.9zM420.2 439l1.9 1.9l-1.9 1.9l-1.9-1.9zM429.5 436.9l1.9 1.9l-1.9 1.9l-1.9-1.9zM439 434.4l1.9 1.9l-1.9 1.9l-1.9-1.9zM411.3 439l1.9 1.9l-1.9 1.9l-1.9-1.9zM420.2 438.8l1.9 1.9l-1.9 1.9l-1.9-1.9zM429.5 438.9l1.9 1.9l-1.9 1.9l-1.9-1.9zM439 438.3l1.9 1.9l-1.9 1.9l-1.9-1.9zM411.3 440.1l1.9 1.9l-1.9 1.9l-1.9-1.9zM420.2 439.8l1.9 1.9l-1.9 1.9l-1.9-1.9zM429.5 439.4l1.9 1.9l-1.9 1.9l-1.9-1.9zM439 439.1l1.9 1.9l-1.9 1.9l-1.9-1.9zM411.3 438.1l1.9 1.9l-1.9 1.9l-1.9-1.9zM420.2 438l1.9 1.9l-1.9 1.9l-1.9-1.9zM429.5 437.7l1.9 1.9l-1.9 1.9l-1.9-1.9zM439 437.7l1.9 1.9l-1.9 1.9l-1.9-1.9zM411.3 440.1l1.9 1.9l-1.9 1.9l-1.9-1.9zM420.2 440l1.9 1.9l-1.9 1.9l-1.9-1.9zM429.5 437.4l1.9 1.9l-1.9 1.9l-1.9-1.9zM439 435.7l1.9 1.9l-1.9 1.9l-1.9-1.9zM411.3 437.8l1.9 1.9l-1.9 1.9l-1.9-1.9zM420.2 437.7l1.9 1.9l-1.9 1.9l-1.9-1.9zM429.5 437.7l1.9 1.9l-1.9 1.9l-1.9-1.9zM439 437.7l1.9 1.9l-1.9 1.9l-1.9-1.9zM411.3 431l1.9 1.9l-1.9 1.9l-1.9-1.9zM420.2 414l1.9 1.9l-1.9 1.9l-1.9-1.9zM429.5 406.7l1.9 1.9l-1.9 1.9l-1.9-1.9zM439 376.7l1.9 1.9l-1.9 1.9l-1.9-1.9zM411.3 435.8l1.9 1.9l-1.9 1.9l-1.9-1.9zM420.2 431l1.9 1.9l-1.9 1.9l-1.9-1.9zM429.5 411.5l1.9 1.9l-1.9 1.9l-1.9-1.9zM439 382.4l1.9 1.9l-1.9 1.9l-1.9-1.9zM411.3 437.5l1.9 1.9l-1.9 1.9l-1.9-1.9zM420.2 432.6l1.9 1.9l-1.9 1.9l-1.9-1.9zM429.5 419.6l1.9 1.9l-1.9 1.9l-1.9-1.9zM439 394.5l1.9 1.9l-1.9 1.9l-1.9-1.9zM411.3 437.5l1.9 1.9l-1.9 1.9l-1.9-1.9zM420.2 433.4l1.9 1.9l-1.9 1.9l-1.9-1.9zM429.5 421.3l1.9 1.9l-1.9 1.9l-1.9-1.9zM439 397.8l1.9 1.9l-1.9 1.9l-1.9-1.9zM411.3 438.3l1.9 1.9l-1.9 1.9l-1.9-1.9zM420.2 434.2l1.9 1.9l-1.9 1.9l-1.9-1.9zM429.5 422.9l1.9 1.9l-1.9 1.9l-1.9-1.9zM439 401.8l1.9 1.9l-1.9 1.9l-1.9-1.9zM411.3 438.3l1.9 1.9l-1.9 1.9l-1.9-1.9zM420.2 434.2l1.9 1.9l-1.9 1.9l-1.9-1.9zM429.5 424.5l1.9 1.9l-1.9 1.9l-1.9-1.9zM439 405.1l1.9 1.9l-1.9 1.9l-1.9-1.9zM411.3 439.1l1.9 1.9l-1.9 1.9l-1.9-1.9zM420.2 434.2l1.9 1.9l-1.9 1.9l-1.9-1.9zM429.5 426.1l1.9 1.9l-1.9 1.9l-1.9-1.9zM439 408.3l1.9 1.9l-1.9 1.9l-1.9-1.9zM411.3 439.1l1.9 1.9l-1.9 1.9l-1.9-1.9zM420.2 435l1.9 1.9l-1.9 1.9l-1.9-1.9zM429.5 427.7l1.9 1.9l-1.9 1.9l-1.9-1.9zM439 411.5l1.9 1.9l-1.9 1.9l-1.9-1.9zM411.3 439.1l1.9 1.9l-1.9 1.9l-1.9-1.9zM420.2 435.8l1.9 1.9l-1.9 1.9l-1.9-1.9zM429.5 429.4l1.9 1.9l-1.9 1.9l-1.9-1.9zM439 414l1.9 1.9l-1.9 1.9l-1.9-1.9zM411.3 439.1l1.9 1.9l-1.9 1.9l-1.9-1.9zM420.2 435.8l1.9 1.9l-1.9 1.9l-1.9-1.9zM429.5 431l1.9 1.9l-1.9 1.9l-1.9-1.9zM439 416.4l1.9 1.9l-1.9 1.9l-1.9-1.9zM411.3 439.1l1.9 1.9l-1.9 1.9l-1.9-1.9zM420.2 435.8l1.9 1.9l-1.9 1.9l-1.9-1.9zM429.5 426.1l1.9 1.9l-1.9 1.9l-1.9-1.9zM439 399.4l1.9 1.9l-1.9 1.9l-1.9-1.9zM411.3 439.1l1.9 1.9l-1.9 1.9l-1.9-1.9zM420.2 435.8l1.9 1.9l-1.9 1.9l-1.9-1.9zM429.5 427.7l1.9 1.9l-1.9 1.9l-1.9-1.9zM439 403.4l1.9 1.9l-1.9 1.9l-1.9-1.9zM411.3 439.1l1.9 1.9l-1.9 1.9l-1.9-1.9zM420.2 435.8l1.9 1.9l-1.9 1.9l-1.9-1.9zM429.5 429.4l1.9 1.9l-1.9 1.9l-1.9-1.9zM439 409.9l1.9 1.9l-1.9 1.9l-1.9-1.9zM411.3 439.1l1.9 1.9l-1.9 1.9l-1.9-1.9zM420.2 437.5l1.9 1.9l-1.9 1.9l-1.9-1.9zM429.5 431l1.9 1.9l-1.9 1.9l-1.9-1.9zM439 418l1.9 1.9l-1.9 1.9l-1.9-1.9zM411.3 439.1l1.9 1.9l-1.9 1.9l-1.9-1.9zM420.2 437.5l1.9 1.9l-1.9 1.9l-1.9-1.9zM429.5 432.6l1.9 1.9l-1.9 1.9l-1.9-1.9zM439 420.5l1.9 1.9l-1.9 1.9l-1.9-1.9zM411.3 432.6l1.9 1.9l-1.9 1.9l-1.9-1.9zM420.2 431l1.9 1.9l-1.9 1.9l-1.9-1.9zM429.5 427.7l1.9 1.9l-1.9 1.9l-1.9-1.9zM439 422.6l1.9 1.9l-1.9 1.9l-1.9-1.9zM411.3 431l1.9 1.9l-1.9 1.9l-1.9-1.9zM420.2 430.2l1.9 1.9l-1.9 1.9l-1.9-1.9zM429.5 429.4l1.9 1.9l-1.9 1.9l-1.9-1.9zM439 426.1l1.9 1.9l-1.9 1.9l-1.9-1.9zM411.3 434.2l1.9 1.9l-1.9 1.9l-1.9-1.9zM420.2 432.6l1.9 1.9l-1.9 1.9l-1.9-1.9zM429.5 431l1.9 1.9l-1.9 1.9l-1.9-1.9zM439 427.7l1.9 1.9l-1.9 1.9l-1.9-1.9zM411.3 439.1l1.9 1.9l-1.9 1.9l-1.9-1.9zM420.2 437.5l1.9 1.9l-1.9 1.9l-1.9-1.9zM429.5 435l1.9 1.9l-1.9 1.9l-1.9-1.9zM439 429.4l1.9 1.9l-1.9 1.9l-1.9-1.9zM411.3 439.1l1.9 1.9l-1.9 1.9l-1.9-1.9zM420.2 437.5l1.9 1.9l-1.9 1.9l-1.9-1.9zM429.5 435.8l1.9 1.9l-1.9 1.9l-1.9-1.9zM439 431l1.9 1.9l-1.9 1.9l-1.9-1.9zM411.3 435.8l1.9 1.9l-1.9 1.9l-1.9-1.9zM420.2 432.6l1.9 1.9l-1.9 1.9l-1.9-1.9zM429.5 424.5l1.9 1.9l-1.9 1.9l-1.9-1.9zM439 396.2l1.9 1.9l-1.9 1.9l-1.9-1.9zM411.3 437.5l1.9 1.9l-1.9 1.9l-1.9-1.9zM420.2 434.2l1.9 1.9l-1.9 1.9l-1.9-1.9zM429.5 426.1l1.9 1.9l-1.9 1.9l-1.9-1.9zM439 406.7l1.9 1.9l-1.9 1.9l-1.9-1.9zM411.3 435.8l1.9 1.9l-1.9 1.9l-1.9-1.9zM420.2 432.6l1.9 1.9l-1.9 1.9l-1.9-1.9zM429.5 424.5l1.9 1.9l-1.9 1.9l-1.9-1.9zM439 412.4l1.9 1.9l-1.9 1.9l-1.9-1.9z" fill="#0a0a0a" stroke="#0a0a0a" stroke-width=".5" stroke-linejoin="round"/>
<path d="M411.3 432.9L420.2 424.8L429.5 385.9L439 377.8" fill="none" stroke="#111" stroke-width=".8" stroke-dasharray="1.3 .9"/>
<path d="M411.3 431l1.9 1.9l-1.9 1.9l-1.9-1.9zM420.2 422.9l1.9 1.9l-1.9 1.9l-1.9-1.9zM429.5 384l1.9 1.9l-1.9 1.9l-1.9-1.9zM439 375.9l1.9 1.9l-1.9 1.9l-1.9-1.9z" fill="#111" stroke="#111" stroke-width=".4" stroke-linejoin="round"/>
<line x1="400.3" y1="377.3" x2="400.3" y2="443.3" stroke="#111" stroke-width="1.5"/>
<line x1="399.6" y1="442.6" x2="449.8" y2="442.6" stroke="#111" stroke-width="1.6"/>
<text x="486" y="364.6" font-size="10.4" text-anchor="middle" font-weight="bold" fill="#111">CVID332</text>
<text x="450.5" y="372.5" font-size="5.5" font-weight="normal" fill="#2a2a2a">OD<tspan dy="1.5" font-size="4.9">405</tspan></text>
<text x="460.7" y="444.7" font-size="5.8" text-anchor="end" font-weight="normal" fill="#222">0</text>
<line x1="461.9" y1="442.6" x2="464.1" y2="442.6" stroke="#111" stroke-width="0.8"/>
<text x="460.7" y="428.5" font-size="5.8" text-anchor="end" font-weight="normal" fill="#222">1</text>
<line x1="461.9" y1="426.4" x2="464.1" y2="426.4" stroke="#111" stroke-width="0.8"/>
<text x="460.7" y="412.3" font-size="5.8" text-anchor="end" font-weight="normal" fill="#222">2</text>
<line x1="461.9" y1="410.2" x2="464.1" y2="410.2" stroke="#111" stroke-width="0.8"/>
<text x="460.7" y="396.1" font-size="5.8" text-anchor="end" font-weight="normal" fill="#222">3</text>
<line x1="461.9" y1="394" x2="464.1" y2="394" stroke="#111" stroke-width="0.8"/>
<text x="460.7" y="379.9" font-size="5.8" text-anchor="end" font-weight="normal" fill="#222">4</text>
<line x1="461.9" y1="377.8" x2="464.1" y2="377.8" stroke="#111" stroke-width="0.8"/>
<text x="463.7" y="451.2" font-size="5.3" text-anchor="middle" font-weight="normal" fill="#222">0.1</text>
<text x="480.4" y="451.2" font-size="5.3" text-anchor="middle" font-weight="normal" fill="#222">1</text>
<text x="497.7" y="451.2" font-size="5.3" text-anchor="middle" font-weight="normal" fill="#222">10</text>
<text x="501" y="451.2" font-size="5.1" text-anchor="start" font-weight="normal" fill="#222">µg/mL</text>
<line x1="464.1" y1="442.6" x2="464.1" y2="444.6" stroke="#111" stroke-width="0.7"/>
<line x1="480.4" y1="442.6" x2="480.4" y2="444.6" stroke="#111" stroke-width="0.7"/>
<line x1="497.2" y1="442.6" x2="497.2" y2="444.6" stroke="#111" stroke-width="0.7"/>
<line x1="513.1" y1="442.6" x2="513.1" y2="444.6" stroke="#111" stroke-width="0.7"/>
<line x1="461.1" y1="435.8" x2="505.6" y2="435.8" stroke="#1a1a1a" stroke-width="1.2"/>
<path d="M474.7 441.5L484.5 441.8L494.6 441.8L504.6 441.2M474.7 441.2L484.5 440.9L494.6 440.9L504.6 440.5M474.7 440.3L484.5 440.2L494.6 439.8L504.6 438.1M474.7 440.8L484.5 441.2L494.6 440.7L504.6 440.7M474.7 439.2L484.5 438.8L494.6 437L504.6 435.2M474.7 436.2L484.5 435.9L494.6 435.6L504.6 434.4M474.7 438.9L484.5 438.7L494.6 438.4L504.6 437.8M474.7 440.4L484.5 440.2L494.6 440.3L504.6 440.1M474.7 437.7L484.5 436.1L494.6 421.5L504.6 400.5M474.7 439.4L484.5 436.1L494.6 426.4L504.6 408.6M474.7 440.2L484.5 436.1L494.6 428L504.6 411M474.7 440.2L484.5 437.7L494.6 429.6L504.6 413.4M474.7 441L484.5 437.7L494.6 431.3L504.6 415.9M474.7 441L484.5 437.7L494.6 432.9L504.6 418.3M474.7 441L484.5 437.7L494.6 434.5L504.6 420.7M474.7 441L484.5 439.4L494.6 434.5L504.6 423.2M474.7 441L484.5 439.4L494.6 435.3L504.6 425.6M474.7 441L484.5 439.4L494.6 436.1L504.6 428M474.7 441L484.5 439.4L494.6 436.1L504.6 430.5M474.7 441L484.5 439.4L494.6 437.7L504.6 432.9M474.7 441L484.5 437.7L494.6 424.8L504.6 414.2M474.7 441L484.5 437.7L494.6 430.5L504.6 419.9M474.7 439.4L484.5 436.9L494.6 420.7L504.6 410.2M474.7 436.9L484.5 436.1L494.6 426.4L504.6 411.8" fill="none" stroke="#0a0a0a" stroke-width="1.45" stroke-linejoin="round"/>
<path d="M474.7 439.6l1.9 1.9l-1.9 1.9l-1.9-1.9zM484.5 439.9l1.9 1.9l-1.9 1.9l-1.9-1.9zM494.6 439.9l1.9 1.9l-1.9 1.9l-1.9-1.9zM504.6 439.3l1.9 1.9l-1.9 1.9l-1.9-1.9zM474.7 439.3l1.9 1.9l-1.9 1.9l-1.9-1.9zM484.5 439l1.9 1.9l-1.9 1.9l-1.9-1.9zM494.6 439l1.9 1.9l-1.9 1.9l-1.9-1.9zM504.6 438.6l1.9 1.9l-1.9 1.9l-1.9-1.9zM474.7 438.4l1.9 1.9l-1.9 1.9l-1.9-1.9zM484.5 438.3l1.9 1.9l-1.9 1.9l-1.9-1.9zM494.6 437.9l1.9 1.9l-1.9 1.9l-1.9-1.9zM504.6 436.2l1.9 1.9l-1.9 1.9l-1.9-1.9zM474.7 438.9l1.9 1.9l-1.9 1.9l-1.9-1.9zM484.5 439.3l1.9 1.9l-1.9 1.9l-1.9-1.9zM494.6 438.8l1.9 1.9l-1.9 1.9l-1.9-1.9zM504.6 438.8l1.9 1.9l-1.9 1.9l-1.9-1.9zM474.7 437.3l1.9 1.9l-1.9 1.9l-1.9-1.9zM484.5 436.9l1.9 1.9l-1.9 1.9l-1.9-1.9zM494.6 435.1l1.9 1.9l-1.9 1.9l-1.9-1.9zM504.6 433.3l1.9 1.9l-1.9 1.9l-1.9-1.9zM474.7 434.3l1.9 1.9l-1.9 1.9l-1.9-1.9zM484.5 434l1.9 1.9l-1.9 1.9l-1.9-1.9zM494.6 433.7l1.9 1.9l-1.9 1.9l-1.9-1.9zM504.6 432.5l1.9 1.9l-1.9 1.9l-1.9-1.9zM474.7 437l1.9 1.9l-1.9 1.9l-1.9-1.9zM484.5 436.8l1.9 1.9l-1.9 1.9l-1.9-1.9zM494.6 436.5l1.9 1.9l-1.9 1.9l-1.9-1.9zM504.6 435.9l1.9 1.9l-1.9 1.9l-1.9-1.9zM474.7 438.5l1.9 1.9l-1.9 1.9l-1.9-1.9zM484.5 438.3l1.9 1.9l-1.9 1.9l-1.9-1.9zM494.6 438.4l1.9 1.9l-1.9 1.9l-1.9-1.9zM504.6 438.2l1.9 1.9l-1.9 1.9l-1.9-1.9zM474.7 435.8l1.9 1.9l-1.9 1.9l-1.9-1.9zM484.5 434.2l1.9 1.9l-1.9 1.9l-1.9-1.9zM494.6 419.6l1.9 1.9l-1.9 1.9l-1.9-1.9zM504.6 398.6l1.9 1.9l-1.9 1.9l-1.9-1.9zM474.7 437.5l1.9 1.9l-1.9 1.9l-1.9-1.9zM484.5 434.2l1.9 1.9l-1.9 1.9l-1.9-1.9zM494.6 424.5l1.9 1.9l-1.9 1.9l-1.9-1.9zM504.6 406.7l1.9 1.9l-1.9 1.9l-1.9-1.9zM474.7 438.3l1.9 1.9l-1.9 1.9l-1.9-1.9zM484.5 434.2l1.9 1.9l-1.9 1.9l-1.9-1.9zM494.6 426.1l1.9 1.9l-1.9 1.9l-1.9-1.9zM504.6 409.1l1.9 1.9l-1.9 1.9l-1.9-1.9zM474.7 438.3l1.9 1.9l-1.9 1.9l-1.9-1.9zM484.5 435.8l1.9 1.9l-1.9 1.9l-1.9-1.9zM494.6 427.7l1.9 1.9l-1.9 1.9l-1.9-1.9zM504.6 411.5l1.9 1.9l-1.9 1.9l-1.9-1.9zM474.7 439.1l1.9 1.9l-1.9 1.9l-1.9-1.9zM484.5 435.8l1.9 1.9l-1.9 1.9l-1.9-1.9zM494.6 429.4l1.9 1.9l-1.9 1.9l-1.9-1.9zM504.6 414l1.9 1.9l-1.9 1.9l-1.9-1.9zM474.7 439.1l1.9 1.9l-1.9 1.9l-1.9-1.9zM484.5 435.8l1.9 1.9l-1.9 1.9l-1.9-1.9zM494.6 431l1.9 1.9l-1.9 1.9l-1.9-1.9zM504.6 416.4l1.9 1.9l-1.9 1.9l-1.9-1.9zM474.7 439.1l1.9 1.9l-1.9 1.9l-1.9-1.9zM484.5 435.8l1.9 1.9l-1.9 1.9l-1.9-1.9zM494.6 432.6l1.9 1.9l-1.9 1.9l-1.9-1.9zM504.6 418.8l1.9 1.9l-1.9 1.9l-1.9-1.9zM474.7 439.1l1.9 1.9l-1.9 1.9l-1.9-1.9zM484.5 437.5l1.9 1.9l-1.9 1.9l-1.9-1.9zM494.6 432.6l1.9 1.9l-1.9 1.9l-1.9-1.9zM504.6 421.3l1.9 1.9l-1.9 1.9l-1.9-1.9zM474.7 439.1l1.9 1.9l-1.9 1.9l-1.9-1.9zM484.5 437.5l1.9 1.9l-1.9 1.9l-1.9-1.9zM494.6 433.4l1.9 1.9l-1.9 1.9l-1.9-1.9zM504.6 423.7l1.9 1.9l-1.9 1.9l-1.9-1.9zM474.7 439.1l1.9 1.9l-1.9 1.9l-1.9-1.9zM484.5 437.5l1.9 1.9l-1.9 1.9l-1.9-1.9zM494.6 434.2l1.9 1.9l-1.9 1.9l-1.9-1.9zM504.6 426.1l1.9 1.9l-1.9 1.9l-1.9-1.9zM474.7 439.1l1.9 1.9l-1.9 1.9l-1.9-1.9zM484.5 437.5l1.9 1.9l-1.9 1.9l-1.9-1.9zM494.6 434.2l1.9 1.9l-1.9 1.9l-1.9-1.9zM504.6 428.6l1.9 1.9l-1.9 1.9l-1.9-1.9zM474.7 439.1l1.9 1.9l-1.9 1.9l-1.9-1.9zM484.5 437.5l1.9 1.9l-1.9 1.9l-1.9-1.9zM494.6 435.8l1.9 1.9l-1.9 1.9l-1.9-1.9zM504.6 431l1.9 1.9l-1.9 1.9l-1.9-1.9zM474.7 439.1l1.9 1.9l-1.9 1.9l-1.9-1.9zM484.5 435.8l1.9 1.9l-1.9 1.9l-1.9-1.9zM494.6 422.9l1.9 1.9l-1.9 1.9l-1.9-1.9zM504.6 412.4l1.9 1.9l-1.9 1.9l-1.9-1.9zM474.7 439.1l1.9 1.9l-1.9 1.9l-1.9-1.9zM484.5 435.8l1.9 1.9l-1.9 1.9l-1.9-1.9zM494.6 428.6l1.9 1.9l-1.9 1.9l-1.9-1.9zM504.6 418l1.9 1.9l-1.9 1.9l-1.9-1.9zM474.7 437.5l1.9 1.9l-1.9 1.9l-1.9-1.9zM484.5 435l1.9 1.9l-1.9 1.9l-1.9-1.9zM494.6 418.8l1.9 1.9l-1.9 1.9l-1.9-1.9zM504.6 408.3l1.9 1.9l-1.9 1.9l-1.9-1.9zM474.7 435l1.9 1.9l-1.9 1.9l-1.9-1.9zM484.5 434.2l1.9 1.9l-1.9 1.9l-1.9-1.9zM494.6 424.5l1.9 1.9l-1.9 1.9l-1.9-1.9zM504.6 409.9l1.9 1.9l-1.9 1.9l-1.9-1.9z" fill="#0a0a0a" stroke="#0a0a0a" stroke-width=".5" stroke-linejoin="round"/>
<path d="M474.7 430.5L484.5 423.2L494.6 398.1L504.6 378.6" fill="none" stroke="#111" stroke-width=".8" stroke-dasharray="1.3 .9"/>
<path d="M474.7 428.6l1.9 1.9l-1.9 1.9l-1.9-1.9zM484.5 421.3l1.9 1.9l-1.9 1.9l-1.9-1.9zM494.6 396.2l1.9 1.9l-1.9 1.9l-1.9-1.9zM504.6 376.7l1.9 1.9l-1.9 1.9l-1.9-1.9z" fill="#111" stroke="#111" stroke-width=".4" stroke-linejoin="round"/>
<line x1="464.1" y1="377.3" x2="464.1" y2="443.3" stroke="#111" stroke-width="1.5"/>
<line x1="463.4" y1="442.6" x2="513.6" y2="442.6" stroke="#111" stroke-width="1.6"/>
<circle cx="43.8" cy="483.2" r="26.1" fill="#fff" stroke="#0a0a0a" stroke-width="2.4"/>
<path d="M43.8 483.2L43.8 457.1A26.1 26.1 0 1 0 50 508.6Z" fill="#0a0a0a" stroke="#0a0a0a" stroke-width="2" stroke-linejoin="round"/>
<circle cx="43.8" cy="483.2" r="8.8" fill="#fff" stroke="#0a0a0a" stroke-width="2.4"/>
<text x="44.1" y="486.2" font-size="8.5" text-anchor="middle" font-weight="bold" fill="#111">13</text>
<text x="26.1" y="490.8" font-size="8.4" text-anchor="middle" font-weight="bold" fill="#fff">53.8</text>
<text x="61.3" y="483" font-size="8.4" text-anchor="middle" font-weight="bold" fill="#111">46.2</text>
<circle cx="108.8" cy="483.2" r="26.4" fill="#fff" stroke="#0a0a0a" stroke-width="2.4"/>
<path d="M108.8 483.2L108.8 456.8A26.4 26.4 0 1 0 117.9 508Z" fill="#0a0a0a" stroke="#0a0a0a" stroke-width="2" stroke-linejoin="round"/>
<circle cx="108.8" cy="483.2" r="8.8" fill="#fff" stroke="#0a0a0a" stroke-width="2.4"/>
<text x="109.1" y="486.2" font-size="8.5" text-anchor="middle" font-weight="bold" fill="#111">9</text>
<text x="96.8" y="472.4" font-size="8.4" text-anchor="middle" font-weight="bold" fill="#fff">55.6</text>
<text x="123.3" y="496.7" font-size="8.4" text-anchor="middle" font-weight="bold" fill="#111">44.4</text>
<circle cx="176.2" cy="483.2" r="26" fill="#fff" stroke="#0a0a0a" stroke-width="2.4"/>
<path d="M176.2 483.2L176.2 457.2A26 26 0 1 0 198.7 496.2Z" fill="#0a0a0a" stroke="#0a0a0a" stroke-width="2" stroke-linejoin="round"/>
<circle cx="176.2" cy="483.2" r="8.8" fill="#fff" stroke="#0a0a0a" stroke-width="2.4"/>
<text x="176.5" y="486.2" font-size="8.5" text-anchor="middle" font-weight="bold" fill="#111">27</text>
<text x="159.5" y="496.2" font-size="8.4" text-anchor="middle" font-weight="bold" fill="#fff">66.7</text>
<text x="190.8" y="476.7" font-size="8.4" text-anchor="middle" font-weight="bold" fill="#111">33.3</text>
<circle cx="237.5" cy="483.2" r="26.3" fill="#fff" stroke="#0a0a0a" stroke-width="2.4"/>
<path d="M237.5 483.2L237.5 456.9A26.3 26.3 0 1 0 261.3 494.4Z" fill="#0a0a0a" stroke="#0a0a0a" stroke-width="2" stroke-linejoin="round"/>
<circle cx="237.5" cy="483.2" r="8.8" fill="#fff" stroke="#0a0a0a" stroke-width="2.4"/>
<text x="237.8" y="486.2" font-size="8.5" text-anchor="middle" font-weight="bold" fill="#111">25</text>
<text x="222.5" y="496.2" font-size="8.4" text-anchor="middle" font-weight="bold" fill="#fff">68.0</text>
<text x="252.5" y="476.7" font-size="8.4" text-anchor="middle" font-weight="bold" fill="#111">32.0</text>
<circle cx="301.2" cy="483.2" r="25" fill="#fff" stroke="#0a0a0a" stroke-width="2.4"/>
<path d="M301.2 483.2L301.2 458.2A25 25 0 0 0 289.3 505.2Z" fill="#0a0a0a" stroke="#0a0a0a" stroke-width="2" stroke-linejoin="round"/>
<circle cx="301.2" cy="483.2" r="8.8" fill="#fff" stroke="#0a0a0a" stroke-width="2.4"/>
<text x="301.5" y="486.2" font-size="8.5" text-anchor="middle" font-weight="bold" fill="#111">19</text>
<text x="284.2" y="481.7" font-size="8.4" text-anchor="middle" font-weight="bold" fill="#fff">42.1</text>
<text x="318.7" y="488.2" font-size="8.4" text-anchor="middle" font-weight="bold" fill="#111">57.9</text>
<circle cx="363.2" cy="482.9" r="26.9" fill="#fff" stroke="#0a0a0a" stroke-width="2.4"/>
<path d="M363.2 482.9L363.2 456A26.9 26.9 0 1 0 372.5 508.2Z" fill="#0a0a0a" stroke="#0a0a0a" stroke-width="2" stroke-linejoin="round"/>
<circle cx="363.2" cy="482.9" r="8.8" fill="#fff" stroke="#0a0a0a" stroke-width="2.4"/>
<text x="363.5" y="485.9" font-size="8.5" text-anchor="middle" font-weight="bold" fill="#111">9</text>
<text x="350.4" y="472.5" font-size="8.4" text-anchor="middle" font-weight="bold" fill="#fff">55.6</text>
<text x="378.2" y="496.4" font-size="8.4" text-anchor="middle" font-weight="bold" fill="#111">44.4</text>
<circle cx="427.5" cy="482.6" r="25.4" fill="#fff" stroke="#0a0a0a" stroke-width="2.4"/>
<path d="M427.5 482.6L427.5 457.2A25.4 25.4 0 1 0 451.3 491.4Z" fill="#0a0a0a" stroke="#0a0a0a" stroke-width="2" stroke-linejoin="round"/>
<circle cx="427.5" cy="482.6" r="8.8" fill="#fff" stroke="#0a0a0a" stroke-width="2.4"/>
<text x="427.8" y="485.6" font-size="8.5" text-anchor="middle" font-weight="bold" fill="#111">36</text>
<text x="412.5" y="496.1" font-size="8.4" text-anchor="middle" font-weight="bold" fill="#fff">69.4</text>
<text x="441.3" y="475.6" font-size="8.4" text-anchor="middle" font-weight="bold" fill="#111">30.6</text>
<circle cx="488.3" cy="483.2" r="26.4" fill="#fff" stroke="#0a0a0a" stroke-width="2.4"/>
<path d="M488.3 483.2L488.3 456.8A26.4 26.4 0 0 0 485.5 509.4Z" fill="#0a0a0a" stroke="#0a0a0a" stroke-width="2" stroke-linejoin="round"/>
<circle cx="488.3" cy="483.2" r="8.8" fill="#fff" stroke="#0a0a0a" stroke-width="2.4"/>
<text x="488.6" y="486.2" font-size="8.5" text-anchor="middle" font-weight="bold" fill="#111">29</text>
<text x="474.1" y="473.2" font-size="8.4" text-anchor="middle" font-weight="bold" fill="#fff">48.3</text>
<text x="501.1" y="499.7" font-size="8.4" text-anchor="middle" font-weight="bold" fill="#111">51.7</text>
<rect x="164" y="519" width="8.8" height="9" fill="#1a1a1a" stroke="#1a1a1a" stroke-width="0.5"/>
<text x="177.6" y="527.5" font-size="10" text-anchor="start" font-weight="bold" fill="#111">HEp-2 reactive (%)</text>
<rect x="277.6" y="519.4" width="8.4" height="8.6" fill="#fff" stroke="#111" stroke-width="1.5"/>
<text x="291.4" y="527.5" font-size="10" text-anchor="start" font-weight="bold" fill="#111">Non HEp-2 reactive (%)</text>
<text x="6.1" y="558.4" font-size="15.4" text-anchor="middle" font-weight="bold" fill="#111">C</text>
<rect x="59.2" y="547.6" width="6.2" height="6.6" fill="#fff" stroke="#111" stroke-width="1.7"/>
<text x="68.2" y="555.1" font-size="9.4" font-weight="bold" fill="#111">CD21<tspan dy="-3" font-size="6.5">+</tspan></text>
<rect x="58.5" y="559" width="7.4" height="7.3" fill="#111" stroke="#111" stroke-width="0.4"/>
<text x="68.2" y="565.8" font-size="9.4" font-weight="bold" fill="#111">CD21<tspan dy="-3" font-size="6.8">-/lo</tspan></text>
<line x1="50.7" y1="688.4" x2="52.7" y2="688.4" stroke="#111" stroke-width="0.8"/>
<text x="49.9" y="690.2" font-size="5.2" text-anchor="end" font-weight="bold" fill="#111">0</text>
<line x1="50.7" y1="669.9" x2="52.7" y2="669.9" stroke="#111" stroke-width="0.8"/>
<text x="49.9" y="671.7" font-size="5.2" text-anchor="end" font-weight="bold" fill="#111">5</text>
<line x1="50.7" y1="651.3" x2="52.7" y2="651.3" stroke="#111" stroke-width="0.8"/>
<text x="49.9" y="653.1" font-size="5.2" text-anchor="end" font-weight="bold" fill="#111">10</text>
<line x1="50.7" y1="632.8" x2="52.7" y2="632.8" stroke="#111" stroke-width="0.8"/>
<text x="49.9" y="634.6" font-size="5.2" text-anchor="end" font-weight="bold" fill="#111">15</text>
<line x1="50.7" y1="614.3" x2="52.7" y2="614.3" stroke="#111" stroke-width="0.8"/>
<text x="49.9" y="616.1" font-size="5.2" text-anchor="end" font-weight="bold" fill="#111">20</text>
<line x1="50.7" y1="595.8" x2="52.7" y2="595.8" stroke="#111" stroke-width="0.8"/>
<text x="49.9" y="597.5" font-size="5.2" text-anchor="end" font-weight="bold" fill="#111">25</text>
<line x1="50.7" y1="577.2" x2="52.7" y2="577.2" stroke="#111" stroke-width="0.8"/>
<text x="49.9" y="579" font-size="5.2" text-anchor="end" font-weight="bold" fill="#111">30</text>
<line x1="50.7" y1="558.7" x2="52.7" y2="558.7" stroke="#111" stroke-width="0.8"/>
<text x="49.9" y="560.5" font-size="5.2" text-anchor="end" font-weight="bold" fill="#111">35</text>
<text x="31" y="623.6" font-size="8.6" text-anchor="middle" font-weight="bold" fill="#111" transform="rotate(-90 31 623.6)">% of highly HEp2-reactive</text>
<text x="40.5" y="626" font-size="8.6" text-anchor="middle" font-weight="bold" fill="#111" transform="rotate(-90 40.5 626)">B cell clones</text>
<rect x="63.7" y="680.9" width="12.6" height="7.5" fill="#fff" stroke="#0a0a0a" stroke-width="1.7"/>
<rect x="77" y="646.5" width="15.6" height="41.9" fill="#0a0a0a" stroke="#0a0a0a" stroke-width="0.3"/>
<rect x="126.7" y="606.9" width="15.3" height="81.5" fill="#0a0a0a" stroke="#0a0a0a" stroke-width="0.3"/>
<line x1="134.3" y1="606.9" x2="134.3" y2="580.2" stroke="#111" stroke-width="1.7"/>
<line x1="131.7" y1="580.8" x2="137" y2="580.8" stroke="#111" stroke-width="1.9"/>
<rect x="162.2" y="641.3" width="13.1" height="47.1" fill="#fff" stroke="#0a0a0a" stroke-width="1.7"/>
<line x1="168.8" y1="640.6" x2="168.8" y2="613.5" stroke="#111" stroke-width="1.7"/>
<line x1="166.1" y1="614.1" x2="171.4" y2="614.1" stroke="#111" stroke-width="1.9"/>
<rect x="176" y="631.3" width="15.3" height="57.1" fill="#0a0a0a" stroke="#0a0a0a" stroke-width="0.3"/>
<line x1="183.7" y1="631.3" x2="183.7" y2="591.3" stroke="#111" stroke-width="1.7"/>
<line x1="181" y1="591.9" x2="186.3" y2="591.9" stroke="#111" stroke-width="1.9"/>
<line x1="52.7" y1="558" x2="52.7" y2="689.2" stroke="#111" stroke-width="1.8"/>
<line x1="51.8" y1="688.4" x2="201.5" y2="688.4" stroke="#111" stroke-width="1.9"/>
<line x1="52.7" y1="688.4" x2="52.7" y2="691" stroke="#111" stroke-width="1.2"/>
<line x1="102.5" y1="688.4" x2="102.5" y2="691" stroke="#111" stroke-width="1.2"/>
<line x1="152" y1="688.4" x2="152" y2="691" stroke="#111" stroke-width="1.2"/>
<line x1="201" y1="688.4" x2="201" y2="691" stroke="#111" stroke-width="1.2"/>
<text x="76.3" y="701.8" font-size="9.7" text-anchor="middle" font-weight="bold" fill="#111">HD</text>
<text x="124.6" y="701.8" font-size="9.7" text-anchor="middle" font-weight="bold" fill="#111">RA</text>
<text x="176.3" y="701.8" font-size="9.9" text-anchor="middle" font-weight="bold" fill="#111">CVID</text>
<text x="176.3" y="714" font-size="9.9" text-anchor="middle" font-weight="bold" fill="#111">group Ia</text>
<text x="126.3" y="570" font-size="7.4" text-anchor="middle" font-weight="bold" fill="#111">P=0.035</text>
<path d="M117.8 575.4v-2.6h17v2.6" fill="none" stroke="#111" stroke-width="1.4"/>
<text x="245.5" y="558.2" font-size="15.5" text-anchor="middle" font-weight="bold" fill="#111">D</text>
<line x1="267.6" y1="687.4" x2="269.6" y2="687.4" stroke="#111" stroke-width="0.8"/>
<text x="266.8" y="689.2" font-size="5.2" text-anchor="end" font-weight="bold" fill="#111">0</text>
<line x1="267.6" y1="659" x2="269.6" y2="659" stroke="#111" stroke-width="0.8"/>
<text x="266.8" y="660.8" font-size="5.2" text-anchor="end" font-weight="bold" fill="#111">10</text>
<line x1="267.6" y1="630.6" x2="269.6" y2="630.6" stroke="#111" stroke-width="0.8"/>
<text x="266.8" y="632.4" font-size="5.2" text-anchor="end" font-weight="bold" fill="#111">20</text>
<line x1="267.6" y1="602.1" x2="269.6" y2="602.1" stroke="#111" stroke-width="0.8"/>
<text x="266.8" y="603.9" font-size="5.2" text-anchor="end" font-weight="bold" fill="#111">30</text>
<line x1="267.6" y1="573.7" x2="269.6" y2="573.7" stroke="#111" stroke-width="0.8"/>
<text x="266.8" y="575.5" font-size="5.2" text-anchor="end" font-weight="bold" fill="#111">40</text>
<text x="247.4" y="625.5" font-size="8.7" text-anchor="middle" font-weight="bold" fill="#111" transform="rotate(-90 247.4 625.5)">% of highly HEp2-reactive</text>
<text x="256.8" y="629.3" font-size="8.9" text-anchor="middle" font-weight="bold" fill="#111" transform="rotate(-90 256.8 629.3)">CD21<tspan dy="-3" font-size="6">-/lo</tspan><tspan dy="3"> B cell clones</tspan></text>
<rect x="306.7" y="631.4" width="13" height="56" fill="#151515" stroke="#151515" stroke-width="0.3"/>
<rect x="334" y="577.7" width="12" height="109.7" fill="#151515" stroke="#151515" stroke-width="0.3"/>
<rect x="346.4" y="640.6" width="10.5" height="46.8" fill="#fff" stroke="#0a0a0a" stroke-width="1.7"/>
<rect x="362" y="618.6" width="12.5" height="68.8" fill="#151515" stroke="#151515" stroke-width="0.3"/>
<rect x="388.5" y="634.8" width="12.5" height="52.6" fill="#151515" stroke="#151515" stroke-width="0.3"/>
<rect x="401.2" y="652.3" width="10.1" height="35.1" fill="#fff" stroke="#0a0a0a" stroke-width="1.7"/>
<rect x="426.3" y="656.8" width="10.8" height="30.6" fill="#fff" stroke="#0a0a0a" stroke-width="1.7"/>
<rect x="442" y="595.3" width="12.4" height="92.1" fill="#151515" stroke="#151515" stroke-width="0.3"/>
<rect x="454.7" y="636.1" width="10.4" height="51.3" fill="#fff" stroke="#0a0a0a" stroke-width="1.7"/>
<rect x="470" y="666.7" width="12.6" height="20.7" fill="#151515" stroke="#151515" stroke-width="0.3"/>
<line x1="269.6" y1="572.5" x2="269.6" y2="688.2" stroke="#111" stroke-width="1.8"/>
<line x1="268.7" y1="687.4" x2="494" y2="687.4" stroke="#111" stroke-width="1.9"/>
<line x1="280.8" y1="700.3" x2="303.6" y2="700.3" stroke="#111" stroke-width="2"/>
<text x="286.8" y="697" font-size="11" font-weight="bold" text-anchor="middle" font-family="'Liberation Serif', 'DejaVu Serif', serif" fill="#111">κ</text>
<text x="298.4" y="697" font-size="11" font-weight="bold" text-anchor="middle" font-family="'Liberation Serif', 'DejaVu Serif', serif" fill="#111">λ</text>
<text x="296.3" y="708.5" font-size="8.1" text-anchor="end" font-weight="bold" fill="#111" transform="rotate(-35 296.3 708.5)">HD10</text>
<line x1="307.5" y1="700.3" x2="330.3" y2="700.3" stroke="#111" stroke-width="2"/>
<text x="313.5" y="697" font-size="11" font-weight="bold" text-anchor="middle" font-family="'Liberation Serif', 'DejaVu Serif', serif" fill="#111">κ</text>
<text x="325.1" y="697" font-size="11" font-weight="bold" text-anchor="middle" font-family="'Liberation Serif', 'DejaVu Serif', serif" fill="#111">λ</text>
<text x="323" y="708.5" font-size="8.1" text-anchor="end" font-weight="bold" fill="#111" transform="rotate(-35 323 708.5)">HD11</text>
<line x1="334.3" y1="700.3" x2="357.1" y2="700.3" stroke="#111" stroke-width="2"/>
<text x="340.3" y="697" font-size="11" font-weight="bold" text-anchor="middle" font-family="'Liberation Serif', 'DejaVu Serif', serif" fill="#111">κ</text>
<text x="351.9" y="697" font-size="11" font-weight="bold" text-anchor="middle" font-family="'Liberation Serif', 'DejaVu Serif', serif" fill="#111">λ</text>
<text x="349.8" y="708.5" font-size="8.1" text-anchor="end" font-weight="bold" fill="#111" transform="rotate(-35 349.8 708.5)">RA01</text>
<line x1="362" y1="700.3" x2="384.8" y2="700.3" stroke="#111" stroke-width="2"/>
<text x="368" y="697" font-size="11" font-weight="bold" text-anchor="middle" font-family="'Liberation Serif', 'DejaVu Serif', serif" fill="#111">κ</text>
<text x="379.6" y="697" font-size="11" font-weight="bold" text-anchor="middle" font-family="'Liberation Serif', 'DejaVu Serif', serif" fill="#111">λ</text>
<text x="377.5" y="708.5" font-size="8.1" text-anchor="end" font-weight="bold" fill="#111" transform="rotate(-35 377.5 708.5)">RA14</text>
<line x1="388.8" y1="700.3" x2="411.6" y2="700.3" stroke="#111" stroke-width="2"/>
<text x="394.8" y="697" font-size="11" font-weight="bold" text-anchor="middle" font-family="'Liberation Serif', 'DejaVu Serif', serif" fill="#111">κ</text>
<text x="406.4" y="697" font-size="11" font-weight="bold" text-anchor="middle" font-family="'Liberation Serif', 'DejaVu Serif', serif" fill="#111">λ</text>
<text x="404.3" y="708.5" font-size="8.1" text-anchor="end" font-weight="bold" fill="#111" transform="rotate(-35 404.3 708.5)">RA19</text>
<line x1="415.8" y1="700.3" x2="438.6" y2="700.3" stroke="#111" stroke-width="2"/>
<text x="421.8" y="697" font-size="11" font-weight="bold" text-anchor="middle" font-family="'Liberation Serif', 'DejaVu Serif', serif" fill="#111">κ</text>
<text x="433.4" y="697" font-size="11" font-weight="bold" text-anchor="middle" font-family="'Liberation Serif', 'DejaVu Serif', serif" fill="#111">λ</text>
<text x="431.3" y="708.5" font-size="8.1" text-anchor="end" font-weight="bold" fill="#111" transform="rotate(-35 431.3 708.5)">CVID19</text>
<line x1="443" y1="700.3" x2="465.8" y2="700.3" stroke="#111" stroke-width="2"/>
<text x="449" y="697" font-size="11" font-weight="bold" text-anchor="middle" font-family="'Liberation Serif', 'DejaVu Serif', serif" fill="#111">κ</text>
<text x="460.6" y="697" font-size="11" font-weight="bold" text-anchor="middle" font-family="'Liberation Serif', 'DejaVu Serif', serif" fill="#111">λ</text>
<text x="458.5" y="708.5" font-size="8.1" text-anchor="end" font-weight="bold" fill="#111" transform="rotate(-35 458.5 708.5)">CVID321</text>
<line x1="470" y1="700.3" x2="492.8" y2="700.3" stroke="#111" stroke-width="2"/>
<text x="476" y="697" font-size="11" font-weight="bold" text-anchor="middle" font-family="'Liberation Serif', 'DejaVu Serif', serif" fill="#111">κ</text>
<text x="487.6" y="697" font-size="11" font-weight="bold" text-anchor="middle" font-family="'Liberation Serif', 'DejaVu Serif', serif" fill="#111">λ</text>
<text x="485.5" y="708.5" font-size="8.1" text-anchor="end" font-weight="bold" fill="#111" transform="rotate(-35 485.5 708.5)">CVID332</text>
</svg>
</body></html>
